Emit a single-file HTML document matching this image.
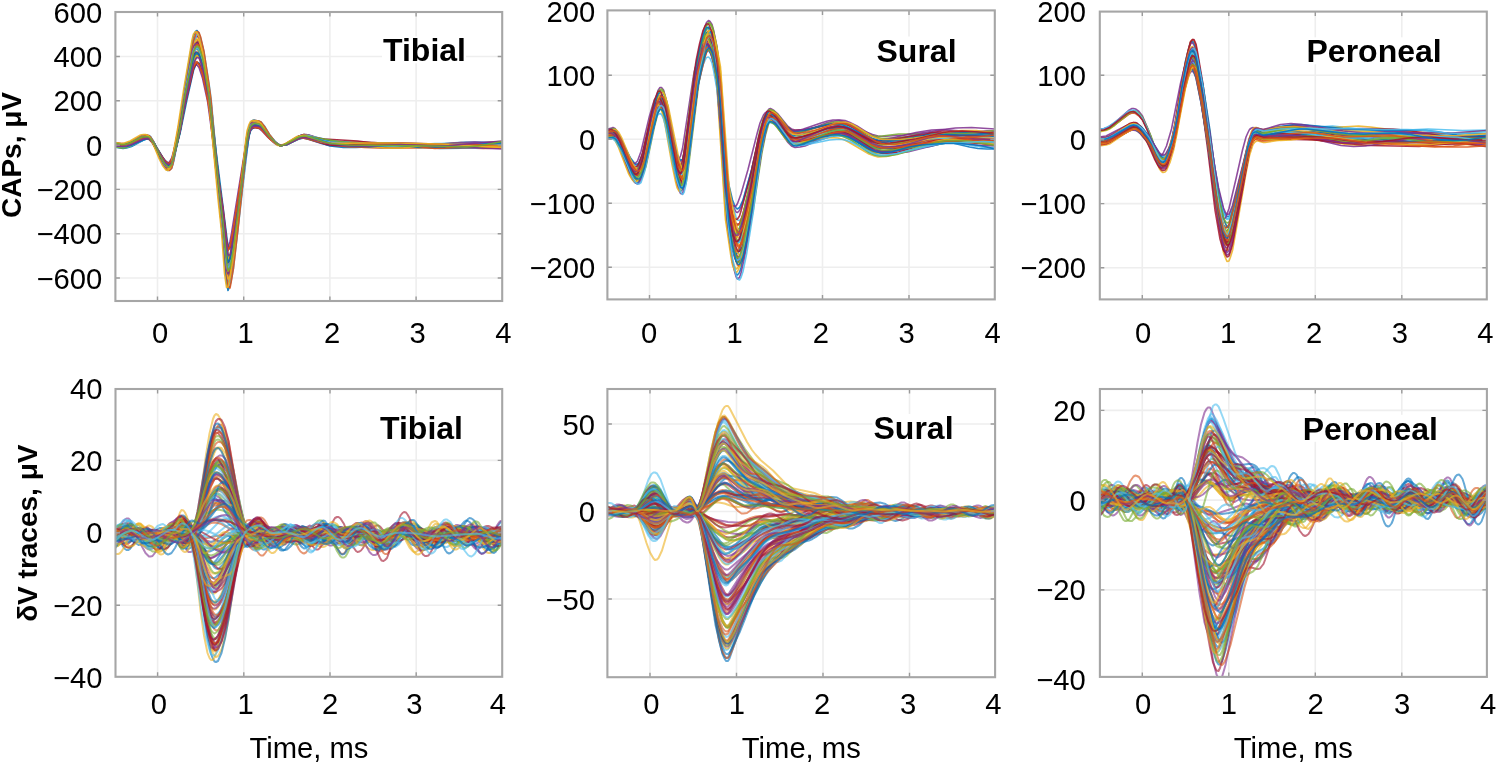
<!DOCTYPE html>
<html><head><meta charset="utf-8"><title>CAPs and dV traces</title>
<style>
html,body{margin:0;padding:0;background:#fff;}
svg{display:block;}
text{font-family:"Liberation Sans",Arial,Helvetica,sans-serif;font-size:29.2px;fill:#000;}
text.t{font-weight:bold;font-size:32px;}
text.yl{font-weight:bold;font-size:28px;}
text.xl{font-size:29.2px;}
</style></head><body>
<svg width="1496" height="762" viewBox="0 0 1496 762">
<rect width="1496" height="762" fill="#fff"/>
<path d="M157.5 12.0V301.0M243.7 12.0V301.0M329.9 12.0V301.0M416.1 12.0V301.0M115.4 56.5H502.2M115.4 100.8H502.2M115.4 145.1H502.2M115.4 189.4H502.2M115.4 233.7H502.2M115.4 278.0H502.2" stroke="#eeeeee" stroke-width="1.6" fill="none"/>
<clipPath id="c1"><rect x="115.4" y="12.0" width="386.8" height="289.0"/></clipPath>
<g clip-path="url(#c1)" fill="none" stroke-width="3.20" stroke-opacity="0.90" stroke-linejoin="round"><g transform="scale(0.5)">
<path stroke="#0072BD" d="M229 289l14 2 10 0 7-3 24-12 7-2 3 0 4 1 3 2 7 10 21 41 7 7 3 0 4-4 3-11 7-31 7-34 10-65 17-90 4-10 3-3 4 3 3 8 4 13 13 76 21 204 7 57 7 77 3 23 4-5 7-40 27-221 4-20 3-10 4-4 3-2 10 1 4 2 17 24 14 14 7 4 3 0 7-2 24-13 7-2 7-1 10 2 14 6 24 8 21 2 35 0 79-4 21 1 44 7 24 2 90-1 35-2"/>
<path stroke="#D95319" d="M229 289l14 3 6-1 11-4 24-12 7-1 3 0 4 2 7 9 17 35 7 11 3 3 4 1 3-2 4-8 3-13 10-51 14-84 14-72 3-12 4-6 3 0 4 7 7 26 10 59 3 26 31 307 4 30 3 5 4-12 3-22 31-244 4-14 3-6 4-3 3 0 10 2 7 8 11 15 10 11 7 6 7 3 10-2 24-14 11-3 10 2 28 11 17 4 69 6 27 1 69 0 76-1 66 2 38-1"/>
<path stroke="#EDB120" d="M229 286l14 2 6 0 11-3 24-12 7-2 3 1 4 1 7 9 17 35 7 12 3 4 4 3 3 0 4-6 3-12 7-32 7-35 10-67 14-75 3-14 4-9 3-3 4 5 3 9 4 14 13 80 18 175 10 92 7 78 3 17 4-8 7-43 27-225 4-18 3-8 4-5 3-1 4 1 6 1 4 2 17 24 14 14 7 4 3 0 7-2 28-15 10-2 7 1 31 11 14 3 72 0 107 8 86-2 80 3"/>
<path stroke="#7E2F8E" d="M229 288l14 2 6 0 11-3 21-8 6-2 7 0 4 2 7 7 17 27 7 9 3 3 4 1 3-2 4-7 3-10 10-40 14-66 14-57 3-10 4-4 3 0 4 5 7 21 10 46 3 21 35 265 3 5 4-10 3-16 31-193 4-11 3-5 4-2 3-1 10 2 7 6 11 12 10 9 7 5 7 2 10-2 24-11 11-2 10 2 28 9 17 4 62-1 62 3 52 0 93-4 76 3"/>
<path stroke="#77AC30" d="M229 291l14 2 6 0 11-4 27-12 7-1 4 1 3 3 7 10 14 26 7 11 3 4 4 2 3-1 4-6 3-12 7-30 7-34 10-61 14-70 3-13 4-7 3-1 4 4 7 23 7 35 6 42 18 163 10 87 7 70 3 13 4-9 7-42 27-209 4-15 3-7 4-4 3-1 7 1 3 1 4 3 17 22 14 13 7 3 10-2 28-15 10-2 7 1 17 5 24 5 59 3 52 8 20 1 45-1 90-6 83 2"/>
<path stroke="#4DBEEE" d="M229 291l14 3 6-1 11-3 27-13 7-1 4 1 3 3 7 10 14 27 7 11 3 4 4 2 3-1 4-7 3-12 7-31 7-34 10-63 14-71 3-13 4-7 3-1 4 5 7 23 7 36 6 43 18 167 10 88 7 71 3 13 4-10 7-43 27-213 4-15 3-7 4-4 3-1 7 1 3 1 4 3 17 23 14 13 7 3 10-2 28-15 10-2 7 2 41 13 14 2 21 2 48 1 83-2 127 6 25-1 31-3"/>
<path stroke="#A2142F" d="M229 285l14 2 6 0 11-3 24-13 7-1 3 0 4 2 7 9 17 37 7 13 3 5 4 2 3 0 4-6 3-12 7-34 7-37 10-70 14-80 3-15 4-10 3-2 4 4 3 10 4 14 13 84 18 185 10 96 7 84 3 19 4-8 7-45 27-238 4-19 3-9 4-5 3-1 4 0 6 1 4 3 17 25 14 15 7 4 3 0 7-2 28-17 10-3 7 1 34 10 14 2 21 2 65 1 76 6 76 1 76-2 28 1"/>
<path stroke="#0072BD" d="M229 294l17 3 7-1 10-3 28-15 7-1 3 2 7 8 17 33 7 11 4 3 3 2 4-4 3-8 3-14 11-50 10-65 17-92 4-11 3-6 4 1 3 7 7 28 10 58 4 28 17 174 7 59 7 74 3 29 4 3 3-14 4-21 10-79 17-144 4-22 3-12 4-6 3-3 4 0 6 1 4 2 7 7 10 15 10 12 7 6 7 2 11-3 24-13 10-3 10 2 38 15 24 3 42 0 72-2 52 0 59-2 100 3"/>
<path stroke="#D95319" d="M229 287l14 3 6-1 11-4 21-11 6-2 7 0 4 3 7 10 17 36 7 11 3 4 4 1 3-3 4-8 3-14 10-53 11-66 17-96 3-12 4-7 3 1 4 7 7 28 10 61 31 305 3 41 4 31 3 5 4-13 3-22 11-81 17-150 3-23 4-14 3-7 4-2 3-1 10 3 7 8 11 15 10 12 7 6 7 3 10-3 24-14 11-3 10 2 34 12 18 3 62-3 65 6 97 1 27-1 62-7 25-1"/>
<path stroke="#EDB120" d="M229 291l14 3 6-1 11-3 24-11 10-2 4 1 7 8 17 30 7 10 3 3 4 2 3-2 4-6 3-11 10-45 14-75 14-65 3-11 4-7 3 0 4 5 7 22 7 33 6 41 35 301 3 10 4-10 7-40 27-197 4-13 3-7 4-3 3 0 10 2 4 2 14 17 10 11 7 5 7 3 10-2 24-12 11-2 10 1 31 10 14 2 69-1 110 6 41 1 35-1 59-3 31-1"/>
<path stroke="#7E2F8E" d="M229 287l17 3 7-1 10-4 21-10 7-2 7 0 3 2 7 10 17 35 7 11 4 4 3 1 4-3 3-8 3-13 11-51 14-85 13-73 4-13 3-6 4 1 3 6 7 27 10 59 4 27 31 310 3 31 4 5 3-12 4-22 31-247 3-14 4-6 3-3 4-1 10 3 7 7 10 16 10 11 7 6 7 3 11-2 27-16 11-2 6 2 14 4 21 6 21 2 55 0 165 4 111-2"/>
<path stroke="#77AC30" d="M229 287l14 3 6-1 11-3 21-10 6-2 7 0 4 2 7 8 17 34 7 10 3 4 4 1 3-2 4-7 3-12 10-48 14-79 14-70 3-12 4-7 3 0 4 6 7 24 10 55 3 25 35 322 3 8 4-11 3-19 31-234 4-14 3-7 4-3 3 0 10 2 7 7 11 14 10 11 7 6 7 3 10-2 24-13 11-3 10 1 14 5 17 4 14 2 62 0 62 1 28 2 48 5 20 1 125-3"/>
<path stroke="#4DBEEE" d="M229 293l17 2 7 0 10-4 24-11 7-2 4 0 3 1 7 8 17 30 7 10 4 2 3 2 4-3 3-8 3-11 11-46 10-57 17-82 4-11 3-5 4 1 3 6 7 24 10 53 31 262 4 36 3 26 4 4 3-12 4-20 10-69 17-129 4-20 3-11 4-6 3-2 4 0 10 2 7 7 10 13 10 10 7 6 7 2 11-2 24-12 10-2 7 1 28 8 17 3 138 0 76 2 79-3 21 1 31 3"/>
<path stroke="#A2142F" d="M229 289l14 2 6 0 11-4 24-12 7-1 3 0 4 1 7 9 17 34 7 12 3 4 4 2 3-1 4-7 3-12 7-33 7-36 10-66 14-74 3-13 4-8 3-1 4 5 7 25 7 36 6 45 18 175 10 92 7 75 3 13 4-10 7-44 27-223 4-16 3-8 4-4 3-1 7 1 3 1 4 3 17 24 14 14 7 3 7-1 7-3 24-14 10-2 7 2 38 13 17 3 86 0 66 2 65-3 25-1 24 2 48 6 21 1"/>
<path stroke="#0072BD" d="M229 287l14 3 6 0 11-4 24-14 7-1 3 0 4 2 7 9 17 39 7 13 3 4 4 3 3-1 4-7 3-14 7-36 7-40 10-73 14-83 3-15 4-9 3-2 4 6 7 27 7 41 6 49 18 194 10 103 7 84 3 16 4-10 7-50 27-248 4-19 3-8 4-5 3-1 7 2 3 1 4 2 17 27 14 15 7 4 3 0 7-2 28-17 10-3 7 1 34 12 14 4 24 3 76 6 38 0 79-3 73 1 52-3"/>
<path stroke="#D95319" d="M229 289l14 2 6 0 11-3 24-10 10-1 4 1 7 7 17 28 7 10 3 3 4 1 3-1 4-6 3-9 7-27 7-29 10-54 14-60 3-11 4-6 3-1 4 4 7 21 7 30 6 37 18 142 10 75 7 60 3 10 4-8 7-37 27-181 4-13 3-6 4-3 3 0 7 1 3 0 4 3 17 19 14 11 7 3 10-2 21-10 7-2 7-1 10 2 28 8 17 3 62-1 103 5 90-3 24 2 45 4 21 0"/>
<path stroke="#EDB120" d="M229 289l17 2 7 0 10-4 24-10 7-2 4 1 3 2 7 8 17 31 7 9 4 3 3 1 4-2 3-8 3-11 11-46 10-57 17-82 4-10 3-5 4 1 3 6 7 24 10 52 31 261 4 36 3 26 4 4 3-12 4-19 10-70 17-128 4-20 3-11 4-6 3-2 4 0 10 2 7 7 10 13 10 10 7 6 7 2 11-2 27-14 11-2 44 9 56 3 75 6 45 0 111-4 62-1"/>
<path stroke="#7E2F8E" d="M229 286l17 3 7 0 10-5 21-11 7-2 7 1 3 2 7 11 17 38 7 12 4 3 3 1 4-3 3-10 3-15 11-55 10-70 17-99 4-12 3-6 4 2 3 8 7 30 10 64 21 219 7 63 7 81 3 30 4 2 3-16 11-80 20-185 4-23 3-13 4-6 3-3 10 1 4 2 7 9 10 16 10 12 7 7 4 2 3 0 11-3 27-17 11-2 6 1 28 9 14 3 31 4 48 4 55 0 62 3 38 1 28-1 55-5 28-1"/>
<path stroke="#77AC30" d="M229 293l14 3 6 0 11-4 27-14 7-2 4 2 3 2 7 10 14 28 7 11 3 4 4 2 3-1 4-6 3-12 7-32 7-36 10-65 14-73 3-14 4-8 3-1 4 5 7 24 7 36 6 45 18 172 10 91 7 75 3 14 4-10 7-44 27-221 4-16 3-7 4-4 3-1 7 1 3 1 4 2 17 24 14 14 7 3 10-2 28-15 10-2 7 2 17 5 21 6 27 3 76 2 83-1 100 5 66-1"/>
<path stroke="#4DBEEE" d="M229 286l17 3 7-1 10-4 21-11 7-2 7 0 3 2 7 11 17 38 7 12 4 4 3 1 4-2 3-8 3-14 11-55 14-91 13-80 4-13 3-7 4 0 3 6 7 29 10 63 4 28 34 368 4 8 3-13 4-22 31-267 3-16 4-7 3-4 4 0 10 2 7 8 10 17 10 12 7 7 7 3 11-2 27-17 11-2 6 1 35 12 14 3 110 7 41 0 83-7 31-2 31 0 42 2"/>
<path stroke="#A2142F" d="M229 288l14 2 10-1 7-2 24-12 7-2 7 1 3 3 7 10 21 40 7 7 3 1 4-4 3-10 7-30 7-34 10-64 17-89 4-11 3-4 4 2 3 8 4 13 13 74 21 201 7 57 7 75 3 24 4-1 3-16 4-23 27-219 4-20 3-10 4-5 3-2 10 1 4 2 3 3 14 19 10 11 7 6 7 2 11-3 24-14 10-3 7 1 17 4 24 5 80 10 27 3 52-1 107-8 83 1"/>
<path stroke="#0072BD" d="M229 291l17 2 7 0 10-3 24-10 7-2 4 0 3 2 7 6 17 28 7 9 4 3 3 1 4-2 3-7 3-10 11-41 14-68 13-58 4-10 3-5 4 0 3 5 7 22 10 47 4 21 34 272 4 5 3-10 4-17 31-198 3-11 4-5 3-2 4-1 10 2 7 6 10 13 10 9 7 5 7 2 11-2 24-11 10-2 10 2 42 14 27 3 25 0 86-4 96 3 69-2 42 0"/>
<path stroke="#D95319" d="M229 286l17 3 7-1 10-4 21-11 7-2 7 0 3 3 7 11 17 39 7 12 4 3 3 2 4-4 3-10 3-15 11-56 10-72 17-102 4-13 3-6 4 2 3 8 7 30 10 66 4 30 17 194 7 66 7 83 3 31 4 3 3-16 4-24 10-87 17-161 4-24 3-13 4-7 3-3 4 0 6 1 4 2 7 9 10 16 10 13 7 7 4 1 3 1 11-3 24-15 10-4 10 2 35 12 14 3 27 3 69 5 31 1 31-1 80-7 27-1 31 0 42 5"/>
<path stroke="#EDB120" d="M229 289l14 3 10-1 10-4 21-11 7-2 3-1 4 1 3 3 7 10 21 42 7 8 3 0 4-5 3-10 7-32 7-36 10-68 17-93 4-11 3-4 4 3 3 9 4 13 13 79 21 212 7 60 7 80 3 24 4-4 3-17 4-24 27-231 4-21 3-10 4-5 3-2 10 2 4 2 17 24 14 15 7 4 3 0 7-2 28-15 10-3 7 1 17 6 24 6 56 5 31 1 117 1 65 0 59 3 21 1"/>
<path stroke="#7E2F8E" d="M229 290l14 2 6 0 11-4 24-12 7-2 3 0 4 2 7 9 17 34 7 11 3 4 4 1 3-2 4-7 3-13 10-50 14-84 14-73 3-13 4-6 3 0 4 6 7 25 10 58 3 26 35 338 3 8 4-11 3-21 31-245 4-15 3-7 4-3 3 0 10 2 7 7 11 16 10 11 7 6 7 3 10-2 21-12 7-3 10-2 24 7 21 4 86 6 28 1 55 0 183 8"/>
<path stroke="#77AC30" d="M229 290l17 2 7-1 10-3 24-11 7-1 4 0 3 2 7 8 17 30 7 10 4 3 3 1 4-3 3-8 3-11 11-44 10-56 17-81 4-10 3-5 4 1 3 6 7 24 10 51 4 24 17 152 7 52 7 64 3 25 4 3 3-12 4-19 10-68 17-125 4-20 3-11 4-5 3-2 10 1 4 1 7 7 10 13 10 9 7 6 7 2 11-2 24-12 10-1 7 1 21 6 24 6 48 3 31 0 55-4 28-1 55 1 76 4 24-1 28-2"/>
<path stroke="#4DBEEE" d="M229 290l14 2 6 0 11-4 24-12 7-1 3 0 4 1 7 8 17 33 7 12 3 3 4 2 3-1 4-7 3-12 7-31 7-35 10-64 14-71 3-13 4-7 3-1 4 5 7 24 7 36 6 44 18 168 10 90 7 72 3 11 4-10 7-43 27-215 4-16 3-7 4-3 3-1 7 1 3 1 4 3 17 23 14 13 7 3 10-2 28-15 10-3 7 0 34 7 25 4 106 11 25 0 58-1 66 1 76-4"/>
<path stroke="#A2142F" d="M229 289l14 2 10-1 10-3 21-8 7-2 7 0 3 2 7 9 21 32 7 6 3 1 4-4 3-8 7-25 7-27 10-53 17-72 4-8 3-4 4 2 3 7 4 10 13 61 21 164 7 46 7 62 3 19 4-2 3-13 4-19 27-178 4-16 3-9 4-4 3-1 10 1 4 1 17 19 10 9 7 4 7 2 7-1 7-3 24-12 11-2 37 5 66 4 55 7 28 2 100 0 69-3 38 1"/>
<path stroke="#0072BD" d="M229 290l17 2 7 0 10-3 24-11 7-2 4 0 3 2 7 8 17 31 7 9 4 3 3 1 4-2 3-8 3-11 11-45 10-57 17-82 4-11 3-5 4 1 3 6 7 24 10 52 31 261 4 35 3 27 4 4 3-12 4-19 10-69 17-128 4-20 3-12 4-6 3-2 4 0 10 2 7 7 10 13 10 10 7 6 7 2 11-2 27-14 11-2 6 1 31 7 18 2 172 12 41 0 125-7"/>
<path stroke="#D95319" d="M229 288l14 3 10-1 10-4 21-10 7-2 7 0 3 3 7 9 17 35 7 10 4 3 3 1 4-4 3-9 3-14 11-50 10-64 17-89 4-11 3-5 4 2 3 7 7 28 10 58 21 200 7 58 7 74 3 26 4 0 3-14 11-73 20-169 4-20 3-12 4-5 3-2 10 1 4 1 3 4 14 19 10 11 7 6 7 2 11-3 24-13 10-2 10 2 42 14 20 3 21 2 31 0 42-6 17-1 17 1 41 7 21 2 21-1 65-7 21 0 28 1"/>
<path stroke="#EDB120" d="M229 286l14 2 6 0 11-3 24-10 10-1 4 1 3 3 7 9 14 26 7 11 7 6 3 0 4-5 6-22 11-45 10-58 11-50 6-28 4-9 3-2 4 3 3 8 4 12 13 67 18 152 10 79 7 69 3 18 4-6 7-37 27-196 4-16 3-8 4-4 3-1 4 0 6 2 4 1 17 21 14 12 7 4 10-2 24-11 7-3 7-1 7 1 17 5 24 4 114 12 35 0 62-7 27-1 21 0 55 5 35 2"/>
<path stroke="#7E2F8E" d="M229 290l14 2 10-1 7-2 27-13 7-1 4 1 3 2 7 9 21 39 7 7 3 0 4-4 3-9 7-30 7-32 10-63 17-85 4-10 3-4 4 3 3 7 4 12 13 73 21 193 7 55 7 73 3 23 4-3 3-15 4-22 27-211 4-19 3-10 4-5 3-2 10 1 4 2 3 4 14 18 10 11 7 5 7 2 11-3 24-13 10-2 10 2 14 5 28 9 27 2 69-1 90 1 103-7 56 2"/>
<path stroke="#77AC30" d="M229 288l14 3 10-1 10-3 21-10 7-2 7 1 3 2 7 9 21 37 7 7 3 0 4-4 3-9 7-28 7-31 10-59 17-82 4-10 3-3 4 2 3 8 4 11 13 69 21 185 7 53 7 70 3 21 4-2 3-15 4-21 27-202 4-18 3-10 4-4 3-2 10 1 4 2 17 21 10 10 7 5 7 2 11-3 27-14 11-2 65 11 69 7 28 2 169-2 62-3"/>
<path stroke="#4DBEEE" d="M229 289l14 2 10 0 7-3 24-11 7-2 3-1 4 1 3 3 7 9 21 39 7 7 3 0 4-4 3-10 7-30 7-32 10-63 17-85 4-9 3-4 4 3 3 8 4 13 13 72 21 194 7 55 7 73 3 21 4-4 7-38 27-211 4-19 3-9 4-4 3-2 10 1 4 2 17 23 14 13 7 4 3 0 7-1 28-15 10-3 7 1 21 6 24 5 100 8 31 0 79-5 93 0 42 1"/>
<path stroke="#A2142F" d="M229 288l14 2 6 0 11-4 21-9 6-2 7-1 4 2 7 8 17 32 7 10 3 4 4 1 3-1 4-6 3-11 7-29 7-33 10-60 14-67 3-12 4-7 3-1 4 5 7 22 7 34 6 40 18 159 10 83 7 68 3 11 4-9 7-40 27-202 4-14 3-7 4-4 3 0 7 1 3 1 4 2 17 21 14 13 7 3 10-2 24-12 11-3 10 2 38 13 14 2 17 0 65-4 56-1 103 3 97 3"/>
<path stroke="#0072BD" d="M229 287l14 2 6 0 11-3 24-11 7-1 3 0 4 1 7 8 17 31 7 11 3 4 4 2 3 0 4-6 3-10 7-29 7-31 10-60 14-67 3-13 4-8 3-2 4 4 7 21 13 71 18 157 10 82 7 70 3 15 4-7 7-39 27-201 4-16 3-7 4-4 3-1 4 0 6 2 4 2 17 21 14 13 7 3 10-2 28-14 10-3 10 2 45 13 21 3 21 2 41 0 79-3 76 2 104-5"/>
<path stroke="#D95319" d="M229 288l14 2 6 0 11-3 24-10 7-1 7 1 3 3 7 9 14 23 7 9 7 6 3-1 4-4 3-9 7-26 7-28 10-54 14-59 3-12 4-7 3-2 4 4 7 18 13 64 18 140 10 73 7 62 3 14 4-7 7-34 27-179 4-15 3-6 4-4 3-1 4 1 6 1 4 2 17 19 14 11 7 3 10-2 28-12 10-1 7 1 28 8 17 2 48 0 59 2 82 1 87-2 69 4"/>
<path stroke="#EDB120" d="M229 285l14 2 6-1 11-4 21-12 6-1 4 0 3 1 4 3 7 12 13 32 7 14 7 9 4 1 3-5 4-10 3-16 10-57 11-72 17-101 3-12 4-5 3 2 4 9 7 32 10 66 21 226 7 65 6 84 4 28 3-1 4-17 3-25 11-87 17-160 3-23 4-13 3-6 4-2 10 1 3 2 4 4 14 22 10 12 7 7 3 2 4 0 10-3 24-15 11-2 7 1 17 7 14 5 17 3 69-1 55 0 100 2 79 5 42-1"/>
<path stroke="#7E2F8E" d="M229 291l14 2 10-1 10-3 24-11 7-1 4 0 3 2 7 8 17 30 7 9 4 2 3 1 4-3 3-8 3-12 11-44 10-56 17-78 4-9 3-4 4 1 3 7 7 24 10 51 21 175 7 50 7 65 3 22 4 0 3-13 11-63 20-148 4-17 3-10 4-5 3-2 10 1 4 2 3 3 14 16 10 10 7 5 7 2 11-2 24-12 10-2 7 1 45 12 31 3 27 1 21 0 62-3 66 3 31-1 107-9"/>
<path stroke="#77AC30" d="M229 286l14 3 6 0 11-3 24-12 10-1 4 1 3 3 7 10 14 28 7 12 7 7 3 0 4-5 3-10 7-30 7-34 10-64 17-87 4-9 3-3 4 3 3 8 4 13 13 75 18 167 10 87 7 76 3 21 4-5 7-40 27-216 4-19 3-9 4-4 3-2 4 0 6 1 4 3 17 22 14 14 7 4 3 0 7-2 28-15 10-2 7 1 31 10 14 4 38 3 172 2 62 2 24-2 49-9"/>
</g></g>
<path d="M157.5 301.0v-4.5M157.5 12.0v4.5M243.7 301.0v-4.5M243.7 12.0v4.5M329.9 301.0v-4.5M329.9 12.0v4.5M416.1 301.0v-4.5M416.1 12.0v4.5M115.4 56.5h4.5M502.2 56.5h-4.5M115.4 100.8h4.5M502.2 100.8h-4.5M115.4 145.1h4.5M502.2 145.1h-4.5M115.4 189.4h4.5M502.2 189.4h-4.5M115.4 233.7h4.5M502.2 233.7h-4.5M115.4 278.0h4.5M502.2 278.0h-4.5" stroke="#9a9a9a" stroke-width="1.4" fill="none"/>
<rect x="115.4" y="12.0" width="386.8" height="289.0" fill="none" stroke="#a6a6a6" stroke-width="2.1"/>
<path d="M649.5 10.4V299.4M736.0 10.4V299.4M822.5 10.4V299.4M909.0 10.4V299.4M607.4 75.2H994.8M607.4 139.2H994.8M607.4 203.3H994.8M607.4 267.3H994.8" stroke="#eeeeee" stroke-width="1.6" fill="none"/>
<clipPath id="c2"><rect x="607.4" y="10.4" width="387.4" height="289.0"/></clipPath>
<g clip-path="url(#c2)" fill="none" stroke-width="3.20" stroke-opacity="0.85" stroke-linejoin="round"><g transform="scale(0.5)">
<path stroke="#0072BD" d="M1212 272l11-2 3 1 4 2 3 5 7 12 21 44 7 10 3 2 4 0 3-3 7-17 24-97 4-9 3-6 4-2 3 3 4 7 3 11 17 83 7 27 4 9 3 4 4-3 3-13 4-21 20-149 7-31 7-25 4-9 3-5 4-1 3 4 4 8 3 13 7 37 3 28 14 185 4 35 10 57 4 12 3 7 3 2 4-4 3-8 7-26 11-48 17-97 7-32 7-24 3-7 4-2 7 2 7 6 27 35 7 5 7 1 10-1 11-3 14-5 34-17 11-3 10-1 10 1 11 5 34 22 11 6 10 3 7 1 42 1 31-1 21-3 38-9 17-2 17 0 38 3 21 0"/>
<path stroke="#D95319" d="M1212 268l11-2 3 2 4 3 10 17 21 45 7 8 3 2 4 0 3-5 7-19 17-74 7-25 4-9 3-5 4-1 3 3 7 21 21 97 3 12 4 8 3 2 4-5 3-16 21-152 3-19 7-30 7-24 4-8 3-4 4 0 3 6 4 9 6 31 4 21 3 32 14 185 4 30 7 39 3 14 4 10 3 6 3 0 4-5 3-9 7-26 11-47 17-93 7-30 7-22 3-6 4-2 3 1 7 4 28 32 7 5 3 1 17-3 45-13 18-2 14-1 10 2 10 3 14 5 31 16 11 4 7 1 17 0 14-1 59-10 41-3 31 0 66 4"/>
<path stroke="#EDB120" d="M1212 271l7-1 4 0 3 3 4 4 7 14 17 46 7 15 7 9 3 2 4-2 3-7 7-25 17-86 7-28 4-8 3-5 4 2 3 7 7 28 14 82 7 35 3 13 4 8 3 0 4-11 3-22 21-183 3-20 7-35 7-28 4-8 3-3 4 2 3 8 4 14 6 41 4 28 14 221 3 49 4 30 7 45 3 17 4 11 3 5 3-2 4-8 7-29 14-79 14-98 6-41 7-31 4-11 3-5 4 0 7 4 7 8 20 28 7 6 4 2 7 1 17-1 14-4 38-13 10-2 11 0 10 3 10 6 32 23 10 6 10 5 7 1 14-1 17-3 76-18 25-4 17-1 52 1 31 2"/>
<path stroke="#7E2F8E" d="M1212 259l11-3 3-1 4 2 3 4 7 13 17 44 7 15 7 9 4 2 3-2 4-7 7-25 17-90 7-29 3-10 4-6 3 0 4 5 7 25 20 110 4 12 3 8 4 1 3-10 4-20 20-176 7-36 7-30 7-19 4-4 3 2 4 6 3 11 7 34 3 24 4 41 14 207 3 29 7 39 4 15 3 10 3 4 4-1 3-6 7-24 14-62 14-78 7-33 7-27 3-9 4-5 3-1 7 4 7 6 21 26 7 5 7 2 17-1 48-9 14-2 14 0 10 2 11 3 41 16 11 3 7 1 45-3 41-5 45-7 17-2 32-1 48 3"/>
<path stroke="#77AC30" d="M1212 274l18-1 3 1 4 4 10 19 21 50 7 10 3 2 4-1 3-5 7-20 17-80 7-27 4-9 3-5 4-1 3 5 7 24 21 110 3 13 4 8 3 3 4-7 3-17 21-170 3-22 7-34 7-27 4-9 3-4 4 1 3 7 3 12 7 37 4 25 3 38 14 209 4 34 7 45 3 17 3 11 4 6 3 0 4-7 7-26 14-76 17-112 7-35 7-25 3-6 4-2 3 1 7 5 28 36 7 5 3 2 10 0 11-2 48-15 11-2 10 0 10 3 11 6 31 23 10 6 11 5 7 1 7 0 13-2 80-18 24-4 21-3 21-1 17 0 17 2 28 5"/>
<path stroke="#4DBEEE" d="M1212 270l11-2 3 0 4 2 3 5 7 13 17 45 7 15 7 10 4 2 3-2 4-7 7-24 17-87 7-28 3-9 4-4 3 0 4 7 7 27 20 116 4 12 3 8 4 1 3-10 4-22 20-180 4-21 7-35 7-27 3-8 4-4 3 2 4 8 3 13 7 40 3 27 18 264 3 31 7 45 4 16 3 11 3 5 4-2 3-7 7-29 14-76 14-94 7-40 7-30 3-10 4-5 3 1 4 1 7 7 20 32 7 9 7 6 7 2 10-2 11-4 41-19 11-3 10-1 7 1 10 4 11 6 28 20 10 7 10 4 11 2 24-2 52-9 24-5 38-9 24-4 24 0 42 4"/>
<path stroke="#A2142F" d="M1212 271l11-2 3 1 4 2 3 4 7 12 17 42 7 15 7 9 4 1 3-1 4-6 7-23 17-81 7-26 3-8 4-4 3 0 4 6 7 26 20 109 4 11 3 8 4 1 3-10 4-20 20-169 4-20 7-32 7-26 3-8 4-3 3 2 4 7 3 12 7 38 3 25 18 249 3 29 7 42 4 16 3 10 3 5 4-2 3-7 7-27 14-72 14-89 7-38 7-29 3-9 4-5 3 0 7 4 7 8 24 34 7 7 7 2 10-1 11-4 45-22 10-4 11-1 7 1 10 3 45 26 10 4 11 2 27-1 35-2 59-10 17-2 66 0 24 1"/>
<path stroke="#0072BD" d="M1212 269l11-2 3 1 4 3 3 4 7 12 21 42 7 8 3 2 4 0 3-4 7-18 17-69 7-24 4-9 3-5 4-2 3 4 4 7 3 11 21 92 3 11 4 8 3 3 4-5 3-14 21-142 3-19 7-28 7-23 4-8 3-4 4 0 3 4 4 9 6 28 4 19 3 30 14 173 4 30 7 37 3 14 4 10 3 5 3 1 4-4 3-8 7-25 11-44 17-87 7-28 7-22 3-6 4-2 7 1 7 6 24 28 7 5 3 2 11 0 10-2 14-5 34-14 14-3 11 0 7 1 10 5 41 29 11 5 10 3 17 1 25-3 20-5 42-10 24-4 17 1 49 6 38 3"/>
<path stroke="#D95319" d="M1212 270l14-2 4 1 3 4 4 5 7 15 20 54 7 11 4 3 3 0 4-4 7-21 24-118 3-11 4-7 3-2 4 4 3 9 4 14 20 118 7 26 4 4 3-4 4-16 24-208 7-37 7-30 3-11 4-6 3 0 4 5 3 11 3 16 7 45 4 36 14 224 3 41 7 50 4 19 3 14 3 8 4 2 3-5 4-10 7-33 10-59 17-118 7-38 7-28 4-8 3-3 4 1 7 5 6 8 21 28 7 6 4 1 10 1 10-2 35-10 14-4 14-1 10 0 7 2 10 5 42 25 10 5 7 1 11 0 13-2 59-16 35-4 24-1 28 1 27 3 35 4"/>
<path stroke="#EDB120" d="M1212 270l18-2 3 2 4 4 7 12 20 47 7 11 4 3 3 1 4-2 3-6 4-9 7-27 13-63 7-24 4-8 3-4 4 1 3 6 7 25 14 70 7 31 3 11 4 6 3 1 4-11 3-19 21-160 3-17 7-30 7-24 4-7 3-2 4 2 3 7 3 12 7 36 4 23 17 234 4 25 7 38 3 14 3 9 4 4 3-2 4-7 7-26 14-66 13-82 7-34 7-26 4-9 3-4 4 0 3 1 7 6 28 37 7 6 3 1 10 0 14-4 14-5 35-15 10-3 11-2 10 1 10 4 11 5 31 20 10 5 7 1 14 1 17-2 66-15 31-3 17 0 21 2 59 8"/>
<path stroke="#7E2F8E" d="M1212 272l18-1 3 2 4 4 7 12 17 43 7 15 7 9 3 2 4-2 3-6 7-22 17-82 7-26 4-9 3-4 4 0 3 6 7 26 21 110 3 12 4 8 3 1 4-9 3-20 21-172 3-20 7-34 7-26 4-8 3-3 4 2 3 8 3 12 7 39 4 26 17 251 4 31 7 43 3 16 3 10 4 5 3-2 4-7 7-28 14-75 17-111 10-46 4-10 3-4 4-1 3 2 7 6 24 31 7 6 4 2 7 1 13-2 18-4 41-12 11-1 10 0 7 2 10 4 35 21 14 7 10 4 10 1 21 1 18-2 76-19 34-7 28-1 38 2"/>
<path stroke="#77AC30" d="M1212 260l14-3 4 1 3 4 7 12 17 44 7 15 7 10 4 1 3-1 4-6 7-23 17-89 7-30 3-10 4-6 3-1 4 4 7 24 20 109 4 13 3 9 4 2 3-8 4-19 20-174 4-20 7-33 7-27 3-8 4-5 3 1 4 6 3 10 7 33 3 23 4 38 14 208 3 31 7 41 7 26 3 5 4 0 3-5 7-23 14-63 21-113 7-27 3-10 4-6 3-1 7 3 7 7 21 26 7 6 7 3 17-1 45-13 14-2 10-1 11 1 6 2 42 18 10 3 11 2 41-5 49 0 48-3 66 0 31 2"/>
<path stroke="#4DBEEE" d="M1212 266l11-2 3 2 4 3 7 13 24 60 7 10 3 2 4-1 3-5 7-23 17-86 7-30 4-10 3-6 4-1 3 4 7 25 21 114 3 13 4 9 3 3 4-7 3-19 21-177 3-23 7-34 7-29 4-9 3-4 4 0 3 6 4 12 6 36 4 24 3 39 14 216 4 34 7 45 3 17 4 12 3 6 3 0 4-5 3-11 7-32 11-54 17-109 7-34 7-26 3-6 4-2 3 1 7 5 24 30 7 6 7 3 14 0 10-2 49-13 10-1 11-1 7 1 10 4 41 24 11 4 7 1 20-1 87-12 17-2 18 1 34 8 17 2 18 1 24 0"/>
<path stroke="#A2142F" d="M1212 275l11-2 3 2 4 3 3 4 7 14 21 48 7 10 3 3 4 0 3-4 7-18 17-76 7-27 4-10 3-6 4-1 3 3 4 9 3 13 21 107 7 22 3 5 4-4 3-15 24-185 7-34 7-28 4-9 3-6 4-1 3 5 4 10 3 15 7 42 3 33 14 202 4 38 7 46 3 18 4 13 3 8 3 2 4-5 3-9 7-30 11-56 17-111 7-36 7-27 3-8 4-3 3 1 7 4 7 7 21 26 7 5 3 2 11 1 13-1 14-3 38-13 11-1 10 0 7 1 10 5 38 25 11 5 7 1 7 1 10-2 38-11 21-4 69-9 38-3 17 0 18 2 17 5"/>
<path stroke="#0072BD" d="M1212 268l11-2 3 2 4 4 7 12 17 44 7 15 7 10 3 2 4-2 3-6 7-23 17-85 7-28 4-9 3-5 4 0 3 5 7 26 21 112 3 12 4 8 3 2 4-9 3-20 21-175 3-20 7-34 7-27 4-8 3-4 4 1 3 7 4 12 6 37 4 25 3 42 14 212 4 31 7 44 3 16 4 11 3 5 3-1 4-6 7-27 14-71 14-89 6-38 7-30 4-10 3-6 4 0 7 3 7 8 20 28 7 6 7 3 17-2 49-13 21-3 10 1 10 3 11 6 34 21 11 4 10 2 14-1 17-2 18-5 41-14 14-3 14-1 21-1 24 2 69 10"/>
<path stroke="#D95319" d="M1212 270l7-1 4 0 3 2 4 4 7 12 17 42 7 13 7 9 3 1 4-1 3-6 7-22 17-79 7-26 4-8 3-4 4 1 3 6 7 25 21 105 3 12 4 7 3 1 4-10 3-20 21-164 3-18 7-32 7-25 4-8 3-3 4 2 3 8 4 11 6 37 4 24 14 197 3 44 4 27 7 41 3 15 4 10 3 5 3-2 4-7 7-25 14-70 14-86 6-36 7-28 4-9 3-5 4 0 3 1 7 6 24 34 7 7 7 5 7 1 10-1 11-2 45-16 17-4 7 1 10 3 11 5 34 21 11 5 10 1 28-3 52-12 27-5 52-8 18-1 17-1 17 2 21 3"/>
<path stroke="#EDB120" d="M1212 268l18-2 3 1 4 4 7 13 17 44 7 16 7 10 3 2 4-2 3-5 7-23 17-87 7-29 4-9 3-6 4 0 3 5 7 25 21 114 3 13 4 9 3 2 4-8 3-20 21-178 3-21 7-35 7-28 4-9 3-4 4 2 3 6 3 12 7 38 4 25 3 41 14 216 4 33 7 44 3 17 3 11 4 6 3-1 4-6 7-26 14-73 13-90 7-39 7-30 4-11 3-5 4-1 7 4 6 7 21 29 7 6 7 4 10-1 11-3 34-14 14-5 11-2 10-1 7 1 10 3 42 22 10 3 11 2 65-3 70-7 93 2"/>
<path stroke="#7E2F8E" d="M1212 261l11-2 3 0 4 2 3 4 7 12 21 42 7 9 3 2 4 0 3-4 7-17 24-99 4-10 3-6 4-3 3 2 4 7 3 10 21 90 7 19 3 4 4-3 3-13 24-162 14-49 4-8 3-5 4-1 3 4 4 7 6 25 4 17 3 26 14 169 4 31 3 19 7 29 4 9 3 6 3 1 4-4 3-7 7-22 14-51 14-63 7-25 7-18 3-6 4-2 3 1 7 4 28 30 7 5 3 1 7 0 10-3 52-20 14-3 11-2 10 1 10 4 14 7 31 20 11 4 10 2 14 0 14-1 52-10 17-2 21 0 41 2 14-1 35-4 17 0"/>
<path stroke="#77AC30" d="M1212 262l14-3 4 1 3 4 7 13 17 44 7 15 7 10 4 2 3-1 4-6 7-24 17-88 7-30 3-10 4-7 3-1 4 5 7 24 20 112 4 13 3 9 4 2 3-8 4-19 20-177 4-21 7-33 7-27 3-9 4-5 3 1 4 6 3 11 7 35 3 23 4 39 14 212 3 32 7 43 4 15 3 11 3 6 4 0 3-6 7-24 14-66 21-118 7-29 3-11 4-6 3-1 7 3 7 7 21 27 7 6 7 2 10-1 10-2 49-16 10-2 11-1 7 1 10 3 10 5 35 20 10 3 11 2 124-7 56 1 48-3"/>
<path stroke="#4DBEEE" d="M1212 264l11-3 3 0 4 3 3 4 7 14 21 52 7 11 3 3 4 1 3-3 4-8 3-11 21-102 7-27 3-8 4-4 3 2 4 7 7 28 13 77 7 32 4 11 3 6 4-1 3-13 4-24 20-174 14-63 4-11 3-7 4-2 3 4 4 8 3 13 7 39 3 28 4 46 14 205 10 64 4 14 3 8 3 3 4-3 3-8 7-27 14-68 14-84 7-34 7-26 3-8 4-3 3 0 7 5 7 8 21 28 7 7 7 3 13 0 18-2 55-14 11-1 10 0 10 3 42 18 14 3 27 0 49-6 52 0 45-6 13-2 18 1 24 3"/>
<path stroke="#A2142F" d="M1212 273l14-1 4 1 3 3 4 4 7 13 20 46 7 9 4 3 3 0 4-3 7-17 24-99 3-10 4-6 3-2 4 3 3 8 4 12 20 101 7 22 4 4 3-3 4-14 24-176 7-32 7-26 3-9 4-6 3 0 4 4 3 10 3 13 7 40 4 30 14 191 3 37 7 43 4 16 3 12 3 8 4 1 3-4 4-9 7-28 10-52 17-103 7-33 7-24 4-8 3-2 4 0 7 4 6 7 21 26 7 5 4 1 7 1 13-3 56-16 10-1 11 0 10 3 10 5 42 29 10 4 7 2 14 0 17-3 18-5 41-15 14-3 10-1 18 0 45 6 48 4"/>
<path stroke="#0072BD" d="M1212 273l11-2 3 2 4 3 3 6 7 15 21 54 7 12 3 3 4 0 3-4 7-21 17-87 7-30 4-11 3-7 4-2 3 4 4 9 3 15 21 120 7 26 3 5 4-4 3-17 24-210 7-37 7-32 4-11 3-6 4-1 3 6 4 11 3 16 7 47 3 37 14 229 4 42 7 52 3 20 4 14 3 9 3 2 4-5 3-10 7-34 11-62 17-124 7-40 7-29 3-9 4-3 7 4 7 7 20 31 7 8 7 5 4 1 10 1 10-2 49-15 10-2 11-1 7 1 10 3 41 22 11 4 10 2 17-1 25-3 59-13 20-2 21 1 38 9 17 3 18 1 17 0"/>
<path stroke="#D95319" d="M1212 268l14-2 4 1 3 3 4 4 7 14 20 49 7 11 4 2 3 0 4-4 7-20 17-81 7-29 3-10 4-6 3-2 4 3 3 9 4 12 20 108 7 22 4 4 3-4 4-16 24-189 7-33 7-27 3-10 4-5 3 0 4 5 3 9 7 33 3 22 4 33 14 203 3 36 7 44 4 17 3 12 3 7 4 2 3-5 4-9 7-29 10-51 17-103 7-34 7-26 4-7 3-3 4 1 7 4 6 8 21 28 7 6 7 3 10 0 11-2 45-17 10-2 11-1 7 1 10 3 10 6 35 23 10 4 11 3 17-1 24-2 73-11 24-3 45-1 45 3"/>
<path stroke="#EDB120" d="M1212 265l14-3 4 1 3 3 4 5 7 13 20 49 7 10 4 2 3 0 4-4 7-20 17-82 7-28 3-10 4-7 3-2 4 3 3 8 4 13 20 104 7 23 4 3 3-4 4-16 24-185 7-32 7-26 3-10 4-5 3 0 4 4 3 9 7 31 3 22 4 32 14 198 3 34 7 43 4 15 3 12 3 7 4 1 3-4 4-9 7-27 10-48 17-97 7-31 7-24 4-7 3-2 4 0 7 5 27 32 7 5 4 1 7 0 10-2 38-11 14-3 14-2 10 1 10 2 11 4 31 19 14 7 10 3 7 1 21 0 17-1 52-11 24-3 76-6 35-1"/>
<path stroke="#7E2F8E" d="M1212 276l11-2 3 1 4 2 3 5 7 14 21 54 7 13 3 3 4 2 3-2 4-7 3-11 7-29 14-70 7-27 3-8 4-4 3 1 4 8 7 29 13 84 7 36 4 12 3 7 4 1 3-12 4-23 20-185 4-20 7-36 7-28 3-8 4-3 3 3 4 9 3 15 7 44 3 29 18 275 10 77 4 17 3 11 3 5 4-3 3-9 7-31 14-85 14-102 7-43 7-32 3-9 4-5 3 1 7 5 7 9 21 31 7 7 7 3 10-1 10-2 49-21 10-4 11-1 7 1 10 3 10 6 31 20 11 5 10 3 14 0 21-3 17-3 42-11 24-4 21 1 58 7 35 1"/>
<path stroke="#77AC30" d="M1212 269l11-3 3 0 4 3 3 4 7 14 17 46 7 15 7 10 4 2 3-2 4-6 7-25 17-90 7-28 3-10 4-5 3 1 4 6 7 28 20 118 4 13 3 8 4 1 3-10 4-22 20-185 4-21 7-36 7-28 3-8 4-4 3 2 4 8 3 13 7 41 3 27 18 269 3 31 7 46 4 17 3 11 3 5 4-1 3-8 7-29 14-77 14-94 7-40 7-31 3-10 4-5 3 0 4 1 7 7 27 41 7 6 7 2 10-2 11-2 45-19 10-3 11-1 10 2 10 4 42 26 10 5 11 3 20 0 25-3 31-4 41-8 14-1 59 1 38-2"/>
<path stroke="#4DBEEE" d="M1212 264l14-2 4 0 3 3 4 4 7 12 20 43 7 8 4 2 3 0 4-4 7-18 24-98 3-9 4-6 3-2 4 3 3 7 4 10 20 92 7 20 4 3 3-4 4-14 24-162 7-28 7-23 3-8 4-5 3 0 4 3 3 8 7 26 3 18 4 28 14 173 3 30 7 37 4 13 3 10 3 6 4 1 3-3 4-7 7-23 10-40 17-82 7-27 7-21 4-6 3-2 4 1 7 5 6 7 21 28 7 6 7 3 10-1 11-3 48-21 11-3 10-1 7 1 10 3 45 22 11 4 10 2 21 1 17-1 17-3 39-8 20-2 18 0 45 4 48-1"/>
<path stroke="#A2142F" d="M1212 263l11-3 3 0 4 3 3 3 7 12 21 46 7 10 3 3 4 1 3-3 4-7 3-11 21-91 7-24 3-7 4-4 3 1 4 7 7 24 13 68 7 28 4 10 3 5 4-1 3-12 4-21 20-154 14-55 4-9 3-6 4-2 3 3 4 7 3 12 7 32 3 25 18 220 10 55 4 12 3 7 3 2 4-2 3-7 4-11 17-70 17-86 11-37 3-8 4-3 7 0 7 5 24 25 7 5 3 1 24-1 52-12 11-2 10 0 7 1 10 5 11 6 31 21 10 5 11 3 17 0 17-2 18-5 45-14 24-4 17 0 90 6"/>
<path stroke="#0072BD" d="M1212 262l11-3 3 0 4 2 3 4 7 10 21 41 7 9 3 3 4 0 3-3 7-16 21-83 7-22 3-6 4-4 3 2 4 5 7 22 13 60 7 25 4 8 3 4 4-1 3-11 4-19 20-136 14-49 4-8 3-5 4-1 3 3 4 6 3 10 7 28 3 22 18 194 3 18 7 29 4 10 3 6 3 2 4-3 7-15 17-60 17-73 11-31 3-6 4-3 7 0 7 4 24 25 7 5 3 1 4 1 17-2 48-12 11-1 10 0 7 1 10 4 42 25 10 4 11 3 7 0 10-1 42-8 20-3 80-7 31-1 45 4"/>
<path stroke="#D95319" d="M1212 267l11-2 3 0 4 3 3 4 7 12 21 42 7 9 3 2 4 0 3-4 7-17 24-96 4-9 3-6 4-2 3 3 4 7 3 11 21 92 7 19 3 3 4-4 3-13 24-162 7-28 7-23 4-8 3-5 4 0 3 4 4 8 6 27 4 19 3 28 14 173 4 30 7 37 3 14 4 10 3 5 3 1 4-3 3-8 7-24 11-42 17-85 7-27 7-21 3-6 4-2 7 3 7 6 20 26 7 8 7 4 4 0 7 0 13-3 56-19 17-2 7 0 10 3 42 19 10 3 7 1 59-4 62-7 21-1 28 2 41 7 21 3"/>
<path stroke="#EDB120" d="M1212 274l7-1 4 1 3 3 4 4 7 14 20 52 7 12 4 4 3 1 4-2 3-7 4-11 7-29 13-68 7-26 4-7 3-4 4 2 3 8 7 29 14 80 7 34 3 12 4 7 3 0 4-13 3-22 18-150 3-28 3-19 7-35 7-26 4-8 3-3 4 3 3 9 7 33 7 53 17 264 11 74 3 16 4 11 3 4 3-2 4-9 7-29 14-81 14-98 6-41 7-32 4-10 3-4 4 0 7 4 7 8 20 28 7 6 4 2 3 1 11-2 34-8 14-2 17-1 14 1 11 3 10 5 41 24 11 4 7 2 17-1 21-5 31-9 45-16 21-4 20 0 80 10"/>
<path stroke="#7E2F8E" d="M1212 260l7-2 4 1 3 3 4 4 7 11 20 41 7 7 4 2 3-1 4-4 7-19 17-71 7-24 3-9 4-5 3-2 4 3 7 19 20 85 4 10 3 7 4 2 3-6 4-15 21-139 3-17 10-36 7-16 4-3 3 1 4 5 3 9 7 26 3 18 4 28 14 163 3 25 7 31 4 10 3 8 4 3 3-1 3-5 7-19 14-49 18-71 6-22 7-16 4-5 3-1 7 2 7 5 24 25 7 5 4 1 14-1 10-3 35-12 13-4 11-2 10 0 11 3 10 5 31 22 10 6 11 4 7 1 20-3 56-13 31-5 21-1 41 3 66 1"/>
<path stroke="#77AC30" d="M1212 264l7-2 4 1 3 2 4 5 7 12 20 48 7 10 4 2 3 1 4-4 7-18 24-108 3-10 4-7 3-3 4 2 3 7 4 12 17 86 7 29 3 9 4 5 3-3 4-14 3-22 21-160 14-57 3-9 4-6 3-1 4 4 3 9 4 13 6 36 4 29 14 192 3 37 4 22 7 34 3 12 4 7 3 2 3-4 4-9 7-26 14-63 14-76 6-31 7-23 4-6 3-3 4 1 7 5 7 7 20 26 7 6 4 2 10 1 14-2 17-5 35-13 10-3 11 0 7 2 10 5 38 25 10 5 7 1 11 0 58-7 18-4 27-8 14-3 14-1 38 0 59-6"/>
<path stroke="#4DBEEE" d="M1212 278l11-1 3 1 4 3 3 4 7 12 21 45 7 10 3 3 4 0 3-2 4-7 3-9 24-94 4-9 3-5 4-2 3 2 4 8 3 11 17 85 7 28 4 10 3 4 4-2 3-12 4-20 20-152 14-59 4-9 3-6 4-1 3 3 4 9 3 14 7 39 3 29 4 43 10 146 4 37 3 25 7 38 4 13 3 8 3 3 4-3 3-9 4-12 14-69 20-127 11-44 3-8 4-4 7 1 7 4 24 27 7 6 3 2 14 2 14-1 14-2 34-11 11-2 10 1 7 2 10 5 38 26 11 5 10 2 11 0 17-3 76-18 31-5 24 1 49 8 24 0"/>
<path stroke="#A2142F" d="M1212 263l11-2 3 2 4 3 7 11 17 36 7 13 7 7 3 1 4-2 3-5 7-21 17-73 7-24 4-7 3-5 4 0 3 5 7 21 21 91 3 10 4 6 3 1 4-9 3-18 21-145 14-54 3-9 4-7 3-2 4 2 3 6 4 10 6 30 4 20 17 207 4 22 7 33 3 11 4 8 3 3 3-1 4-6 3-10 18-66 17-81 10-34 4-8 3-3 4 0 3 1 7 5 28 34 7 5 3 1 7 0 10-2 49-18 14-3 10-1 7 1 10 3 42 21 10 4 11 1 20-1 42-8 21-3 72 0 52 2 28-1"/>
<path stroke="#0072BD" d="M1212 263l11-2 3 1 4 3 3 5 7 14 21 51 7 10 3 3 4 0 3-5 7-21 24-116 4-11 3-7 4-2 3 3 4 9 3 13 21 110 7 23 3 4 4-5 3-16 24-195 7-34 7-27 4-10 3-6 4 0 3 5 4 10 6 32 4 22 3 33 14 208 4 37 7 44 3 17 4 12 3 7 3 1 4-4 3-10 7-28 11-50 17-101 7-33 7-23 3-7 4-2 3 1 7 6 21 27 7 7 7 5 3 1 14-2 55-13 25-3 10 1 10 2 14 6 31 14 11 3 7 1 24 0 17-1 17-3 32-7 20-2 45 2 42-1 31 4"/>
<path stroke="#D95319" d="M1212 272l14-2 4 1 3 3 4 4 7 12 20 45 7 10 4 3 3 0 4-2 3-7 4-10 24-98 3-10 4-6 3-3 4 3 3 7 4 11 17 83 7 29 3 9 4 5 3-2 4-12 3-21 21-153 14-57 3-9 4-6 3-1 4 3 3 9 3 13 7 36 4 27 17 225 11 59 3 12 3 8 4 2 3-3 4-8 3-12 14-64 17-99 7-33 7-26 4-8 3-4 7 1 7 4 7 7 17 22 7 6 7 4 7 1 10 0 14-1 45-14 18-2 6 0 11 4 10 5 31 18 11 4 10 2 31-2 66-9 35-3 51-3 42 2"/>
<path stroke="#EDB120" d="M1212 262l4 0 10-3 4 0 3 1 4 4 7 13 17 41 7 14 7 8 3 2 4-3 3-6 7-24 17-84 7-27 4-9 3-4 4 0 3 6 7 24 21 104 3 11 4 7 3 1 4-11 3-20 21-165 14-61 3-11 4-7 3-3 4 1 3 7 3 11 7 33 4 22 17 238 4 24 7 38 3 13 3 10 4 4 3-1 4-6 7-24 14-60 13-76 7-32 7-25 4-9 3-5 4 0 7 4 6 7 21 27 7 6 7 3 14-1 14-3 48-19 11-2 7-1 6 1 11 3 41 25 11 4 10 2 35 0 27-3 21-3 45-9 28-3 31 0 38 5"/>
<path stroke="#7E2F8E" d="M1212 267l11-1 3 2 4 3 7 11 17 39 7 13 7 8 3 1 4-1 3-6 7-21 17-76 7-24 4-8 3-4 4 0 3 6 7 22 21 98 3 11 4 6 3 1 4-9 3-19 21-153 3-17 7-29 7-23 4-7 3-3 4 2 3 7 4 10 6 33 4 22 14 182 3 41 4 25 7 36 3 14 4 8 3 4 3-1 4-6 7-24 14-61 14-76 6-32 7-24 4-8 3-4 4 0 7 4 7 7 20 28 7 6 7 3 7 0 10-4 35-16 14-6 14-4 10-1 11 2 10 4 48 29 11 4 10 2 21 0 17-2 14-3 38-12 24-4 18 0 51 6 42 1"/>
<path stroke="#77AC30" d="M1212 275l11-1 3 0 4 3 3 4 7 12 21 47 7 11 3 3 4 1 3-3 4-6 3-9 7-27 14-60 7-23 3-7 4-3 3 2 4 7 7 26 13 72 7 30 4 11 3 5 4 0 3-12 4-20 20-159 14-61 4-10 3-7 4-2 3 3 4 8 3 13 7 39 3 27 4 43 14 193 10 64 4 14 3 9 3 4 4-3 3-8 4-12 14-69 17-107 7-36 7-26 3-8 4-4 3 1 7 4 7 8 21 27 7 6 3 1 7 0 7-1 35-13 13-4 14-2 14 0 7 2 10 4 11 5 34 24 11 5 10 2 17 0 18-3 17-5 52-17 17-4 14-2 21 0 21 1 55 9"/>
<path stroke="#4DBEEE" d="M1212 276l14-1 4 1 3 3 4 6 7 15 20 53 7 12 4 3 3 0 4-3 7-21 24-114 3-11 4-7 3-1 4 4 3 9 4 15 20 120 7 25 4 5 3-4 4-16 24-209 7-38 7-31 3-11 4-6 3-1 4 6 3 12 3 17 7 48 4 36 14 228 3 43 7 53 4 19 3 15 3 8 4 2 3-5 4-12 7-34 14-88 13-103 7-40 7-30 4-8 3-3 4 1 7 5 6 8 21 30 7 7 4 2 7 1 13-1 49-10 14-1 10 0 7 1 10 3 42 22 10 4 7 1 11 0 24-3 62-16 24-4 87-4 24 1"/>
<path stroke="#A2142F" d="M1212 262l11-3 3 2 4 3 3 6 7 14 14 37 7 15 7 11 3 2 4-2 3-5 7-23 17-89 7-30 4-10 3-7 4-1 3 4 7 24 21 112 3 14 4 8 3 3 4-7 3-19 21-177 3-22 7-34 7-27 4-9 3-4 4 0 3 6 4 11 6 35 4 24 3 37 14 213 4 33 7 43 3 16 4 11 3 6 3 0 4-6 7-25 14-66 20-119 7-28 4-10 3-6 4-1 7 4 7 8 17 25 7 9 7 6 7 2 17-3 48-16 21-4 11 1 10 3 10 5 35 21 10 3 7 1 21-1 52-8 55-13 14-2 24-1 66 4"/>
<path stroke="#0072BD" d="M1212 276l14-1 4 2 3 3 11 19 20 47 7 10 4 2 3 0 4-4 7-19 17-75 7-26 3-9 4-6 3 0 4 4 7 22 20 107 4 13 3 9 4 3 3-5 4-16 24-185 7-34 7-27 3-9 4-5 3 1 4 6 3 11 7 35 3 24 4 36 14 203 3 35 7 46 4 16 3 13 3 6 4 1 3-6 4-10 7-32 10-57 17-113 7-35 7-25 4-6 3-2 4 1 7 5 27 36 7 6 4 1 3 0 10-3 32-12 13-4 14-3 14-1 11 2 10 3 14 7 34 20 11 4 7 1 20-2 35-10 17-3 18-2 38-2 27 0 25 2 17 2 31 7"/>
<path stroke="#D95319" d="M1212 265l14-3 4 1 3 2 4 5 7 13 20 47 7 10 4 2 3 0 4-4 7-19 24-107 3-10 4-7 3-2 4 2 3 8 4 12 20 101 7 22 4 4 3-4 4-15 24-179 7-31 7-26 3-9 4-5 3 0 4 4 3 8 7 29 3 20 4 30 14 191 3 35 7 41 4 15 3 11 3 7 4 2 3-4 4-8 7-26 14-62 13-76 7-30 7-24 4-7 3-3 4 0 7 4 6 7 21 23 7 5 4 1 10 0 14-2 17-4 35-11 10-2 11 0 10 2 10 5 35 23 10 6 11 4 7 1 17 1 17-2 49-12 17-3 17 0 31 3 18 1 17-2 38-4"/>
</g></g>
<path d="M649.5 299.4v-4.5M649.5 10.4v4.5M736.0 299.4v-4.5M736.0 10.4v4.5M822.5 299.4v-4.5M822.5 10.4v4.5M909.0 299.4v-4.5M909.0 10.4v4.5M607.4 75.2h4.5M994.8 75.2h-4.5M607.4 139.2h4.5M994.8 139.2h-4.5M607.4 203.3h4.5M994.8 203.3h-4.5M607.4 267.3h4.5M994.8 267.3h-4.5" stroke="#9a9a9a" stroke-width="1.4" fill="none"/>
<rect x="607.4" y="10.4" width="387.4" height="289.0" fill="none" stroke="#a6a6a6" stroke-width="2.1"/>
<path d="M1142.3 11.6V299.4M1228.8 11.6V299.4M1315.3 11.6V299.4M1401.8 11.6V299.4M1099.8 75.3H1486.8M1099.8 139.5H1486.8M1099.8 203.6H1486.8M1099.8 267.7H1486.8" stroke="#eeeeee" stroke-width="1.6" fill="none"/>
<clipPath id="c3"><rect x="1099.8" y="11.6" width="387.0" height="287.8"/></clipPath>
<g clip-path="url(#c3)" fill="none" stroke-width="3.20" stroke-opacity="0.85" stroke-linejoin="round"><g transform="scale(0.5)">
<path stroke="#0072BD" d="M2198 262l10-2 7-2 11-6 31-24 7-3 7 0 7 5 7 9 13 28 14 36 7 14 4 4 3 1 4-2 3-4 3-6 11-33 21-109 7-27 3-10 3-6 4-1 3 5 4 11 10 54 14 90 14 102 7 38 7 30 3 10 4 6 3 1 4-6 7-25 31-143 7-20 3-5 4-2 3 0 10 3 25-3 17 0 100 4 31 3 52 7 21 2 28-1 59-10 27-2 28 0 66 5"/>
<path stroke="#D95319" d="M2198 261l10-1 7-2 11-6 31-23 7-3 7 1 7 5 7 8 13 27 14 35 7 13 4 4 3 0 4-1 6-11 11-33 17-91 7-31 7-21 3-6 4-1 3 6 4 11 10 53 14 88 10 77 7 43 11 46 3 10 4 6 3 0 4-6 3-11 14-58 21-96 7-18 3-5 4-2 3 0 10 2 25-4 17-1 55 7 73 2 59 7 20 2 25 0 41-4 21-1 59 3 59 2"/>
<path stroke="#EDB120" d="M2198 264l14-3 7-3 10-7 31-26 7-3 4 1 3 1 4 3 7 8 10 22 7 17 10 30 7 17 4 6 3 3 4 0 3-3 3-6 11-34 7-35 14-88 7-35 6-23 4-5 3 1 4 9 3 15 11 64 14 105 10 90 7 49 10 52 4 10 3 5 4-2 3-9 4-14 13-70 14-78 7-33 4-11 3-8 4-4 3-1 3 1 11 3 48-8 14-1 14 0 21 4 55 14 14 2 17 1 24-1 49-8 21-2 27 1 52 6 21 1 21-1 52-4"/>
<path stroke="#7E2F8E" d="M2198 258l10-1 7-2 11-7 31-27 7-4 3 0 4 1 7 5 7 9 13 31 14 40 7 16 4 5 3 1 4-2 3-4 3-8 7-24 7-33 14-91 7-39 7-28 3-8 4-3 3 5 4 12 10 62 14 106 14 121 7 46 7 36 3 13 4 8 3 2 4-6 7-28 31-168 7-24 3-6 4-3 3 0 10 3 4 0 34-8 28-2 24 1 28 3 41 8 21 4 49 5 31 2 111-1 83-4"/>
<path stroke="#77AC30" d="M2198 262l14-2 7-3 10-7 31-25 7-3 4 0 3 2 4 2 7 9 10 21 7 16 10 29 7 16 4 6 3 3 4 0 3-3 3-5 11-33 7-33 14-83 7-33 6-22 4-5 3 1 4 8 3 14 11 61 14 99 10 85 7 46 10 49 4 10 3 4 4-2 3-8 4-13 34-171 4-11 3-7 4-4 3-2 14 4 55-7 35 0 86 8 56 6 24 2 31-1 114-8 24 0 25 3"/>
<path stroke="#4DBEEE" d="M2198 258l10-1 11-5 21-15 13-12 7-4 7-1 4 1 7 7 7 9 10 21 14 38 7 16 3 6 4 2 3 0 4-3 6-13 7-24 7-33 14-82 7-33 7-21 3-5 4 1 3 9 4 14 10 60 14 98 10 84 7 45 11 48 3 9 4 4 3-2 4-9 3-13 14-64 14-73 7-29 3-10 4-7 3-3 4-1 10 5 7 0 17-3 35-9 14-2 13 0 38 3 59 12 24 3 63 1 59 4 31 1 48 0 49-1"/>
<path stroke="#A2142F" d="M2198 261l10-1 11-5 34-27 7-4 7-1 4 2 7 6 7 9 10 21 21 53 3 6 4 3 3-1 4-2 6-13 7-24 7-32 14-82 7-33 7-21 3-5 4 1 3 8 4 15 10 59 14 98 10 83 7 45 11 48 3 10 4 4 3-2 4-9 3-13 14-64 14-72 7-30 3-11 4-7 3-4 4-1 10 4 7 1 52-9 20-1 21 1 49 6 20 2 21-1 38-2 21 0 31 3 62 11 38 2 21-1 18-1 17-4 21-5"/>
<path stroke="#0072BD" d="M2198 278l10-1 7-2 11-5 34-22 7-2 4 1 3 1 7 6 14 19 7 12 10 25 7 12 4 3 3 0 4-3 6-14 11-39 7-38 10-69 7-40 7-28 3-9 4-3 3 3 4 12 10 60 14 103 14 120 7 46 7 36 3 13 4 9 3 2 4-5 7-26 13-70 18-94 7-24 3-6 4-2 3 0 10 4 4 0 38-7 24-2 93 6 84-1 34 3 56 10 24 4 20 0 49-3 28 0"/>
<path stroke="#D95319" d="M2198 282l17-2 11-5 34-20 7-1 4 0 3 1 7 5 14 17 7 11 10 21 7 12 4 3 3 1 4-2 3-4 3-7 11-32 7-32 14-78 7-30 6-20 4-4 3 2 4 9 3 14 7 37 18 114 10 80 7 41 10 45 4 8 3 4 4-3 3-9 4-13 13-61 14-69 7-28 4-10 3-7 4-3 3-1 14 4 38-5 48-2 73 4 66-1 34 3 94 11 97 4"/>
<path stroke="#EDB120" d="M2198 292l14-2 7-2 38-26 7-4 7-1 3 1 4 3 7 7 13 22 21 48 4 5 3 2 4-1 3-3 3-7 4-9 7-24 7-34 14-89 7-36 6-24 4-7 3 0 4 7 3 15 11 64 31 252 10 56 4 11 3 7 4-1 3-8 4-13 13-73 14-82 7-35 7-22 4-5 3-2 3 0 11 3 3 0 38-6 31-2 32 3 62 9 28 2 27-1 52-4 28-1 41 1 108 5"/>
<path stroke="#7E2F8E" d="M2198 286l14-2 7-2 41-28 7-2 4 0 3 2 7 6 14 19 7 13 10 25 7 15 4 4 3 2 4-2 3-5 3-7 11-36 7-36 14-91 7-35 6-24 4-5 3 1 4 9 3 16 11 66 14 109 10 93 7 50 10 54 4 10 3 5 4-2 3-9 4-15 34-188 4-12 3-8 4-4 3-1 14 3 41-8 18-1 13 0 21 2 56 7 65 5 52 7 24 2 35 1 66-2 59 2"/>
<path stroke="#77AC30" d="M2198 285l17-2 42-22 7-2 7 0 3 2 7 5 14 15 7 11 10 20 7 11 4 2 3 0 4-2 6-11 11-30 7-30 14-70 7-26 3-10 3-6 4-2 3 3 4 10 10 48 14 84 14 95 7 36 7 29 3 10 4 7 3 1 4-4 7-22 31-135 7-20 3-5 4-3 3 0 10 2 4 0 34-8 21-1 17 0 25 2 62 11 83 5 42 1 96-2 70 0"/>
<path stroke="#4DBEEE" d="M2198 276l14-1 7-2 41-20 7-2 7 1 11 7 13 15 21 34 4 4 3 1 4-1 3-4 7-13 10-34 18-88 10-41 3-9 4-5 3 0 4 6 3 11 11 51 31 196 10 44 4 8 3 5 4-1 3-6 4-11 13-54 14-61 7-27 4-10 3-7 4-3 3-1 3 0 11 4 34 1 21-2 52-7 31-2 28 3 62 8 83 3 76 7 25 0 38-2"/>
<path stroke="#A2142F" d="M2198 290l14-2 7-3 41-27 7-2 4 0 3 1 7 6 14 20 7 12 10 26 7 14 4 5 3 1 4-1 3-4 3-8 11-34 7-35 14-87 7-35 6-23 4-5 3 1 4 9 3 15 11 65 14 107 10 91 7 49 10 53 4 10 3 5 4-2 3-9 4-14 34-186 4-12 3-8 4-5 3-2 14 3 34-6 18 0 20 2 80 11 62 5 97 2 56-5 17-1 21 1 45 6"/>
<path stroke="#0072BD" d="M2198 276l14 0 7-2 41-19 7-2 7 1 11 6 13 14 21 34 4 3 3 1 4-1 3-3 7-13 10-32 18-85 7-28 6-19 4-5 3 0 4 5 3 11 11 49 31 188 10 42 4 8 3 4 4 0 3-7 4-10 13-52 18-72 7-21 3-6 4-3 3-1 3 1 7 3 7 1 31 0 28-2 24-1 90 7 24-1 63-4 76 3 111-1"/>
<path stroke="#D95319" d="M2198 289l10-1 7-2 42-24 7-3 7 0 3 2 7 6 14 18 7 13 10 23 7 11 4 3 3 0 4-2 6-13 11-33 7-34 14-78 7-28 3-10 3-7 4-2 3 5 4 11 10 54 14 94 14 106 7 41 7 32 3 11 4 7 3 2 4-6 7-25 31-151 7-22 3-5 4-3 3 0 10 3 4 0 55-6 17-1 21 0 94 7 62 6 93 6 38-2 70-10"/>
<path stroke="#EDB120" d="M2198 276l14-1 7-2 41-22 7-2 7 0 11 8 13 16 21 38 4 4 3 1 4 0 3-4 3-6 11-30 7-30 14-80 7-33 6-23 4-6 3-1 4 5 3 12 11 54 14 92 13 103 7 38 7 31 4 10 3 6 4 0 3-7 7-25 31-140 4-11 3-8 4-4 3-1 3 0 11 5 3 0 52-6 66-1 69-4 24 2 63 8 83 5 34-1 56-5"/>
<path stroke="#7E2F8E" d="M2198 287l17-3 42-21 7-3 7 1 3 1 7 6 14 16 7 11 10 20 7 11 4 2 3 0 4-2 6-12 11-30 7-30 14-70 7-25 3-9 3-6 4-2 3 4 4 10 10 49 14 84 14 95 7 36 7 29 3 10 4 6 3 1 4-5 7-22 31-136 7-20 3-5 4-3 3-1 10 2 4-1 17-3 17-2 25 1 38 6 58 14 25 2 24-1 62-9 35-2 79 1 70 7"/>
<path stroke="#77AC30" d="M2198 284l14-1 7-2 41-22 7-2 4 0 3 1 7 5 14 15 7 11 17 32 4 4 3 1 4-1 3-4 3-6 11-28 7-29 14-74 7-29 6-20 4-4 3 0 4 7 3 12 11 54 14 88 10 76 7 41 10 44 4 9 3 4 4-1 3-8 4-11 13-59 14-66 7-28 7-18 4-5 3-2 14 1 21-6 13-2 18 2 45 9 27 3 66 1 83 6 128 0 49 3"/>
<path stroke="#4DBEEE" d="M2198 276l14-1 7-1 41-20 7-2 7 1 11 7 13 15 21 34 4 3 3 1 4-1 3-4 3-6 11-28 7-28 14-72 7-29 6-19 4-5 3 1 4 6 3 12 11 50 14 83 10 72 7 38 10 42 4 8 3 4 4-1 3-7 4-11 34-139 4-10 3-7 4-3 3-2 14 3 34-8 35-2 35 2 62 8 38 2 41 0 84-4 69 3 52-1"/>
<path stroke="#A2142F" d="M2198 285l14-2 10-6 35-22 7-2 3 0 4 2 7 6 14 19 6 13 11 25 7 13 3 4 4 1 3-3 4-5 3-8 10-36 7-37 14-88 7-33 7-22 3-4 4 3 3 11 4 17 10 66 14 107 14 116 10 58 4 14 3 9 4 3 3-4 7-26 14-70 17-97 7-25 4-6 3-3 4-1 13 5 104 3 83 6 24 0 59-4 59-1 62-3 25 1 38 2"/>
<path stroke="#0072BD" d="M2198 283l10-1 7-2 42-22 7-3 7 1 3 2 7 5 14 17 21 39 3 4 4 2 3 0 4-3 3-6 3-7 7-21 7-28 14-76 7-31 7-22 3-6 4-2 3 5 4 11 10 53 14 89 14 102 7 37 7 30 3 10 4 6 3 1 4-6 7-24 31-142 7-19 3-5 4-2 3 0 10 4 4 1 76-5 31 0 114 10 45 2 52 0 87-6 45 1"/>
<path stroke="#D95319" d="M2198 277l10-1 7-2 11-5 34-22 7-2 4 1 3 1 7 6 17 23 14 32 7 12 4 4 3 0 4-2 6-14 11-38 7-38 14-91 7-35 6-23 4-4 3 2 4 11 3 17 11 66 14 107 13 118 11 59 3 14 4 9 3 3 4-4 7-25 13-70 14-78 7-32 4-10 3-7 4-3 3 0 10 4 4 0 34-4 32 0 27 3 59 9 24 3 21 0 42-3 20 0 18 1 58 7 56 2 27 0 32-4"/>
<path stroke="#EDB120" d="M2198 281l14-1 7-2 41-23 7-2 4 0 3 1 7 5 17 21 21 40 4 4 3 1 4-1 3-4 3-7 11-32 7-31 14-80 7-32 6-21 4-5 3 1 4 7 3 13 11 58 14 95 10 81 7 44 10 47 4 10 3 4 4-2 3-8 4-12 13-62 14-70 7-29 4-11 3-7 4-4 3-1 3 1 11 3 41-8 25-1 20 2 49 8 24 2 24 0 45-4 17 0 21 1 45 7 21 2 24-1 42-4 17-1 17 1 18 3"/>
<path stroke="#7E2F8E" d="M2198 274l7-1 7-1 41-21 7-1 4 0 3 1 7 4 18 18 20 35 4 3 3 1 4-1 3-4 7-15 10-34 18-91 7-29 7-20 3-5 3 0 4 7 3 12 11 52 14 85 10 74 7 39 10 43 4 8 3 4 4-1 3-8 4-11 13-55 14-62 7-26 4-9 3-6 4-3 3-1 10 4 7 1 49-8 24-1 24 3 49 12 20 4 21-1 52-6 24-1 31 2 52 9 25 2 27 1 56-4"/>
<path stroke="#77AC30" d="M2198 278l10-1 7-1 11-5 31-18 7-2 7 0 3 2 7 5 14 17 7 11 10 22 7 10 4 3 3-1 4-3 6-13 11-35 7-34 14-80 7-29 3-10 3-7 4-3 3 5 4 11 10 54 14 92 14 105 7 39 7 32 3 11 4 7 3 1 4-6 7-24 31-144 7-20 3-5 4-2 3 0 10 4 4 0 45-9 17-1 21 0 34 3 73 11 45 4 104 3 76-1 35 1"/>
<path stroke="#4DBEEE" d="M2198 283l17-2 11-5 34-19 7-2 4 1 3 1 7 5 14 17 7 11 10 21 7 11 4 3 3 1 4-2 6-12 11-31 7-32 10-58 7-33 7-24 3-8 4-3 3 3 4 9 10 50 14 89 14 101 7 40 7 31 3 12 4 8 3 3 4-4 7-22 13-60 14-68 7-28 4-10 3-6 4-3 3-1 14 2 17-3 17-2 28 1 24 2 56 8 17 1 41 0 45 7 18 1 17-1 31-6 18-1 17 1 38 6 17 1 17-1 32-5"/>
<path stroke="#A2142F" d="M2198 276l14-1 7-2 41-26 7-2 4 0 3 1 7 6 17 23 21 44 4 4 3 1 4-2 3-5 3-8 11-37 7-36 14-92 7-36 6-24 4-5 3 0 4 9 3 16 11 65 14 106 10 92 7 49 10 53 4 10 3 5 4-3 3-9 4-14 34-179 4-12 3-7 4-4 3 0 14 4 34-6 25-2 17 2 38 5 17 1 66-3 62 1 31 3 49 8 24 4 24 0 63 0"/>
<path stroke="#0072BD" d="M2198 276l14-1 7-2 10-4 31-18 7-2 7 0 4 2 7 5 13 16 7 11 11 21 7 10 3 2 4 0 3-3 7-14 10-34 7-35 14-79 7-29 3-11 4-7 3-2 4 4 3 11 11 53 14 91 13 105 7 39 7 31 4 11 3 7 4 1 3-5 7-24 31-142 7-20 4-5 3-2 3 0 11 4 3 0 45-10 14-2 14 0 83 8 83 4 59-1 24 1 21 2 41 7 21 2 17 0 25-2"/>
<path stroke="#D95319" d="M2198 288l14-2 7-2 45-25 7-1 3 1 4 2 7 7 13 18 21 40 4 4 3 2 4-1 3-3 7-14 10-35 18-92 7-31 6-20 4-6 3 1 4 6 3 13 11 55 31 215 10 46 4 10 3 5 4-1 3-7 4-12 34-160 4-11 3-7 4-5 3-1 3 0 11 4 3 0 59-5 38 0 87 8 72 3 70 5 41 2 38 0 42-3"/>
<path stroke="#EDB120" d="M2198 276l10-1 7-1 11-5 34-20 7-2 4 1 3 2 7 5 14 17 7 12 10 22 7 11 4 2 3 0 4-3 6-14 11-36 7-36 14-84 7-31 3-11 3-8 4-3 3 4 4 12 10 56 14 95 14 110 7 42 7 33 3 12 4 7 3 2 4-6 7-25 31-150 7-22 3-5 4-3 3 0 10 4 4 0 34-5 28-1 80 8 69 2 76 6 66 3 38-1 59-4"/>
<path stroke="#7E2F8E" d="M2198 275l14-1 7-2 41-19 7-2 7 1 11 7 13 14 21 33 4 3 3 1 4-1 3-4 7-13 10-33 18-85 7-28 6-19 4-5 3 0 4 6 3 11 11 48 14 81 10 69 7 38 10 41 4 9 3 4 4-1 3-7 4-10 34-134 7-16 4-4 3-1 14 3 34-10 21-2 21 2 83 13 66 6 27 0 63-3 62 1 73-5"/>
<path stroke="#77AC30" d="M2198 280l14-1 7-2 41-20 7-2 4 0 3 1 7 5 17 18 21 35 4 3 3 1 4-1 3-4 3-6 11-29 7-28 14-71 7-27 6-19 4-4 3 1 4 8 3 12 11 51 14 84 10 71 7 38 10 41 4 8 3 3 4-2 3-7 4-12 13-54 14-62 7-24 4-9 3-6 4-3 3-1 14 2 34-10 14-1 14-1 21 2 62 9 28 3 97 3 69 1 69 4 21 0 21-3"/>
<path stroke="#4DBEEE" d="M2198 280l10-1 7-2 11-5 31-18 7-3 7 1 3 1 7 6 14 17 7 12 10 22 7 11 4 3 3-1 4-2 6-14 11-35 7-35 14-80 7-30 3-11 3-7 4-3 3 4 4 11 10 55 14 94 14 108 7 40 7 33 3 11 4 7 3 2 4-5 7-25 31-149 7-20 3-5 4-2 3 1 10 5 7 0 21-3 42-10 13-1 14-1 18 2 41 7 17 2 21 0 42-1 20 0 66 7 69 1 63 9"/>
<path stroke="#A2142F" d="M2198 285l17-2 11-6 34-21 7-2 4 1 3 1 7 6 14 18 7 11 10 24 7 13 4 3 3 1 4-2 3-5 3-7 11-34 7-33 14-83 7-32 6-20 4-4 3 2 4 10 3 15 7 39 14 96 14 111 7 44 10 48 4 9 3 3 4-3 3-9 4-14 13-66 14-74 7-31 4-11 3-7 4-4 3-1 14 3 24-5 17 0 25 2 48 10 24 2 146 2 72 5 24-1 45-5 25-1"/>
<path stroke="#0072BD" d="M2198 284l10-1 7-2 45-22 7-1 4 1 10 7 14 16 21 36 3 4 4 1 3 0 4-3 3-6 10-26 7-27 14-69 7-28 7-20 3-5 4 0 3 5 4 11 10 50 31 194 11 42 3 9 4 5 3 0 4-6 3-11 14-54 21-90 7-18 3-4 4-2 3-1 10 3 21-3 17 0 111 9 59 7 21 1 27 0 128-7 25 2 45 5"/>
<path stroke="#D95319" d="M2198 283l10-1 7-2 45-22 7-1 4 1 10 7 14 16 21 37 3 3 4 2 3-1 4-3 3-5 10-27 7-27 14-71 7-29 7-20 3-5 4 0 3 5 4 12 10 50 31 197 11 43 3 9 4 5 3-1 4-6 3-10 14-55 14-63 7-27 7-17 3-4 4-2 3 0 10 3 4 0 59-7 27-2 18 1 38 6 20 2 77-2 24 0 76 10 41 3 32 1 38-2"/>
<path stroke="#EDB120" d="M2198 286l14-1 7-2 41-22 7-3 7 1 4 1 7 6 13 17 7 11 11 21 7 11 3 2 4 0 3-3 7-12 10-32 7-32 14-73 7-26 3-9 4-7 3-1 4 4 3 11 11 51 14 87 13 100 7 37 7 29 4 11 3 6 4 1 3-6 7-23 31-140 7-20 4-5 3-2 3 0 11 5 3 0 31 2 21-1 45-6 21-1 21 2 65 9 87 5 38 0 52-4 21-1 20 1 25 3"/>
<path stroke="#7E2F8E" d="M2198 285l10-1 7-2 11-6 34-23 7-2 4 1 3 1 7 7 14 19 7 13 10 26 7 13 4 4 3 0 4-2 6-14 11-37 7-37 10-69 7-40 7-28 3-9 4-4 3 3 4 11 10 60 14 105 14 121 7 47 7 37 3 14 4 9 3 3 4-4 7-26 13-72 18-98 7-26 3-6 4-4 3 0 10 3 4 1 34-3 38 1 21 3 49 9 27 3 52-1 80-7 48-2 42 2 59 9"/>
<path stroke="#77AC30" d="M2198 286l17-3 11-5 34-21 7-2 4 0 3 2 7 5 14 18 7 12 10 23 7 13 4 3 3 1 4-2 3-5 3-7 11-33 7-34 14-82 7-31 6-20 4-4 3 2 4 10 3 15 7 39 14 95 14 111 7 43 10 48 4 9 3 3 4-4 3-9 4-14 13-65 18-90 7-24 3-6 4-3 3 0 14 4 34-1 42-4 24 0 21 2 38 7 21 1 17-1 42-5 17-1 21 1 45 6 24 1 24-1 48-4 32-1"/>
<path stroke="#4DBEEE" d="M2198 278l14-1 7-2 41-24 7-2 7 1 4 2 7 6 13 17 21 41 4 5 3 1 4-1 3-3 3-7 11-32 7-32 14-84 7-35 6-24 4-6 3-1 4 7 3 13 11 58 31 230 10 50 4 11 3 5 4 0 3-7 4-12 13-64 21-103 4-12 3-8 4-4 3-2 3 0 11 3 34-4 25-1 76 1 52-1 52 2 48 0 28 1 52 6 24 1 24-1 35-3"/>
<path stroke="#A2142F" d="M2198 285l14-1 7-2 41-25 7-3 7 1 4 3 7 6 13 19 21 43 4 4 3 2 4-1 3-3 7-16 10-37 18-101 10-46 3-10 4-6 3 0 4 7 3 13 11 60 31 232 10 50 4 11 3 5 4-1 3-7 4-13 13-65 14-75 7-32 4-11 3-8 4-5 3-2 3 1 11 3 3 0 42 0 48-2 21 1 17 2 45 6 31 3 32-2 51-7 25-2 20 0 56 5 59 1"/>
<path stroke="#0072BD" d="M2198 280l10-1 7-2 11-5 34-20 7-2 4 1 3 1 7 6 14 17 7 12 10 23 7 11 4 3 3 1 4-3 6-13 11-36 7-35 10-64 7-36 7-26 3-8 4-4 3 4 4 10 10 56 14 96 14 111 7 42 7 34 3 13 4 8 3 2 4-5 7-24 13-65 18-88 7-22 3-6 4-2 3 0 10 5 4 1 21-3 38-7 13-2 14 0 83 9 31 1 52-2 21 1 21 2 55 10 31 2 28-1 42-7"/>
<path stroke="#D95319" d="M2198 286l17-2 11-5 34-19 7-2 4 0 3 1 7 5 14 17 7 10 10 22 7 11 4 4 3 1 4-1 3-4 3-7 11-30 7-29 14-75 7-29 6-19 4-4 3 2 4 8 3 13 11 55 14 90 10 77 7 41 10 44 4 8 3 4 4-2 3-8 4-13 13-60 14-67 7-28 4-10 3-6 4-4 3-1 3 0 11 3 21-1 48 1 69-1 24 3 45 7 21 1 94-3 96 2 32 1"/>
</g></g>
<path d="M1142.3 299.4v-4.5M1142.3 11.6v4.5M1228.8 299.4v-4.5M1228.8 11.6v4.5M1315.3 299.4v-4.5M1315.3 11.6v4.5M1401.8 299.4v-4.5M1401.8 11.6v4.5M1099.8 75.3h4.5M1486.8 75.3h-4.5M1099.8 139.5h4.5M1486.8 139.5h-4.5M1099.8 203.6h4.5M1486.8 203.6h-4.5M1099.8 267.7h4.5M1486.8 267.7h-4.5" stroke="#9a9a9a" stroke-width="1.4" fill="none"/>
<rect x="1099.8" y="11.6" width="387.0" height="287.8" fill="none" stroke="#a6a6a6" stroke-width="2.1"/>
<path d="M157.6 389.0V676.8M243.8 389.0V676.8M330.0 389.0V676.8M416.2 389.0V676.8M115.5 460.4H502.2M115.5 532.8H502.2M115.5 605.2H502.2" stroke="#eeeeee" stroke-width="1.6" fill="none"/>
<clipPath id="c4"><rect x="115.5" y="389.0" width="386.7" height="287.8"/></clipPath>
<g clip-path="url(#c4)" fill="none" stroke-width="4.00" stroke-opacity="0.60" stroke-linejoin="round"><g transform="scale(0.5)">
<path stroke="#0072BD" d="M229 1077l10-4 18-12 6-2 4 0 3 0 7 3 18 12 6 3 11 1 10-4 35-21 3-2 3 0 4 2 7 6 10 16 7 15 14 37 7 16 7 10 3 2 4 1 3 0 3-2 11-10 27-42 11-14 7-6 10-6 14-12 10-5 7 0 17 6 28 4 24 7 7 0 10-3 21-16 7-3 3 0 7 2 7 5 14 12 7 4 3 1 4-1 6-2 18-12 10-3 10 1 21 11 7 3 7 1 10-2 28-14 10-3 11 3 20 16 7 3 4 1 3 0 7-2 21-16 6-3 4-1 7 1 17 8 10 3 42 4 7-1 7-2 17-9"/>
<path stroke="#D95319" d="M229 1076l24-15 7-3 7-1 10 4 7 5 17 15 7 3 4 1 3 0 7-3 7-7 14-15 3-2 4 1 13 13 7 4 7 1 7-4 4-5 7-18 24-100 7-17 3-5 3-2 4 1 7 7 10 20 10 28 21 64 7 17 3 5 7 7 7 5 7 2 11 0 13-6 11-2 7-4 17-12 7-2 3 0 7 2 17 15 7 3 4 1 7-2 20-16 7-3 4 0 6 3 18 13 7 3 3 0 7-2 21-13 7-1 3 0 7 3 17 13 7 3 3 1 4 0 7-2 20-15 7-3 4-1 3 0 7 3 21 14 10 4 11-1 27-13 10-2 7 0 7 2 21 9 10 3 11-1 20-8 7-1 7 0 21 3"/>
<path stroke="#EDB120" d="M229 1070l17-9 7-2 7 0 10 4 25 16 6 2 7 0 11-6 17-15 14-9 7-8 3-2 3 0 4 2 7 8 10 23 7 23 14 61 7 26 7 17 3 5 4 2 3-1 3-3 4-4 7-13 10-27 21-60 10-23 4-4 17-14 7-5 7-2 3 0 7 2 14 8 24 11 10 3 7 0 4-2 6-4 18-14 7-3 3 0 4 0 6 5 14 16 7 6 7 3 3-1 7-4 18-17 6-5 4-1 3 0 7 3 18 12 10 4 10-1 21-7 14-2 20 0 25 6 10 1 10-2 17-6 7-1 11 3 20 13 7 1 4 0 7-4 20-17 7-3 4 0 3 1 7 3 17 14 7 3 4 1 6 0 11-3"/>
<path stroke="#7E2F8E" d="M229 1078l10-23 7-12 4-4 3-2 4 0 3 3 7 11 17 42 7 13 4 4 3 3 3 0 4-1 7-9 20-44 7-11 4-3 14-10 3-1 3 2 4 5 3 7 14 43 7 29 14 71 7 28 7 19 3 6 4 3 3 0 3-2 7-9 11-23 10-33 21-78 7-18 6-8 11-10 7-5 7-3 10-2 24 6 7 5 14 13 7 4 3 0 4-2 6-6 18-21 7-4 3 1 4 2 6 7 18 24 7 5 3 1 3 0 7-2 21-18 7-4 10-3 11 3 24 11 10 2 10-1 28-6 28-10 10-1 10 4 21 17 7 2 3 0 4-1 7-4 17-17 7-3 3 0 4 1 7 4 13 15 7 6 7 3 4-1 7-3 20-22 7-4 4 0 6 1 11 8"/>
<path stroke="#77AC30" d="M229 1071l10 1 7-1 7-3 21-10 7-2 3 1 4 1 7 4 20 19 7 3 4 0 6-4 18-17 3-2 7 0 17 6 7 1 7-2 4-3 6-12 18-45 7-16 6-10 4-2 3-1 4 1 3 3 7 9 7 12 21 43 7 11 6 8 4 1 17 3 21 11 17 5 4 0 6-2 7-5 21-18 7-4 7-1 3 0 7 3 24 19 7 2 4 1 3-1 7-3 21-16 7-3 3 0 3 0 7 3 21 13 10 3 7-1 24-6 28 0 28-5 10 1 24 7 10 1 11-2 20-8 11-1 10 2 17 9 11 3 10-1 21-12 7-3 10 1 14 6"/>
<path stroke="#4DBEEE" d="M229 1074l7 1 7 0 27-11 7-2 7 0 7 1 21 8 7 1 7 0 20-2 4 1 13 14 4 1 3-1 4-2 3-4 7-10 7-16 21-78 7-22 7-13 3-3 3-1 4 2 7 6 7 11 7 13 10 26 17 51 7 17 3 6 4 3 10 5 7 1 7-1 17-6 4 0 14 1 6-1 21-5 7-1 10 0 21 6 10 0 7-2 18-6 10-1 10 2 21 9 10 2 11-2 17-7 10-2 11 2 17 7 7 1 7-2 20-10 7-1 4 0 7 2 20 14 7 3 4 0 3 0 7-3 21-17 6-3 4-1 3 0 7 3 17 12 7 3 4 0 7-1 20-10 7-2 7 2 21 12 7 2"/>
<path stroke="#A2142F" d="M229 1063l17 12 11 4 10 1 14 0 10-1 7-3 17-10 11-2 3 0 7 3 14 9 3 1 17-3 11 3 7 6 3 5 7 16 17 48 7 11 4 2 3 0 3-3 4-5 7-14 14-34 6-13 4-5 3-3 7-3 7 1 10 4 4 0 3-2 7-9 14-21 7-6 3 0 4 1 3 3 18 25 6 6 4 2 3 0 7-6 17-24 7-5 4-1 7 2 17 15 7 3 7 1 14-3 6-1 7 3 18 11 6 1 4-1 7-4 14-16 7-6 3-2 3 0 4 1 7 6 20 32 4 3 3 1 4 0 3-3 7-9 17-32 4-4 3-2 4-1 3 2 4 3 20 32 4 2 3 1 4 0 3-2 7-8 10-14 7-6 4-1 3 0 4 2 17 18 7 5 3 1 4-1 6-4 18-20 7-5 3-1 4 0 6 4 18 20 7 6 6 3 4-1 7-4"/>
<path stroke="#0072BD" d="M229 1061l10-5 11-1 10 4 24 12 11 2 10 0 10-3 31-12 14-17 3-1 4 1 3 4 4 6 7 17 3 11 7 31 17 96 7 28 4 9 3 6 4 4 3 0 3-2 7-9 7-14 7-20 10-39 18-78 7-21 10-18 7-6 3-1 4 0 7 3 17 20 3 2 4 1 3-1 17-12 7-3 4 0 3 0 7 3 17 12 7 4 4 0 3 0 7-2 17-12 7-3 4-1 7 2 17 11 7 3 3 1 4-1 6-2 21-13 7-1 4 0 10 6 17 13 7 4 3 0 4 0 7-2 20-16 7-3 4-1 3 0 7 2 24 15 7 3 7 0 10-1 28-9 14-3 14 1 24 6 10 0 10-1 25-7 17-1"/>
<path stroke="#D95319" d="M229 1087l10-23 7-12 4-5 3-2 4-1 3 2 7 7 17 33 7 9 4 3 3 1 3-1 4-2 7-8 10-16 7-9 7-4 3-1 4 1 3 2 4 5 10 21 3 5 4 2 3-1 4-4 3-6 11-26 7-27 13-63 7-24 7-16 4-4 3-2 3 0 4 1 7 6 10 14 7 12 7 16 7 20 20 74 18 36 7 9 3 2 4 0 3-3 3-4 25-46 6-8 4-1 3 0 4 3 3 4 21 43 3 4 4 3 3 1 4-2 7-9 13-32 7-13 4-3 3-2 4 1 3 4 4 5 17 40 7 10 3 2 4-1 3-4 3-5 18-41 7-10 3-2 4 0 3 3 3 5 18 38 7 10 3 2 3-1 4-2 3-3 18-27 6-7 4-1 7 1 17 14 7 3 3 0 7 0 18-6 20 0 7-1 7-3 14-9 7-1 3 0 4 2 6 6 18 20 7 4 3 0 7-3 17-16 7-4 4-1 6-1 11 4"/>
<path stroke="#EDB120" d="M229 1058l7 1 14 6 7 2 10-2 17-6 7 0 7 3 17 10 11 3 6-1 14-7 4-1 3 2 10 10 4 1 3 0 4-1 10-12 7-12 7-23 17-79 7-28 7-19 3-6 4-3 3-1 4 1 3 4 4 5 3 7 7 20 7 27 17 78 7 26 3 10 4 5 3 4 7 4 7 0 7-2 7-4 14-10 31-7 10 1 21 8 7 1 3 0 7-3 21-16 7-1 3 1 7 4 14 16 7 7 7 2 6-2 7-6 14-16 7-4 4-1 3 0 7 4 21 17 6 3 4 0 10-2 17-10 11-4 10 0 21 7 10 1 11-3 17-9 7-1 3 0 7 2 21 15 7 3 3 0 7-1 21-11 10-2 45 2"/>
<path stroke="#7E2F8E" d="M229 1073l14-10 7-4 7-2 6-1 7 1 7 3 24 18 7 2 4 0 3-1 7-3 14-12 7-4 7-2 7 0 6 2 14 9 21 9 21 12 7 3 6 1 11-3 24-15 10-4 31-6 11 1 7 3 13 9 7 1 4 0 3-1 7-4 17-16 7-3 4-1 6 2 21 15 7 3 4 0 6-1 18-8 7-1 6 1 18 6 7 1 3-1 7-3 14-9 7-3 3 0 4 0 6 4 18 16 7 3 3 1 7-1 21-11 10-3 7 0 27 3 38 2 18-1 37-5 14 0 11 1 20 6 7 0 11-2 17-9"/>
<path stroke="#77AC30" d="M229 1055l7 4 17 16 7 3 3 1 4 0 7-2 21-13 10-2 10 2 21 10 14 3 7 2 6 1 4-2 7-5 17-18 7-11 28-54 6-9 4-3 7-2 3 1 4 3 7 9 6 15 18 49 7 16 3 6 3 4 4 2 7-1 21-5 27-1 7-3 17-13 7-2 4 0 3 1 7 4 14 15 7 6 7 2 3 0 3-2 7-5 14-16 7-7 7-3 3 0 4 0 7 4 20 20 7 4 4 1 3-1 7-3 17-14 7-3 4 0 3 1 7 5 17 19 7 3 4-1 6-4 21-29 7-5 4-1 3 0 7 3 21 21 6 5 7 2 7 0 11-3 34-16 10-3 11 1 7 3 13 9 11 4 10-1 21-9"/>
<path stroke="#4DBEEE" d="M229 1073l17-7 11-1 10 1 17 5 11 0 10-3 17-10 7-1 3 0 7 2 7 6 11 18 6 8 4 2 3-1 4-2 3-4 7-12 4-8 7-22 17-65 7-19 7-11 3-3 3 0 4 2 7 6 10 18 10 24 21 57 7 14 3 4 7 5 14 4 11 1 13-2 11 1 7-1 6-4 21-18 7-3 3-1 4 1 7 5 21 23 6 5 4 1 3 0 7-3 7-5 17-18 7-4 7-2 10 3 21 13 7 3 10 2 11-2 20-8 11-2 38 1 31 6 7-1 20-6 7-1 7 1 17 6 7 0 7-1 17-9 7 0 7 3 17 15 7 2 4 0 7-4 17-21 7-6"/>
<path stroke="#A2142F" d="M229 1071l17-6 17-1 14 2 24 7 11 0 10-3 17-8 7-1 4 2 3 5 7 14 7 9 3 2 4 0 3-3 7-11 7-20 7-34 14-87 7-38 7-25 3-7 3-3 4 1 3 4 4 6 7 18 10 37 21 87 10 36 3 7 4 5 14 11 10 6 7 2 3-1 11-4 7-2 7-3 17-13 7-2 3-1 7 1 17 9 11 3 10-1 17-7 7-2 10 1 18 6 10 1 7-1 21-8 10 0 10 3 21 11 10 1 11-2 27-14 11-2 10 3 24 15 10 2 11-2 24-14 10-4 11 1 24 13 10 2 10-1 25-7 17 0"/>
<path stroke="#0072BD" d="M229 1064l10-4 7 0 11 5 20 13 11 2 10-2 17-9 11-3 17 0 7 1 10 3 7 0 24-11 10-7 14-14 17-23 7-8 7-5 4-1 3 1 7 6 7 13 21 47 3 5 3 4 4 1 7-1 17-9 10-4 7 1 18 9 10 1 7-2 20-10 11-2 10 1 21 6 14 3 24 3 14-2 24-12 10-1 10 3 21 11 10 2 11-2 24-10 10-2 14 1 28 9 10 2 7-1 7-2 20-9 11-1 10 3 24 12 11 2 10-1 45-12"/>
<path stroke="#D95319" d="M229 1073l21-12 10-3 7-1 7 1 7 2 24 16 7 3 3 0 4 0 7-3 20-14 11-3 10 2 24 12 7 3 7 1 10-1 17-4 11-2 31 3 10-2 17-5 7-2 7 1 21 7 7 0 7-1 17-7 10-2 7 1 17 6 7 1 7 0 17-4 7-1 11 2 17 5 7 1 10-2 17-6 11-2 7 1 17 5 7 1 7 0 17-3 10-1 24 5 11 0 31-3 34 4 14 0 48-6 11 1 20 8 11 2 10-2 14-9"/>
<path stroke="#EDB120" d="M229 1073l7 6 14 14 7 3 3 0 7-6 21-32 7-6 3-1 3 1 4 2 21 24 6 5 4 1 7 0 3-2 11-13 3-3 3-1 4 2 3 2 7 10 7 15 21 73 7 19 7 12 3 3 4 2 3 0 3-1 7-5 7-8 4-5 10-24 17-55 7-18 10-15 7-5 4-1 3 0 7 4 14 14 7 5 3 0 4-2 14-11 6-5 4-1 7-1 38 7 7 3 17 13 7 2 3 0 4-1 7-5 17-23 7-7 7-4 6 0 7 4 7 6 21 26 7 6 7 4 3 0 4 0 7-5 6-9 14-24 7-9 7-6 3-1 4 1 7 4 7 8 17 26 7 6 3 1 4 1 7-3 17-15 7-3 7-1 17 5 7 0 7-4 17-16 7-2 3 0 7 6 7 11 14 26 7 8 3 1 4 0 3-2 4-4 6-13 11-23"/>
<path stroke="#7E2F8E" d="M229 1067l34-2 28 4 7 0 10-2 18-6 6-1 7 2 7 4 14 19 3 2 4 1 3-2 7-8 11-20 20-64 7-18 7-12 4-3 3-3 3 0 4 0 7 4 10 13 10 21 25 65 3 6 3 5 7 3 14 1 24-6 18 2 44 0 11-2 20-7 11-2 10 1 28 12 10 1 10-2 21-11 10-3 11 2 24 14 10 2 11-3 20-12 11-3 10 2 24 13 10 2 11-1 24-12 10-2 11 1 24 9 10 3 10 0 42-6"/>
<path stroke="#77AC30" d="M229 1061l7 0 21 4 24-1 10 4 17 10 7 2 4-1 7-5 17-19 14-12 3-2 3 0 4 3 3 3 14 26 7 17 17 53 7 16 7 11 4 2 3 1 3-1 4-2 10-13 11-20 17-38 10-18 4-4 24-21 7-4 3-1 4 0 6 3 11 9 10 7 7 3 7 1 7-1 20-10 11-3 10 2 21 11 10 2 7-2 17-6 7-2 7 0 21 6 7 1 7-2 17-8 7-1 3 0 7 3 17 12 7 3 4-1 7-2 17-12 7-2 7 0 20 13 7 2 7-2 17-12 7-3 4-1 3 1 7 2 17 11 7 1 7-1 17-11 7-2 4 1 7 2 17 13 7 2 3 1 4-1 6-4 11-9"/>
<path stroke="#4DBEEE" d="M229 1067l7-2 10-1 28 1 14 3 24 8 7 0 10-2 21-13 3-2 7-1 7 0 7 3 21 11 6 1 4-1 10-5 24-24 7-4 4-1 3 0 7 3 7 7 14 18 7 7 6 4 4 0 7-2 17-11 7-3 10 2 18 8 10 2 7 0 20-6 25-1 27-6 11 1 20 13 7 2 4 0 3 0 7-3 21-14 7-1 3 0 7 3 21 15 6 3 4 1 3 0 7-2 21-14 10-4 11 2 17 10 10 3 11-1 24-10 10-1 21 2 24 1 10 3 17 9 11 1 10-4 21-15"/>
<path stroke="#A2142F" d="M229 1072l10 0 21 3 10 0 7-2 21-8 10-1 11 2 17 6 14 2 10 4 3 1 7-1 7-4 11-8 7-8 6-13 18-40 7-14 6-9 7-3 4 0 3 1 4 3 7 9 6 14 18 42 7 14 6 9 7 3 11-1 27-6 18 2 10-1 31-8 10 1 24 7 11 0 24-3 24 1 7-1 17-6 7-1 4 1 6 3 25 22 6 3 4 0 3-1 7-3 24-25 7-5 7-2 4 0 7 3 6 6 18 20 7 4 3 0 7-4 21-28 3-3 3-1 4 0 3 1 4 4 17 28 7 8 3 2 4 0 3-1 4-3 20-29 7-5 4-1 3 0 7 3 14 11 7 5"/>
<path stroke="#0072BD" d="M229 1071l10-9 7-4 4-1 3 0 7 2 24 16 11 4 10-2 21-9 10-4 7 0 14 1 31 8 7 3 24 15 10 2 10-2 24-17 11-5 10-1 14 3 10 0 7-2 21-7 10-2 11 1 20 10 11 3 10-1 21-12 10-2 10 4 21 11 10 2 11-2 27-13 7-2 7 0 7 2 7 3 21 15 6 2 4 0 3 0 7-4 21-18 7-3 3-1 4 0 7 4 20 17 7 3 4 1 3 0 7-3 21-15 7-2 3 0 7 1 17 11 10 3 7-1 21-10 7-1 7 1 17 8 7 2 7-1 7-4"/>
<path stroke="#D95319" d="M229 1075l10-4 18-13 6-3 4 0 3 1 7 5 18 18 6 4 4 0 7-2 20-16 7-3 4-1 3 1 4 3 10 9 7 3 3-1 11-7 7-8 7-14 17-39 10-18 7-7 7-2 7 2 3 2 7 9 7 12 17 42 7 15 4 5 3 3 3 1 7-1 14-5 7 0 10 3 14 7 7 2 4-1 6-4 18-16 7-2 3 0 7 2 21 14 7 2 6 0 38-7 24-9 11-1 10 3 21 10 10 4 11 3 10 1 7-1 7-4 7-5 17-18 7-4 3-1 4 1 7 5 20 25 7 5 4 2 3 0 7-2 21-15 6-3 7-1 28 0 10 1 7 2 17 8 7 2 7-1 21-8 7-1"/>
<path stroke="#EDB120" d="M229 1069l10-6 11-4 10-2 7 0 10 4 24 18 7 2 7 0 11-6 24-18 10-19 3-4 4-1 3 2 4 4 7 15 7 24 7 39 20 147 7 32 4 11 3 5 3 2 4-2 3-5 4-8 7-24 7-35 20-128 7-35 4-12 3-7 3-5 7-6 7-1 7 2 7 6 14 15 3 2 4 1 3-2 17-15 7-2 4 0 3 1 7 5 17 16 7 3 4 0 7-3 20-19 7-2 4 0 3 1 7 4 17 16 7 3 4 1 3-1 7-4 14-13 7-5 7-2 3 0 3 1 7 5 14 15 7 6 7 3 3 0 4-1 7-4 20-23 7-5 4-1 3 1 7 3 7 6 17 19 7 5 4 1 3 0 7-2 7-5 20-17 7-4 7-2 7 0 10 3 7 4 21 15 10 3 7 0 7-3 17-12 11-6"/>
<path stroke="#7E2F8E" d="M229 1062l10-4 7 0 7 3 17 9 11 3 7-1 24-5 31-1 7-2 10-4 7 0 7 3 10 9 24 37 7 5 7 2 7-3 21-15 10-7 24-12 28-12 7-1 7 0 17 2 24-4 10-1 7 2 17 6 11 1 10-2 21-10 10-1 7 1 21 10 10 3 10-1 25-9 10-1 10 2 21 10 7 0 10-3 21-13 7-2 7 2 20 16 7 3 4-1 7-3 17-14 7-3 3-1 7 2 17 13 7 3 4 1 3 0 7-2 17-10 11-3 10 3 17 10 7 2 7 1 7-1"/>
<path stroke="#77AC30" d="M229 1092l3 0 4-1 3-2 18-21 6-4 4-1 3 1 7 6 21 28 7 5 3 0 4 0 7-4 20-26 7-5 4-1 3 3 7 7 7 5 3 1 4-1 3-2 7-7 7-13 7-22 14-51 7-19 7-10 3-2 3-1 7 4 11 8 7 7 6 9 11 23 20 67 4 7 7 10 3 3 4 2 3 0 7-4 17-24 4-2 3-2 7 1 7 4 17 14 7 5 7 2 7-1 3-2 7-7 21-30 7-7 3-1 4 0 3 2 7 10 21 49 7 11 3 2 4 0 3-2 3-5 7-15 14-35 7-10 4-1 3 0 3 3 4 5 17 35 7 7 3 1 4-1 3-2 21-28 7-4 3 0 4 1 7 5 17 20 7 6 7 4 3 1 7-1 4-2 6-7 21-30 7-5 3-1 4 2 3 3 7 10 11 17 6 8 4 2 3-1 4-2 7-8 10-16 7-6 3 0 4 1 3 3 14 18 7 7 3 1 4 0 7-5"/>
<path stroke="#4DBEEE" d="M229 1069l14-7 7-2 7-1 6 0 7 2 7 4 24 16 7 2 4 0 7-3 7-5 13-14 11-8 7-9 3-3 3-1 4 2 3 4 7 13 11 30 20 95 7 25 7 16 4 4 3 2 3-1 7-6 4-5 7-15 10-31 21-80 7-20 13-21 7-7 4-2 3-1 7 4 7 7 10 16 4 3 7 3 3 0 7-1 17-10 7-2 10 0 18 6 10 1 7-1 21-9 7-1 10 2 21 10 10 2 10-3 18-8 6-1 4 0 7 4 17 13 7 3 3 0 4-1 7-3 17-14 7-4 3 0 7 1 21 13 10 3 11-1 20-7 14-2 10 1 21 6 10 2 11-1 24-8 7-1 10 1 21 6"/>
<path stroke="#A2142F" d="M229 1068l14 4 10 1 21-3 10 0 31 8 11 1 13-1 7-2 4-4 10-21 3-5 4-2 3-1 4 2 3 4 4 6 3 9 7 31 17 125 7 42 7 28 4 7 3 2 3-2 4-5 7-21 7-28 24-120 7-27 3-10 4-7 17-24 7-7 3-1 4 0 3 1 4 3 17 27 7 5 7 3 3 0 7-2 7-6 10-12 7-6 3-1 4-1 3 2 7 6 18 27 3 4 3 2 4 0 3-2 7-10 21-46 3-5 4-2 3 0 4 3 7 11 17 44 7 10 3 2 4-1 3-2 4-5 17-35 7-9 3-1 4 0 3 2 17 21 7 5 4 0 6-2 18-14 7-2 3 1 7 3 17 12 4 1 7 1 6-1 18-6 10-2 86 4 11-1 17-5"/>
<path stroke="#0072BD" d="M229 1074l10-1 21-10 10-3 7 0 7 3 21 12 10 3 7 0 7-2 17-12 4 0 10 10 3 3 4 0 3-1 4-2 10-13 4-6 3-9 7-28 17-97 7-34 7-23 3-7 4-3 3 0 4 2 3 6 4 8 7 24 6 33 18 96 10 45 3 8 4 5 10 6 11 3 7-1 3-1 34-26 7-4 4 0 3 0 7 4 17 17 7 4 4 0 3 0 7-4 21-20 7-3 3-1 7 2 17 9 7 2 10-1 18-5 10 0 7 3 17 10 11 2 10-3 24-14 10-3 7 1 7 2 24 16 11 3 3-1 7-2 21-16 7-3 3-1 3 1 7 3 14 13 7 5 7 2 7-2 21-16 6-3 4 0 7 1 20 11 4 1 7-1"/>
<path stroke="#D95319" d="M229 1065l3-2 7 0 21 4 7-1 14-4 7 0 7 2 20 18 7 3 4 0 6-3 14-14 4-2 3 1 7 6 7 3 3 0 4-2 7-6 7-9 3-7 4-12 6-33 18-99 7-32 6-20 4-5 3-2 4 1 3 4 4 6 7 22 6 33 21 126 7 34 3 11 4 7 7 6 7 0 7-3 7-7 13-17 4-3 27-13 7-2 7 0 7 3 21 18 7 4 3 1 4 0 6-3 18-10 10-4 41-4 11 2 7 4 13 10 7 4 4 0 3 0 7-3 17-14 7-3 4 0 7 0 20 12 11 3 10-2 17-5 11-2 10 0 24 5 14 1 10-1 24-6 11-1 7 1 20 9 7 2 10-2 11-6"/>
<path stroke="#EDB120" d="M229 1061l10-5 11 0 10 4 28 16 7 3 6 0 11-2 20-11 14-4 4-2 10-10 3-2 4 0 3 2 4 3 7 9 7 16 7 27 13 65 7 26 7 17 4 4 3 2 3-1 4-4 3-5 7-15 11-32 17-59 10-28 4-5 10-11 7-5 7-3 3 0 7 2 14 13 3 2 4 1 7-1 17-7 7-1 7 3 20 14 7 1 7-2 21-15 7-3 3 0 7 1 17 10 11 2 10-2 17-9 7-1 4 0 10 5 21 17 7 2 3 0 3 0 7-4 21-21 7-5 3-1 4-1 7 3 7 6 13 15 7 4 4 2 3 0 7-3 17-17 7-6 4-1 3 0 7 2 17 13 7 4 4 1 6-1 21-7 7 0 17 4 7 0 7-1 21-5"/>
<path stroke="#7E2F8E" d="M229 1077l17-12 11-4 6-1 21 0 17-1 11 1 7 3 17 9 7 2 3 0 4-2 3-4 14-18 7-3 3 0 4 2 3 3 4 6 3 9 17 67 7 24 7 14 4 3 3-1 3-3 4-5 7-14 17-44 7-13 7-9 7-5 3-2 10 1 7-3 21-18 7-4 3-1 4 0 10 4 24 15 11 2 10-3 21-11 10-2 7 0 7 3 24 11 10 1 11-4 17-11 7-4 7-1 3 0 11 5 17 15 7 5 7 3 3 0 7-1 7-4 7-6 17-18 7-5 3-1 4 0 7 3 7 7 17 23 7 5 3 1 4-1 6-5 18-19 7-5 3-1 7 2 17 14 7 3 3 1 7-1 18-8 7-1 6 1 18 9 7 2 6-1 11-6"/>
<path stroke="#77AC30" d="M229 1071l14-4 14-2 38 3 27 5 10 0 18-3 13 2 11-1 10-5 7-5 7-8 14-19 10-11 7-3 7-1 10 2 14 7 14 11 17 20 7 6 17 10 11 3 10-1 27-10 11-2 31 4 10-1 17-3 11-1 24 6 10 1 7-1 21-5 10 0 11 1 24 7 13 1 11-2 24-9 10-2 11 2 20 11 11 3 10-4 21-14 7-1 3 0 7 3 17 13 7 3 3 0 7-2 21-15 7-2 3 0 7 3 18 14 6 4 7 1 4 0"/>
<path stroke="#4DBEEE" d="M229 1072l10-22 7-9 4-2 3 1 4 2 3 3 7 11 14 26 7 10 7 5 6 2 4-1 7-4 24-20 14-8 20-4 11 0 7 2 20 9 11 2 3-1 7-3 21-17 7-4 3 0 3 0 7 3 21 12 21 7 20 13 7 2 7-1 4-2 7-6 17-20 7-4 3-1 4 1 6 4 21 24 7 5 4 1 3 1 7-3 21-20 6-4 4-1 3 1 7 3 21 20 7 3 3 1 4-1 7-3 17-18 7-6 7-2 3 0 4 2 6 7 18 22 7 4 3 0 7-5 17-25 7-5 4-1 3 1 3 3 18 20 3 3 4 1 3-1 3-3 18-22 7-5 3 0 3 1 4 4 17 25 4 4 3 2 3 0 4-1 3-3 18-25 7-5 3-1 7 3 14 13 7 6 6 2 11-3"/>
<path stroke="#A2142F" d="M229 1067l10-8 4-1 7-1 7 2 13 7 11 3 24 5 10 0 7-2 7-4 21-15 10-10 3 0 4 1 7 9 10 22 7 20 17 70 7 23 7 16 4 5 3 2 3-1 4-2 3-4 7-14 7-19 24-81 7-15 4-4 3-2 21-1 24-4 7-2 14-8 6 0 4 1 7 5 20 23 7 4 4 0 3-1 7-5 21-27 7-4 3-1 7 3 21 19 7 4 3 1 7-2 17-10 7-2 4 0 10 4 17 12 11 3 6-1 7-4 24-15 7-3 7-1 7 1 7 3 24 15 7 2 4 0 3-1 7-4 17-15 7-4 3 0 4 1 7 5 14 16 6 6 7 2 4 0 7-5 17-19 7-5 3 0 7 1 17 13 7 3 4 0"/>
<path stroke="#0072BD" d="M229 1063l3-1 7 2 7 5 14 11 7 4 3 1 11-2 20-10 11-3 14-1 13 1 7 2 4 3 17 19 7 4 3 0 7-4 7-10 7-18 17-52 7-13 4-3 3-2 3 1 7 8 18 29 10 14 31 23 21 24 7 4 3 0 3-2 4-3 7-9 17-29 7-7 3-1 4 1 7 6 20 36 4 4 3 2 4-1 3-2 7-10 17-37 4-4 3-2 4 1 3 4 4 6 17 44 7 11 3 2 4-1 3-3 3-6 18-37 3-5 4-3 3-1 4 2 3 3 21 32 3 3 4 1 3 0 3-1 7-6 14-15 7-5 3-1 7 1 14 5 7 2 7 0 17-6 11 0 6 2 14 9 7 2 4-1 3-1 7-4 17-17 7-3 3 1 4 2 7 7 17 32 7 8 3 2 4-1 3-2 4-4 7-14 13-32 7-9 4-2"/>
<path stroke="#D95319" d="M229 1067l7-1 21 0 24-2 10 2 17 6 11 1 7-2 20-9 4-2 10-13 3-2 4-1 3 2 4 3 7 11 7 17 7 28 17 92 7 29 7 17 3 4 3 1 4-2 3-5 4-7 7-21 24-103 7-25 3-9 4-6 3-3 24-10 11-2 17 2 7-1 7 0 6 2 18 11 10 3 7 0 21-9 7-1 6 0 18 4 10 1 28-5 10 0 31 3 28 9 6 1 11-3 20-14 7-3 4 0 7 2 20 17 7 4 4 1 3 0 7-2 24-12 7-2 7-1 10 2 24 5 11 2 10-1 17-5 11 0 7 3 17 8 7 2"/>
<path stroke="#EDB120" d="M229 1070l38-8 14-1 7 2 7 2 17 11 7 3 7 1 3 0 7-3 10-8 11-16 6-8 4-1 3 1 7 6 7 12 7 21 21 79 7 17 3 5 4 2 3 0 3-2 7-11 7-16 17-51 11-26 7-12 3-3 4-2 31 0 20 3 24-4 11-1 10 3 17 7 11 2 10-3 17-11 7-2 4 0 3 1 7 5 17 17 7 2 4-1 6-5 21-27 7-4 4 1 3 1 7 8 17 25 7 6 3 2 4-1 7-3 24-29 7-5 3 0 4 0 7 3 24 21 7 4 3 0 10-2 18-10 7-2 6-1 18 2 7-1 20-6 7-1 11 3 20 15 7 3 4 0 6-1 11-8"/>
<path stroke="#7E2F8E" d="M229 1068l28-8 6-1 7 1 11 4 20 17 7 3 4 0 3-1 7-5 31-41 4-3 3-1 3 2 7 11 14 37 21 86 7 24 7 16 3 5 4 3 3 0 3-1 7-7 4-6 7-16 7-22 20-77 7-18 7-9 7-5 7-3 10 1 17 9 7 2 4-1 17-9 10-1 11 4 20 15 7 3 4 0 3 0 7-3 17-13 7-3 4 0 7 1 6 5 14 11 7 3 4 0 6-2 18-14 7-2 3-1 4 1 6 4 18 16 7 4 3 0 3 0 7-2 24-18 11-4 10 2 21 11 10 3 11-1 20-10 11-2 10 1 17 6 10 2 7-1 18-4 10 0 7 2 17 9 7 2 7-1 7-4"/>
<path stroke="#77AC30" d="M229 1059l10 1 7 2 21 11 7 2 7 0 7-1 20-6 11-1 10 0 17 2 4-2 10-16 3-3 4-1 3 1 4 4 7 11 7 20 7 35 17 105 7 32 3 11 4 7 3 4 3 1 4-3 7-11 3-10 7-24 7-32 17-92 7-31 4-10 3-7 7-10 7-6 3-1 4 1 7 4 20 29 4 2 3 0 7-2 24-12 11-3 10 0 10 1 42 11 13 1 14-3 24-12 11-2 10 2 21 15 7 4 7 2 3 0 10-5 24-20 7-3 4 0 3 1 7 4 17 20 7 5 4 2 3 0 7-3 7-7 14-16 7-4 3-1 4 0 6 4 18 17 7 4 3 1 3 0 7-2 18-10 10-2 7 0 17 7 7 2 7 0 7-2"/>
<path stroke="#4DBEEE" d="M229 1051l17 26 7 5 4 0 6-3 18-14 7-2 3 1 7 4 17 14 7 2 4-1 6-4 21-19 7-4 7 1 7 3 27 22 14 10 14 7 10 2 7-1 7-4 7-6 21-26 7-5 3-1 3 0 7 3 7 6 14 18 7 7 7 4 3 0 4-1 7-7 20-32 7-6 4-1 3 1 7 7 21 39 3 5 4 3 3 1 4-2 6-8 18-36 3-4 4-3 3-1 3 1 4 3 7 11 10 19 7 9 3 2 4 0 3-2 4-3 17-26 7-6 3 0 4 0 3 2 7 8 14 18 7 5 3 1 7-2 21-19 7-4 7 0 14 3 6 0 21-8 7 1 3 2 21 25 4 2 3 1 3 0 4-2 17-21 7-5 3-1 7 2 14 13 7 3 7-1 17-15 7-4 4 1 6 3 11 11"/>
<path stroke="#A2142F" d="M229 1062l14 20 7 5 3 1 4-1 6-5 18-20 7-4 3-1 4 1 6 4 21 21 7 3 3 0 4-1 7-5 20-24 7-5 4 0 3 0 7 2 7 6 17 18 7 5 7 2 4-1 6-3 25-20 6-3 4 0 3 1 7 4 17 12 4 2 7 1 7-2 17-7 10-2 28 2 24-5 10-1 11 2 20 7 14 1 11-1 41-10 10-1 7 1 7 1 7 3 28 18 6 2 4 1 7-2 3-3 7-7 17-22 7-5 4-1 3 1 7 7 21 36 3 4 4 2 3 1 4-2 6-9 18-33 7-7 3-1 3 1 7 7 18 26 6 5 4 1 7-1 17-11 10-4 31-3 11 0"/>
<path stroke="#0072BD" d="M229 1076l7-3 21-15 6-3 4 0 3 0 7 3 24 20 7 2 7 0 11-6 24-19 7-7 3-2 3-1 4 2 7 7 10 18 7 19 14 45 7 18 7 11 3 3 4 1 3 0 7-6 10-13 11-18 20-41 7-12 4-4 13-12 7-4 7-3 4 0 7 1 17 8 27 0 31 6 11-1 24-5 14-1 31 0 38 5 44 1 11-1 24-6 10-1 11 1 20 9 11 2 10-2 21-10 10-3 10 1 21 8 10 2 11 0 34-4 28 2"/>
<path stroke="#D95319" d="M229 1065l10-6 7 0 7 1 17 11 7 3 11 1 7-2 17-7 7-1 10 0 17 2 4-2 13-17 4-2 3 0 4 2 7 8 7 14 7 27 17 91 7 30 7 20 3 5 3 1 4-1 3-3 4-7 7-19 7-26 20-94 7-23 4-7 3-4 7-3 7-1 7 2 7 3 20 12 4 0 3-1 17-11 11-3 10 2 21 12 10 3 11-2 20-10 11-1 24 4 24 1 24 7 7 0 7-1 20-7 11-2 24 2 24 0 7 1 17 6 7 1 10-1 21-8 10-2 25 4 27 0 35 8 10 0 14-3"/>
<path stroke="#EDB120" d="M229 1072l10-8 7-2 4 0 7 2 17 11 7 2 3 0 7-2 21-11 10-1 10 3 14 8 14 12 3 1 4 1 3-2 4-2 7-8 10-16 21-53 7-13 7-8 3-2 3 0 7 4 11 11 10 16 21 37 10 14 3 2 4 0 10 0 11 2 31 11 3 0 7-3 21-17 7-3 3 0 10 2 18 10 7 3 13 3 14 2 10-1 7-3 28-15 7-2 7 1 10 3 31 17 7 2 7 1 7 0 7-2 17-9 7-3 10 0 17 4 7 0 7-2 14-7 7-1 3 1 7 3 21 21 7 4 3 0 4-1 7-6 20-30 7-5 4-1 3 1 7 7 17 27 7 7 4 2 3 1 3-1 4-3 7-8"/>
<path stroke="#7E2F8E" d="M229 1082l3-1 7-4 18-16 6-3 4-1 3 1 7 4 21 26 3 3 4 1 3 0 4-3 7-8 17-31 3-3 4-2 3 0 4 3 3 6 17 42 4 5 3 3 4 0 3-1 4-4 7-16 20-73 7-14 4-4 3-1 3 0 7 5 28 30 10 16 17 36 11 13 7 3 3 0 7-5 17-21 7-4 4 0 7 2 17 11 7 3 10 1 35-3 24-9 10-1 10 5 18 12 6 2 4-1 7-5 21-27 6-4 4 0 3 1 7 6 21 28 7 5 3 0 4-1 7-5 17-20 7-6 3-1 4-1 7 2 24 18 7 3 10 2 10-1 11-5 6-4 18-14 7-4 3 0 3 1 4 2 3 4 7 10 14 28 7 8 3 2 4-1 3-2 4-5 20-49 4-6 3-3 4 0"/>
<path stroke="#77AC30" d="M229 1062l7-2 7 0 7 3 20 11 11 2 10-2 17-6 7-2 7 0 10 1 14 4 4 3 10 16 3 4 4 1 3-1 4-4 7-13 7-17 3-11 7-31 14-77 7-34 7-23 3-7 3-4 4-1 3 1 7 9 11 27 10 40 21 93 6 23 4 6 7 8 7 6 7 4 7 0 3-1 38-25 7-4 3 0 7 0 7 4 14 9 7 2 3 0 11-3 17-10 10-2 10 3 18 11 7 2 3 0 10-4 18-13 7-2 3-1 3 1 7 4 18 16 6 4 4 1 3 0 7-4 21-18 7-4 3 0 7 2 21 14 10 4 11-2 17-9 10-2 7 1 17 8 7 2 10-2 18-8 10-2 10 3 18 10 7 2 6 0 11-3"/>
<path stroke="#4DBEEE" d="M229 1064l7-1 3 0 7 2 17 10 11 1 10-2 17-8 11-2 10 1 21 7 7 0 24-6 10-1 4 1 7 4 20 20 7 4 7 1 7-1 7-4 34-21 14-6 10-2 7 1 7 2 17 10 7 2 7-1 7-4 14-11 7-3 3 0 7 1 21 14 7 2 3 0 7-2 17-10 7-3 4 0 10 3 21 13 7 1 3 0 7-3 21-16 7-3 3 0 3 1 7 4 21 19 7 3 3 1 4-1 7-4 20-19 7-3 4 0 10 2 31 17 7 2 7 1 7 0 7-2 24-13 7-2 7-1 6 0 7 2 28 14 7 3 7 1 7-1 7-2 17-11"/>
<path stroke="#A2142F" d="M229 1072l7 1 7-1 20-7 11-1 7 1 17 7 10 2 11 0 27-7 4 1 10 9 3 2 4 1 7-3 10-12 7-10 7-19 21-77 7-21 6-14 4-3 3-2 4 1 3 3 7 12 10 32 21 82 7 19 3 4 4 2 17-3 7 0 14 6 14 9 3 1 4-1 6-5 18-24 7-5 3-1 7 2 17 18 7 5 4 1 6-1 21-14 7-2 3 0 7 1 18 8 10 3 10 0 21-8 10-1 11 2 20 9 7 2 7 0 10-3 32-15 6-2 7 0 7 2 7 4 21 18 7 3 3 1 4-1 6-5 18-20 7-5 3-1 3 0 7 3 21 22 7 4 3 0 4 0 7-4 14-10 6-4 11-2"/>
<path stroke="#0072BD" d="M229 1079l24-16 7-3 7-1 10 3 21 13 7 4 7 1 7 0 10-5 17-11 4-3 10-17 3-3 4-2 3 1 4 3 7 12 7 20 7 32 13 77 7 31 7 19 4 4 3 1 3-2 4-4 10-23 11-32 20-72 7-20 7-13 7-9 7-8 7-6 3-1 7 2 7 6 10 13 4 2 3 2 7-1 17-8 7-1 7 2 17 11 7 2 4 0 7-3 20-24 7-4 4 0 3 1 7 7 17 23 7 5 4 1 3-1 7-5 17-20 7-4 4 0 6 2 21 20 7 4 3 1 4 0 7-2 24-21 10-4 4-1 7 2 31 17 10 4 7 1 7-1 7-1 7-3 17-11 10-3 10 1 7 4 18 12 7 3 6 1 11-3 20-11 11-3"/>
<path stroke="#D95319" d="M229 1069l28-2 6 1 18 4 10 0 21-4 7-1 10 2 14 6 7 1 3-3 10-19 7-9 4-2 3 0 4 2 3 5 4 6 7 26 17 107 7 38 7 25 3 7 3 2 4-1 3-4 4-6 7-18 10-38 21-84 7-23 3-9 17-32 7-9 4-2 3 0 4 2 3 3 3 5 11 20 7 10 7 5 6 2 7-1 14-6 7-2 17 1 7-1 7-4 17-14 7-3 4 0 3 1 7 7 17 23 7 5 4 1 3-1 7-6 21-27 7-5 3-1 3 1 7 3 24 26 7 4 4 1 3 0 7-3 7-6 17-18 7-3 4-1 7 2 17 11 7 3 7 0 17-7 10-2 7 2 17 11 7 2 4 0 10-3 17-12 7-3 10-2 11 4 20 13 11 3"/>
<path stroke="#EDB120" d="M229 1076l7-4 17-17 7-3 3 0 4 2 7 6 14 17 7 7 6 3 4 0 3-2 7-7 14-19 7-9 7-3 3 0 4 3 13 31 4 6 3 4 4 1 3-1 4-3 7-11 7-23 20-110 7-28 4-10 3-7 3-3 4-1 3 2 4 4 3 6 7 18 10 36 18 70 10 33 3 6 4 3 21 9 7 2 6-1 18-6 7-4 17-17 7-2 3 0 7 4 7 7 10 14 7 7 7 3 4 0 3-2 7-7 14-22 7-9 6-5 4 0 7 4 24 34 7 5 3 0 4-1 7-3 13-13 7-5 11-3 10 1 24 6 28 4 17 3 10 0 14-1 17-3 31-11 7-1 7 0 7 2 21 9 7 2 7 1 10-2 24-8 14-2"/>
<path stroke="#7E2F8E" d="M229 1066l24-5 10 0 11 3 21 13 6 2 4 0 3-1 7-4 17-15 7-4 7-2 14 1 7 4 7 6 14 18 17 26 7 6 7 3 7-2 17-9 20-10 11-7 14-12 20-14 11-5 7-1 6 1 7 2 14 7 14 9 10 4 4 0 7-2 24-17 10-3 10 2 28 14 7 3 7 1 7-1 7-3 20-17 7-4 4-1 3 1 7 4 21 26 7 5 3 1 3 0 7-5 21-28 7-6 3-1 4 0 7 3 7 7 13 17 7 6 4 1 3 0 7-2 17-15 7-4 4-1 7 1 20 12 7 1 4 0 6-3 14-9 7-4 7-1 4 0 6 3 25 16 10 2 7-1"/>
<path stroke="#77AC30" d="M229 1074l10 2 11 0 7-2 17-8 7-1 3 0 11 4 17 14 7 2 3 0 4-2 6-5 14-14 4-5 10-19 3-4 4-1 3 2 4 5 7 15 7 22 7 34 17 109 7 35 7 24 3 7 3 2 4-1 3-4 4-9 7-26 7-39 13-93 7-40 7-26 4-6 3 0 3 2 14 17 7 5 4 2 7-1 13-4 11-5 3 0 7 2 14 7 7 0 7-3 10-6 7-2 3 1 7 5 11 11 6 6 7 2 7-3 14-11 7-5 7-1 14 1 6-1 21-10 7 0 4 2 6 7 18 26 7 6 3 2 3-1 7-5 24-37 7-6 4-1 3 0 7 4 7 8 17 23 7 5 4 2 3 0 7-2 17-12 7-3 7 1 17 7 7 0 7-4 17-19 7-4 4 1 3 2 4 3 20 37 4 4 3 2 4 0 3-2 3-4 11-20"/>
<path stroke="#4DBEEE" d="M229 1066l14-10 7-2 3 0 10 4 25 18 7 2 6 0 7-1 7-4 17-12 7-4 7-2 7 0 4 0 6 3 18 15 14 10 6 2 7 1 28-5 7 1 17 4 10-2 11-6 20-20 7-4 4-1 3 0 7 3 17 14 4 2 7 2 7 0 20-9 7-1 7 0 17 4 11 2 10-2 21-7 7-1 10 3 17 8 7 2 10 0 18-8 10-2 7 2 21 10 6 1 7-3 21-18 7-3 3 0 7 4 21 22 7 4 3 1 4-1 7-4 20-20 7-4 4-1 3 0 7 3 24 18 10 3 11-1 24-11 10-3 11 1 24 8"/>
<path stroke="#A2142F" d="M229 1060l7-4 7-1 10 1 10 4 25 17 10 2 7-1 7-4 17-14 7-5 7-2 3 1 4 1 3 4 10 13 7 7 4 1 7 0 7-4 7-11 6-17 14-41 7-18 7-12 3-3 4-2 3 1 4 2 3 3 7 11 7 15 21 52 7 13 3 4 3 2 4 0 3-1 14-8 7-3 10-1 11 2 14 7 10 1 31-3 34-6 28 1 21-1 10 2 21 9 7 1 7-2 20-12 7-1 7 2 21 15 7 1 6-2 21-19 7-2 7 3 7 6 14 16 7 5 3 1 3 0 7-4 21-23 7-5 3-1 4 0 7 2 24 18 10 4 11-1 27-11 21-4"/>
<path stroke="#0072BD" d="M229 1063l7-2 7 0 20 6 7 1 7-1 18-6 6 0 11 4 17 11 7 2 7-2 3-2 14-18 7-7 3-1 4-1 3 1 7 6 4 6 24 56 7 9 3 1 4 0 3-2 3-3 7-10 18-31 6-9 7-6 7-2 7 1 14 8 7 3 10 2 11-1 10-3 24-15 10-2 11 2 17 10 10 4 11-1 27-9 14-2 34 5 32 1 10 2 17 6 10 1 11-2 24-12 10-3 11 3 24 17 7 3 3 0 4 0 6-3 21-16 7-5 7-2 10-1 11 2 10 5 31 22 7 2 3 1 7-3 7-5 21-24"/>
<path stroke="#D95319" d="M229 1069l14-3 41-2 11 2 17 5 10 2 10-2 14-5 4 1 3 3 7 10 3 3 4 2 3 0 4-3 10-14 7-16 7-30 17-100 7-34 7-24 3-6 4-3 3 0 4 3 3 6 7 20 10 46 18 93 7 33 3 12 3 8 4 5 3 1 7 1 7-2 24-14 4-1 3 1 14 6 10 1 11-2 24-9 10-1 14 1 31 8 14 1 10-3 24-12 11-3 7 1 6 4 18 16 7 5 6 2 4 0 3-1 7-5 17-19 7-5 4-1 3 0 7 3 24 23 7 3 4 1 3-1 7-2 21-14 7-4 6-1 11 1 20 7 11 3 10 0 17-4 7 0 7 0 17 4 11 0"/>
<path stroke="#EDB120" d="M229 1076l21-15 7-3 3 0 3 0 7 2 18 11 10 5 10 1 14-2 24-8 4-3 10-22 3-5 4-2 3 0 4 4 7 13 3 10 7 32 17 123 11 58 3 13 4 8 3 4 3 0 4-3 3-6 4-8 7-24 7-32 20-117 7-33 4-11 3-7 7-9 7-5 7-1 7 4 7 8 13 18 4 2 3 0 7-2 17-9 7-2 7-1 45 6 28 6 10 1 10-3 21-12 10-2 11 3 24 18 7 2 3 0 10-3 25-16 6-3 7-1 11 1 24 14 10 2 11-1 17-8 10-3 7 0 21 4 7-1 20-4 11 2 20 13 7 1 4 0 7-2 17-12"/>
<path stroke="#7E2F8E" d="M229 1067l21-3 13-1 14 2 24 7 14 1 35-9 3-2 10-13 4-2 3 0 4 3 3 4 7 12 7 20 7 32 14 75 7 30 7 19 3 5 3 3 4-1 3-3 4-5 3-6 7-18 10-38 18-77 7-25 3-9 7-12 7-9 7-4 3 0 7 4 7 8 14 20 3 3 4 0 7-2 17-11 10-3 7 1 14 6 7 1 7 0 17-5 7-1 7 2 17 9 7 1 3 0 4-1 7-4 17-15 7-3 3 0 4 1 7 4 20 21 7 4 4 0 3-1 7-4 21-22 6-5 4-1 3 0 7 3 7 7 17 20 7 5 4 1 3 0 7-3 7-6 17-18 7-5 4-1 3 0 7 2 7 4 17 13 7 3 7 2 10-1 21-9 10-4 11 0 17 3"/>
<path stroke="#77AC30" d="M229 1061l21 9 10 0 17-3 7 0 7 2 17 6 7 1 11-2 17-10 3-1 4 1 10 13 3 2 4 1 3 0 4-3 10-13 7-17 7-29 21-104 7-23 3-7 3-4 4-1 3 1 4 4 3 5 4 7 7 20 10 40 17 80 7 27 3 8 4 6 7 8 7 5 7 1 7-3 17-20 14-8 6-1 7 2 7 4 14 11 7 3 3 0 4 0 7-5 17-16 7-4 3 0 4 0 7 4 20 18 7 3 4 0 3-1 7-4 14-11 7-5 7-2 3 0 4 1 6 4 21 18 7 3 3 0 4 0 7-3 24-20 7-2 3-1 11 3 20 11 11 2 10-1 21-4 31 0 24-5 7-1 10 3 17 8 11 2 10-2 14-7"/>
<path stroke="#4DBEEE" d="M229 1070l14-13 7-4 3 0 4 1 6 4 21 19 7 4 4 0 3 0 7-2 21-13 10-4 10 0 21 8 7 0 7-1 7-2 7-4 31-26 6-3 7-2 7 1 7 3 7 5 17 16 11 7 6 2 14 3 21 8 7 1 10-3 7-4 14-12 7-3 3 0 4 0 7 4 17 15 7 3 3 0 7-2 17-12 11-4 3 0 7 2 17 10 11 3 10-2 21-10 7-1 3 0 7 3 17 12 7 3 3 0 4 0 7-3 20-17 7-3 4-1 10 3 21 11 10 2 21-1 21 1 10 0 10-4 17-9 11-2 10 3 21 14 10 4 11-1 17-8"/>
<path stroke="#A2142F" d="M229 1074l21-10 10-2 10 1 28 10 7 1 10 0 14-4 21-8 13-17 4-2 3 1 4 2 3 5 7 13 7 22 21 103 7 26 7 15 3 4 3 0 4-2 3-4 4-5 7-17 10-34 21-82 7-20 6-10 7-5 7-3 7-1 7 3 7 4 10 10 7 3 7 0 21-7 10-2 10 3 18 10 7 1 3-1 7-4 17-16 7-4 4 0 6 4 21 23 7 3 7-2 21-20 7-3 3 0 7 3 17 15 7 4 3 0 7-1 18-13 6-3 4-1 7 1 21 11 10 2 10-3 17-7 11-2 45 3 24 6 7 1 10-2 17-8 7-2 10 1 11 5"/>
<path stroke="#0072BD" d="M229 1057l7-1 3 0 7 4 7 7 14 16 7 5 3 2 4-1 7-3 24-26 7-4 7 0 10 5 14 11 10 16 7 7 3 1 4-1 7-7 10-16 7-20 24-93 7-18 3-6 4-4 3-2 4 0 3 3 4 3 7 14 10 32 17 68 7 24 3 8 4 5 3 2 4 1 7-1 24-13 7-2 14 3 10-1 7-3 17-11 7-1 3 0 7 2 24 21 7 2 4-1 7-4 20-23 7-3 4 0 7 3 24 28 7 5 3 0 4 0 6-3 21-15 7-3 7-2 24 0 14 1 10 4 21 11 7 1 3 0 7-2 21-16 7-3 3 1 7 3 14 16 7 6 3 1 4 0 6-4 14-20 7-8 4-2 3 0 4 2 3 4 17 35 4 5 3 3 4 1 3-2 3-5 11-25"/>
<path stroke="#D95319" d="M229 1067l21 2 7-1 20-6 11-2 10 3 21 10 10 3 14-3 24-9 7-1 10 0 7 2 7 5 21 19 7 6 6 3 4 0 3 0 7-3 7-6 17-17 7-4 7-3 7 0 24 2 24 7 7 0 11-2 17-10 10-3 7 1 21 9 10 1 28-4 7 0 17 4 7 0 10-1 17-5 11-1 48 7 17 1 10-1 21-6 11-2 10 2 24 10 10 1 11-1 20-10 11-2 10 1 21 8 10 3 10 0 42-7"/>
<path stroke="#EDB120" d="M229 1071l14-11 7-2 3 0 7 2 21 12 7 3 10-1 17-6 7-1 7 0 14 3 3-1 4-4 7-12 6-9 4-1 3 1 4 3 7 12 3 11 4 14 7 43 13 101 7 41 7 26 4 6 3 2 3-2 4-6 3-9 7-27 7-35 17-100 11-48 3-10 4-5 6-6 7-4 7-2 7 2 7 5 14 15 3 3 4 0 7-1 20-8 7-1 11 1 17 4 7 1 7-1 17-5 7-1 10 2 17 8 11 2 10-4 17-10 7-3 4 0 10 3 21 14 10 3 10-2 24-14 11-3 10 2 24 9 18 1 27-2 28-8 10-2 10 2 28 14 10 2 7-1 7-3 21-13"/>
<path stroke="#7E2F8E" d="M229 1077l14-6 7-2 7 1 17 5 7 1 7-2 17-6 7 0 7 2 17 11 7 2 3-1 4-4 10-26 7-12 3-3 4 1 3 3 4 6 3 10 7 35 17 135 7 43 4 14 3 10 4 3 3-2 3-6 4-10 7-26 20-94 11-38 7-21 7-14 17-25 7-7 3-2 4 0 3 2 4 4 13 25 4 4 3 3 4 1 3-1 7-5 21-29 7-5 3-1 3 0 7 5 18 21 7 7 3 2 7 2 10-2 21-8 10-6 17-15 7-3 4 0 3 1 7 6 24 44 4 4 3 2 4 0 3-1 7-9 17-36 7-11 7-7 3 0 4 0 7 6 21 34 6 9 7 6 4 0 3 0 7-4 7-8 21-27 7-6 3-1 3 0 7 3 21 19 7 5 3 1 4 1 7-1 20-10 11-2 10 2 21 9"/>
<path stroke="#77AC30" d="M229 1060l7-4 3-1 7 1 11 6 20 18 7 3 4 1 3-1 7-2 21-14 10-5 10 0 11 3 13 1 11 3 10 4 7 5 7 9 21 33 7 8 6 2 7-1 4-3 7-7 24-39 7-9 7-6 10-2 10 0 7 0 7 2 17 8 7 0 11-2 17-8 7-2 10 1 17 5 7 1 11 0 17-4 10-1 35 5 10-1 21-7 7 0 10 2 21 14 6 2 4 1 3 0 7-3 24-21 7-2 4 0 7 3 7 6 13 15 7 5 4 1 3 0 7-3 21-21 7-5 3-1 3 1 7 3 18 15 6 3 4 1 3 0 7-2 18-9 6-2 11 0 20 7 11 0"/>
<path stroke="#4DBEEE" d="M229 1058l7-7 3-2 4-1 3 1 7 5 17 17 7 4 7 2 11-1 31-10 17-3 7 1 17 12 3 1 7-1 7-4 7-8 7-14 21-54 7-12 3-3 3-2 4 0 3 2 4 3 7 8 7 10 24 44 10 14 7 5 24 10 7 2 7 0 14-2 7-3 17-10 10-2 10 2 18 9 7 1 10-1 17-7 7-1 7 2 17 8 7 1 4 0 6-3 18-13 7-3 3 0 7 4 21 23 7 4 3 1 3-1 7-5 21-23 7-4 3 0 4 0 7 3 24 15 7 2 7 1 7-1 6-2 25-11 10-3 10 1 21 10 7 2 7 0 45-1 6-2 11-6"/>
<path stroke="#A2142F" d="M229 1062l10 1 18 8 10 2 7-1 17-7 7-1 7 0 21 6 6 1 7-1 7-2 4-2 10-9 3-2 4 1 3 2 11 13 7 13 20 66 7 18 7 11 4 4 3 1 3 0 7-4 4-3 7-11 10-22 21-57 7-14 17-20 7-4 3-2 4 0 7 3 13 13 7 6 11 3 10 2 24 0 10-2 11-5 14-9 6-3 4 0 3 1 7 4 17 22 7 5 4 1 3-1 7-6 21-30 7-5 3 0 4 1 7 7 13 22 7 10 7 4 4 1 6-4 21-26 7-6 3-1 4 0 7 2 21 17 10 5 3 0 7-2 21-11 7-1 3 0 11 4 17 12 7 2 3 0 7-4 21-21 7-3 3 0 4 1 6 5 18 23 7 7 6 2 4 0 7-4"/>
<path stroke="#0072BD" d="M229 1066l17 9 7 2 4 0 6-3 18-11 7-2 7 1 20 9 7 3 7 0 21 1 20-6 11-2 7 0 7 6 6 10 18 37 7 11 3 4 3 2 4 1 3-2 7-7 7-14 17-38 7-11 4-3 3-1 4 0 17 7 7 1 7-1 27-10 11-1 10 4 21 12 10 2 7 0 7-3 20-12 11-4 7-1 7 2 20 12 11 2 10-2 17-9 7-2 4 0 10 4 17 11 7 2 3 0 7-2 18-12 6-3 4 0 3 0 7 4 18 15 6 3 4 0 7-2 20-21 7-4 4 0 7 3 17 15 7 4 3 1 7-1 17-10 7-2 11 1 17 8 10 2 11-2 17-5"/>
<path stroke="#D95319" d="M229 1069l7-2 7-1 20 4 7 0 7-1 18-8 6-1 11 3 14 8 6 3 11 1 14-3 10-4 24-11 24-16 7-2 7-1 21 2 10 3 10 7 18 16 6 4 11 0 17-4 10-1 7 2 21 13 7 1 3 0 7-2 24-16 11-4 7 0 7 1 6 3 21 11 7 2 7 1 10-3 24-16 11-2 7 1 7 4 17 15 7 4 7 3 3 0 3-1 7-4 21-21 7-4 3-1 4 0 7 4 17 18 7 5 3 1 4 1 7-2 17-11 7-3 7 1 20 8 7 0 11-4 17-13 7-2 7 1 7 4 17 16 7 5 3 2 4 0 6-2 11-9"/>
<path stroke="#EDB120" d="M229 1064l10 1 21 7 7 1 7-2 21-8 10-1 10 1 21 7 10 2 7-3 7-5 7-4 3-1 7 2 7 4 7 11 24 58 7 10 4 3 3 0 7-3 10-11 35-53 7-8 13-11 7-3 4-1 3 0 7 3 17 15 7 2 4 0 7-4 17-14 7-2 3 0 7 3 21 18 7 2 3-1 7-4 17-16 7-3 4-1 6 3 21 18 7 3 3 0 7-3 18-16 7-3 3-1 3 0 7 4 14 13 7 5 7 2 7-2 7-5 13-14 7-4 4 0 3 0 7 3 21 16 7 4 3 0 4 0 7-3 20-13 11-2 6 0 18 6 10 2 28-1 31 2 24-2"/>
<path stroke="#7E2F8E" d="M229 1067l10-2 7 1 7 2 17 8 11 1 10-3 21-10 7-2 7 0 10 3 10 4 4 3 7 9 6 5 4 0 3-1 7-8 11-17 7-19 17-68 7-23 7-15 3-3 3-2 4 1 3 3 4 4 7 13 10 27 21 62 7 16 3 6 3 4 4 1 28 9 20 1 7 0 7-3 14-7 10-4 10 1 21 4 31-2 31 3 11-1 20-5 7 0 7 1 7 2 24 11 10 1 11-3 20-16 11-4 3 1 7 2 21 16 7 3 3 1 4 0 7-3 17-12 7-3 3 0 7 1 17 9 11 3 6-1 18-6 10-2 10 2 25 8 6 0 11 0"/>
<path stroke="#77AC30" d="M229 1064l10-3 7 1 31 14 7 2 11 0 10-1 10-3 7-3 17-11 7-2 4 1 3 2 21 25 7 4 3 0 4-1 3-4 4-7 6-18 14-45 7-17 4-6 3-3 3-1 4 1 7 9 24 50 7 11 7 8 7 3 3 1 14-5 10 0 7 2 21 11 7 2 3 1 7-1 28-13 20-3 21-6 7 0 7 2 3 3 7 8 10 14 7 7 4 2 3 1 4-1 7-7 20-35 7-6 4-1 3 1 7 7 14 23 7 10 7 5 3 1 3-1 7-5 24-31 7-5 4-1 7 2 7 6 20 29 7 7 4 2 3 0 4-1 3-3 7-9 17-30 7-6 3-2 4 1 7 5 20 31 7 5 4 1 7-2 17-18 7-5 3-1 7-1 17 5 11 1"/>
<path stroke="#4DBEEE" d="M229 1076l14-20 7-6 3-1 4 1 6 5 21 25 7 4 7 1 7-3 21-14 20-12 4-2 10-12 3-1 4 0 3 1 4 4 3 6 7 15 7 22 17 66 7 17 4 5 3 2 4 0 3-2 7-9 31-60 10-19 7-10 7-5 14-7 7-2 3 0 7 1 14 8 7 2 7-3 20-16 7-2 4 0 7 3 20 20 7 3 4 0 7-3 20-19 7-2 4 0 3 1 7 5 17 16 7 3 3 0 4-1 7-5 17-19 7-4 3 0 7 4 21 23 3 2 4 1 3-1 7-6 17-25 4-3 3-1 4 0 3 2 7 7 17 27 7 5 4 1 3-1 7-7 17-25 7-6 4-1 3 0 7 3 21 17 10 4 7 0 21-2 24 0 7-1 24-8"/>
<path stroke="#A2142F" d="M229 1066l7-9 7-7 7-3 3 0 4 2 6 6 18 25 7 6 3 1 4-1 6-4 18-19 7-5 3-1 7 1 14 10 3 1 7 1 21-3 7 0 3 2 7 8 21 39 7 11 3 4 7 6 7 1 7-3 7-8 10-19 14-34 7-14 6-8 7-4 4 0 7 5 20 27 7 5 4 0 3-1 4-3 17-20 7-5 3-1 7 1 17 14 7 4 4 1 7-1 17-10 7-2 3 0 11 3 17 10 7 1 3 0 7-3 17-11 7-2 4 0 7 4 6 7 14 17 7 5 4 0 3 0 7-6 7-9 14-24 6-7 4-1 3 0 7 4 21 32 7 7 3 2 4 0 7-3 20-22 7-5 7-2 7 1 17 3 21-2 7 1 10 3 17 10 7 1 11-1 24-10"/>
<path stroke="#0072BD" d="M229 1088l14-1 10-2 7-2 17-9 7-2 4 0 3 1 7 4 21 19 7 3 3-1 7-4 10-10 7-5 14-3 21 1 3-1 4-3 6-10 25-51 6-8 7-4 4 1 3 1 7 7 7 10 17 33 11 14 3 2 3 1 14-3 7 1 4 1 10 7 17 17 7 4 4 0 6-3 7-6 18-19 10-7 7-1 10 2 42 22 6 2 7 1 7-2 4-2 7-6 17-20 7-4 3 0 4 1 7 7 20 33 7 6 4 1 3-2 7-6 17-26 7-5 3-1 4 0 3 2 21 25 4 2 3 1 3-1 4-2 3-4 18-23 3-3 3 0 4 1 7 8 17 34 3 4 4 2 3-1 4-3 7-12 17-43 7-10 3-2 4 1 3 2 4 4 17 31 7 9 3 3 4 1 7 0 6-3 11-8"/>
<path stroke="#D95319" d="M229 1075l7-4 17-14 7-3 7 0 3 1 7 5 18 16 6 4 4 0 3 0 7-4 17-16 7-3 18 0 6 1 11 7 14 14 7 12 17 42 7 14 7 10 3 2 3 0 4-1 3-2 7-9 7-13 21-46 7-11 3-4 4-3 3-1 28-6 10-1 14 1 14-2 6 0 11 2 20 9 11 1 10-3 21-13 7-2 3 0 4 0 7 5 13 13 7 5 7 2 4-1 6-4 14-14 7-5 7-2 4 1 6 5 14 16 7 7 7 3 3-1 7-4 21-27 7-5 3-1 7 3 7 7 14 17 7 5 3 1 4 1 7-2 20-15 7-3 7-2 7-1 7 0 10 2 24 11 7 2 11-1 20-9 7-1 11 2 17 8"/>
<path stroke="#EDB120" d="M229 1072l24-15 7-3 7 0 10 4 18 14 6 5 7 2 4 0 7-3 17-14 7-4 7-2 10-4 3 0 4 1 3 2 7 7 11 16 7 16 17 51 7 17 7 10 3 3 3 0 4 0 7-6 10-15 7-14 21-49 7-14 17-21 7-6 3-2 7 1 4 1 6 7 14 17 7 5 7 1 3 0 7-3 24-19 11-3 10 2 31 15 11 3 6 1 7-1 7-2 7-4 21-16 7-2 3 0 4 1 7 6 13 16 7 6 7 4 4 0 3-1 7-4 21-18 6-3 7-1 7 0 7 3 24 11 14 3 10-1 28-6 38-5 10 0 11 3 20 12 7 2 4 0 7-3 6-5 11-9"/>
<path stroke="#7E2F8E" d="M229 1073l21-18 7-3 6-1 4 1 7 3 24 24 7 3 7-1 7-3 17-15 14-8 10-14 3-3 4-1 3 2 4 5 7 14 7 22 7 35 17 113 7 33 3 12 4 8 3 4 3 1 4-3 3-6 4-7 7-22 10-45 21-104 7-24 3-8 7-9 7-7 7-4 3 0 7 2 7 5 10 10 4 2 3 0 14-3 7 0 7 3 17 10 7 1 3 0 7-3 21-18 7-3 3 0 4 1 7 5 20 23 7 4 4 0 3-1 7-6 17-24 7-7 4-2 3 0 4 1 3 3 7 8 10 17 7 9 7 4 3 0 4-1 7-6 17-20 7-5 3-1 7 1 21 15 7 3 3 1 11-2 17-9 7-2 10 2 21 9 7 0 7-3 17-12 7-2 3 0 7 4 21 22 7 3 3-1 7-5 14-19"/>
<path stroke="#77AC30" d="M229 1063l7-2 7 0 17 7 10 3 7-1 18-3 10 0 31 6 10 1 7-2 10-8 7-3 7-2 7 2 4 2 7 10 20 52 7 14 4 5 3 2 3 1 4-1 3-2 7-9 24-48 11-16 7-6 17-5 7 0 7 1 7 3 13 9 7 2 11-3 17-9 10-3 10 1 18 8 10 3 10-1 18-5 7-1 10 1 17 4 10 1 11-2 17-4 10-1 11 2 20 8 7 0 11-2 20-11 11-2 10 3 17 11 11 3 10-3 21-11 10-2 10 3 18 7 6 2 11 0 24-8 10-1 11 2 17 6 7 2"/>
<path stroke="#4DBEEE" d="M229 1053l7-2 7 2 7 5 17 15 7 5 7 3 10 2 10-2 7-3 11-6 17-14 7-4 3-1 4 1 3 3 10 17 7 7 4 2 3 1 7-2 4-2 3-5 7-19 21-88 7-26 6-16 4-4 3-1 4 1 3 4 7 14 7 22 17 70 7 24 7 17 3 4 4 2 3 0 18-5 7-1 13 0 14 3 4-1 6-3 18-12 7-2 3 0 7 2 21 13 7 1 3 0 10-5 18-13 6-3 4 0 3 1 7 3 21 19 7 4 3 0 4 0 7-3 17-12 7-3 3-1 7 1 21 11 7 1 3 0 7-2 17-11 7-3 4 0 7 2 20 13 7 3 4 0 6-2 21-11 10-3 11 2 17 5 10 3 11-1 17-4 10-1 11 3 17 6 7 1"/>
<path stroke="#A2142F" d="M229 1063l7-5 7-2 7 2 17 9 10 4 24-2 25 0 20-4 4 2 13 10 7 2 7-2 7-5 7-10 7-18 21-67 7-14 3-4 3-2 4 0 3 3 7 8 11 23 24 63 7 13 3 3 3 2 7 0 14-1 24-4 62 3 28-7 7 0 10 1 24 6 14 2 14-1 24-5 10-2 11 1 24 5 10-1 24-4 31 4 7-1 18-6 6-2 11 2 17 11 7 3 3 0 4 0 7-4 17-14 7-4 3 0 4 0 7 2 17 13 10 6 11 0 6-2 11-5"/>
<path stroke="#0072BD" d="M229 1056l17 37 4 5 3 2 4 0 3-2 7-10 14-26 3-3 4-2 3 1 4 2 3 4 17 29 4 3 3 1 4 0 3-2 3-4 18-30 7-10 6-5 4-1 7 4 7 8 24 38 7 6 3 2 4 0 7-3 17-20 7-6 3-2 4 0 6 3 18 16 7 3 3-1 7-5 17-28 7-9 4-2 3 0 3 2 4 4 17 30 7 10 3 3 4 2 3 0 4-1 7-6 17-21 7-5 3-1 7 0 17 5 7 0 14-3 7 1 3 2 7 5 18 19 6 3 4-1 7-4 17-22 7-6 3-1 7 1 21 14 7 2 3 0 7-4 14-11 7-5 7-1 3 0 7 4 17 16 7 4 7 1 17-6 7-1 7 2 11 4 6 1 7-4 4-3 17-27 7-8 3-2 4 1 3 2 4 4 7 12 10 22 7 11 7 6 3 1 4-1 7-6 6-11 11-20"/>
<path stroke="#D95319" d="M229 1075l17-16 7-3 4 0 3 1 7 3 24 16 7 3 10 0 24-6 11-2 3-2 4-4 10-17 3-3 4-1 3 2 4 3 7 12 7 23 7 38 13 92 7 39 7 25 4 7 3 3 3-1 4-4 3-7 7-23 7-32 21-121 7-34 3-11 4-7 3-4 3-3 4-1 3 0 7 5 7 8 17 23 4 3 3 1 4-1 3-2 14-13 7-3 3-1 4 0 7 2 24 13 10 2 11-2 20-13 7-3 4-1 6 2 4 2 21 21 6 4 4-1 7-5 17-30 7-8 3-1 4 1 3 3 4 6 17 42 7 12 3 2 4 0 3-3 4-6 17-41 7-11 3-2 4 0 3 2 7 9 14 22 7 6 3 0 4 0 13-9 7-2 7 0 17 6 7-1 7-4 17-16 7-4 4 0 3 1 7 5 17 17 11 7 7 2 7 1 6-1 11-3"/>
<path stroke="#EDB120" d="M229 1061l10-6 7 0 4 1 10 9 14 17 7 7 7 3 3 1 4-1 6-5 25-30 6-4 7 0 4 1 3 3 4 6 10 29 3 7 4 4 3 1 4-1 3-5 7-14 7-27 7-43 14-104 7-43 7-29 3-7 3-3 4 2 3 5 4 9 7 24 10 50 21 111 7 30 3 12 3 7 4 4 3 2 7 3 4 0 7-1 7-4 13-12 4-1 34 4 11 3 13 5 11 1 3-1 7-4 21-20 7-3 3 1 7 5 21 30 7 6 3 1 3 0 7-6 25-41 6-6 4 0 3 1 7 7 21 32 7 6 3 2 4 0 7-4 24-25 7-4 7-2 6 1 7 2 28 16 7 4 7 2 7 0 6-2 28-14 7-2 7 0 10 1 17 4 14 5 17 9 7 1 4 0"/>
<path stroke="#7E2F8E" d="M229 1067l7-2 7 0 7 3 13 8 7 2 4 0 7-2 17-11 7-2 3 0 7 3 17 12 7 4 18 3 3-1 7-3 10-13 14-21 14-26 7-11 7-7 3-2 7-2 7 2 10 6 11 6 6 7 11 13 17 30 7 7 7 3 7 2 27 1 14 6 7 2 7 0 3-2 7-4 17-14 7-3 4 0 3 1 7 4 21 20 7 3 3 0 4-2 7-6 17-23 7-4 3 0 7 4 17 20 7 6 4 1 7 0 20-11 7-1 7 1 17 7 11 0 10-4 17-11 7-2 4 0 3 1 7 3 24 24 7 4 3 1 4-1 7-4 7-9 17-27 7-6 3 0 4 1 6 7 18 31 7 8 3 2 4-1 6-6 14-21 7-8 4-1 3 0 3 2 11 10"/>
<path stroke="#77AC30" d="M229 1078l7 2 7-2 7-6 13-15 7-5 4-1 3 0 7 4 21 24 7 3 3 1 4-1 7-6 13-16 7-7 7-4 4-1 3 1 3 1 7 7 35 45 10 7 7 2 7-2 10-7 11-10 20-23 11-7 3-1 7 1 7 4 17 14 7 2 4 0 3-1 7-4 17-22 7-5 3-1 4 0 7 4 17 19 7 4 3 1 7-1 18-14 6-3 4-1 7 1 20 13 7 2 4 0 7-1 20-12 11-3 10 1 35 12 13 2 11-1 10-2 35-10 10-1 10 4 21 15 7 2 7-2 20-12 11-3 20 2 25-1 20 6 7 1 10-2 11-7"/>
<path stroke="#4DBEEE" d="M229 1066l10-12 7-3 4 0 3 1 7 4 21 22 7 4 7 0 3-1 7-4 17-14 10-6 7-1 7 1 11-2 6 1 4 1 7 6 10 14 7 15 21 57 7 13 3 3 4 2 3 0 3-2 4-3 7-10 10-19 21-45 7-12 7-8 10-6 7-2 7 0 3 1 7 4 10 8 7 2 7-1 21-16 7-2 3 0 7 3 17 16 7 4 4 1 7-1 7-5 13-12 7-4 4 0 3 0 7 2 14 8 7 3 10 0 17-6 11-2 7 2 20 10 7 2 10-3 25-14 10-3 10 3 24 12 11 2 10-1 21-7 10-1 21 1 27-1 11 3 17 6 10 1 11-4 17-9 7-2"/>
<path stroke="#A2142F" d="M229 1071l14-6 10-1 10 0 25 5 10 1 10-1 24-6 7 0 11 2 10-4 7-1 7 3 10 8 7 11 24 70 7 13 4 3 3 2 3-1 4-3 7-8 27-53 14-21 4-4 10-6 14-11 10-5 7-1 14 2 14-2 6 1 11 5 20 19 7 2 4-1 7-4 20-25 7-4 4 0 7 3 7 6 13 16 7 5 4 1 3 0 7-2 21-17 7-3 3-1 4 1 6 3 18 13 7 4 3 0 3 1 7-3 21-16 7-3 3 0 7 3 18 16 6 4 4 1 3-1 7-3 17-15 7-4 4 0 7 0 24 12 10 2 10-1 25-5 13-1 21 0 21 2"/>
<path stroke="#0072BD" d="M229 1076l10-3 24-12 11-2 10 4 24 18 7 2 7-1 10-6 14-15 14-26 3-4 4 0 3 2 4 5 7 16 7 24 20 122 7 32 4 12 3 7 4 4 3 1 3-3 4-5 3-8 7-20 28-107 7-23 3-8 4-6 17-16 7-6 7-3 3 0 7 2 14 9 34 10 14 2 14-2 24-10 10-2 11 2 24 13 10 2 10-4 21-13 7-2 4 0 6 3 21 17 7 4 3 0 4 0 7-2 7-6 17-17 7-4 3-1 4 1 7 3 17 18 7 5 3 1 4 0 7-2 20-20 7-4 4-1 3 1 7 3 17 15 7 4 3 0 4 1 7-2 24-15 10-3 11 3 24 13"/>
<path stroke="#D95319" d="M229 1069l14-1 20-3 7 0 11 2 17 6 7 0 10-2 17-9 7-1 11 3 17 10 7 2 3 0 7-3 7-4 17-15 7-5 7-3 7-1 7 1 7 2 20 11 11 4 10 1 17-3 11 0 7 3 17 12 10 4 4 0 7-2 20-14 7-4 10-2 11 2 27 10 14 2 17-2 35-11 14-1 10 3 28 14 10 2 10-2 28-15 10-3 7 1 7 2 21 11 10 3 10-1 25-11 10-2 10 1 42 10 17 3 14-2 24-9"/>
<path stroke="#EDB120" d="M229 1106l3 2 4 0 3-1 4-4 7-11 17-36 7-8 3-1 4 1 3 3 4 4 17 36 7 10 3 3 4 0 3-1 4-3 17-28 3-3 4-2 3 1 14 9 3 1 4 0 7-2 7-7 3-5 14-33 7-15 7-8 3-3 4 0 3 0 14 5 20 0 7 4 4 4 7 11 13 30 14 25 7 8 7 4 7-1 14-10 7-2 7-2 17 1 7-2 7-5 17-17 7-2 3 0 7 4 17 22 7 6 4 0 7-2 17-17 7-3 7 1 17 12 7 2 7-2 17-14 7-3 7 1 17 10 7 3 3 0 7-1 17-9 7-2 7-1 11 2 10 2 10 4 24 16 7 3 4 0 3-1 7-3 17-15 7-4 4-1 6 0 18 7 7 2 7 0 20-3 28 5"/>
<path stroke="#7E2F8E" d="M229 1069l21-7 10-1 10 3 25 15 6 2 4 0 10-4 21-17 10-6 11-9 3-1 3 1 4 2 7 9 10 22 7 22 14 50 7 19 7 11 3 3 4 1 3-1 7-6 7-8 7-10 13-27 18-47 7-15 10-17 7-7 3-1 4-1 7 4 20 25 4 2 3 1 7-1 17-7 7-2 24-1 31-4 7 0 11 2 31 11 7 2 6-1 11-3 21-14 6-2 4 0 7 3 24 20 7 3 3 0 4-1 7-4 20-17 7-3 4 0 10 2 24 15 10 3 7-1 7-1 24-13 11-2 7-1 6 2 25 9 13 3 14-2 28-8"/>
<path stroke="#77AC30" d="M229 1077l7 3 7 0 7-3 20-12 7-2 11-1 13 1 28 6 21 0 3 2 10 10 4 2 3-1 4-1 7-7 7-10 7-15 6-23 18-67 7-20 6-13 4-3 3-1 4 0 7 3 3 4 7 13 3 8 11 35 20 85 7 17 7 9 4 3 3 0 4-1 3-2 7-9 14-25 7-6 7-2 3 0 7 3 21 13 6 2 7 0 62-7 11 1 17 4 7 0 7-2 17-11 7-2 3 0 4 1 7 4 17 15 7 3 7 1 7-2 13-5 32-16 6-2 4 0 3 1 7 4 21 22 7 4 3 1 7-2 21-16 10-4 10 0 18 7 10 2 28-3 24 1"/>
<path stroke="#4DBEEE" d="M229 1054l7-4 3-1 4 1 7 5 20 22 7 4 4 0 3 0 7-2 17-12 7-3 7-2 10 1 7 3 7 4 4 5 10 19 3 4 4 0 3-2 7-12 11-30 7-31 17-103 7-33 7-21 3-6 3-3 4 0 3 3 4 4 3 6 7 17 7 23 7 30 24 125 3 12 7 15 7 8 4 2 3-1 4-2 3-4 17-32 4-4 3-2 4-1 7 3 20 15 7 1 7-1 14-7 7-2 7 0 20 6 7 0 7-1 21-7 10-1 38 3 10 4 18 10 7 2 3 0 7-2 21-14 6-2 4 0 7 1 21 11 6 1 4-1 7-4 17-13 7-2 3-1 4 1 7 3 20 16 7 4 4 0 3 0 7-3 17-11 11-4 3 0 7 2 17 10 7 3 4 0 6-2 11-7"/>
<path stroke="#A2142F" d="M229 1071l14-5 7 0 7 2 17 7 10 1 7-2 17-8 11-3 10 2 21 10 7 1 10-3 21-11 7-1 10 4 21 12 10 5 10 3 11 0 6-1 7-4 21-17 10-7 7 0 4 1 7 5 13 13 7 3 4 0 7-3 17-19 7-3 3-1 7 4 17 20 7 6 4 2 3 0 7-3 17-17 7-4 4-1 3-1 7 3 24 18 7 2 3 0 4-1 7-3 21-16 6-3 4 0 3 1 7 4 17 19 7 5 4 1 3 0 7-5 21-27 7-6 3 0 4 0 7 5 13 17 7 8 7 3 4 0 6-2 21-13 10-4 11-1 24 1 28 7 6 0 11-3 14-10 6-3 7-1 4 1"/>
<path stroke="#0072BD" d="M229 1080l10-16 7-8 7-4 4 0 3 1 7 6 21 28 7 5 3 1 3-1 7-5 18-24 6-7 7-4 7 1 4-1 10-10 3-1 4 2 3 4 11 22 7 24 7 40 20 143 7 32 4 10 3 5 3 1 4-2 3-7 4-9 7-29 7-39 17-114 7-38 3-14 4-9 3-4 7-4 7-3 10 2 11 6 13 16 4 2 10 3 10 2 7-1 7-3 21-19 7-4 3-1 4 0 7 3 20 19 7 4 7 2 10-2 25-10 20-6 18-5 10-1 7 1 7 4 20 20 7 5 7 3 4 0 6-3 7-6 21-27 7-5 3 0 4 1 7 5 20 31 7 6 4 1 3 0 7-5 21-26 7-6 7-4 10-2 10 3 7 5 7 7 17 23 7 7 4 1 3 0 4-1 3-4 7-10 7-14"/>
<path stroke="#D95319" d="M229 1067l24-10 10-1 7 2 7 4 18 14 6 4 7 2 4 0 3-1 7-5 21-20 3-2 4-1 3 1 14 16 7 6 7 1 7-2 3-4 7-15 24-83 7-15 3-4 4-2 3 1 4 2 7 9 10 24 24 65 7 13 3 4 4 2 7 0 17-2 14 0 21 4 6-2 18-8 7-1 6 0 18 6 7 1 7-1 20-11 7-2 4 0 6 2 18 12 7 2 3 0 7-1 17-8 7-2 4 0 6 2 18 10 10 3 3-1 7-3 21-15 7-3 3-1 4 0 7 3 7 5 13 13 7 4 4 2 3 0 7-2 21-18 7-3 3-1 7 1 21 13 10 4 10-2 18-7 7-1 10 3 14 8 7 3 6 0 4-1 7-4"/>
<path stroke="#EDB120" d="M229 1094l7-2 3-3 7-7 21-29 7-4 3-1 4 1 7 7 24 46 7 6 3 1 4-1 6-8 11-21 3-10 11-36 3-8 3-5 4 1 3 4 4 9 7 28 7 42 13 117 7 50 7 35 4 10 3 4 4 0 3-5 3-8 7-22 35-150 10-38 21-44 7-10 3-3 4-1 3 2 4 4 3 5 10 22 7 10 7 6 7 2 7-2 17-13 7-3 7-1 17 2 7-1 7-2 14-8 7-2 3 1 7 4 24 26 7 2 3 0 4-2 7-6 17-23 7-6 3 0 4 0 7 6 17 25 7 6 3 0 4-1 3-2 17-24 7-6 4-1 3 2 4 3 17 26 3 3 4 2 3 0 4-2 3-5 17-32 4-5 3-3 4 0 3 1 4 4 20 39 4 5 3 2 4 0 3-1 4-3 17-27 7-7 3-2 4-1 7 3 17 19 7 5 3 2 4 0 6-1 11-8"/>
<path stroke="#7E2F8E" d="M229 1066l10-6 11-1 10 4 17 10 7 4 7 1 7 0 14-4 24-12 10-2 4-2 10-15 3-2 4 0 3 4 4 6 7 16 7 24 7 38 13 89 11 52 7 19 3 5 3 1 4-2 3-4 4-6 3-9 7-24 10-51 18-100 7-29 3-8 7-13 7-9 3-2 4 0 3 1 4 2 7 8 13 22 4 3 3 1 24-5 24 0 11-3 17-8 7-1 10 3 18 11 6 4 7 1 4 0 10-4 21-13 7-2 7 0 13 3 31 13 7 2 7 1 11-3 6-4 18-11 10-4 4 0 6 2 21 15 10 5 11-1 17-8 10-3 24 0 18-3 7 0 7 2 20 11 7 2 10-1 11-5"/>
<path stroke="#77AC30" d="M229 1060l7-8 3-2 4-1 3 0 7 4 17 18 7 6 7 4 7 1 7 0 10-3 38-17 4 1 13 11 4 1 3 0 4-2 10-11 7-12 7-20 17-63 11-29 6-10 4-2 3-1 4 1 3 2 4 4 3 5 7 15 10 32 18 66 6 19 4 5 7 8 7 4 3 2 7 0 4-2 6-5 7-7 7-5 14-7 7-2 10 1 17 7 7 1 7 0 21-6 7 0 7 2 17 8 7 2 3-1 7-2 21-16 7-3 3-1 4 0 7 4 24 23 7 4 3 1 4 0 6-3 7-5 18-15 6-5 7-2 11 1 7 4 20 13 7 3 7 1 10-2 25-12 10-2 10 2 21 10 10 2 11-2 17-6 10-3 28 2"/>
<path stroke="#4DBEEE" d="M229 1070l10-4 11-1 7 1 20 8 11 1 27-5 21-3 7-1 3-2 14-19 3-2 4 0 3 2 7 10 7 17 7 29 14 75 7 32 7 22 3 6 4 2 3 0 3-3 4-5 7-15 10-32 21-78 7-21 3-7 7-8 10-8 7-3 4 0 7 0 20 9 18-3 10 0 7 3 14 7 10 3 3 0 7-3 21-13 7-3 3 0 4 1 7 3 20 18 7 3 4 0 3 0 7-4 21-19 7-4 3-1 4 0 6 2 25 19 6 2 4 0 3 0 7-4 21-16 10-4 11 2 24 13 10 3 10-2 25-7 10-1 24 2 35 8 10 0 10-3 21-9 7-1"/>
<path stroke="#A2142F" d="M229 1058l10 3 18 9 10 3 10-1 18-9 6-3 7 0 7 1 31 13 4 3 10 16 3 2 4 0 3-3 7-12 11-27 7-30 17-100 7-33 7-21 3-6 3-3 4 0 3 3 4 5 3 7 7 19 10 41 21 103 7 27 3 9 4 5 3 3 7 4 4 1 7-2 7-5 10-10 3-3 4-1 3 1 17 6 7 1 11-2 17-6 7-1 7 0 17 5 7 1 7-2 17-8 7-1 3 0 7 3 17 9 7 1 7-2 18-12 6-2 4 0 7 3 20 21 7 3 4 0 7-3 7-7 13-17 7-5 4-2 3 0 7 3 21 20 7 4 7 2 10-2 31-13 17-4 7 0 7 2 24 11 10 3 11-1 20-8 11-3"/>
<path stroke="#0072BD" d="M229 1069l10 3 7 0 7-2 17-8 11-1 10 3 17 10 11 1 7-1 20-9 4-2 10-11 3-3 4 0 3 1 4 2 7 7 7 13 7 23 20 85 7 18 4 5 3 2 3 0 4-3 7-11 7-18 20-69 7-20 7-14 4-3 3-1 35-8 17 2 7 0 10 3 24 13 10 1 11-2 27-14 11-3 10 3 21 13 7 3 3 0 4 0 6-3 21-17 7-2 4 0 3 1 7 5 17 16 7 3 3 0 7-3 21-23 7-3 3-1 4 1 7 4 14 14 6 6 4 2 7 1 7-2 20-9 11-2 34 2 28 6 10 1 10-2 25-9 10-1 7 1"/>
<path stroke="#D95319" d="M229 1066l41-1 14 1 11 2 20 5 7 1 10 0 14-5 4 0 10 12 3 3 4 0 3-1 4-3 7-10 7-13 7-22 20-108 11-44 3-9 3-6 4-3 3-1 4 2 3 4 4 7 3 8 7 25 7 31 17 91 7 31 3 10 4 6 3 4 7 4 7 1 7-2 7-4 10-9 4-1 14-1 20-5 7-1 7 0 21 5 7 0 7 0 20-5 7-1 10 1 21 4 7 0 10-1 21-5 10-1 11 3 24 13 10 1 11-4 20-18 7-4 4 0 3 0 7 3 24 24 7 4 3 1 4-1 7-4 20-20 7-4 4-1 3 0 7 2 24 16 7 3 7 2 7 0 7-2 27-15 11-2"/>
<path stroke="#EDB120" d="M229 1073l10-13 7-7 7-2 4 0 6 5 18 20 7 6 7 4 6 0 11-6 20-17 14-7 4-3 10-14 3-1 4 1 3 3 4 5 7 15 7 23 20 113 7 30 7 19 4 4 3 1 3-2 4-4 3-7 7-18 11-37 20-86 7-22 4-6 3-4 7-6 7-3 7-1 7 2 7 4 10 10 3 2 4 0 7-2 17-11 10-3 11 2 20 12 7 2 4 1 3-1 7-3 21-15 7-2 3 0 3 2 7 6 18 21 6 4 4 0 3-1 7-6 21-33 7-5 3-1 4 2 7 8 20 38 7 6 4 1 3-1 7-8 21-38 7-6 3-1 4 1 6 7 21 36 7 7 3 1 4 0 7-4 24-33 7-4 3-1 4 0 7 3 20 17 11 4 7 0 20-5 7-1 7 1 14 4"/>
<path stroke="#7E2F8E" d="M229 1071l10-2 18-7 10-1 10 3 21 12 7 2 7 0 7-4 27-19 11-15 3-2 3 0 4 3 3 5 7 16 7 22 7 36 17 107 7 31 4 10 3 8 4 3 3 0 3-3 4-5 3-7 7-20 11-42 20-98 7-25 7-14 10-19 7-8 4-3 3 0 4 1 3 3 7 9 10 19 4 3 7 5 7 2 10-3 17-8 10-2 28 3 28 0 20 6 11 1 10-4 21-12 10-3 10 4 21 15 7 3 3 1 4 0 7-2 20-13 11-2 7 1 14 5 6 1 7 0 21-5 7 0 7 3 17 8 7 1 3 0 11-5 17-12 7-2 3 0 11 3 20 14 11 4 10 0 7-2 7-3"/>
<path stroke="#77AC30" d="M229 1079l21-18 7-3 3 0 7 3 21 18 7 3 6 0 7-4 14-11 7-3 3 0 7 2 7 6 14 22 3 3 4 0 3-3 7-11 11-26 20-83 7-22 7-15 4-4 3-1 3 0 4 1 7 6 7 8 7 10 6 15 7 19 18 62 6 21 4 7 7 9 7 6 3 1 4 0 7-3 17-18 24-17 10-4 7 0 7 3 7 6 14 16 7 5 7 2 3-1 3-2 7-6 18-23 6-5 4-1 3 1 7 5 21 30 7 5 3 0 4-1 7-8 17-29 7-7 3 0 4 0 7 7 13 23 7 9 4 3 3 1 4-1 3-2 17-22 7-6 4-2 7 2 17 14 7 4 3 0 7-2 17-11 7 0 7 4 17 15 7 3 7-2 21-16 7-2 7 0 20 12 7 2 7-1 14-6"/>
<path stroke="#4DBEEE" d="M229 1065l10-8 7-1 4 1 7 5 17 16 7 3 3 1 4-1 7-5 20-24 7-3 4-1 6 4 18 22 3 2 7 0 21-7 3 0 4 1 3 4 7 16 24 90 7 16 3 4 4 0 3-1 4-4 7-15 24-83 7-19 3-7 4-5 3-2 24-7 7-1 7 1 14 7 20 8 7 2 7 1 11-2 20-8 11-3 10-2 10 1 7 1 7 3 21 14 7 3 3 0 4 0 6-5 21-24 7-4 4-1 3 1 7 5 21 30 6 6 4 0 3 0 7-6 21-32 7-7 3-1 4 1 7 6 17 29 7 8 3 2 4 0 3-1 4-3 20-29 7-4 4-1 6 4 21 23 7 3 3 0 7-3 21-21 7-3 3 0 4 1 7 6 14 17 6 7 7 3 4-1"/>
<path stroke="#A2142F" d="M229 1063l17 2 21-4 7 0 3 1 4 2 7 7 17 23 7 5 3 0 4-1 7-6 17-31 3-5 4-2 3 2 10 13 4 3 3 2 4 0 3-2 7-5 4-5 3-9 7-30 21-128 7-33 3-12 3-8 4-4 3 0 4 2 3 6 4 9 7 27 6 37 18 109 7 38 3 14 3 8 4 4 3 1 4 0 7-4 20-20 7-4 4 0 3 2 14 11 7 4 7 2 10-1 7-3 7-5 28-24 6-3 4 0 3 0 7 4 7 6 17 19 7 4 4 1 3 0 7-3 21-16 7-3 3 0 10 3 14 8 11 4 37 7 7-1 7-3 21-17 7-3 3-1 4 1 7 4 17 17 7 5 3 1 4 0 7-2 17-15 7-5 3-1 4 0 6 1 18 10 10 3 7 0 34-4 11-2"/>
<path stroke="#0072BD" d="M229 1076l7-3 21-14 6-3 4 0 3 1 7 3 24 22 7 2 4 0 3-1 7-5 17-20 4-3 3-1 4 2 10 18 7 10 3 2 4 0 3-2 4-3 7-12 7-27 20-132 7-36 4-13 3-9 3-4 4-1 3 3 4 6 3 8 7 24 7 30 21 105 10 42 3 8 4 5 7 6 7 3 7 1 7-2 17-16 17-9 10-3 4 0 7 3 24 16 7 2 3-1 7-3 17-16 7-4 4-1 3 0 7 3 21 14 10 4 10-2 25-13 6-2 7 0 11 4 20 16 7 2 4 0 7-3 20-19 7-4 4 0 3 1 7 4 17 17 7 4 4 1 3-1 7-3 17-13 10-3 7 0 21 6 24 1 28 8 10-1 21-10"/>
<path stroke="#D95319" d="M229 1066l14 6 7 1 7-1 17-8 10-1 7 3 17 10 7 2 4 0 7-3 17-10 7-2 3 0 14 7 7 0 3 0 7-3 7-5 7-10 17-28 7-8 7-5 7-1 7 1 7 3 10 8 10 11 18 22 6 7 7 2 49 12 7 0 6-2 21-12 10-3 11 1 17 5 10 2 11-2 17-5 7-1 7 0 7 2 20 12 7 1 4 0 7-2 17-11 7-3 3 0 7 2 21 14 7 2 3-1 7-4 17-16 7-2 4 0 7 4 20 25 7 5 4 0 3 0 7-4 24-27 7-4 3 0 4 0 7 3 20 15 7 4 7 2 11-1 31-5 17-5"/>
<path stroke="#EDB120" d="M229 1057l7 8 7 5 7 2 13 1 21 9 7 1 4-1 6-3 14-13 7-4 4 0 6 2 18 14 7 1 6-2 18-15 7-2 3 1 7 6 17 24 7 5 4 0 3 0 7-6 17-20 7-4 3-1 7 1 21 13 7 2 3-1 7-2 18-12 10-3 10 1 24 12 14 3 10 0 14-2 11-4 17-8 10-3 11 1 20 13 11 3 3 0 7-2 17-10 7-2 4 1 6 2 14 8 7 2 4 0 6-3 18-19 7-4 3 0 3 1 7 8 18 34 7 8 3 2 3-1 4-3 3-5 21-46 3-5 4-2 3-1 4 2 3 4 17 31 7 10 4 2 3 1 4 0 3-2 7-7 17-21 7-5 4-1 7 0 6 3 21 15 7 4 7 1 7-1"/>
<path stroke="#7E2F8E" d="M229 1070l10-6 7-2 11-1 20 0 14 3 21 10 7 2 10 0 17-7 4 0 13 10 7 1 4-2 10-9 7-11 7-19 17-58 7-19 7-11 3-3 4-1 3 1 4 3 3 4 7 12 7 17 21 59 7 14 3 5 3 2 18 3 17 10 7 2 7 0 7-1 7-5 13-13 7-3 4-1 7 3 17 13 7 2 7-1 17-11 7-2 3-1 7 2 21 13 7 2 3-1 7-3 21-15 7-1 3 0 4 1 6 5 21 20 7 3 3 1 4-1 7-4 24-26 7-3 3 0 4 0 7 4 24 20 7 4 7 1 10 0 10-3 11-4 20-11 11-3 10 1 7 3 14 8 10 4 10-2 21-10 7-1 7 1"/>
<path stroke="#77AC30" d="M229 1066l28 1 31 6 27-3 7 0 17 4 14 0 4-1 6-4 18-22 14-11 6-4 21-9 21-11 7-2 7 2 6 7 21 32 7 7 21 9 24 19 7 3 3 0 4 0 7-5 20-26 7-4 4-1 3 0 7 3 17 13 7 4 10 3 11-1 24-12 10-1 11 2 27 12 11 2 6 0 7-1 7-3 28-17 10-2 10 2 28 15 7 2 7 0 7-1 7-2 27-17 11-2 10 4 21 16 10 5 3 0 7-2 18-10 10-3 10 2 17 8 11 1"/>
<path stroke="#4DBEEE" d="M229 1090l14-34 7-12 3-2 4-1 3 1 3 3 7 10 18 31 7 7 3 1 3 1 4-1 7-5 17-18 14-9 14-20 3-2 3 2 4 4 3 6 7 18 4 12 7 35 17 118 7 39 7 26 3 8 4 3 3 0 3-4 4-6 3-9 7-27 7-36 17-107 7-35 4-13 3-8 4-4 10-7 7-1 10 1 21 12 3 0 14-3 7 1 21 9 10 3 7-2 3-1 7-6 18-18 6-4 4-1 3 1 7 5 21 31 7 7 3 1 4 0 7-5 17-26 7-9 7-4 3 0 4 1 6 5 18 19 7 6 6 4 7 2 7-1 7-3 21-16 7-4 3-1 4 1 7 4 17 20 7 5 3 1 4-1 3-3 7-8 14-20 3-3 4-2 3 1 3 2 4 4 17 30 7 8 3 1 4 0 7-6 21-31 6-5 4-2 3 0 7 3 28 22"/>
<path stroke="#A2142F" d="M229 1070l14-8 7-2 7-1 10 3 24 13 7 1 10 0 24-8 14-2 4-2 3-3 10-18 4-2 3-1 4 3 3 4 7 14 7 26 7 43 14 100 7 39 7 25 3 6 3 1 4-3 3-6 4-9 7-26 24-123 10-45 4-10 3-6 17-22 7-6 4-1 3 0 4 1 6 6 11 15 3 3 4 2 7 1 6-1 18-7 7-1 10 3 17 9 7 1 4 0 6-4 18-14 7-2 3 0 7 4 21 23 6 2 4 0 7-4 17-20 7-6 3-1 4 0 7 4 20 20 7 3 4 1 3 0 7-4 24-20 7-2 4-1 10 3 24 16 10 2 11-2 24-12 10-2 7 0 10 2 28 10 14 4 14-2 24-10"/>
<path stroke="#0072BD" d="M229 1099l7-12 14-30 7-8 3-2 3 1 7 6 21 33 7 5 3 1 7-2 21-17 7-4 27-3 7 0 7 2 7 4 7 8 17 31 7 10 7 6 4 0 3 0 7-5 17-20 7-7 7-5 17-9 21-8 7-2 7 0 17 6 7 0 7-4 17-16 7-2 3 0 7 4 21 28 7 5 3 0 4-1 7-7 17-28 7-8 3-1 4 0 6 4 18 24 7 7 3 2 3 1 7-2 25-22 6-3 4 0 3 1 7 4 7 7 17 21 7 5 4 1 3-1 7-6 7-11 14-28 7-10 3-2 4 0 3 1 3 4 21 37 7 7 3 2 7-1 14-9 7-4 17-2 7-3 7-5 14-12 7-2 3 1 7 5 21 30 7 6 3 1 4-1 3-2 7-7 7-10"/>
<path stroke="#D95319" d="M229 1076l24-16 7-3 7-1 10 3 24 14 11 4 7 0 7-2 20-9 4 0 10 12 3 2 4 1 3-2 4-3 7-10 7-13 3-9 7-26 17-81 7-27 7-18 3-5 4-3 3 0 4 1 3 4 4 6 3 7 7 22 7 30 17 85 7 27 3 8 4 4 7 4 7 0 7-2 20-7 11 1 7-1 6-3 14-9 11-4 10 3 21 10 10 2 10 0 14-2 41-9 11-1 14 3 27 11 11 1 13-3 28-12 10-3 7 1 7 2 24 13 11 2 10-2 24-14 10-2 11 1 24 14 10 3 11-1 20-10 11-3 6-2 11 1"/>
<path stroke="#EDB120" d="M229 1066l14-6 7-1 7 1 10 4 24 12 7 3 7 0 7-1 7-3 17-12 7-4 7-2 7-1 3 1 7 3 31 25 7 3 10 1 21-3 21 0 10-1 14-6 31-19 10-3 10 2 28 11 7 2 10 1 21-2 31-8 10-1 14 1 24 9 11 1 10-3 24-9 10-1 11 2 20 11 11 3 3 0 7-3 21-17 7-3 3 0 4 1 7 4 20 22 7 4 4 0 3-1 7-5 17-16 7-3 3-1 7 1 24 13 11 2 7 0 62-12"/>
<path stroke="#7E2F8E" d="M229 1073l21-11 7-3 6 0 11 3 24 17 7 2 3 0 7-3 21-17 7-3 3 1 4 2 13 19 4 3 3 1 4-1 3-3 7-10 7-15 21-72 7-18 7-12 3-3 3-1 7 1 7 5 11 12 6 14 7 17 18 56 6 17 7 9 7 6 4 1 3 0 7-2 21-20 7-3 7-1 10 1 24 13 7 2 10-1 21-12 10-3 11 1 20 11 11 2 10-3 21-9 10-1 10 3 21 10 10 2 11-1 24-11 7-2 7-1 14 2 24 9 10 1 10-2 24-10 14-1 14 3 31 9 14 1 7 0 7-2 24-12"/>
<path stroke="#77AC30" d="M229 1075l7-2 17-9 10-3 11 3 17 10 10 4 11-2 20-10 11-3 7 1 13 11 4 2 3 0 7-2 11-8 7-10 20-51 11-20 6-7 7-1 4 1 7 4 10 13 7 13 21 45 6 12 4 4 7 6 10 5 7 0 4-1 6-3 14-10 11-5 6-1 11 2 24 12 10 1 7-3 21-14 10-2 11 2 24 13 10 2 10-2 21-7 10-1 14 2 24 7 7 2 7-1 10-2 21-9 11-2 10 2 24 10 10 2 11-2 27-12 11-1 10 2 24 12 7 2 7 0 10-2 28-12"/>
<path stroke="#4DBEEE" d="M229 1070l10-7 4-1 7 0 7 2 20 11 11 1 7-2 20-9 7-2 7 0 14 3 20 8 11 1 7-1 7-3 7-5 20-19 7-5 7-2 3 0 7 3 7 4 21 17 7 4 7 1 10 0 14-5 7-2 10 1 24 7 11 2 34-5 35 3 31-6 10 2 17 6 7 1 10-3 18-11 7-3 3 0 3 1 7 3 21 20 7 4 3 1 4-1 7-4 24-25 7-4 3-1 4 1 7 2 24 21 7 3 3 1 7-2 21-12 10-3 7 1 24 6 28 0 27 5 10-1 11-4"/>
<path stroke="#A2142F" d="M229 1063l17 25 7 6 4 1 3-1 7-6 17-28 4-3 3-2 4 0 3 2 3 4 14 24 7 10 4 3 3 0 3-1 4-2 7-10 7-14 10-27 3-5 4-1 3 2 4 5 3 8 11 35 17 90 7 30 7 20 3 6 4 3 3 1 3-1 7-9 11-22 10-33 17-62 7-19 7-12 14-14 7-6 7-3 3 0 4 1 3 3 14 17 3 3 7 4 4 0 6-2 18-15 7-3 3 0 7 4 17 19 7 4 4-1 6-4 18-23 7-4 3-1 7 4 14 16 7 6 3 1 3 0 7-5 18-27 3-3 4-2 3 0 3 3 7 11 14 38 7 15 3 5 4 1 3-2 4-4 3-8 21-69 3-8 4-5 3-2 4 1 3 4 4 7 20 61 7 12 4 3 3 0 4-1 3-4 21-38 7-9 6-5 4 0 7 2 20 15 7 4 7 2 45 6 10-1 11-5"/>
<path stroke="#0072BD" d="M229 1073l17-10 11-3 10 2 21 8 13 3 11-1 24-8 10-1 7 2 14 8 7 3 10 1 4-1 7-5 24-26 7-4 10-2 10 1 7 4 10 8 18 16 7 4 6 2 7-2 14-5 7-2 10 2 18 5 7 0 20-8 7-1 7 1 17 6 7 1 7-2 21-11 7-1 3 0 7 3 17 13 7 3 4 0 3 0 7-3 14-11 7-5 7-1 3 0 7 4 14 14 7 5 6 2 4-1 7-4 14-13 6-5 7-2 7 2 21 16 7 3 3 0 7-2 17-14 7-4 4-1 3 1 7 2 17 15 7 3 4 1 3 0 7-3 17-15 7-4 4 0 3 0 7 3 17 14 7 3 4 1 6-1 11-7"/>
<path stroke="#D95319" d="M229 1065l14-4 10 0 14 3 24 9 7 1 7 0 27-7 18-2 3-3 10-11 4-2 3 0 4 1 7 7 3 5 7 18 7 29 14 69 7 28 7 18 3 4 3 2 4-1 3-3 4-6 7-16 7-22 20-81 7-22 7-13 10-9 7-4 7 0 7 2 17 11 4 2 3 0 14-3 7 0 7 1 17 6 7 1 10-2 21-11 7-2 10 1 7 3 14 9 10 4 11-2 17-8 10-2 11 3 17 11 7 3 3 0 4-1 6-3 21-19 7-4 3-1 4 0 7 3 24 19 10 4 11-1 20-9 14-4 17-3 11-1 10 2 7 2 28 13 10 1 10-2 28-15"/>
<path stroke="#EDB120" d="M229 1087l7 1 7-3 7-7 17-24 7-6 3-1 4 0 7 6 7 12 10 21 7 11 3 3 4 2 3-1 4-2 6-10 14-31 7-13 4-4 3-3 3 0 4 1 7 8 24 49 7 8 3 2 4 0 3-2 7-7 17-26 7-6 4-1 3 0 4 1 20 20 7 3 4-1 6-5 14-21 7-8 4-2 3-1 4 1 6 7 18 25 7 5 3 0 7-4 21-23 6-4 4 0 7 3 14 9 10 4 7 1 17-1 24 5 11-2 20-12 7 0 4 1 7 4 17 17 7 4 3 0 4 0 6-3 21-17 10-5 7 0 7 0 38 8 24 7 11 1 7-2 6-3 21-14 7-2 3-1 4 1 7 3 24 21 7 4 3 0 4 0 7-3 17-17 7-4"/>
<path stroke="#7E2F8E" d="M229 1066l7-3 7-2 10 0 10 3 21 10 11 3 10-2 21-10 6-1 7 0 7 2 4 2 10 14 3 2 4 1 3-1 4-3 7-10 10-21 7-22 17-67 7-23 7-17 3-5 4-3 3-2 4 0 3 2 4 4 3 5 7 18 7 24 21 88 6 20 7 9 4 3 7 3 3 0 7 0 7-4 14-9 24-7 7-1 7 0 17 4 10 1 11-3 17-9 7-1 7 1 7 3 17 15 7 5 7 1 3 0 3-2 7-5 21-24 7-5 3 0 4 1 7 6 17 25 7 7 3 2 4 0 3-1 4-3 20-30 7-5 4 0 3 0 4 3 17 21 7 6 3 1 4 0 7-3 17-16 7-4 3 0 7 2 17 13 7 4 4 0 3 0 7-3 17-14 7-3 4-1 3 0 7 4 17 15 7 4 7 1 7-2"/>
<path stroke="#77AC30" d="M229 1072l10 3 7 0 21-7 10-2 7 1 17 6 11 0 7-2 17-9 10-3 4-2 7-9 3-3 3 0 4 2 7 10 10 26 7 29 17 98 7 30 7 20 4 5 3 2 3-2 4-3 3-6 4-8 7-21 7-27 20-97 7-24 4-8 10-15 7-8 7-4 7-1 3 2 7 6 10 12 7 4 14 5 14 2 10 0 10-1 28-12 10-2 11 1 24 7 17 3 10 2 7 0 11-4 17-9 7-2 3 1 7 4 17 20 7 5 4 1 3-1 7-6 17-27 7-8 4-1 3 0 7 4 21 28 7 6 3 1 4 0 6-4 21-17 10-4 11 2 24 11 14 2 10-1 35-8 17-1"/>
<path stroke="#4DBEEE" d="M229 1058l7-2 7 3 7 5 17 16 7 3 3 1 7-3 21-16 7-3 3 0 7 2 21 14 10 3 10-2 18-11 10-5 7-2 7-1 7 1 7 2 20 11 7 2 4-1 3-1 7-5 17-17 7-4 4-1 6 3 4 2 7 9 14 24 7 9 6 5 4 1 3-1 7-6 17-29 7-9 7-5 4-1 3 1 7 6 14 20 7 8 3 2 4 1 3 0 7-5 14-18 7-8 3-2 4 0 3 1 7 6 17 23 7 3 3 0 7-5 21-27 4-3 3-1 3 0 7 5 21 33 7 7 3 1 4 0 7-4 7-9 13-22 7-7 4-1 3 0 4 1 20 19 7 2 7-2 17-12 7-1 4 2 7 5 13 17 7 6 4 0 3 0 4-2 6-7 14-18 7-5 4-1 3 0 7 2 17 13 7 3 10 2 11 1"/>
<path stroke="#A2142F" d="M229 1069l17-6 14-3 10 2 21 9 10 2 11-1 20-6 11-1 3 1 4 2 10 13 3 3 4 1 3 0 4-2 3-3 7-9 7-16 7-25 14-61 7-27 7-18 3-5 3-2 4 1 3 4 7 12 7 20 24 81 11 24 3 5 3 2 14-1 7 2 21 15 10 6 4 1 3-1 4-2 20-22 7-4 4 0 6 2 18 13 7 3 3 0 7-3 17-12 7-3 4-1 6 2 21 12 7 3 3 0 7-2 21-11 10-2 11 2 20 11 11 2 10-4 21-13 7-3 3 0 4 1 7 3 20 18 7 4 4 0 6-1 21-14 10-3 7 1 21 8 7 1 10-1 18-5 10-1 7 2 20 9 11 1"/>
<path stroke="#0072BD" d="M229 1067l10-3 7 0 17 3 25-2 10 2 17 9 7 3 4 0 6-1 14-7 4 0 10 8 3 2 4 0 7-4 10-13 7-16 7-26 21-95 7-21 3-6 3-3 4-1 3 2 4 5 7 15 10 35 17 72 7 25 7 17 3 4 4 2 41-2 14 1 17-7 7-2 4 1 7 2 17 10 7 1 3-1 7-4 17-16 7-3 4 0 7 2 20 16 7 3 4 0 6-1 18-9 10-3 10 1 21 9 10 2 11-2 17-7 10-2 7 2 21 10 7 1 10-2 14-6 7-2 10 0 21 3 7 0 17-5 7 0 10 2 21 9 10 1 11-3 17-8 7-2"/>
<path stroke="#D95319" d="M229 1063l7-6 3-2 7-1 4 1 7 3 17 13 7 4 7 2 7 0 10-3 24-14 7-2 10 1 4-2 10-12 3-1 4 1 3 3 4 6 7 15 7 23 7 39 13 89 7 36 7 23 4 6 3 2 3-2 4-4 3-7 7-20 11-44 20-101 7-26 7-14 10-13 7-8 7-4 4 0 7 2 13 15 7 4 21 7 10 2 11-1 27-11 11-1 6 1 7 2 24 10 7 2 7 0 11-4 20-13 11-3 3 1 7 2 24 17 7 3 3 0 4 0 7-3 20-15 11-3 10 2 21 11 7 3 7 2 7 0 6-2 31-13 14-2 7 0 7 2 28 14 7 2 6 1 11-3 20-10 11-3"/>
<path stroke="#EDB120" d="M229 1066l14-4 10-1 10 3 21 10 11 1 10-4 21-15 6-2 4 1 7 4 3 3 4 5 10 20 3 5 4 2 3-1 4-3 3-5 11-23 7-23 13-54 7-21 7-13 4-4 3-2 3-1 7 3 7 5 7 7 7 10 10 24 18 57 6 19 7 11 7 7 4 2 3 0 7-2 7-7 14-17 7-4 7-2 10 2 21 14 6 3 4 0 3 0 7-2 18-12 6-3 4-1 7 2 17 9 10 4 7-1 17-6 7-2 7 0 21 2 24-2 10 2 18 8 10 2 10-3 25-13 10-2 10 2 28 14 10 2 10-3 7-4 18-13 6-4 4 0 7 2 7 6 20 24 7 4 4 0 3-1 7-6 21-27"/>
<path stroke="#7E2F8E" d="M229 1066l14 10 10 3 10-2 21-12 7-2 7-2 14 0 14 2 10 3 14 6 7 2 10-1 17-5 7-1 4 1 6 4 21 20 10 8 11 4 7 1 7-1 3-2 7-6 7-9 14-25 6-11 7-7 4-1 3 0 4 2 3 4 21 37 3 4 4 2 3 1 4-1 7-7 17-23 7-4 3-1 7 2 21 15 7 2 3 0 7-2 21-12 10-4 3 0 7 2 21 13 7 2 3 0 7-3 18-13 6-3 4 0 3 1 7 4 17 14 7 3 4-1 7-4 17-17 7-3 3 0 4 1 7 6 17 22 7 4 3 0 4-1 7-5 13-19 7-8 7-4 4 0 6 3 18 16 7 5 3 1 3 0 7-2 18-12 7-3 3-1 3 1 7 3 14 11 7 4 7 2 7-2"/>
<path stroke="#77AC30" d="M229 1074l24-22 7-3 3 0 4 1 7 6 24 34 7 4 3 0 4-1 7-8 13-23 7-10 4-3 7-2 3 0 7 4 17 21 18 15 13 7 7 2 7 1 7-1 7-3 27-15 11-5 20-4 18-7 7-1 10 2 17 11 11 3 3 0 7-2 21-15 6-2 4 0 7 1 21 12 6 1 7 0 18-5 6 0 21 4 10 0 7-1 18-8 10-1 10 4 18 10 10 2 10-2 21-12 10-3 11 2 17 9 10 3 11-2 20-12 11-3 6 1 18 8 10 2 7 0 24-4 31 3 21-2"/>
<path stroke="#4DBEEE" d="M229 1084l21-36 7-7 3 0 3 1 7 6 18 31 7 8 3 2 3 1 4-1 3-3 18-24 6-7 4-1 7 0 3 1 14 15 7 4 3 0 7-4 7-5 21-23 10-9 24-19 7-3 4-1 3 2 4 2 6 9 18 38 7 12 3 5 3 2 4 1 7-2 14-6 7-2 6 0 14 1 7 0 7-3 17-8 7-2 10 2 25 12 7 2 10 0 52-7 10-3 17-8 7-1 7 2 3 2 7 7 14 17 7 5 3 0 4-1 7-7 17-34 7-9 3-2 4 0 3 2 4 4 20 36 7 6 4 1 3-1 7-6 17-21 7-4 4-1 7 2 17 14 10 5 4 0 6-1 18-6 7-1 7 1 17 6 7 2 10-1 14-5"/>
<path stroke="#A2142F" d="M229 1067l10-8 7-1 4 0 7 3 20 15 7 3 7-1 31-13 7-1 17-1 4-2 10-17 3-3 4 0 3 2 4 4 7 15 7 25 7 40 13 94 7 37 7 24 4 6 3 2 3-2 4-4 3-7 11-32 10-45 17-86 7-28 7-17 10-18 7-9 4-2 3-2 4 0 7 5 17 25 7 5 10 2 10-1 24-9 7-2 7-1 7 0 21 6 7 0 7 0 17-4 7 0 7 1 20 9 7 1 7-2 17-9 7-3 4 0 7 1 17 8 10 3 7-1 21-10 7-1 10 2 21 13 7 2 3 0 4 0 6-3 21-16 7-3 3 0 4 0 7 3 17 13 7 4 3 1 4 0 7-2 17-10 10-3 7 0 21 9 7 2"/>
<path stroke="#0072BD" d="M229 1068l24-4 10 0 11 2 21 7 10 1 10-4 17-10 7-1 4 0 3 1 4 3 10 15 7 6 3 1 4-1 3-1 7-7 7-14 28-96 7-15 3-4 3-2 4 0 3 2 4 3 7 11 7 17 20 62 7 18 7 13 3 2 4 2 21 2 10-1 21-7 17-8 7-2 10 3 14 8 7 2 10 0 17-7 11-1 7 2 17 9 7 1 3 0 11-5 17-13 7-3 3 0 4 1 7 4 20 18 7 3 4 1 3-1 7-4 21-17 6-4 4 0 3 0 7 3 21 14 7 3 7 2 10-1 28-10 17-4 14 1 38 4 10 3 17 6 7 1 10-2 11-7"/>
<path stroke="#D95319" d="M229 1071l21-9 7-2 6 0 11 3 21 9 10 2 10 0 21-4 10-1 17 7 7-1 7-4 11-10 7-10 13-24 11-13 7-6 3-1 7-1 10 2 11 7 10 14 21 33 6 6 7 1 14-1 11 1 27 10 4 0 6-3 21-15 7-3 3 0 11 2 17 8 10 2 28-4 31 1 10 0 18-4 10 0 10 3 21 9 10 1 7-1 7-3 24-13 7-2 7 0 10 2 7 4 21 15 10 2 4 0 7-2 17-12 10-4 4-1 7 2 17 9 7 2 10-2 17-7 7-2 11 1 17 6"/>
<path stroke="#EDB120" d="M229 1056l3 2 4 4 17 26 4 3 3 2 3-1 4-1 7-7 10-13 7-5 4 0 6 3 18 19 3 1 4 1 3-1 7-6 10-17 11-20 3-4 3-1 4 1 3 5 4 7 7 19 17 63 7 21 7 12 3 2 4 1 7-3 13-12 21-9 7-8 7-14 14-37 6-16 7-13 4-5 3-2 4 1 3 2 4 5 17 37 3 5 4 3 3 0 4-2 3-4 17-28 7-7 4-1 3 1 4 2 17 16 7 4 10 3 17-1 7-1 7-4 7-6 17-19 7-3 4 0 6 5 21 26 7 4 4 0 6-3 18-14 7-4 27-9 10-1 7 4 4 3 7 10 14 24 6 7 4 1 3-1 4-3 3-4 17-36 7-10 4-2 3 0 4 2 3 3 17 27 7 7 4 1 7-2 17-12 7-2 7 1 17 8 7 0 3-1 7-5 14-13 7-5"/>
<path stroke="#7E2F8E" d="M229 1079l7 4 3 1 7-2 7-6 14-15 7-4 3-1 4 1 7 4 17 17 7 3 3 0 7-1 17-9 11-2 10-6 7-3 10-2 7 1 4 3 3 5 7 18 17 62 7 20 4 7 3 3 3 1 4-2 7-12 7-19 13-44 7-17 4-7 7-7 3-2 4 0 6 3 7-1 7-5 11-9 7-4 3 0 7 2 21 19 6 4 4 0 7-2 17-11 7-3 10 1 21 8 14 0 27-2 7-1 7-3 17-9 7-2 4 1 3 1 7 4 17 19 7 5 4 1 3 0 7-3 7-8 14-18 7-6 3-2 3 0 7 3 21 23 7 5 3 1 4 0 7-3 17-11 10-4 11 1 20 5 14 1 14-2 24-10 7-1 7 2 7 4 20 21 7 3 4-1"/>
<path stroke="#77AC30" d="M229 1069l10-8 7-4 7-1 4 0 10 5 17 15 7 4 7 3 7-1 3-1 7-5 17-18 7-6 7-3 11-9 3-1 3 2 4 4 7 13 10 29 7 29 17 87 7 26 7 16 4 4 3 0 3-1 4-4 3-6 7-18 11-39 17-76 7-24 3-8 4-5 10-9 10-6 7-1 7 1 7 4 10 8 7 2 21 1 31-2 28 1 27-2 45-1 10 2 21 8 7 1 10-1 21-13 7-2 10 1 21 10 10 1 7-1 21-10 7-1 10 3 21 12 7 1 3 0 7-3 21-17 6-2 4 0 3 1 7 4 21 20 7 4 3 0 4-1 7-4 17-15 7-4"/>
<path stroke="#4DBEEE" d="M229 1069l10 1 18 5 10 2 10 0 21-5 7 1 7 2 17 8 7 2 14-1 7 0 6-2 21-14 7-7 10-18 21-44 7-9 3-2 4-1 3 1 4 3 7 8 7 14 20 48 7 11 4 4 3 2 3 0 14-8 7-1 4 0 7 3 20 16 4 1 3 0 7-5 17-27 7-6 4-1 3 2 3 3 7 12 14 27 4 5 3 2 4 1 3-2 3-4 21-39 7-8 3-1 4 1 7 7 20 33 7 5 4 1 3-1 7-4 21-25 7-5 3-1 4 0 7 2 20 22 7 4 4 0 3-1 7-6 17-24 4-3 3 0 4 0 6 8 18 34 7 10 3 2 3 0 4-2 3-3 21-40 3-4 4-3 3 0 4 1 7 9 17 36 7 9 3 2 4 1 3-2 4-4 20-37 7-8 4-2 3 0 4 2 6 6 11 13"/>
<path stroke="#A2142F" d="M229 1059l3-1 7 1 21 9 10 3 35 4 7 0 10-5 24-20 11-16 3-3 3 1 4 3 7 15 10 36 7 36 14 88 7 35 7 24 3 6 4 4 3 0 3-3 4-5 7-15 7-21 10-41 17-81 7-27 7-17 10-21 7-9 4-3 3-1 4 1 3 3 7 11 10 21 4 5 3 2 7 2 4-1 6-3 18-15 7-4 3 0 3 0 7 2 18 11 10 3 10 0 21-6 10-2 31 2 28-3 10 3 18 9 6 3 4 0 3-1 7-3 24-23 7-2 4 0 3 1 7 6 21 23 7 3 3 1 4-1 6-3 21-19 7-5 7-2 7 1 7 3 24 19 7 3 3 1 4 0 7-3 20-18 7-4 4-1 6 0 11 5"/>
<path stroke="#0072BD" d="M229 1084l14-26 3-4 4-2 3-1 4 1 3 3 17 23 7 7 4 1 7 0 13-5 7-1 7 2 14 7 7-1 10-7 7-7 10-15 7-6 4-1 3 1 11 6 3 1 3-1 4-3 3-5 4-6 24-70 3-6 4-4 3-1 4 2 3 5 7 18 17 68 7 23 4 7 3 5 3 2 4-2 3-4 18-24 7-5 3 0 3 1 4 3 3 4 18 29 3 4 3 1 4 0 3-2 7-9 17-30 7-6 4-2 3 1 7 4 17 20 7 6 7 4 7 1 7-2 7-4 27-25 7-3 7 0 4 1 7 7 20 29 7 6 4 1 3 1 7-4 21-23 7-5 6-2 7 1 21 7 21 6 24 14 7 2 7-3 7-6 20-29 7-4 4 0 3 1 7 7 14 21 7 8 3 3 7 2 7-1 7-3 14-10 17-14"/>
<path stroke="#D95319" d="M229 1068l7 1 7 0 7-1 17-8 7-1 3 1 4 1 7 6 17 21 7 3 3 0 4-1 7-7 17-25 3-3 4-1 3 4 10 17 7 9 4 2 3 0 4-2 3-2 4-5 7-20 20-96 7-26 7-15 3-4 4-1 3 1 4 3 3 4 7 14 10 32 25 93 3 9 3 6 4 3 3 1 7-2 18-11 10-4 3 0 4 2 10 9 7 4 7 1 3 0 7-4 21-17 10-3 7 1 21 8 7 2 41 3 10 0 21-6 11-1 10 3 21 12 6 2 4-1 3-1 7-5 21-23 7-5 3 0 4 0 7 5 7 9 13 22 7 7 4 2 3 0 7-4 7-9 14-20 7-7 3-1 3 0 7 3 21 22 7 5 7 2 3 0 7-3 21-13 10-5 7-1 7 1 14 5"/>
<path stroke="#EDB120" d="M229 1072l17-11 11-1 6 1 18 9 10 2 7 0 21-6 10 1 17 6 11 8 3 2 3 0 4-2 7-7 14-22 20-45 11-20 10-13 3-2 7-2 7 1 4 2 7 8 10 22 17 50 7 16 3 5 4 3 7 2 10-1 24-9 18 0 24-7 10 1 21 8 10 2 7-1 21-9 10-2 7 1 17 6 10 2 11-1 17-6 10 0 11 3 17 9 7 1 3 0 4-1 7-4 20-17 7-2 4 1 7 4 17 19 7 5 3 1 4 0 7-4 17-19 7-5 3-1 4 0 6 3 18 15 7 3 3 1 7 0 17-7 7-2 10 0 18 6 7 1 6-1 11-4"/>
<path stroke="#7E2F8E" d="M229 1069l14-6 10-2 10 2 21 8 11 2 10 0 24-6 10-1 11 1 10 6 3 1 7-1 11-8 10-12 17-29 11-15 7-6 3-2 7-1 7 1 3 2 7 7 7 9 21 34 7 8 3 3 3 2 14-1 7 1 35 13 3 0 7-3 24-19 7-3 3-1 4 0 7 3 24 17 10 3 11-1 24-14 7-2 7-2 10 0 14 5 27 18 7 3 4 0 3-1 7-3 21-20 7-4 3-1 3-1 7 2 21 15 7 2 3 1 7-2 18-7 6-1 7 1 18 6 6 0 7-1 18-8 10-1 10 3 21 11 10 2 11-3 24-10"/>
<path stroke="#77AC30" d="M229 1084l17-18 7-4 4 0 3-1 7 2 21 9 24 3 20 6 7 0 7-1 4-2 17-14 3-1 7-1 7 3 7 7 21 37 7 10 7 6 6 2 7-3 7-8 24-41 7-8 4-2 3-2 4 1 17 9 7 1 3 0 7-3 21-14 7-2 3-1 4 1 6 3 21 15 7 4 7 3 7 1 7-1 7-3 20-14 11-4 3 0 7 2 17 11 7 3 7 0 17-6 7-1 7 2 17 9 7 1 4-1 7-3 17-14 7-2 3 0 7 3 17 13 7 3 4 0 3-1 7-3 21-17 7-3 6 0 7 3 7 4 24 24 7 3 4 0 3-1 7-7 21-32 3-4 4-2 3 0 4 2 6 9 18 38 3 5 4 3 3 1 3-1 4-4 7-14"/>
<path stroke="#4DBEEE" d="M229 1083l7-6 14-15 7-4 3-1 3 0 7 3 18 16 7 5 3 1 3 0 7-3 18-14 10-5 7 0 31 6 7 2 7 4 20 21 7 4 4 0 3 0 7-4 17-18 7-6 7-4 10-3 11 0 10 3 10 6 18 13 7 3 3 1 7-2 3-2 7-6 14-16 7-6 7-3 3 0 4 1 7 4 24 23 7 4 7 0 6-2 21-13 7-2 7 0 17 5 7 1 7-1 17-7 11-1 6 2 21 9 10 1 11-4 20-16 7-4 4 0 7 2 3 3 7 8 17 27 7 5 4 1 3-2 7-8 21-41 7-8 3-1 3 0 7 5 21 34 7 7 7 3 3 0 7-3 21-13 17-9 10-2 11 1"/>
<path stroke="#A2142F" d="M229 1074l7-3 17-11 7-2 3 0 4 0 7 3 17 13 7 2 3 1 7-1 21-12 10-2 11 2 13 7 7 1 7-3 7-4 24-20 7-3 11-2 34 4 10 4 24 14 21 5 21 6 10 2 11-1 20-10 7-1 10 1 18 8 10 1 7-2 17-9 11-1 6 1 18 8 7 1 10-1 17-6 11 0 6 2 18 11 7 3 3 0 3 0 7-3 21-18 7-4 3-1 4 0 7 3 20 19 7 3 4 1 3-1 7-3 17-14 7-4 4 0 7 2 17 11 10 4 7-1 21-9 7-1 10 1 17 7 7 1 10-1 11-4"/>
<path stroke="#0072BD" d="M229 1084l10-4 24-5 7-4 18-12 7-2 6 3 7 8 21 36 3 3 4 2 3-1 4-2 7-10 20-41 7-10 4-3 3-1 14 6 7 0 3-1 4-2 7-7 17-23 7-5 3-1 4 0 7 4 6 7 21 26 7 6 10 4 7 5 7 8 17 23 4 3 7 2 7-1 3-2 7-7 14-18 7-6 3-1 7 1 7 4 14 12 7 3 3 0 7-3 21-20 7-2 6 3 21 23 4 2 3 0 3-1 4-2 21-27 3-3 4-1 3 0 7 6 17 29 7 9 3 3 4 2 3 0 4-2 7-7 17-28 7-9 7-6 3-1 4 1 7 4 6 10 18 29 7 7 3 1 3 0 7-5 18-22 6-6 4-1 3 0 7 4 17 19 7 4 4 0 7-2 20-16 11-5 7-1 7 2 6 3 11 6"/>
<path stroke="#D95319" d="M229 1066l7-4 7-1 7 1 17 8 7 1 7-1 17-4 7-1 7 1 17 8 7 2 7 0 17-3 7-3 14-9 14-7 10-10 24-25 7-4 7-2 7 2 7 5 6 8 25 37 6 5 7 2 49-3 24-3 10 2 17 8 7 1 4 0 7-3 17-13 7-3 3-1 4 0 7 3 20 16 7 2 4 0 6-3 21-18 7-3 4 0 3 1 7 5 21 22 6 3 4 1 3-1 7-4 17-16 7-6 7-3 4-1 10 3 28 18 7 2 6 2 7-1 7-2 24-13 11-3 7 0 6 1 28 12 10 2 11-2 20-11 11-3"/>
<path stroke="#EDB120" d="M229 1072l17-12 7-1 4 0 6 3 21 15 7 2 4 0 6-2 18-11 7-3 6 0 14 4 4 0 17-9 7 0 3 1 7 6 7 13 17 55 7 19 7 12 4 2 3 1 3-2 7-9 7-14 17-39 7-13 7-10 7-6 14-3 17-7 7-2 7 1 14 4 31 0 27 3 11-3 17-9 7-1 3 0 4 1 7 4 17 14 7 3 3 0 4-1 7-5 13-16 7-7 7-3 4 1 3 1 7 6 21 26 7 4 3 1 3-1 7-4 24-27 7-4 4-1 3 0 7 3 7 7 14 15 7 6 3 2 4 0 7-2 6-5 14-15 7-5 4 0 3 0 7 4 17 17 7 3 3 1 7-3 18-16 7-4 3-1 3 1 7 4 14 16 7 5 7 2 7-2"/>
<path stroke="#7E2F8E" d="M229 1076l14-13 7-3 3 0 7 2 17 12 7 2 11 1 17-6 7 0 7 1 20 11 7 2 7 0 7-3 17-17 17-12 35-19 7-3 7-1 7 1 3 2 7 6 7 10 17 30 7 8 3 1 4 1 3-1 7-5 17-22 7-6 4-1 7 1 17 12 10 5 21 0 21 4 7-1 3-1 7-5 14-12 7-3 3 0 3 1 7 7 18 25 6 5 4 0 3-1 7-8 14-24 7-10 3-3 4-1 3 1 4 2 7 10 13 26 7 7 4 1 3 0 4-3 7-8 13-20 7-6 4-1 7 2 13 10 7 4 7 1 17-3 7 0 7 3 17 10 7 1 4-1 7-5 20-23 7-4 4 0 3 1 7 7 17 28 7 8 4 1 3 0 4-2 3-3 14-24"/>
<path stroke="#77AC30" d="M229 1072l14-2 24-11 7-2 3 0 4 1 7 5 20 22 7 3 4 0 3 0 7-5 17-19 4-1 13 8 7-1 4-2 10-10 7-14 7-22 14-53 7-21 7-12 3-4 3-1 4 1 7 5 7 9 7 12 10 26 21 67 6 15 4 4 7 6 10 5 11-1 13-5 18 1 6-1 11-3 20-11 11-3 7 1 7 2 24 15 7 1 3 0 10-4 25-17 6-2 7-1 7 1 11 5 10 7 17 14 7 4 7 2 3 0 4-1 7-5 24-26 7-4 3-1 4 1 7 3 20 19 11 4 7 0 24-9 13-2 11 0 27 4 11 1 10-1 17-4 11-1 7 2 17 6"/>
<path stroke="#4DBEEE" d="M229 1075l7-2 17-9 10-3 11 3 21 13 6 2 4 0 10-4 14-9 7-4 14-3 10-10 3-2 4 0 3 1 4 3 7 10 7 17 7 29 17 95 7 30 3 10 4 8 3 4 3 0 4-3 3-5 4-7 7-22 24-104 10-37 4-7 3-5 10-8 11-5 7 0 3 1 7 4 10 8 4 2 7 0 17-2 7 0 7 2 17 7 7 1 3 0 7-3 21-15 7-2 3 0 7 4 17 17 7 4 4 1 7-2 6-5 14-13 7-3 4-1 3 0 7 2 21 13 10 2 10-2 21-5 14-1 27 2 38 6 83-6 10 2 21 6 7 2 7 0 7-2"/>
</g></g>
<path d="M157.6 676.8v-4.5M157.6 389.0v4.5M243.8 676.8v-4.5M243.8 389.0v4.5M330.0 676.8v-4.5M330.0 389.0v4.5M416.2 676.8v-4.5M416.2 389.0v4.5M115.5 460.4h4.5M502.2 460.4h-4.5M115.5 532.8h4.5M502.2 532.8h-4.5M115.5 605.2h4.5M502.2 605.2h-4.5" stroke="#9a9a9a" stroke-width="1.4" fill="none"/>
<rect x="115.5" y="389.0" width="386.7" height="287.8" fill="none" stroke="#a6a6a6" stroke-width="2.1"/>
<path d="M650.0 389.0V677.2M736.5 389.0V677.2M823.0 389.0V677.2M909.5 389.0V677.2M607.4 424.0H995.1M607.4 511.5H995.1M607.4 599.0H995.1" stroke="#eeeeee" stroke-width="1.6" fill="none"/>
<clipPath id="c5"><rect x="607.4" y="389.0" width="387.7" height="288.2"/></clipPath>
<g clip-path="url(#c5)" fill="none" stroke-width="4.00" stroke-opacity="0.60" stroke-linejoin="round"><g transform="scale(0.5)">
<path stroke="#0072BD" d="M1214 1025l38-6 20-1 25-9 13-3 11 1 21 11 6 2 7-1 11-7 7-2 7 0 3 2 3 4 7 12 4 7 3 11 7 30 21 105 10 41 7 20 4 6 3 4 4 1 3-3 11-17 45-89 10-17 10-13 14-12 28-15 14-7 20-6 11-5 7-5 17-14 7-5 10-2 7 1 14 5 10 0 7-2 25-9 27-3 21-7 7-2 10 1 21 8 10 0 11-4 17-10 11-3 6 2 21 10 7 2 11-2 17-10 10-3 11 2 17 9 10 4 11-1 10-5"/>
<path stroke="#D95319" d="M1214 1019l10-1 7 1 21 9 6 2 7-1 21-7 11-1 27 6 7 0 17-5 7 0 7 1 18 7 3 0 7-1 3 0 4 4 3 7 25 71 10 25 10 18 7 7 4 0 3-1 7-5 17-16 11-14 21-31 6-8 7-6 7-3 18-1 10-3 7-4 17-14 7-3 7-2 17 0 7-1 7-3 14-8 7-2 3 0 7 1 18 8 7 2 3-1 3-1 7-4 18-16 7-3 3-1 3 1 7 3 18 12 7 2 3 0 10-4 21-13 11-3 10 2 21 6 14 2 13-1 32-5 45-1 13 1 25 6 10 0"/>
<path stroke="#EDB120" d="M1214 1022l34 4 10-1 11-2 3 3 7 15 14 45 7 19 7 12 3 3 4-1 3-3 7-15 18-60 3-9 3-5 4-1 3-3 14-16 7-5 4-1 3 2 7 10 3 3 4-3 7-22 21-98 10-44 7-21 3-8 4-6 3-2 4 0 3 4 35 68 10 16 7 9 10 11 25 21 24 25 10 7 7 4 42 9 31 14 10 4 11 1 20-2 11 1 7 1 20 10 7 2 11 0 20-6 11-1 10 2 28 8 21 3 17 0 24-4 11-1 31 4 31-1 31 2"/>
<path stroke="#7E2F8E" d="M1214 1016l10 2 21 10 10 2 10-2 25-11 10-1 10 4 18 9 10 2 7 0 7-3 17-10 7-4 7-1 3 1 7 4 7 9 21 45 7 14 7 10 10 11 7 4 4 1 7-2 10-5 14-9 10-11 21-24 10-8 4-1 7-1 21 5 10 0 10-4 21-12 10-3 7 0 25 3 10-1 17-5 11-2 27-1 28-2 28 1 7-1 20-6 7-2 11 1 17 6 7 1 7-1 21-6 6-1 7 1 18 5 10 2 10-1 18-5 10-1 10 1 25 3 17-1"/>
<path stroke="#77AC30" d="M1214 1026l10 1 7-1 27-6 14-1 28-11 10-1 11 2 21 13 6 2 7 0 21-6 7 0 7 1 3-1 4-4 7-19 17-63 7-22 7-16 3-6 4-3 3-2 4 1 3 3 14 20 10 11 7 5 18 8 7 5 10 10 17 20 11 10 10 7 10 4 25 3 31 10 34 3 25 10 10 3 10-1 18-3 10-1 38 6 62 2 32 4 10 1 10-1 21-6 10 0 11 2 21 8 10 2 7 0 7-2 24-9"/>
<path stroke="#4DBEEE" d="M1214 1018l6 0 7 2 25 11 6 1 11-2 3-4 4-7 21-60 6-11 4-3 3 0 4 2 7 12 17 48 7 14 3 3 4-1 3-3 14-20 7-6 4-1 3 3 3 6 7 17 11 14 24 39 14 16 7 5 7 2 7-1 10-5 10-8 21-19 11-7 10-1 21 1 7-2 10-7 17-18 7-4 4-1 3 0 7 4 21 20 7 3 3 0 4-1 7-5 20-25 7-4 4 0 3 0 7 5 17 15 7 3 4 0 7-2 20-13 11-3 7 1 20 8 11 1 31-6 10 0 18 3 10 0 7-2 17-7 11-1 10 4 17 11 7 2 4 0 7-2 17-10 7-3 10 1 14 5 7 1"/>
<path stroke="#A2142F" d="M1214 1028l6 1 7-1 21-9 7-2 7-1 10 3 11-1 7-2 20-11 7-2 11 2 17 11 10 4 18 8 7 2 6-1 7-5 4-4 3-7 18-47 10-23 7-10 3-3 7-3 4 1 3 2 14 13 7 4 7 4 21 7 7 3 10 9 17 17 11 8 10 2 17-1 7 0 7 3 17 13 7 3 4 1 7-2 17-9 7-3 3 0 4 0 7 3 17 14 11 4 10-1 21-8 10 0 35 4 27 9 11 1 10-4 17-11 7-3 4 0 3 0 7 3 21 16 10 3 11-2 17-7 7-2 7-1 17 2 7 0 24-7 7-1 7 2 7 3"/>
<path stroke="#0072BD" d="M1214 1025l13-5 11-2 10 1 17 6 7 1 7-4 18-15 6-4 4 0 3 0 7 3 18 18 7 5 3 1 3 0 14-3 21-1 7-3 3-3 4-5 7-21 21-96 10-39 7-17 3-4 4-1 3 2 4 4 31 56 10 14 11 11 24 19 24 23 10 8 11 6 24 7 24 10 7 2 7 0 24-5 11 1 10 6 21 15 10 4 11-2 24-12 10-1 11 3 20 13 11 3 10-1 17-5 7-1 31 3 25-2 10 1 17 8 11 2 10-3 17-8 11-1 7 1 17 8"/>
<path stroke="#D95319" d="M1214 1017l10 0 21 8 7 2 6 0 11-3 7 0 10 5 21 15 7 2 3 1 4-1 7-4 17-16 10-4 14-8 11-3 3 1 3 3 11 14 3 9 7 26 21 94 10 39 7 18 4 6 3 3 4 1 3-3 11-16 41-76 14-21 10-9 7-4 21-7 7-4 17-13 11-6 6-2 18-2 7-2 7-3 17-11 10-4 7 0 18 2 10 0 7-2 17-9 7-2 10 0 21 6 11 0 6-3 18-10 10-4 11 0 27 11 14 3 14-2 28-11 10-2 10 0 25 8 13 2 18-1 17-3"/>
<path stroke="#EDB120" d="M1214 1020l13 0 25 5 20-1 11 3 20 9 7 1 7 0 7-2 21-10 7-1 3-3 18-20 3-2 4-1 3 3 10 20 4 1 28-15 6-2 7 0 11 2 17 6 10 1 11-1 21-4 13 0 11 3 21 9 10 2 10-1 18-5 10-1 10 1 18 6 10 1 31-4 31 3 28 0 24 0 11-1 20-4 7 0 11 1 17 6 10 2 11-1 27-6 11 0 21 4 10 2 10-1 18-5 10-1 10 2 21 6 7 0 7-1"/>
<path stroke="#7E2F8E" d="M1214 1027l27-5 28 1 7 2 27 15 11 2 7-2 7-3 17-11 7-1 3-2 14-16 7-4 4-1 3 2 10 16 4 0 3-3 7-8 24-33 11-9 7-2 7 2 24 16 10 5 11 2 17 2 10 2 7 3 18 10 10 4 10 0 18-4 7 0 10 1 21 8 10 3 31-2 31 2 35-1 31 3 31-1 35 7 10-1 21-9 10-2 11 3 17 10 10 2 11-3 17-9 10-2 11 3 14 8 7 2 3 1 7-1"/>
<path stroke="#77AC30" d="M1214 1023l17-3 10 0 28 4 3 2 4 4 21 31 6 6 7 2 4-1 7-6 21-36 3-4 3-2 11 1 24 6 7 0 3-3 4-6 7-25 17-87 10-43 7-19 4-6 3-4 4 0 3 2 4 5 17 30 17 27 21 28 14 17 7 6 10 7 24 10 11 5 27 21 11 5 10 1 21-5 10 0 11 4 21 13 6 3 7 1 28-4 7 0 17 4 11 2 24-3 10 0 35 6 38 4 14-1 24-5 10-1 11 2 27 8 11 1 10-1 14-4"/>
<path stroke="#4DBEEE" d="M1214 1022l31 4 24 0 3-3 4-4 17-32 7-11 7-6 3 0 4 0 7 8 7 13 10 23 7 12 3 3 4 0 7 1 10-2 21-8 7-4 7-8 17-26 10-14 11-10 7-2 7 1 7 3 27 20 14 7 28 6 31 14 10 1 18-2 10 0 7 2 17 8 7 1 11 0 17-4 7 0 7 1 20 7 7 1 11-1 17-5 10 0 32 6 31-3 31 5 34-4 39 5 10 0 24-6 10 0 11 1 21 5 10 1"/>
<path stroke="#A2142F" d="M1214 1026l10-5 7-1 7-1 20 3 25-2 10 2 21 9 10 1 7-3 21-13 14-16 7-5 3 0 4 1 3 5 10 25 4 2 3-1 7-3 28-25 7-3 7-1 10 3 21 11 7 3 10 1 21-4 10-1 7 3 18 11 7 2 3 0 7-2 21-14 7-2 3 0 7 3 17 14 7 3 4 0 7-1 17-8 10-3 7 1 21 9 7 1 7 0 24-7 10 0 25 5 10 0 10-1 21-6 7-1 10 2 21 10 7 2 10-1 21-10 11-3 7 2 20 9 7 2 11-2 17-6 7-1 10 1 14 5"/>
<path stroke="#0072BD" d="M1214 1015l20 12 11 3 7 0 10-2 10-3 21-9 10-2 7 0 7 3 25 12 10 1 7-6 14-17 7-4 3 0 10 15 4 0 3-3 11-11 31-40 7-6 7-2 7 1 7 4 20 23 7 5 4 2 7 0 17-6 7 0 3 1 7 5 18 18 6 5 4 0 7 0 17-9 10-3 11 3 17 10 11 3 6 1 28-2 31 6 11 0 20-4 11 0 31 2 35 0 31 4 10-1 17-5 11-2 10 1 21 5 24 0 7 0 24 6 11-1 10-4"/>
<path stroke="#D95319" d="M1214 1021l10-3 10 0 7 2 17 8 11 1 3-1 7-7 14-21 7-8 7-5 3-1 4 1 7 6 17 26 7 9 3 2 18 3 10 0 7-3 10-10 7-4 28-24 10-5 11-2 93 25 14 2 31 0 35 8 10 0 21-5 7 0 10 1 18 4 10 1 31-2 31 3 24-2 11-1 31 4 38 2 45-5 38 4 45-1"/>
<path stroke="#EDB120" d="M1214 1016l6 0 7 2 25 13 6 1 4-1 7-2 3-4 21-31 7-5 3-1 4 1 7 4 17 23 7 7 4 2 3 1 3-1 18-12 7-2 7 1 3 2 10 9 4 0 3-3 7-12 18-38 10-19 7-7 3-2 4 0 7 5 17 19 10 7 7 3 25 2 10 5 17 11 7 4 7 1 21 3 24 10 10 3 7 0 25-4 10 0 14 3 24 7 10 1 11-1 20-6 7-1 11 3 17 7 7 2 10-2 18-8 10-1 10 2 21 8 11 2 10-2 28-7 10-1 10 1 28 8 14 2 14-2 24-8"/>
<path stroke="#7E2F8E" d="M1214 1025l13 7 11 2 7 0 20-8 7-1 7 3 18 13 6 3 4 1 3-1 7-4 18-14 7-3 3 0 7 5 14 14 7 3 3 0 4-2 3-3 10-15 4-2 3 0 7 8 7 12 24 59 7 11 4 4 3 2 4-1 3-1 28-29 31-23 10-7 7-3 7-1 21 1 7-1 7-3 17-11 10-4 7 0 14 1 7 0 7-1 17-8 11-2 10 3 14 7 7 3 10 0 11-4 20-14 7-3 7-1 11 2 27 11 14 3 14-2 24-6 11-2 10 1 24 2 28-4 7 0 31 5 7-1 21-5 10-1"/>
<path stroke="#77AC30" d="M1214 1015l6 1 28 10 10 1 11-2 7-4 21-22 6-4 4-1 3 0 7 4 21 22 7 5 3 0 4 0 3-2 14-13 7-4 4 0 3 2 10 13 4 0 7-7 24-37 7-7 7-2 7 2 17 16 7 4 7 0 17-6 7 0 4 1 7 5 17 20 7 4 3 1 7-1 17-12 7-2 4 0 7 2 17 12 10 3 7 0 18-5 7-1 6 1 18 4 10 1 35-2 17 1 14 2 24 5 10 1 14-2 25-10 10-1 10 4 21 18 7 3 3 0 4-1 7-4 17-19 7-3 4 0 6 3 18 17 7 4 7-1 6-6 11-9 7-4 3-1 7 3 14 13"/>
<path stroke="#4DBEEE" d="M1214 1023l10 3 10 0 35-2 3 2 4 3 17 28 7 10 7 5 3 1 4-1 7-6 7-11 14-27 3-4 3-3 7-1 14-4 7-1 7 1 10 6 4-2 7-8 27-50 11-12 7-2 3 1 7 4 28 22 17 9 49 16 34 4 31 8 35 1 41 6 14-1 24-4 11 0 10 2 24 7 14 2 21-1 28-6 10-1 11 1 24 8 10 1 11-2 17-6 10-2 11 1 24 11 7 1 7 0 10-4"/>
<path stroke="#A2142F" d="M1214 1025l10 0 21-5 7 0 6 1 11 4 3 0 4-1 7-8 20-29 7-5 4 0 3 1 7 6 14 22 7 9 3 2 11 1 21 5 10 1 3 1 4 6 3 9 25 99 10 36 10 26 7 10 4 2 3-2 4-3 10-14 10-18 25-48 7-10 10-12 14-11 27-18 14-6 21-5 10-4 7-4 18-14 10-6 3 0 7 0 21 9 7 1 4-1 6-3 21-17 7-3 4-1 6 1 18 8 10 2 11-2 24-10 10-2 11 1 31 3 17 1 45-5 35-5 10 1 24 8 7 0 7-1"/>
<path stroke="#0072BD" d="M1214 1022l10-2 10 0 35 6 3 2 4 4 14 21 7 8 6 6 7 1 4-2 7-6 21-32 3-3 3-2 4 1 3-2 14-19 7-6 4-1 3 3 10 22 4-1 7-9 21-40 6-11 7-8 4-2 3-2 4 0 7 4 24 18 17 9 28 9 31 14 10 2 25 2 20 8 7 2 11-1 17-6 7-2 10 3 21 13 10 2 7-1 18-8 10-1 7 1 21 9 7 1 7-1 17-8 10-2 11 1 20 8 11 2 10-1 21-4 10 0 35 1 41 3 14 0 21-3"/>
<path stroke="#D95319" d="M1214 1024l20 4 11 0 10-1 21-8 10-1 11 4 20 11 7 2 7 0 7-2 14-7 3-3 14-21 7-6 4-1 3 3 3 6 7 17 7 13 25 77 10 27 7 12 3 4 4 3 3 1 4-1 3-3 21-28 10-12 18-15 34-24 11-5 24-9 21-12 10-5 10-1 21 4 10 1 11-3 21-10 10-2 10-1 28 1 10-2 18-5 10-1 35 5 34-6 45-1 28 5 7 0 7-1 21-7 6-1 11 2 21 10 10 1"/>
<path stroke="#EDB120" d="M1214 1024l17 2 38-4 3 0 7 4 21 17 7 3 7 1 3 0 7-4 21-19 10-4 14-9 7-2 4 0 3 2 7 8 10 16 28 76 10 24 7 11 4 4 3 3 4 0 7-4 7-7 41-51 10-10 11-8 7-4 10-3 28-4 14-4 52-20 10-3 14-1 24 5 10 1 11-3 20-9 11-3 10 0 28 5 10 1 11-1 20-5 7-1 11 1 21 7 10 2 10-2 25-10 6-2 11-1 17 3 24 9 11 3 7-1 10-4"/>
<path stroke="#7E2F8E" d="M1214 1020l10-3 10 1 24 10 14 1 31 13 7 1 7 1 11-3 17-12 7-2 3-2 14-14 7-4 4-1 3 2 3 4 7 12 7 9 21 43 14 24 10 13 7 6 4 1 3 0 7-2 14-9 10-10 25-28 6-6 7-4 11-2 17-1 7-1 31-12 31-4 28-8 10-1 21 4 10 0 7-2 21-10 10-2 7 1 21 6 11 1 10 0 31-6 17-1 18 0 34 4 14 0 42-7 13 2 25 7 7 0 10-1"/>
<path stroke="#77AC30" d="M1214 1018l6-1 11 0 38 7 3 0 11-6 20-19 7-3 4-1 3 1 7 4 18 19 6 5 11 1 17-4 7-1 7 2 3 4 4 8 7 31 17 109 10 57 7 27 4 10 7 13 3 3 4-2 3-4 31-59 11-23 20-53 11-18 3-4 7-5 7-1 14 1 7-2 3-2 11-11 20-31 7-7 4-3 3-1 7 0 18 6 10 1 10-5 21-15 7-4 7-2 14-2 62-2 10-2 25-9 10-3 10 1 21 8 11 2 6 0 21-4 21-3 24-4 7 0 7 2 17 10 7 2 4 0 7-1 10-7"/>
<path stroke="#4DBEEE" d="M1214 1021l10-3 7 0 7 2 17 7 7 1 7 0 7-6 21-28 6-5 4 0 3 0 7 5 21 26 7 6 3 1 4-1 3-3 11-12 7-7 3-2 4 0 3 2 3 5 14 30 28 107 10 32 7 15 4 4 3 3 4 1 3-3 11-14 41-65 17-20 14-10 35-13 27-18 14-6 45-8 35-5 24-6 14-2 35 0 31-4 10 0 28 2 10 1 11-2 17-5 10-2 11 2 17 5 10 1 7-1 17-6 11-2 10 1 21 6"/>
<path stroke="#A2142F" d="M1214 1020l34 6 10 0 11-1 3-3 4-4 17-29 7-8 7-5 3 0 4 1 3 3 7 9 14 24 7 9 3 2 7 1 21 9 7 0 10-7 4 2 7 13 24 65 10 24 11 16 3 3 4 1 3-1 4-2 7-6 10-11 28-36 10-10 14-10 28-14 17-6 14-2 20 2 11-2 7-4 20-15 7-3 4-1 7 0 7 3 14 7 10 1 7-1 17-11 10-3 7 0 18 5 7 0 10-1 17-6 11-2 7 1 20 5 11 1 52-6 31 0 41 4 11-1 17-3"/>
<path stroke="#0072BD" d="M1214 1012l24 19 7 3 3 0 7-2 14-9 3-4 18-33 7-10 3-3 3-2 4 0 3 1 7 8 18 30 7 10 3 2 3 1 4-2 14-12 7-2 7 2 3 3 7 12 3 4 4-2 3-6 7-20 18-66 6-22 7-17 4-5 3-3 4-1 3 3 4 4 27 53 11 14 3 3 7 2 7 0 14-5 7 0 3 0 4 2 7 6 17 22 7 7 3 3 7 3 7 0 21-5 10 0 38 9 28 10 7 1 10 0 21-5 7-1 10 2 18 7 7 2 10-2 17-9 11-3 10 2 21 12 10 3 7-1 21-6 7-1 7 1 17 5 10 1 35-3 28 2 17 0"/>
<path stroke="#D95319" d="M1214 1019l6 1 18 8 7 1 10-1 14-5 7 1 7 4 17 15 7 3 3 1 4-1 7-3 21-18 3-2 7 1 3-1 14-11 7-4 4-1 3 2 10 13 4-2 3-6 21-53 10-22 11-15 3-3 4-2 3 0 4 2 14 9 10 10 24 26 11 9 6 3 7 2 28 2 10 3 11 6 21 16 10 4 10 0 18-6 10-2 10 3 18 9 10 3 7 0 21-5 10-1 10 3 18 7 10 2 11-3 17-8 10-1 11 2 17 9 7 2 10 0 21-6 10-2 11 2 17 6 10 2 11-1 21-7 10-2 10 2 21 10 7 2"/>
<path stroke="#EDB120" d="M1214 1016l10 0 24 9 7 2 10-1 18-4 10-1 31 2 28 0 3-1 18-13 7-2 3 1 7 9 3 3 4-5 7-24 17-85 10-43 7-20 4-7 3-4 4-1 3 3 4 5 27 53 7 11 7 9 11 10 17 11 7 6 24 27 7 6 7 5 7 3 41 10 28 5 10 4 18 9 10 3 7 0 21-4 7 0 10 2 17 8 7 1 11 0 17-3 10 0 28 6 7 1 10-1 21-5 10-1 11 3 21 8 7 1 10-1 21-10 10-2 10 4 21 12 7 1 7 0"/>
<path stroke="#7E2F8E" d="M1214 1025l13-6 7-1 7 0 17 6 14 1 7 2 7 4 24 20 7 3 4 0 3-1 7-5 17-22 7-5 11-1 14 3 3 0 7-1 3 2 4 6 3 11 25 111 10 39 10 27 4 6 3 4 4 0 3-2 4-4 7-11 10-18 24-49 7-12 10-12 11-9 38-29 10-5 28-9 24-14 11-5 13-3 25 1 10-1 10-2 25-9 13-3 32 1 34-6 11 0 20 4 7-1 7-1 21-7 7-2 10 1 21 10 10 2 11-3 20-12 11-1 7 2 17 9 7 3"/>
<path stroke="#77AC30" d="M1214 1022l17 2 14 1 10-1 17-5 7 0 11 4 24 16 7 2 3 0 4 0 7-3 17-13 17-18 7-4 4-1 3 2 10 12 4-1 3-5 7-15 21-62 7-18 7-13 3-4 4-2 3 0 7 6 38 46 11 11 10 9 7 4 7 2 21 3 10 3 7 4 21 17 10 5 10 0 21-6 11-1 10 4 21 14 10 2 10-2 21-11 11-1 10 4 21 15 10 4 10-2 21-10 11-3 10 1 21 11 10 4 11-1 20-8 11-2 27 3 28 1 28 4 7 0 10-2"/>
<path stroke="#4DBEEE" d="M1214 1017l31 5 10 1 62 1 52-2 21 2 3-1 4-5 7-23 17-80 10-42 7-19 4-6 3-3 4 0 3 3 4 6 24 48 10 14 11 8 20 11 11 9 24 27 10 8 11 4 48 14 11 2 31 3 38 11 17 3 17 0 28-3 10 0 11 1 24 7 10 0 28-3 38 6 11-1 27-6 11 1 20 5 11 2 10-1 14-3"/>
<path stroke="#A2142F" d="M1214 1026l17-5 14 0 27 3 31 10 11 2 7-1 7-2 17-9 10-3 11-6 7-2 7-1 3 2 7 5 3 1 4-2 7-16 21-72 10-31 7-14 3-4 4-2 3 1 7 7 28 45 7 9 7 7 10 6 24 8 7 5 24 18 7 4 11 3 38 9 27-1 7 1 11 3 17 9 10 3 11-1 17-4 10 0 11 1 17 6 11 2 10 0 21-4 10-1 10 1 28 6 42 1 14 0 24-5 7-1 10 1 21 9 7 2 7 0 10-3"/>
<path stroke="#0072BD" d="M1214 1017l27 10 11 0 17-2 3 1 7 8 18 26 6 6 4 1 3 0 4-1 3-2 7-9 14-21 7-7 3-1 7 2 7 0 24-7 11 1 3 2 7 7 24 39 11 14 7 7 7 3 7-1 10-6 10-9 21-20 11-7 10-2 17-1 7 0 11-4 17-9 10-3 11 2 17 7 10 2 7-1 7-3 24-14 11-2 10 1 21 7 10 1 11-1 41-7 24-2 18 1 31 5 10 1 11-2 20-6 11-2 7 1 24 6 7 0 20-4 7-1 7 1 18 5 10 1"/>
<path stroke="#D95319" d="M1214 1023l31 3 17-1 10-2 18-11 7-3 10-2 10 2 28 14 31 3 7 0 7-2 7-3 3-4 25-41 6-9 11-10 7-2 7 2 31 23 14 7 10 3 21 2 10 2 11 5 17 9 10 4 11 0 17-3 10 0 25 3 27 2 24 6 11 1 10-1 24-5 14 0 11 2 24 8 7 1 10-1 21-7 7-1 10 1 18 5 10 2 7 0 21-5 10-1 52 5 14 0 17-2"/>
<path stroke="#EDB120" d="M1214 1017l6-1 7 2 28 10 17 1 28 11 10 2 7 0 7-3 21-12 10-2 18-10 7-2 3 0 14 12 7 8 24 45 10 16 11 11 3 2 4 0 3-1 7-4 24-22 11-8 14-8 17-7 17-6 14-3 55-7 38-12 11-1 21 4 10 1 7-1 21-6 6-1 7 1 18 4 10 0 7-1 17-7 11-1 10 1 21 7 10 1 28-4 28-2 20-4 11-1 10 1 21 7 10 3 11-1 10-4"/>
<path stroke="#7E2F8E" d="M1214 1019l17 7 10 2 11-2 17-7 3 1 4 3 7 10 17 34 7 8 3 2 4 1 3-2 4-4 7-13 14-32 3-7 3-4 11-2 7 1 10 6 14 10 3 4 4 8 3 11 25 117 10 42 10 30 4 7 3 3 4 1 3-3 7-11 45-85 17-28 14-15 24-19 21-18 11-7 10-3 21 4 10-1 10-6 25-19 7-3 7-2 10 0 24 3 10 0 11-3 28-9 13-2 38 4 32-1 27 1 11-3 20-10 7-1 11 2 20 14 7 2 4 1 3-1 7-2 21-14"/>
<path stroke="#77AC30" d="M1214 1025l13-1 25-5 17-1 3 2 7 5 21 22 7 4 7 2 3-1 7-4 21-22 10-6 14-13 7-4 4 0 3 2 10 16 7 8 21 35 7 10 10 10 7 3 4 0 7-2 14-13 6-4 11-3 17 2 11-2 10-6 17-14 7-4 7-2 28 0 27-4 32 1 10-2 28-8 10-2 14 1 21 4 10 1 10-1 25-5 10-1 21 1 38 4 10-1 21-6 10-1 7 0 18 4 10 1 28-4 10 1 21 2 17-2"/>
<path stroke="#4DBEEE" d="M1214 1024l10-3 7 0 7 2 17 8 7 0 3-1 4-1 3-3 21-30 7-6 3 0 4 0 7 4 21 25 7 5 3 1 3 0 14-6 14-3 10 0 4 1 3 4 4 8 7 33 21 138 10 56 7 26 3 9 4 6 3 3 4-1 3-4 28-57 10-26 21-60 7-15 3-5 4-4 7-4 17 0 7-3 7-8 21-31 7-7 6-2 18 2 7-2 7-4 17-14 10-5 7 0 14 2 7-1 7-2 17-10 7-2 7 0 21 4 7 0 27-9 28-1 7-2 17-6 7-2 11 2 7 3 17 11 10 2 4 0 7-3 24-19 7-3 3 0 4 0 7 3 20 17 7 3 4 0 7-1 10-8"/>
<path stroke="#A2142F" d="M1214 1031l10 0 7-2 27-15 11-3 3 2 7 8 18 30 6 10 7 5 4 0 3-2 7-7 18-31 3-5 3-2 4-1 17-9 7 0 4 1 3 2 14 22 3 9 7 25 21 87 10 37 7 18 4 6 3 3 4 1 3-3 7-11 31-63 7-12 7-9 10-9 21-10 7-4 11-10 20-23 11-7 10-1 17 2 11 0 31-11 52-13 20-2 49 0 10-2 18-6 10-2 10 2 18 5 10 2 10-1 21-7 11-2 31 2 24-2 10-1 11 2 17 4"/>
<path stroke="#0072BD" d="M1214 1019l10-2 7 1 31 8 28 1 24 2 10 0 28-6 3-2 18-20 7-3 3 1 7 13 7 19 3 15 31 204 11 46 3 10 4 7 3 3 4-1 3-6 21-56 17-39 35-68 14-22 7-7 7-5 20-8 11-6 34-27 28-19 10-4 7 0 7 1 21 8 7 0 3-1 11-6 20-19 7-4 4-1 3 0 7 2 21 11 10 3 11-3 24-14 7-3 7-1 7 0 7 2 20 10 11 3 10-2 21-14 10-4 4-1 7 2 20 13 11 4 10-2 14-8"/>
<path stroke="#D95319" d="M1214 1030l13-13 7-5 7-2 7 1 21 10 3 3 25 31 6 5 7 3 7-3 7-7 18-28 6-8 7-1 7 1 21 9 7 0 3-2 4-3 7-17 17-61 10-32 7-15 4-5 3-3 4-2 3 1 4 3 14 14 13 17 21 29 7 8 7 6 10 5 21 2 11 3 10 5 24 17 10 5 7 2 14 2 24-3 11 1 10 4 18 12 6 3 4 0 3-1 7-3 18-15 6-3 4 0 3 2 7 5 18 19 7 5 3 1 3-1 7-3 21-15 11-3 10 2 24 11 11 3 10 0 28-6 17-1 17 2 24 8 11 1 10-1 14-8"/>
<path stroke="#EDB120" d="M1214 1027l34-4 21-4 3 1 4 2 7 6 20 25 7 4 4 0 3-1 7-5 21-30 3-2 4-2 3 0 7 2 18 11 3 1 7 2 3 2 4 8 7 31 21 124 10 52 7 26 3 10 4 7 3 4 4 0 3-4 31-67 31-62 18-33 10-15 7-8 10-7 25-6 10-5 10-9 21-20 11-7 6-2 7-1 21 4 11 0 10-3 24-14 10-3 32 1 31-5 21 2 10 0 10-3 18-6 10-2 14 1 24 8 10 2 11-2 21-10 10-2 10 1 18 7 10 1"/>
<path stroke="#7E2F8E" d="M1214 1023l20 5 11 1 10-2 14-5 3 1 4 1 7 7 20 28 7 5 4 0 3 0 7-5 18-25 3-4 3-3 7-2 14-8 7-3 7 0 3 2 4 3 7 9 7 19 24 99 10 36 7 17 4 5 3 4 4 0 3-2 7-10 42-71 10-15 10-11 7-5 7-4 31-11 42-24 14-6 14-2 24 1 14-2 10-3 21-11 10-2 10 1 18 5 10-1 7-2 17-8 7-1 11 2 17 9 7 1 3 0 7-3 18-13 7-2 3-1 7 1 21 13 7 3 3 1 7-2 21-12 10-3 10 2 18 10 7 2 7 0 10-5"/>
<path stroke="#77AC30" d="M1214 1020l13-7 11 0 10 4 17 11 7 2 4-1 7-3 17-14 7-4 3 0 4 0 7 2 17 11 7 3 3 1 7-2 18-13 7-1 3 2 7 8 10 18 25 74 13 34 7 12 4 4 3 3 4 0 7-4 10-11 38-50 14-14 7-4 7-3 27-8 28-15 10-4 32-5 24-6 48-10 11 0 20 6 11 0 7-2 20-12 11-2 7 1 21 7 13 1 38-1 32-7 10-2 14 1 24 5 14 2 14-1 17-3"/>
<path stroke="#4DBEEE" d="M1214 1015l6-1 7 1 11 4 20 12 4 1 14 1 34 10 7 1 11-2 20-13 7-1 21-7 14-2 3-2 4-5 7-20 17-70 10-35 7-16 4-5 3-3 4 0 3 3 4 4 17 25 17 20 25 25 17 15 17 12 14 9 10 4 25 7 24 13 7 3 10 1 21-5 7 0 10 3 17 9 11 2 24 0 28 3 7 0 17-3 10-1 7 2 21 8 7 1 10-1 18-6 10-2 10 1 21 9 11 2 6-1 25-6 10 0 17 6 7 1 11-1 10-4"/>
<path stroke="#A2142F" d="M1214 1027l10 0 17-5 11-1 6 0 14 4 11 1 10-4 17-8 7-2 4 0 7 3 24 16 3-1 4-2 14-17 7-6 3 0 10 12 4-4 3-8 21-70 10-28 7-12 4-4 3-3 4-1 3 2 4 3 27 30 32 27 24 27 7 6 3 2 7 2 7 0 14-2 7 1 7 3 17 12 7 3 7 1 21-6 6 0 11 5 17 13 7 3 4 0 6-1 18-8 7-2 10 1 17 8 7 2 11-1 17-5 7 0 7 2 17 11 7 2 3 1 7-2 21-13 11-3 3 0 7 2 21 13 10 4 10 0 25-11 10-2 10 0 25 7 10 1"/>
<path stroke="#0072BD" d="M1214 1022l10-4 7 0 7 1 20 7 14 1 11 7 17 15 7 4 3 1 4 0 7-3 7-7 14-18 3-4 3-2 7 1 18 10 7 3 3-1 7-3 3 0 4 6 7 29 24 158 10 58 7 27 4 9 3 5 4 0 3-5 24-70 11-27 14-30 13-24 18-27 14-17 20-20 11-8 7-5 7-3 20-5 7-3 7-4 17-13 11-6 10-2 18 1 6 0 11-5 21-11 10-3 31 1 31-4 11-1 38 1 10-2 24-6 7-1 11 1 20 4 11 0 17-5 10-1 25 5 10 1"/>
<path stroke="#D95319" d="M1214 1020l13 1 25 6 6 0 14-2 7 1 31 10 11 1 7-2 17-7 7-1 3-3 18-25 3-2 4-2 3 2 7 15 7 20 3 13 7 40 21 137 10 55 7 26 4 8 3 5 4 0 3-4 7-16 35-96 7-16 10-19 7-10 10-12 35-35 17-15 14-9 48-23 11-3 24-5 31-13 11-1 20 2 7 0 11-3 17-7 7-2 10-1 24 4 11 0 17-4 11-2 10 1 17 2 11 1 10-2 21-5 10-1 35 5 17-1"/>
<path stroke="#EDB120" d="M1214 1023l10-3 10-1 35 6 7 3 24 20 7 3 3 1 4-1 7-4 17-18 7-6 3-1 4 0 3-1 18-15 7-3 3 2 10 17 7 7 4 6 7 14 20 51 7 15 7 10 4 3 3 1 4 0 3-3 21-28 10-10 7-3 18-4 6-3 7-5 21-19 7-4 7-2 31 0 28-3 14-4 20-10 11-2 10 2 17 8 7 1 11-4 17-11 10-3 7 0 25 7 13 0 25-2 10-3 17-7 7-1 11 3 17 13 7 4 3 1 4 0 7-3 17-13 10-5 7 1 21 7 7 1 7 0 17-4 7 0 7 1"/>
<path stroke="#7E2F8E" d="M1214 1024l31-6 10 0 14 4 3 0 7-5 18-22 6-7 7-4 4 0 3 1 7 5 18 24 6 6 25 10 10 0 7-2 3-3 4-6 3-9 21-77 10-30 7-13 4-4 3-2 4 0 3 2 4 3 38 47 14 13 27 15 25 15 27 12 28 14 10 1 21-5 10-1 11 2 27 13 11 2 17 2 17-1 32-6 10 0 10 3 21 10 10 3 11-2 28-11 10-1 10 2 25 12 10 2 10-3 21-14 7-2 3 0 4 1 7 4 17 15 7 4"/>
<path stroke="#77AC30" d="M1214 1038l3 0 7-3 21-20 7-4 3-1 7 1 17 12 11 3 3 0 7-2 17-10 7-2 4 0 7 2 13 7 11 4 10-1 17-3 7 1 4 1 7 8 21 37 6 11 7 7 4 3 7 2 7-1 17-11 24-8 31-17 32-6 20-9 11-2 34-1 69-9 45 1 14 0 38-6 11 1 17 5 10 0 32-6 24 0 27-1 11 2 17 7 7 1 10-3 18-11 7-3 10-1"/>
<path stroke="#4DBEEE" d="M1214 1023l34-2 10 1 32 6 31-2 31 2 7-4 14-11 7-4 3 0 7 5 3 1 4-4 7-20 17-68 10-36 7-17 4-5 3-4 4-1 3 2 4 4 20 29 14 18 31 35 14 14 14 8 24 7 11 4 24 15 10 4 11 1 20-2 7 1 11 3 21 9 10 2 34-3 35 6 31 0 38 3 35 0 31 4 10-2 18-5 10-1 10 2 18 9 7 3 7 0 10-3"/>
<path stroke="#A2142F" d="M1214 1021l27 3 28-2 7-2 21-13 6-3 7-1 11 3 21 13 6 2 7-1 14-3 11-1 3 2 21 15 24 23 14 12 10 6 7 1 11-1 10-4 10-6 21-15 14-7 14-1 21 1 13-1 14-2 42-10 10-2 14 1 21 6 7 0 10-1 24-12 11-2 6 1 21 8 11 2 10-1 24-8 11-1 10 1 21 5 10 1 11-1 17-4 10-1 11 1 24 5 10 0 28-5 10 0 21 2"/>
<path stroke="#0072BD" d="M1214 1019l6-1 11 1 27 7 11 1 7 4 21 16 6 3 7 1 4-1 7-3 17-16 7-5 3-1 4 1 14 4 7 1 7 0 3-2 10-8 11-7 27-25 11-5 7-1 7 2 20 8 11 3 34 5 11 3 17 9 7 2 7 1 31-3 10 1 18 5 10 1 24-4 11 0 10 2 17 5 11 2 34-4 38-1 11 1 24 5 7 1 10-2 18-5 10-2 10 2 18 6 10 1 11-2 17-6 10-2 11 2 27 8 11 1 10-3"/>
<path stroke="#D95319" d="M1214 1023l10-2 7-1 7 1 20 5 11 0 3-2 4-4 21-31 6-6 4-1 3 1 7 6 21 35 7 6 3 1 4-2 14-13 7-5 7-1 3 1 3 3 7 11 4 9 3 14 25 134 10 45 7 21 3 8 4 5 3 2 4-1 3-4 28-58 17-32 14-21 17-22 21-19 24-21 7-4 7-3 21-4 10-4 7-5 17-17 7-4 4-1 7 0 21 10 6 0 4-1 7-4 17-15 7-4 3-1 7 1 18 8 10 2 10-3 18-10 10-3 11 2 17 8 10 2 7-2 21-11 7-1 3 0 7 2 18 9 6 1 4 0 7-3 17-13 7-3 3 0 4 0 7 3 14 10 7 3 3 2 7 0"/>
<path stroke="#EDB120" d="M1214 1022l24 2 41-3 31 5 14 0 28-5 3-2 14-14 7-4 4 0 3 2 10 18 4-2 3-6 21-53 7-15 7-10 3-3 4-2 3 0 4 1 3 2 14 15 10 7 7 3 21 7 11 5 10 7 28 20 10 6 7 2 10-1 18-4 10 0 10 4 18 11 10 3 7-1 17-7 11-1 7 2 17 11 10 3 7-1 17-9 11-3 7 2 17 8 10 2 7-1 21-8 10 0 7 2 18 10 10 3 7-1 21-10 7-1 10 1 17 7 11 2 7-1 20-7 11-2 10 2 14 5"/>
<path stroke="#7E2F8E" d="M1214 1024l20-6 7-1 7 1 24 8 18 11 7 3 6 2 7 0 11-3 21-12 13-2 21-14 4-1 3 0 7 7 7 11 3 9 7 24 18 70 10 34 7 15 3 5 4 4 3 1 4-1 3-4 24-37 14-18 49-48 7-5 7-3 6-2 18-2 10-4 24-17 11-5 10-1 21 3 10 0 11-3 27-8 14-3 14-1 62-2 11-2 27-7 11 1 20 10 11 3 7-2 21-12 6-2 7 0 21 9 7 2 7-1 21-6 7 0 10 2"/>
<path stroke="#77AC30" d="M1214 1013l20 10 18 6 10 1 24-6 7-1 7 0 10 4 18 12 7 3 7 1 6-2 7-3 18-19 7-6 6-2 7 0 4-1 3-3 7-10 21-39 7-12 7-7 3-2 4-1 7 3 20 20 11 8 10 4 21 4 10 4 32 20 10 2 17-2 7 1 7 2 17 8 7 2 11 0 13-5 7-1 7 0 21 9 7 1 7-1 14-4 7-1 3 0 7 3 21 15 7 2 3-1 7-3 17-14 7-3 4 0 3 0 7 3 17 14 7 4 11 2 10-1 24-7 14-1 35 3 34-1 25 2 10 0"/>
<path stroke="#4DBEEE" d="M1214 1025l10-1 24-4 10 1 11 2 3-1 7-7 21-30 7-6 3-1 4 0 3 1 7 7 18 29 3 4 3 3 4 0 3-2 18-19 3-2 4 0 3 2 10 21 4-1 7-11 17-36 7-13 7-9 3-3 7-3 4 0 3 1 28 20 24 13 17 8 28 9 38 8 31 10 11 1 20-5 11-1 10 2 18 6 10 1 28-1 34 2 28-2 17 0 24 2 38 5 14-1 28-4 14-1 10 2 21 5 10 2 11-1 17-7"/>
<path stroke="#A2142F" d="M1214 1020l10 1 21 4 7 1 6-1 11-3 7-8 17-32 7-7 3-2 4 0 3 1 7 6 21 36 7 7 3 0 4-1 17-22 4-2 3-1 4 0 3 3 10 22 4 0 3-4 7-15 18-45 6-15 7-11 4-3 3-2 4 0 7 4 27 28 18 13 14 6 27 8 28 15 14 4 65 5 11 1 24 7 10 1 11 0 21-2 13-1 63 6 14 0 38-1 41 3 14-1 24-4 11 0 10 1 24 6 14 1"/>
<path stroke="#0072BD" d="M1214 1022l13 0 25 7 6 0 14-4 7 1 11 3 20 13 7 1 4 0 7-2 17-12 3-2 7-1 21 2 7-1 7-5 10-9 21-33 14-18 10-8 4-2 7-1 14 2 10 4 10 10 18 23 10 9 3 2 7 0 7-3 14-7 7-2 4 1 3 1 7 4 17 16 7 4 4 1 6-1 21-9 7-1 11 3 20 12 7 2 7 1 11-1 34-8 14-1 10 1 21 7 10 1 11 0 28-3 41 2 35-5 7 1 20 6 7 1 7-1 21-5 7 0 7 1 17 5 7 1"/>
<path stroke="#D95319" d="M1214 1024l10 1 7-1 17-5 10 1 11 5 17 18 7 3 4 0 6-3 18-15 7-4 3 0 7 0 7 4 7 5 3 0 7-8 11-18 7-9 3 0 3 4 7 13 4 1 21-4 20-12 7-3 4 1 7 3 20 21 7 5 4 0 7-1 7-5 17-15 3-1 7-1 7 1 18 6 20 2 7 2 7 4 17 15 7 3 4 0 7-4 17-20 7-5 3-2 7 1 7 5 14 11 7 2 4 1 6-2 14-6 11-2 27 6 28-2 28 3 27-2 28 2 28-1 27 5 7 0 18-4 7-1 6 1 18 7 7 1 7-2 10-9"/>
<path stroke="#EDB120" d="M1214 1020l10-1 7 1 21 13 6 2 7 0 21-7 11-1 6 1 21 9 7 1 7-1 14-5 17-13 7-4 7-1 3 2 7 5 7 11 18 44 10 21 10 13 7 5 7 2 7-1 21-8 7-4 10-9 21-22 10-7 7-3 18-2 7-2 20-10 7-3 7-1 21 1 7-1 24-11 7-3 10 0 21 4 7 1 10-1 25-6 34 1 7-1 21-7 7-1 7 1 20 4 11 1 28-3 27 1 45 0 31-6 11 1 17 7"/>
<path stroke="#7E2F8E" d="M1214 1022l20 0 24 2 11 0 3 1 7 5 21 21 7 4 7 2 3-1 7-4 7-7 11-12 6-6 14-4 11-2 20 1 21 12 14 5 28 5 17 1 10 0 7-2 25-9 13-3 14-1 24-1 38 4 11-2 21-8 10-2 10 1 21 7 11 1 6-1 18-6 10-3 10 1 18 6 10 1 11-1 17-5 10-2 11 1 24 4 10 0 28-3 38 4 10-1 21-6 7-1 10 2 21 8 7 2 7-1"/>
<path stroke="#77AC30" d="M1214 1020l10-1 7 1 21 8 10 2 10-2 21-8 10-1 7 0 25 7 17 1 3-1 4-3 14-15 7-3 3 1 7 11 7 14 3 9 7 29 21 105 10 44 7 21 4 7 3 5 4 1 3-3 4-5 7-13 34-75 11-18 10-12 59-49 10-5 21-2 7-2 10-6 17-14 7-3 11-1 21 4 6 1 11-4 21-11 6-2 7-1 25 4 10 0 10-2 18-4 10-2 38 4 11-1 34-6 14 0 24 3 11 0 48-5"/>
<path stroke="#4DBEEE" d="M1214 1019l34 7 10-1 14-3 7 1 11 3 20 10 11 1 7-2 17-9 7-3 3-2 14-16 7-4 4 0 3 2 10 18 4-1 7-14 21-59 6-16 7-13 4-4 3-2 4 0 3 1 4 3 27 32 7 6 11 7 55 28 28 8 24 10 7 1 10 1 21-4 10 0 11 2 27 10 18 3 10-1 21-3 10-1 11 1 27 6 11 0 27-3 14-1 42 7 10 0 21-5 10-1 11 1 27 6 11 0 17-4"/>
<path stroke="#A2142F" d="M1214 1021l10-1 7 0 27 6 11 1 10 0 24-6 11 0 28 4 31 3 10 0 17-9 7-7 21-29 7-9 7-5 7-2 7 3 20 15 14 8 14 3 24 0 11 2 10 3 21 10 14 3 31 0 34 3 35-1 42 7 10 0 31-4 38 4 28-3 10 0 31 5 11 1 14-1 31-7 14-1 13 2 25 9 10 2"/>
<path stroke="#0072BD" d="M1214 1023l10 0 24-3 10 1 11 4 3 0 4-1 3-2 7-7 17-21 7-6 4-1 3 0 7 5 21 32 3 3 4 2 3-1 4-3 14-17 7-7 3 0 3 3 7 8 4-1 10-16 31-59 7-10 4-3 3-2 7 1 7 5 7 7 17 21 11 10 7 4 20 9 21 13 7 3 7 2 21-4 10 2 7 3 17 13 11 4 7 0 20-9 7-1 4 1 7 3 20 16 7 2 7-2 7-4 14-10 7-3 3-1 4 1 7 2 21 16 10 3 10-2 21-10 7-2 7-1 7 0 7 2 24 11 10 2 7-1 21-9 10-3 11 2 21 9 10 2 10-1 28-7"/>
<path stroke="#D95319" d="M1214 1014l6 3 14 11 7 3 4 0 3 0 7-3 17-11 7-1 7 3 17 14 7 3 4 1 7-3 17-16 7-4 10 0 18-6 7 0 3 2 14 25 3 9 11 49 24 140 7 28 3 10 4 7 3 3 4-1 3-5 24-58 25-43 20-42 11-17 7-8 7-4 7-1 13 2 7-1 4-2 10-10 21-30 7-7 3-2 4-1 7-1 17 7 10 2 7-2 21-11 10-4 21-3 24-5 28 0 24-6 11 0 17 3 7-1 7-2 17-8 7-1 3 0 7 3 18 12 7 2 3 1 7-2 21-17 7-3 3 0 4 0 6 3 18 12 7 2 7 0 10-3"/>
<path stroke="#EDB120" d="M1214 1017l17-4 14 2 24 9 7 4 17 15 7 3 7 1 3-1 7-4 21-21 7-4 10-1 18-9 7-1 3 2 3 5 11 21 3 10 7 29 21 104 10 42 7 22 4 7 3 5 4 2 3-2 4-4 10-19 10-23 21-53 11-20 6-10 11-9 24-12 31-23 17-9 35-13 52-14 10-1 21 1 10-2 11-4 17-9 7-2 10 0 21 7 11 1 10-5 17-11 7-3 4 0 7 2 7 3 13 9 11 5 7 0 7-3 24-17 7-2 3 0 4 0 7 3 20 17 7 4 4 0 7 0 10-6"/>
<path stroke="#7E2F8E" d="M1214 1020l10-2 7 0 24 7 10 0 7-2 21-16 7-2 3 0 11 4 17 13 11 5 6-1 14-4 7-1 17 3 4 1 3 3 4 9 3 14 25 147 10 51 7 24 3 9 4 7 3 4 4 0 3-4 4-6 20-41 35-80 7-13 10-14 11-11 24-23 14-11 10-6 21-6 10-5 31-21 7-4 7-1 28 0 28-6 24-3 31-10 10 1 18 5 7 1 10-2 17-7 7-2 7 0 21 5 7 1 7-1 17-5 10-2 31 4 32-2 10 0"/>
<path stroke="#77AC30" d="M1214 1024l34 1 28-2 10 0 42 4 24-2 3-2 18-21 7-3 3 2 10 17 4-1 7-12 17-42 10-21 7-10 4-3 3-2 4 0 7 4 17 15 14 11 31 20 14 8 17 7 35 7 34 12 14 1 21-3 10 0 11 2 17 5 10 2 7 0 21-3 7-1 10 2 21 8 7 1 10-2 21-7 11-1 10 1 24 9 11 3 10-1 28-8 10-2 17 2 45 10 11-1 10-3"/>
<path stroke="#4DBEEE" d="M1214 1020l10-4 7 0 24 9 10 0 7-3 21-21 7-4 3 0 4 0 7 4 21 19 7 4 3 2 7-1 3-3 14-15 7-4 4 0 3 3 7 12 3 5 4-4 3-8 21-81 7-23 7-17 3-6 4-4 3-2 4 0 3 3 14 14 17 14 7 6 7 9 21 33 10 10 7 3 18 2 7 1 6 4 18 14 10 5 7 0 21-5 10 1 11 5 24 15 10 4 7 1 14-1 21-7 10-2 10 2 18 10 10 4 7 0 21-9 7 0 7 1 20 11 7 1 4 0 7-2 20-12 11-2 10 3 21 12 10 3 7 1 7-2 21-10 10-2 11 2 17 8"/>
<path stroke="#A2142F" d="M1214 1025l20-5 11-1 24 3 3 3 4 4 21 31 6 7 7 3 4 0 7-4 7-9 14-21 3-5 3-2 32-1 10-6 3 0 4 5 7 21 21 85 10 36 10 25 4 5 3 2 4 1 3-3 4-4 7-10 34-61 7-9 10-11 14-9 52-29 14-6 35-12 10-3 7 0 21 2 10 0 10-4 21-12 11-2 10 1 17 6 11 1 10-3 17-8 11-3 10 1 21 6 10 1 11-1 20-5 11-2 31 2 31-1 28 2 17 0"/>
<path stroke="#0072BD" d="M1214 1019l10 1 28 7 6 0 18-4 10 0 11 1 24 6 10 0 21-5 3-3 18-25 3-2 4-1 3 2 3 6 7 18 11 16 17 37 10 19 11 12 7 4 3 0 7-3 24-20 42-25 14-5 27-3 11-4 17-9 10-3 11 0 17 3 11 0 31-6 31-2 31-6 35 2 34-5 7 0 21 5 7 0 10-1 17-5 7-1 7 1 25 3 31-5 10 2 21 8 7 1 7-1 10-5"/>
<path stroke="#D95319" d="M1214 1020l13-1 25 5 17 1 3 1 7 6 14 17 7 7 7 4 3 1 4 0 7-4 24-28 3-2 4 0 3-2 18-18 7-4 3 1 3 4 7 12 11 5 17 12 17 9 11 4 7 1 7 0 10-3 28-12 10-3 10-1 25 1 31-4 10 1 17 3 11 0 10-3 18-8 10-2 10 2 21 8 10 1 7 0 21-7 10-2 11 0 21 2 31 0 31 2 10-1 28-5 10 0 25 7 10 1 10-2 18-6 10-1 10 1 21 8 7 0 7-1"/>
<path stroke="#EDB120" d="M1214 1024l17-4 10-1 11 1 17 5 7 7 14 21 7 9 6 5 4 1 7-2 7-6 17-26 7-7 3-1 4 0 7-1 21-9 3 0 3 1 11 8 7 13 24 71 10 25 7 12 4 4 3 2 4 0 3-2 7-7 42-49 13-14 7-4 7-3 18-3 10-4 24-16 11-4 6-1 18 2 7-1 10-3 17-8 11-2 7 0 17 3 10 0 31-7 11-1 24 1 35-7 10 1 21 6 10 1 11-2 20-5 11-1 31 3 31-2 31 4 14-1"/>
<path stroke="#7E2F8E" d="M1214 1021l58 3 11-5 20-15 7-2 4 0 3 1 7 4 18 15 6 4 4 0 3-3 4-4 14-18 3-3 4-1 3 1 10 17 4-3 7-20 21-90 10-39 7-17 3-5 4-3 3 1 7 9 28 50 10 17 11 13 10 11 21 18 14 10 55 24 10 3 21 0 10 1 11 6 17 12 11 4 3 0 7-2 21-13 7-2 3 0 3 1 7 5 18 19 7 4 3 1 4-1 6-3 18-17 7-4 3 0 4 0 7 4 17 17 7 4 3 1 7-1 7-4 14-11 7-3 3-1 4 1 7 2 17 12 10 4 11-1 20-9 11-3 10 0 21 7"/>
<path stroke="#77AC30" d="M1214 1019l6-1 7 0 28 8 7 0 10-1 11 1 31 9 10 1 7-2 21-7 3-3 18-19 7-3 3 2 3 4 7 14 4 9 3 13 31 185 11 42 7 16 3 4 4 0 3-5 52-117 14-25 10-15 7-8 11-8 27-16 35-25 17-10 17-6 32-4 27-11 7-2 11-1 17 2 7 0 7-1 20-9 11-3 10 0 24 3 28-1 24 1 11-2 24-6 10-2 11 1 24 6 10 2 14-1 14-4"/>
<path stroke="#4DBEEE" d="M1214 1023l10 3 7 0 7-1 17-7 7-1 7 1 3 3 4 5 21 42 6 8 4 1 3 0 4-2 3-4 7-13 18-38 3-5 3-3 7 1 7 3 18 10 10 5 3 3 4 5 3 8 25 88 10 31 10 21 4 4 3 2 4 0 3-2 31-36 11-14 24-38 10-12 11-7 20-4 7-2 7-4 21-16 7-4 7-2 21 1 7-1 6-2 21-10 14-4 14 0 34 2 14-1 11-3 17-7 10-3 7 0 28 3 24-4 7 0 11 2 17 5 7 1 10-2 21-10 10-2 11 3 20 9 11 2 10-3 14-6"/>
<path stroke="#A2142F" d="M1214 1027l6-2 21-7 11-1 6 1 25 6 10 0 17-4 11-1 7 1 24 6 3-2 4-5 14-20 3-4 4-1 3 2 7 15 7 19 3 13 7 37 18 107 10 54 7 26 3 9 4 7 3 4 4 0 3-4 4-7 34-86 14-27 10-14 28-26 24-30 7-6 7-4 7-2 17-3 7-2 11-6 20-15 11-6 10-1 28 3 10-1 14-5 24-15 11-4 7 0 7 1 24 12 10 2 11-3 20-13 11-2 7 0 20 7 11 1 10-1 24-7 11-1 10 1 21 4 10 0 7-1 14-7"/>
<path stroke="#0072BD" d="M1214 1020l13 0 28 5 10 1 11-2 17-6 10-2 11 2 17 6 7 2 7 0 17-2 14-1 14 1 3 3 4 8 7 34 21 136 10 55 7 26 3 10 4 8 3 4 4 0 3-3 4-7 17-35 10-25 25-65 10-22 7-11 7-8 7-6 20-13 32-23 41-27 10-5 7-1 28-3 10-2 35-13 17-4 35 0 35-4 38 0 38-5 27 1 28-2 31 4 14-1"/>
<path stroke="#D95319" d="M1214 1015l10 1 21 10 7 3 6 0 11-1 7 0 7 3 17 8 10 3 11-3 24-14 48-3 7-4 7-8 24-41 7-9 7-5 4-1 3 2 4 3 20 25 7 7 4 1 3 1 7 0 18-5 6 0 11 5 17 12 7 4 10 1 21-5 11-1 10 4 21 10 10 3 14 0 35-5 17-1 14 2 20 7 11 1 10-2 17-7 11-1 10 2 18 7 10 3 10-1 21-7 10-1 11 2 17 5 7 2 10-2 18-5 7-1 10 1 17 8 7 2 11 0 10-4"/>
<path stroke="#EDB120" d="M1214 1018l17 9 10 2 11-1 20-10 7-1 11 4 20 14 7 1 4 0 7-2 17-12 10-3 11 1 27 7 4 5 7 18 24 95 10 35 7 18 4 6 3 4 4 1 3-2 4-3 10-15 35-64 10-15 7-8 10-7 21-10 28-16 7-2 20-4 7-2 7-4 18-13 6-4 11-2 21 5 10 1 10-3 21-10 10-3 11 0 62 3 14-2 21-7 10-1 11 1 24 6 10 1 14-2 28-7 10 0 10 1 25 8 10 1"/>
<path stroke="#7E2F8E" d="M1214 1022l17-2 27 4 11 0 7-3 21-16 6-3 4 0 3 0 7 3 21 17 7 3 3 0 18-6 7-2 10 1 7 2 3 3 4 4 3 7 21 59 10 24 11 15 7 6 3 1 4 0 3-2 35-30 31-28 10-8 11-6 10-5 14-4 45-7 28-11 10-3 10-1 25 1 31-4 31 1 10-2 21-6 10-1 35 4 14 1 52-4 41 0 35 2 10-1 14-3"/>
<path stroke="#77AC30" d="M1214 1026l20-6 11-1 10 2 14 5 14 6 7 2 10 0 28-3 24-4 3-3 18-23 3-2 4-1 3 2 7 14 10 29 28 139 10 42 7 20 4 7 3 4 4 1 3-2 4-5 10-18 35-76 10-19 7-9 7-8 7-5 24-15 31-22 21-10 24-9 35-8 27-12 11-3 10-1 24 3 11 0 10-2 24-7 14-3 14 0 28 4 34-5 31 4 11-2 17-5 7-1 10 2 21 9 7 0 7-2"/>
<path stroke="#4DBEEE" d="M1214 1020l20 5 11 1 10-1 14-4 7-7 14-22 7-9 6-5 4-1 7 2 3 3 7 9 14 22 7 7 3 1 4 0 14-12 7-4 7-1 3 2 3 5 7 15 4 9 3 12 25 136 6 35 11 38 7 15 3 3 4-1 3-4 59-115 10-19 7-10 7-9 11-9 41-26 10-5 56-24 10-2 18-1 10-2 28-13 10-2 10 0 21 4 10 0 49-10 10-2 11 2 20 8 11 1 10-2 24-15 11-3 10 2 21 12 10 3 11-1 17-7"/>
<path stroke="#A2142F" d="M1214 1019l34 8 10-1 11-2 7-7 14-22 7-9 6-4 4 0 3 0 7 6 21 30 7 6 3 0 14-6 7-2 11 1 6 4 7 7 4 5 3 7 28 92 14 39 7 13 3 4 4 2 3-1 4-3 7-9 27-46 11-15 10-11 14-12 14-10 14-7 38-13 45-19 17-3 28 1 10 0 10-3 24-10 11-2 10 1 18 4 10 1 10-2 18-6 7-1 6 1 21 5 7 1 7-1 21-7 7-1 10 1 17 4 11 0 69-5"/>
<path stroke="#0072BD" d="M1214 1027l17-14 7-2 3 0 4 0 7 4 17 16 3 1 7 1 4-1 7-4 17-17 7-4 3-1 4 0 7 3 17 15 7 4 7 2 7-1 17-4 10 0 7-5 18-15 10-8 10-4 7-1 11 2 31 17 10 4 7 0 7-2 17-10 7-2 7-1 4 1 10 6 21 18 7 4 7 2 10-2 7-4 21-14 10-3 10 2 7 4 21 16 7 2 4 1 10-3 21-13 10-3 7 1 21 11 7 2 10-1 17-8 7-1 11 3 17 8 7 1 7-2 21-11 6-1 7 1 18 9 10 4 10-1 18-6 10-2 7 0 24 4 21 0"/>
<path stroke="#D95319" d="M1214 1023l27 1 31-3 11 1 27 7 18 0 24-3 3-2 18-13 7-2 3 0 10 10 4-1 7-4 21-22 6-6 7-4 7-2 7 1 18 8 10 3 35 6 24 10 10 3 11 1 20 0 24 6 11 2 7-1 17-6 10 0 7 2 21 10 7 1 10-2 18-8 10-2 10 1 18 7 10 3 11-1 17-4 10-1 11 0 27 5 28-2 28 1 27-2 11 1 17 5 10 1 11-2 17-7 7-2"/>
<path stroke="#EDB120" d="M1214 1019l13 1 28 8 7 1 7-1 3-2 4-4 17-31 7-10 7-6 3 0 4 1 7 7 21 37 3 4 3 3 4-1 3-1 18-16 7-3 3 1 10 12 4-3 7-19 21-82 6-24 7-17 4-6 3-3 4-1 3 1 4 4 20 32 14 19 11 12 10 10 17 13 42 25 14 8 14 5 13 3 21 1 11 2 27 10 11 2 7 1 20-2 11 1 34 7 11 0 20-2 14-1 14 2 24 6 14 2 11-2 20-5 11-1 10 2 17 5 7 2 11-1 24-5 10 1 21 4"/>
<path stroke="#7E2F8E" d="M1214 1019l20 6 11 1 10 0 17-2 7 2 21 9 7 1 7 0 7-1 21-7 10 0 3-2 4-4 14-19 7-5 3 2 3 5 14 34 7 29 18 85 10 42 7 20 3 6 4 5 3 2 4-1 3-4 28-49 17-27 21-26 28-31 10-8 7-4 7-2 17-2 10-4 7-4 18-13 10-6 10-2 21 2 7 0 11-3 20-9 11-2 10 0 21 4 14-1 17-5 24-11 11-3 6 1 7 3 21 16 7 4 4 0 3 0 7-3 21-17 10-4 10 1 18 7 7 2 10 0 17-4 7 0 21 3"/>
<path stroke="#77AC30" d="M1214 1026l20 0 35-5 3-2 4-4 21-34 6-6 4-2 3 1 4 1 7 8 21 37 3 4 3 1 4-1 3-3 11-16 7-8 3-2 4-1 3 3 10 24 28 33 10 10 11 7 7 4 7 1 14-4 45-21 24-8 27-5 45-2 42-9 14 0 21 4 10 2 10-1 24-7 11-2 28 4 10-1 28-3 38 3 62-4 45 2 28-3 10 0"/>
<path stroke="#4DBEEE" d="M1214 1028l10 3 7 0 7-2 17-9 7-1 7-1 7 3 21 13 6 3 11 0 31-6 17 3 11-1 7-4 10-10 3-2 4 3 7 16 21 78 10 34 7 15 3 4 4 3 3 1 4-2 3-4 14-21 10-12 25-23 24-27 10-8 11-5 20-4 28-12 24-6 21-7 10-1 21 5 7 0 4-1 6-4 18-18 7-4 3-1 7 2 7 7 14 16 7 4 3 1 4 0 7-5 20-24 7-4 4-1 3 1 7 3 21 17 10 4 11-1 34-14 14-3 14 2 21 6 10 2 17-1 28-4"/>
<path stroke="#A2142F" d="M1214 1022l55 2 7 1 21 8 13 2 11-2 24-10 7 0 17 3 11 0 13-3 4 3 3 4 21 37 10 16 11 11 7 4 3 1 7-1 31-15 11-6 24-18 14-7 38-10 10-1 11 0 20 4 7 0 11-4 20-13 11-3 10 1 21 6 10 1 11-1 48-8 14-1 10 1 21 4 10 1 11-1 21-5 10-1 10 1 32 4 13 0 31-6 11 1 21 3 10 0"/>
<path stroke="#0072BD" d="M1214 1021l20 5 35-2 7 2 21 8 6 1 7 0 32-10 10 0 3-2 4-4 14-19 3-3 4-1 3 2 3 7 7 18 7 8 18 29 10 15 7 7 10 10 7 5 7 2 14-2 10-6 7-5 25-25 6-5 7-3 11-2 27-3 70-13 27-2 31 2 11-1 10-2 21-8 10-1 11 1 20 7 11 0 7-1 21-9 6-1 11 1 17 5 11 1 34-5 21 1 28-1 31 4 7 0 10-2"/>
<path stroke="#D95319" d="M1214 1021l58 3 14-2 24-5 11-1 7 1 24 6 41 1 11-4 21-14 10-6 7-3 7 0 14 4 27 13 11 3 10 0 24-7 7-1 7 0 11 2 27 9 17 3 14 0 25-6 10-1 10 1 25 4 10 1 38-1 28-2 10 0 35 6 10-1 24-4 11 0 24 5 34-3 42 4 14 0 24-3"/>
<path stroke="#EDB120" d="M1214 1022l10-2 10-1 28 5 10 0 25-3 10-1 28 4 10 1 7-1 3-2 14-9 7-3 4 0 3 1 3 3 4 5 7 13 3 11 7 32 18 91 10 46 7 23 3 8 4 5 3 3 4 0 3-4 21-41 14-25 34-56 11-15 7-8 7-6 10-6 28-8 13-6 32-20 10-5 14-4 31 0 10-3 18-7 10-2 10 0 18 2 10-1 24-8 11-2 10 1 17 3 11 0 31-6 10 1 18 2 10 0 24-4 11-1 10 1 21 6 7 0 10-1"/>
<path stroke="#7E2F8E" d="M1214 1021l10-3 7-1 7 2 20 7 11 1 3-2 4-3 17-22 7-8 7-3 3-1 4 1 7 4 17 20 7 6 3 1 4 0 17-10 7-2 4 1 3 2 3 5 7 12 18 18 10 9 10 4 21 6 28 4 7-1 7-4 21-18 10-7 3-1 7 1 21 8 7 1 3-1 11-5 17-13 10-3 11 1 24 10 10 0 7-1 7-2 25-13 10-2 10 4 18 11 6 2 4 0 7-3 21-14 7-2 6 1 21 12 7 2 4 0 7-2 17-10 7-2 3-1 11 4 17 10 10 3 11-4 20-12 11-3 7 1 7 2 20 11 11 4 10 0 7-2 7-4"/>
<path stroke="#77AC30" d="M1214 1022l10-2 7 0 27 3 21 0 14 2 21 6 10 0 11-3 17-8 17-15 7-2 4 1 3 3 7 11 3 4 4-2 7-20 21-92 6-26 7-19 4-6 3-4 4-1 3 3 4 4 17 31 14 20 10 11 38 37 11 8 7 4 31 12 27 14 11 2 21 0 10 1 10 4 18 9 10 3 10-1 18-5 10-1 10 2 21 9 11 2 6-1 21-4 11-1 10 1 24 6 11 1 34-3 31 2 31-2 11 1 21 5 10 0"/>
<path stroke="#4DBEEE" d="M1214 1025l10 4 7 0 7-2 17-10 7-1 7 0 3 3 4 5 14 25 7 10 6 6 4 2 3-1 7-4 7-7 14-20 7-7 3-2 18 0 14-2 10-4 3 1 4 4 7 15 21 65 10 27 10 18 4 3 3 2 4 0 3-2 35-42 34-36 11-8 10-4 7 0 14 1 10-1 7-4 21-14 10-4 21-3 21-5 7-1 10 2 21 6 7 1 10-3 24-12 14-2 35 2 10 3 18 6 6 1 4 0 7-3 21-17 7-3 3 0 3 1 7 3 14 13 7 6 7 2 4-1 6-3 18-14 7-4 3-1 4 0 6 1 25 13 7 1 10-1"/>
<path stroke="#A2142F" d="M1214 1022l27 1 28-2 28 2 24-1 10 2 17 4 7 1 7-2 18-8 3-1 10-1 4-1 21-20 10-8 10-4 7-1 25 7 20 0 11 2 10 5 17 11 11 4 7 0 20-7 7 0 11 3 17 11 10 3 7-1 18-8 10-1 7 2 17 11 7 2 4 0 7-2 17-8 10-2 7 1 21 10 7 1 7-1 17-8 10-2 11 1 21 9 10 1 10-1 18-6 10-1 10 1 18 4 10 2 10-1 25-4 24 4 10 0 21-4"/>
<path stroke="#0072BD" d="M1214 1025l27-4 28 3 7 5 21 24 6 5 7 2 4-1 7-5 17-22 7-7 3-2 28-3 14 1 3 0 4-3 7-15 21-64 6-18 7-13 4-4 3-2 4-1 3 2 4 3 17 21 14 13 55 41 11 5 7 3 31 5 34 13 11 1 20-2 11 0 10 2 31 8 24 3 18 0 24-5 10 0 11 3 17 6 10 2 11-1 17-5 7-1 10 1 18 4 10 1 31-3 28 4 10 0 28-4"/>
<path stroke="#D95319" d="M1214 1022l10-2 7 0 31 5 28 0 41 2 21-2 21-11 7-1 3 1 3 2 7 9 4 5 3 9 28 106 10 31 7 15 4 5 3 2 4 1 3-2 4-4 10-14 38-61 14-15 52-36 10-3 21 0 7-2 7-3 21-17 6-4 4-1 7 0 7 2 14 7 7 2 3 0 10-4 21-16 10-3 11 2 17 7 11 2 10-2 21-8 10-1 45 2 45-1 35-4 10 1 21 5 7 0 7 0 10-3"/>
<path stroke="#EDB120" d="M1214 1021l10 6 10 2 11-2 20-5 4-1 3 1 7 4 21 19 7 3 7 1 3-1 7-4 21-18 10-3 14-8 7-2 4 0 3 2 10 10 11 8 24 21 24 24 4 2 7 2 7-1 6-3 7-6 21-23 7-5 4-1 3 0 7 1 14 9 7 2 7 0 3-1 7-6 17-20 7-5 4-1 3-1 7 3 21 15 7 3 3 0 11-2 17-8 10-4 14-3 14-2 14 1 24 5 10 0 11-1 24-6 14-1 17 1 31 6 11 1 10-2 17-8 11-2 10 3 17 11 7 2 4 0 7-2 20-13 7-2 7 1 21 10"/>
<path stroke="#7E2F8E" d="M1214 1023l13-11 7-3 4 0 3 1 7 3 17 14 14 9 7 2 11-1 17-5 10-1 14 0 14 2 3-2 4-4 17-28 4-3 3 0 3 3 14 25 7 20 18 59 10 28 3 6 7 9 4 3 3 1 4-1 7-6 24-27 28-34 6-6 7-5 11-4 24-1 14-2 14-6 27-14 14-5 14-1 31 2 21-2 14-3 24-10 10-3 11 2 17 9 10 2 7-1 21-12 7-2 3 0 7 2 18 12 7 2 3 1 7-2 17-9 11-3 7-1 17 3 7 1 27-7 11 2 21 8 10 2"/>
<path stroke="#77AC30" d="M1214 1023l20-1 38 2 28-9 10-2 11 3 17 7 10 3 32 1 10-3 3-3 4-4 3-7 25-78 6-19 7-13 4-4 3-2 4 0 3 2 4 3 17 23 10 12 11 9 10 8 28 16 31 20 14 6 27 7 14 2 25 0 6 0 11 4 21 11 7 2 10-1 21-9 10-1 10 4 18 10 10 2 7 0 21-7 10-2 11 1 24 6 17 2 17 0 25-3 10-1 28 5 10 0 31-4 14 0"/>
<path stroke="#4DBEEE" d="M1214 1007l3-1 3 0 4 1 7 5 17 19 7 3 7 0 7-4 3-4 21-38 7-7 3-1 4 0 3 2 7 6 18 26 7 8 3 2 3 0 14-6 11-2 7 2 10 6 3 1 4-3 7-17 21-75 6-21 7-15 4-4 3-3 4 0 3 3 24 38 7 9 7 6 11 7 24 5 10 5 11 8 24 25 7 4 7 3 10 0 28-5 10 0 11 5 20 15 7 3 4 1 3-1 7-2 17-11 7-1 4 1 7 3 20 18 7 3 4 1 3 0 7-3 21-14 10-3 11 1 17 8 10 3 7 1 25-1 27 5 7-1 24-4 7 1 18 4 6 0 7-2 14-6 7-2 7 0 7 4"/>
<path stroke="#A2142F" d="M1214 1026l10 1 7 0 24-6 14-1 3-1 7-6 14-15 7-7 7-3 3-1 4 1 7 5 17 23 7 7 3 2 42-1 3 1 4 4 3 7 25 77 10 27 10 17 7 6 4 1 7-4 10-9 14-14 10-14 21-33 10-11 4-3 7-3 7-1 14 0 10-3 21-13 10-5 7-1 17 1 7-1 7-3 17-9 11-3 10 2 17 5 11 0 10-4 21-9 10-3 11 0 24 4 10 1 11 0 24-5 14-1 27 1 32-3 27 1 28-1 28 2 10 0"/>
<path stroke="#0072BD" d="M1214 1023l55 0 3-2 7-8 14-24 7-10 7-5 3-1 4 1 7 6 17 33 7 10 3 2 21 1 11 0 6-2 11-6 3-5 7-16 24-63 7-12 4-4 3-3 4 0 3 1 4 3 24 28 14 12 55 29 11 4 10 3 52 10 31 3 35 10 10 0 24-6 10 0 7 2 21 8 7 2 10-2 21-8 11-1 10 2 21 10 10 2 11-1 20-7 11-2 10 1 21 4 10 2 59 0"/>
<path stroke="#D95319" d="M1214 1018l10 2 24 9 7 1 7 0 7-2 3-3 21-19 7-4 3 0 4 0 7 4 17 15 7 4 7 1 10-4 7-1 7 1 14 6 7 1 3-1 4-3 3-6 7-20 21-88 7-24 7-15 3-3 4-1 3 3 4 6 17 41 7 13 3 6 7 7 7 3 18 1 6 2 11 7 17 17 11 8 6 3 21 8 21 11 7 2 10 1 7-3 17-8 7-1 4 0 10 5 21 19 7 4 3 1 4-1 7-2 20-14 7-2 4 0 3 1 7 4 18 14 6 3 4 0 7-1 21-11 10-3 10 2 25 12 10 2 10-2 18-7 10-3 10 1 18 6 10 2 10-3 18-7 7-1 7 2 10 6"/>
<path stroke="#EDB120" d="M1214 1021l31 0 27 1 7-2 21-11 10-2 11 2 21 12 6 2 4 1 7-4 14-12 7-2 3 1 7 9 3 3 4-3 7-19 17-61 7-22 7-15 3-6 4-4 3-2 4 1 3 2 18 22 10 11 35 26 24 22 10 8 14 7 31 5 28 11 10 2 21-1 7 0 10 4 18 9 10 3 7-1 21-7 10-2 10 2 21 8 14 1 59-1 38 5 10-1 18-4 10-1 10 2 21 5 10 1 11-1 24-5"/>
<path stroke="#7E2F8E" d="M1214 1020l13 0 35 6 10 0 11-5 20-15 7-3 4 0 3 0 7 3 21 18 7 3 10 2 7 1 11-2 10-3 3 1 4 5 7 21 21 91 10 37 7 18 3 7 4 5 3 3 4 0 7-6 20-27 11-17 24-47 7-11 7-9 7-5 7-3 20-3 11-3 31-19 17-8 18-5 17-4 41-5 42-9 17-2 42-1 31-4 10 0 11 1 20 5 11 0 10-2 21-9 10-2 11 2 17 8 10 3 11-1 17-6"/>
<path stroke="#77AC30" d="M1214 1021l6-2 7 1 21 7 10 0 11-5 21-21 7-3 3 1 7 3 17 15 11 6 7 1 3-1 14-6 7-1 10 2 17 8 7 5 21 24 17 15 14 9 11 1 13-1 11-3 10-7 21-18 7-4 7-3 7-1 24 0 10-3 18-8 10-2 10 3 18 8 7 1 3-1 10-6 18-14 7-3 3-1 7 2 21 14 10 3 11-2 24-11 10-2 49 0 24 3 10 0 24-5 7 0 11 2 17 8 10 3 11-1 17-8 7-2 7 0 21 4 7-1 10-2"/>
<path stroke="#4DBEEE" d="M1214 1023l34 0 21 1 7 3 21 14 10 2 7 0 7-2 17-11 7-3 7 0 17 7 7 1 7-2 10-8 4 1 3 4 7 13 21 49 10 20 7 10 4 4 3 2 4 0 7-3 7-6 41-43 14-11 7-3 7-1 17-1 10-1 7-3 18-8 10-4 35-2 27-9 11-2 45 0 45-3 34-6 11 0 24 6 10 1 11-1 20-6 11-1 10 1 21 3 10 1 42-2 24-4"/>
<path stroke="#A2142F" d="M1214 1026l38-6 17 0 7 4 17 17 7 6 7 3 7 1 3-2 7-4 21-18 10-3 18-10 7-1 3 1 10 10 18 8 24 10 17 8 7 1 7 1 10-2 25-11 14-4 24-2 31-5 10 0 24 6 11 0 10-3 18-6 10-2 7 0 24 4 31-3 31 4 11-1 17-6 10-1 7 1 21 8 7 1 10-2 21-10 11-2 10 1 24 9 11 2 13-1 21-6 10-2 11 1 31 6"/>
<path stroke="#0072BD" d="M1214 1020l27 5 11 0 17-4 7-6 21-29 6-5 7-2 4 1 7 6 17 27 7 8 3 2 18-2 14 1 10 2 3 3 4 8 7 28 21 122 10 52 10 37 4 7 3 5 4 1 3-3 4-6 7-14 38-94 7-13 10-15 10-11 49-41 10-7 24-11 25-14 10-4 7-1 21 0 10-1 10-4 21-12 10-3 11 0 17 4 11 1 10-2 24-9 11-2 10 1 21 6 10 2 10-1 25-9 10-2 38 4 38 0 14-1"/>
<path stroke="#D95319" d="M1214 1022l10-2 10-1 35 6 7 4 24 20 10 4 7-1 7-4 18-19 6-5 4-1 7 1 21 6 3 0 7-3 3 0 4 4 7 15 21 61 10 26 10 18 7 7 4 0 3-1 11-10 13-16 32-38 10-10 7-5 10-6 42-14 38-9 21-9 10-4 10-1 21 5 10 0 11-2 21-9 10-3 10 0 25 5 13 0 11-1 27-8 11-1 14 2 24 9 10 1 11-3 24-12 10-2 7 0 7 3 21 13 7 2 7 0 3 0 7-4 7-5"/>
<path stroke="#EDB120" d="M1214 1020l17-1 41 7 28 19 7 3 7 1 10-4 18-13 6-4 7-1 14 1 11-1 13-8 4 1 3 3 21 25 10 11 11 7 10 2 7-2 28-13 28-8 55-10 41-2 32-6 10 0 21 3 10 1 10-2 25-7 10-1 10 1 18 4 10 1 35-5 31 4 34-4 35 3 35-4 34 2 21 0"/>
<path stroke="#7E2F8E" d="M1214 1027l6-1 25-4 27 2 11-3 20-12 11-2 10 3 21 14 10 4 11 7 7 3 7-1 3-2 10-10 4 2 3 6 7 21 21 79 10 34 7 16 4 5 3 3 4 0 3-2 7-9 38-60 11-14 6-7 7-6 7-5 25-10 24-16 10-5 10-2 18 1 10-2 7-2 21-11 14-4 27 0 25-3 27-2 31-4 35 2 10-1 18-6 7-1 10 1 21 7 10 1 11-2 20-10 7-1 11 2 17 9 10 2 11-1 10-5"/>
<path stroke="#77AC30" d="M1214 1023l31 2 24-2 3 0 7 5 21 22 7 4 7 1 3-2 7-5 14-16 7-6 3-2 4 0 3-2 14-18 7-5 4-1 3 2 10 23 21 12 35 26 7 3 3 1 7-2 7-2 24-18 11-5 10-1 17 3 11 1 7-2 20-8 7-1 7 0 21 5 7 0 10-3 18-9 6-2 11 1 17 9 11 2 10-1 21-11 10-2 7 1 21 8 7 1 10-1 24-8 11-1 10 1 24 7 11 1 13-1 28-6 11-1 34 3 52 3"/>
<path stroke="#4DBEEE" d="M1214 1019l17 7 7 2 10 0 10-4 11-4 3-4 18-25 7-8 6-4 4-1 3 1 7 6 21 32 7 7 3 1 4-2 17-18 7-4 4 0 3 2 10 16 4-2 7-20 21-93 10-39 7-17 3-5 4-2 3 2 7 9 24 43 11 17 10 13 11 10 31 25 17 12 14 6 48 19 14 2 17-1 11 1 10 3 17 9 11 2 7 0 17-2 10 0 32 6 17 2 45-3 10 2 18 6 10 2 10-1 18-7 10-2 10 1 25 7 13 1 18 0 17-3"/>
<path stroke="#A2142F" d="M1214 1022l13 8 11 2 10-3 17-10 4-2 3 0 4 2 7 6 14 17 6 7 7 4 4 0 3-1 7-4 18-19 6-4 7 0 21 3 7-1 10-5 4 0 10 6 24 21 7 4 11 2 7-1 14-3 20 1 11-1 10-6 17-14 7-3 4-1 3 0 7 2 17 11 11 3 7 0 7-2 24-14 10-3 11 2 20 9 7 1 4 0 10-5 17-14 7-3 4-1 3 1 7 3 21 15 7 2 3 0 11-2 20-11 14-2 35-1 10 1 11 3 17 8 10 3 7-1 7-1 24-12 11-3 14 2 24 7 10 3 11 0 10-2"/>
<path stroke="#0072BD" d="M1214 1016l6 2 21 11 7 1 4-1 6-3 11-8 14-15 7-6 3-2 7 0 3 1 7 3 25 22 7 4 3 1 7-2 3-4 14-19 7-7 4-1 3 2 10 18 4 1 7-2 34-17 11-3 7 0 17 3 28 13 10 3 14 0 28-4 13 2 11 4 24 16 10 3 4-1 7-2 24-18 7-3 3 0 4 1 7 3 17 13 10 4 7 0 18-6 7-1 20 2 11 0 24-10 7-2 10 3 21 14 10 4 4 0 7-2 21-12 6-2 11 1 17 7 11 1 6-2 18-10 7-1 3 0 7 3 17 15 7 5 7 1 4-1 10-8"/>
<path stroke="#D95319" d="M1214 1022l38 1 17 0 3 1 7 5 21 21 7 4 3 1 4-1 7-3 7-7 14-17 6-5 7-1 14-5 7 0 7 2 7 4 3 1 4-5 7-22 21-101 6-29 7-21 4-6 3-4 4-1 3 3 4 6 24 49 7 11 10 12 63 52 17 12 17 9 14 3 21 1 10 2 10 3 21 11 11 3 10 0 24-4 11 0 10 2 17 7 11 3 10 0 17-3 11 0 34 6 38-3 28 2 35 0 38 6 7-1 10-2"/>
<path stroke="#EDB120" d="M1214 1019l20 6 14 3 10-1 11-2 3 0 4 2 7 7 20 28 7 5 4 2 3-1 4-2 3-3 7-11 11-21 6-9 4-2 10-9 7-4 7-1 4 1 3 3 3 5 7 13 4 9 3 12 7 34 21 116 10 48 7 23 4 8 3 5 4 1 3-3 4-5 7-14 34-88 11-20 6-10 11-11 24-18 21-20 10-8 56-32 6-3 7-1 7 1 21 4 10-1 11-5 24-20 7-2 3-1 11 3 17 10 7 1 3 0 11-3 21-14 7-2 10 1 17 8 11 3 10-1 24-9 18-2 24 0 10 1 10 3 18 7 7 2 7 0 10-4"/>
<path stroke="#7E2F8E" d="M1214 1020l13 1 28 6 17 0 7 3 21 12 10 2 4 0 7-2 17-13 7-4 7 0 3-2 14-14 7-5 4 0 3 1 10 16 4-3 7-16 17-57 10-28 7-13 4-4 3-2 4 0 3 2 4 4 24 33 10 10 11 6 17 6 10 5 11 7 21 17 6 4 11 5 66 6 13 3 25 8 13 1 28 0 31 4 28-2 31 4 31-2 31 6 11-1 21-7 10-1 10 2 21 8 10 2 11-2 24-7"/>
<path stroke="#77AC30" d="M1214 1015l20 15 7 3 7 0 10-3 11-8 3-4 18-36 7-11 3-4 3-2 4 0 3 1 7 8 7 14 14 33 7 10 3 2 4-2 21-12 7-2 6-1 4 1 3 3 4 7 3 13 21 108 10 45 7 22 7 15 4 5 3 3 4 0 7-7 17-25 10-18 28-55 7-11 10-13 11-9 10-6 10-3 18-3 10-4 10-9 21-24 7-5 4-1 3-1 7 1 17 9 7 3 4 0 3-1 7-4 21-19 7-4 3-1 4 0 7 1 20 10 11 1 10-4 21-13 10-3 7 2 17 6 11 2 7-1 21-4 6 0 25 2 34-5 11 1 24 5 10 1 11 0 10-3"/>
<path stroke="#4DBEEE" d="M1214 1017l24 8 7 1 10 1 14-3 3 1 7 3 21 16 7 3 7 1 3-1 7-4 21-17 7-1 3-2 18-15 7-2 3 1 7 10 10 19 25 77 10 27 10 18 7 7 4 0 7-5 10-10 42-49 10-11 10-8 11-7 10-5 10-3 28-7 38-18 14-2 21 2 10 0 11-3 20-8 11-2 10 0 21 2 10 0 49-4 31-5 10 1 21 7 10 2 7-1 24-8 11-1 69 2"/>
<path stroke="#A2142F" d="M1214 1013l10 5 21 15 7 1 3 0 7-4 7-7 17-23 7-4 4 0 6 3 18 18 10 6 11 1 17-6 7-1 10 1 14 5 3-1 4-6 3-10 18-73 10-35 7-16 7-8 3-2 4 0 3 3 11 11 20 21 11 14 17 25 7 8 7 6 10 6 28 7 28 12 13 7 21 15 7 3 11 0 20-9 11-1 10 4 21 15 7 2 3 1 7-2 21-10 10-1 11 5 17 12 7 4 3 0 4 0 7-3 20-16 7-3 4-1 7 2 21 16 10 4 7-1 24-11 10-1 11 1 21 5 10 2 14 0 24-1"/>
<path stroke="#0072BD" d="M1214 1021l20 3 14 1 24-3 25-6 13-1 11 1 24 7 38 1 7-1 7-2 3-3 7-7 21-29 7-8 7-5 7-3 3 0 7 3 31 21 14 6 7 2 28 1 27 7 25 4 24 7 10 2 11-1 20-5 7-1 11 1 24 9 10 2 7 0 24-5 32 2 27-2 11 1 20 5 11 1 10-2 21-6 10-2 11 2 20 6 11 2 34-4 35-2"/>
<path stroke="#D95319" d="M1214 1028l20-8 7 0 7 1 24 8 21 17 10 7 7 2 7-1 7-3 21-18 3-1 14 0 11-2 10-4 7-5 7-7 3-5 14-29 11-18 6-7 4-2 7-2 7 1 10 5 7 3 17 1 7 2 11 7 17 15 10 6 7 1 18-1 10 3 7 4 17 16 7 4 4 1 3 0 7-2 17-13 7-4 7-1 4 1 6 5 21 21 7 4 4 1 3-1 7-3 21-15 7-2 3-1 10 3 25 16 10 2 10-2 21-14 7-4 7-1 4 0 10 5 21 17 7 4 3 0 4 0 6-2 21-13 11-3 10 1 21 7 10 1 35-3 17 0"/>
<path stroke="#EDB120" d="M1214 1024l17 1 27-3 11-1 7 2 24 9 10 1 7-1 25-7 10-2 3-2 18-24 3-2 4-1 3 3 10 23 4 0 3-4 7-12 18-38 10-20 7-9 3-2 4-1 3 1 4 3 27 29 11 8 10 3 21 1 10 3 7 4 21 16 7 4 7 2 7 0 20-2 28 3 21 1 10 1 21 8 10 2 11-1 24-6 10 0 7 1 25 8 10 2 14-1 31-5 14-1 10 2 21 8 10 2 11-2 20-11 11-2 10 2 17 10 11 3 7 1 7-2 17-7"/>
<path stroke="#7E2F8E" d="M1214 1024l20-3 38 3 11 3 24 9 10 1 11-2 20-11 14-4 11 0 17 4 3 0 4-1 3-3 7-11 24-48 7-10 7-4 4 0 3 2 24 26 11 7 7 1 21-1 10 1 10 6 21 16 7 3 7 1 28-1 31 5 27-2 11 2 17 6 10 2 11 0 17-5 10-1 7 1 18 5 10 1 10 0 21-5 14 0 28 7 10 1 11 0 20-5 11-1 10 1 28 6 10-1 28-6 10 1 14 3"/>
<path stroke="#77AC30" d="M1214 1018l17 8 10 1 11-2 17-7 10-1 11 2 17 7 10 2 11-2 20-6 11-1 10 2 21 8 7 1 7-2 7-5 24-23 7-4 7-1 7 2 20 10 11 3 31 1 31 4 49 3 34 0 31 3 28-1 31 4 31-5 35 4 31-4 10 1 21 7 7 0 10-2 18-7 10-2 11 3 17 9 10 3 7-1 17-5 11-2 7 0 17 3"/>
<path stroke="#4DBEEE" d="M1214 1029l6 1 7-1 28-10 7-1 7 1 3 3 4 6 21 44 6 8 4 2 3 0 4-2 3-4 7-13 18-38 3-5 3-2 14 3 21 7 7 3 3 3 4 5 7 22 24 107 10 38 7 18 4 6 3 4 4 1 3-2 4-4 10-16 10-19 28-55 7-11 10-11 28-20 21-18 10-7 7-3 24-8 28-14 10-2 7 1 18 5 10-1 10-5 18-14 7-3 3 0 7 1 21 10 7 1 10-2 17-10 11-3 7 0 20 5 11 1 10-1 24-6 14-1 38 1 38 3 11-1 17-6"/>
<path stroke="#A2142F" d="M1214 1028l20-7 11-2 10 2 24 7 11 1 10-2 17-5 11-3 10 0 14 3 3 0 18-7 7-1 3 2 7 8 7 12 3 8 25 96 10 34 10 23 4 5 3 2 4 1 7-6 24-27 14-21 24-44 10-13 7-7 7-4 7-3 28-7 31-10 10-4 28-15 10-2 21 4 10-1 7-2 18-10 10-4 10 2 21 10 11 1 10-4 21-14 7-3 7-1 10 1 41 10 18 2 14-2 24-12 7-1 10 1 7 3 14 8 10 3 4 0 7-2 10-6"/>
<path stroke="#0072BD" d="M1214 1023l13-3 11 0 10 1 21 6 3-1 4-1 7-7 17-20 7-5 3-1 4 0 7 4 7 8 14 19 6 6 11 1 7-1 10-3 14-7 3 0 4 3 7 17 21 76 10 30 7 14 3 4 4 3 3 1 4-1 3-4 17-22 28-26 24-29 7-6 7-5 11-5 24-6 38-10 28-13 10-4 10 0 21 3 10 1 11-2 24-8 14-2 31 0 31-2 31 1 35-3 38 3 10-2 21-4 7-1 10 1 25 6 10 0"/>
<path stroke="#D95319" d="M1214 1022l13-6 11-1 10 2 21 10 3 0 4-1 7-6 20-25 7-4 4-1 3 1 7 5 21 28 3 2 4 1 3-2 4-3 10-14 7-8 4-2 3 1 3 4 4 8 7 17 3 13 7 37 18 108 10 50 7 21 3 7 4 4 3 1 4-2 3-6 11-23 10-19 21-27 10-17 31-65 7-10 4-4 7-4 6-2 18-1 10-3 10-5 35-24 17-8 14-3 24 0 11-1 10-4 17-10 11-3 10-1 21 7 10 1 11-3 17-8 10-2 11 2 17 8 11 2 10-3 17-8 11-2 10 0 21 4 38 3 10-1 14-3"/>
<path stroke="#EDB120" d="M1214 1021l13-1 28 5 14-1 7 1 7 2 20 11 7 2 4 0 7-2 21-15 3-2 7 0 3-1 14-10 7-3 4 0 3 2 7 9 3 3 4-3 3-7 21-67 7-19 7-14 3-5 4-3 3-2 4 0 3 3 24 31 11 11 7 5 10 5 24 11 35 21 28 12 13 5 14 1 21-4 7 0 10 2 25 9 10 3 31-1 31 2 31 0 38 5 14 0 35-4 14 0 10 2 21 6 7 1 10-1 17-6 11-2 7 1 24 7"/>
<path stroke="#7E2F8E" d="M1214 1026l10-3 17-6 11-1 10 3 21 15 7 2 3 1 4-1 6-3 18-12 10-3 11 2 24 13 7 1 7-1 6-5 14-15 21-36 10-15 7-7 7-3 4 0 3 1 18 14 10 7 10 3 18 1 7 2 10 5 17 13 7 3 11 2 17-1 7 0 7 2 20 7 11 2 59 0 13 2 25 8 10 1 10-2 21-7 11-2 10 3 17 8 11 2 7-1 17-6 7-1 7 1 17 8 7 2 3 0 7-3 18-11 7-3 3 0 3 0 7 3 21 15 7 2 3 0 11-3 21-11 10-2"/>
<path stroke="#77AC30" d="M1214 1021l27 1 28-1 3-1 4-3 17-23 7-8 7-3 3-1 4 1 7 6 17 25 7 8 3 1 11 0 21 3 3 0 7-3 7-6 7-18 21-78 10-32 7-14 3-4 4-1 3 1 4 4 27 43 14 16 11 8 24 14 31 25 14 7 34 6 38 11 56 8 55 4 31 1 31 3 39-3 38 6 10-1 21-4 10-1 10 2 25 6 7 1 10-2"/>
<path stroke="#4DBEEE" d="M1214 1018l27 7 11 1 17-2 7-2 24-17 10-2 4 0 7 3 21 16 6 3 7 0 21-11 7 0 7 4 10 11 25 47 10 17 10 11 7 3 7-2 45-32 17-11 11-4 28-7 20-9 11-3 10-1 24 3 11 0 45-12 17-3 10 1 21 5 10 2 11-2 24-7 10-1 38 2 39-1 27 1 35-3 34 6 11-1 24-8"/>
<path stroke="#A2142F" d="M1214 1020l10-2 10 0 11 2 20 6 7 1 7-3 21-14 7-3 3 0 4 1 7 3 21 16 6 1 7-1 18-13 7-1 3 0 7 7 10 12 28 57 10 19 11 13 3 2 4 1 7-2 7-6 34-35 11-7 10-6 24-11 14-5 10-1 21 0 10-2 11-4 17-10 11-3 10 0 17 5 11 1 10-2 24-8 11-2 55 3 10-1 21-4 10 0 28 3 11 0 24-3 27 3 7-1 21-5 7-1 10 2 21 7 7 1 7-1"/>
<path stroke="#0072BD" d="M1214 1025l10 4 7 1 7-1 20-7 14-1 11-4 20-14 11-4 3 0 7 3 7 5 14 13 7 3 7-1 14-7 7-3 3 0 10 8 4-1 21-21 10-8 14-7 10-2 11 2 7 2 10 6 17 12 11 4 7 0 20-7 11-1 10 3 24 13 11 2 10 1 21-1 31 3 24-3 7 0 10 2 18 8 10 2 10-1 25-13 10-2 10 3 18 9 10 3 11-1 17-7 7-1 7 0 20 5 7 1 7-2 18-5 7-1 10 2 21 11 10 1 10-4 18-12 7-4 7-1 3 0"/>
<path stroke="#D95319" d="M1214 1026l13-1 28-6 14-1 3 1 7 5 21 19 7 4 7 0 7-3 21-18 6-3 11 0 21 6 6-1 11-4 7-6 17-19 7-6 7-5 7-1 7 0 17 8 10 3 28 4 28 6 21 3 55 7 10 1 25-3 10 0 35 8 10-1 17-4 11-2 6 1 21 5 11 1 41-5 49 5 38-3 31 1 27-1 42 4"/>
<path stroke="#EDB120" d="M1214 1022l38 2 41-5 38 3 21-1 3-3 14-18 7-5 4 0 3 3 10 24 4 0 7-9 21-44 6-11 7-8 7-3 4 0 3 2 21 20 10 7 11 4 24 2 10 3 11 6 21 15 10 3 7 1 17-3 7 0 10 2 18 6 7 1 7-1 17-3 10-1 7 2 17 6 11 2 31-3 28 2 31-1 27 3 32-1 27 2 11 0 27-4 11 1 31 4 31-2"/>
</g></g>
<path d="M650.0 677.2v-4.5M650.0 389.0v4.5M736.5 677.2v-4.5M736.5 389.0v4.5M823.0 677.2v-4.5M823.0 389.0v4.5M909.5 677.2v-4.5M909.5 389.0v4.5M607.4 424.0h4.5M995.1 424.0h-4.5M607.4 511.5h4.5M995.1 511.5h-4.5M607.4 599.0h4.5M995.1 599.0h-4.5" stroke="#9a9a9a" stroke-width="1.4" fill="none"/>
<rect x="607.4" y="389.0" width="387.7" height="288.2" fill="none" stroke="#a6a6a6" stroke-width="2.1"/>
<path d="M1142.3 389.0V676.9M1228.8 389.0V676.9M1315.3 389.0V676.9M1401.8 389.0V676.9M1099.9 410.4H1486.9M1099.9 500.1H1486.9M1099.9 589.9H1486.9" stroke="#eeeeee" stroke-width="1.6" fill="none"/>
<clipPath id="c6"><rect x="1099.9" y="389.0" width="387.0" height="287.9"/></clipPath>
<g clip-path="url(#c6)" fill="none" stroke-width="4.00" stroke-opacity="0.60" stroke-linejoin="round"><g transform="scale(0.5)">
<path stroke="#0072BD" d="M2198 1004l7-2 21-10 10-1 11 4 17 13 7 2 3 0 4-1 7-5 17-19 7-3 3 0 7 4 21 26 7 4 3-2 11-15 3-2 4-1 3 2 7 7 3 11 4 16 21 139 7 39 7 29 3 9 3 6 4 1 3-4 7-15 45-116 11-22 7-11 7-8 6-6 25-14 10-7 31-28 11-8 6-2 7 0 7 4 14 10 7 3 4 0 3-1 7-4 17-20 7-5 4 0 6 3 18 16 7 4 3-1 4-1 7-8 17-26 7-5 3-1 4 1 7 5 17 24 7 6 3 2 4 0 7-3 20-23 7-4 4 0 3 1 7 4 14 13 7 6 7 2 3-1 7-4 21-25 7-5 3 0 4 1 7 7 21 35 6 7 4 1 3-1 7-7 18-35"/>
<path stroke="#D95319" d="M2198 1004l14-8 10-3 7 1 18 6 10 2 7 0 17-5 7-1 7 1 17 4 11 1 24-3 10-8 4 0 3 2 4 4 3 7 7 20 28 109 14 49 10 28 3 5 4 2 3-1 4-4 10-20 7-18 24-79 11-23 7-8 7-3 6 1 14 3 7-1 4-2 3-2 7-8 21-33 7-7 3-2 4-1 7 2 20 18 7 3 4 0 3-1 7-5 17-21 7-5 4-1 7 1 17 14 7 3 3 1 4-1 7-6 14-17 6-7 4-2 3 0 4 1 7 5 21 29 6 5 4 0 3-1 7-6 21-29 7-6 3-1 4-1 7 3 7 6 17 18 7 5 3 1 4-1 7-3 21-25 6-5 4-1 3 0 7 5 21 27 7 5 3 1 4 0 7-4 21-19"/>
<path stroke="#EDB120" d="M2198 996l28 12 10 2 11-4 17-13 7-4 7-2 3 0 11 5 20 16 7 3 7 0 7-2 14-9 10-18 4-2 3 0 4 3 3 7 4 11 3 11 3 18 21 132 11 57 7 27 3 10 3 7 4 5 3 0 4-4 7-16 52-135 7-15 7-12 6-9 7-5 7-4 14-4 10-6 7-5 18-18 10-8 7-3 7-1 24 1 7 0 7-2 10-5 21-14 10-4 11 1 21 9 10 2 10-2 25-11 10-1 10 2 21 6 11 2 27-1 24 2 11-3 21-13 6-3 7 1 4 2 7 6 14 16 7 4 3 0 3-1 7-5 18-22 7-5"/>
<path stroke="#7E2F8E" d="M2198 990l10-7 7-1 4 1 7 4 21 16 6 4 7 1 7 0 7-2 31-14 7-2 7 0 11 4 24 15 7 2 3 0 7-2 7-4 28-33 7-5 7-2 3 0 7 3 7 6 21 25 7 4 3 1 3-1 7-4 14-16 7-7 7-1 4 1 6 5 21 26 7 6 4 1 3 0 7-2 7-6 21-23 7-5 6-1 4 1 7 6 21 29 7 6 3 1 3 0 7-5 21-31 7-6 3-2 4 0 7 4 21 22 7 4 3 1 7-1 24-10 11-2 13 1 28 6 10-1 7-2 18-8 7-2 3 0 7 2 21 14 7 2 3 0 7-2 17-12 7-2 4 0 7 3 17 12 7 3 3 1 7-2 11-6"/>
<path stroke="#77AC30" d="M2198 990l10-21 4-4 3-1 4 0 3 4 7 12 14 37 7 15 3 6 4 3 3 1 4 0 7-7 7-13 17-36 7-11 7-6 3 0 4 0 7 5 7 10 17 30 3 2 4 0 21-4 3-2 3 1 4 4 7 20 21 89 7 24 6 16 4 4 3 1 4-2 3-5 11-22 7-11 3-4 7-5 14-5 7-6 3-5 7-12 21-48 7-10 7-5 7-1 17 8 10 1 25-8 20-3 7-2 7-4 17-12 7-2 4 0 7 3 17 15 7 3 3-1 4-2 7-7 14-22 7-9 6-5 4 0 3 1 7 4 18 17 13 10 11 5 10 1 7-3 7-7 21-33 7-7 3-2 4 1 7 7 20 38 7 8 4 2 3-1 7-4 21-26 7-5 3-2 7 1 7 4 21 18 10 8 7 2 4 0"/>
<path stroke="#4DBEEE" d="M2198 1010l21-6 24-3 21-5 7-1 10 1 24 12 11 1 10-4 14-9 7-3 7-7 3-3 4 0 3 3 4 5 3 8 7 23 17 80 11 40 10 26 7 10 3 4 4 2 3-1 4-2 21-18 10-14 10-23 21-58 7-14 4-4 3-3 7-2 17 5 7-1 4-3 6-7 18-24 7-6 3-2 4-1 7 2 20 12 7 3 7 1 7-1 7-3 24-16 11-5 3 0 7 1 21 11 7 1 3-1 7-4 17-15 7-3 7 3 7 6 14 16 7 4 3 1 7-2 21-20 7-5 3-1 7 1 18 6 7 1 20-2 11 1 7 3 17 10 10 3 11-3 20-13 7-3 7-1 11 1"/>
<path stroke="#A2142F" d="M2198 992l7-4 3-1 7 1 25 14 10 2 10 0 28-7 14-2 10 1 24 7 11 0 10 2 7-2 7-6 7-8 3-7 21-64 11-28 7-12 3-3 3 0 7 5 7 9 21 38 10 14 4 3 7 3 17 2 11 3 10 9 17 20 7 5 7 3 3 0 7-2 18-7 10-1 7 2 17 9 11 4 10 0 21-5 10 0 7 3 21 13 7 1 3 0 7-3 21-17 7-2 7 3 21 17 6 2 7-1 18-11 7-2 7 1 17 7 10 2 21-4 7 0 21 5 10 1 7-2 17-6 7-1 7 2 17 7 7 2 7-1 11-7"/>
<path stroke="#0072BD" d="M2198 1012l7-3 21-17 7-3 3 0 7 2 17 13 7 3 4 1 7-1 17-9 7-1 7 1 17 5 7 0 7-2 7-4 10-18 4-2 3 1 4 4 3 8 7 24 7 39 17 114 11 53 10 34 7 12 3 3 4-1 3-5 14-32 11-26 20-60 7-17 7-14 11-15 31-39 7-8 6-5 7-2 7 1 14 3 11-2 6-4 21-18 7-5 11-5 27-9 7 0 7 0 21 10 7 2 3-1 4-1 7-6 17-17 7-3 3 0 7 3 17 17 7 3 4 0 7-2 14-12 7-4 3 0 7 1 17 10 7 2 4 0 7-3 17-12 10-3 11 1 31 14 17 4 7 1 7-2 21-8"/>
<path stroke="#D95319" d="M2198 996l28 7 7-1 17-5 7-1 7 2 17 8 7 1 7-3 17-12 7-3 4 0 7 4 17 17 3 1 7 0 14-5 7-1 3 1 7 4 7 9 21 43 7 12 7 7 3 2 4 1 3-1 4-2 14-14 7-6 24-15 27-24 11-5 7-1 17 3 10 0 11-2 21-9 10-3 14-1 24 4 10 0 11-2 20-7 7-1 7 0 21 5 10 1 32-6 10 0 21 4 10 0 28-5 10 0 7 1 17 5 7 1 11-4 20-15 7-2 4 1 7 5 14 19 7 8 3 2 3 1 4-1 7-7 14-23 7-9"/>
<path stroke="#EDB120" d="M2198 994l10-6 7 0 7 2 21 15 7 2 7 1 10-2 21-9 10-2 14-1 21 4 14 1 10-6 4 0 3 1 7 6 7 9 3 8 21 71 11 28 10 18 7 7 3 1 4-2 3-2 25-23 10-15 24-42 7-10 7-6 10-5 18-1 7-1 6-3 18-11 7-2 10 0 17 6 7 0 4-1 7-5 17-21 7-5 3-2 4 0 7 2 24 22 7 3 3 0 4 0 7-3 24-22 7-4 3-1 4 0 7 3 20 14 7 3 4 0 7-1 17-8 7-1 10 0 18 3 10 0 10-3 21-7 7-2 7 0 7 2 7 4 21 17 7 3 3 0 3 0 7-4 18-15 7-5"/>
<path stroke="#7E2F8E" d="M2198 1001l10 5 7 2 4-1 7-2 21-14 6-1 7 1 21 11 7 1 7 0 17-8 11-2 10 3 14 7 10-3 4 0 7 3 3 4 4 6 6 16 25 80 10 30 7 16 3 5 4 4 3 1 4-2 3-4 7-11 7-15 17-44 11-20 3-4 7-4 4-1 17 2 7-3 10-10 21-28 7-6 7-4 3 0 7 1 24 9 11 2 7-1 7-3 31-18 14-6 7 0 6 1 25 10 10 2 10-2 32-11 10-2 10-1 7 1 7 2 24 13 7 2 7 0 7-1 7-4 31-19 7-2 4 1 7 2 3 3 7 7 14 18 7 6 3 1 4 0 7-5 6-10 11-18 7-9 3-2 4 0 3 1 4 2"/>
<path stroke="#77AC30" d="M2198 993l10 1 21 6 11 2 10 0 38-4 35 3 10-1 14-4 10-8 4-1 3 2 4 2 3 6 7 15 21 66 14 36 7 13 6 10 7 6 4 0 3-1 4-4 7-10 27-48 11-14 10-7 17-6 7-4 7-6 21-23 7-5 3-1 7 0 21 5 10 0 25-7 24-3 24-7 7-1 7 1 17 5 7 1 7-2 21-15 7-2 7 2 7 5 13 13 7 4 4 0 7-2 21-15 3-2 7-1 7 1 21 6 41 6 10-1 18-6 7-2 10 1 14 5 7 1 10-1 11-5"/>
<path stroke="#4DBEEE" d="M2198 1018l21-36 7-5 3-1 4 1 7 7 17 28 7 8 3 2 4 0 3-1 4-3 7-8 10-17 7-9 7-5 3-1 7 2 7 6 28 33 3 2 4 1 3-1 4-3 3-6 7-17 17-60 7-20 4-6 3-5 4-2 3 1 4 3 3 5 17 44 7 11 4 2 3 1 4-1 7-7 10-13 3-2 4-2 3 0 4 2 7 9 14 27 6 10 4 4 3 1 4 0 7-4 14-16 6-7 7-2 4 0 3 2 7 6 24 34 7 5 4 1 3 0 7-3 7-7 17-22 7-5 4-2 3 0 7 3 7 7 17 22 7 5 7 1 4-1 7-4 20-25 7-6 4-1 3 0 7 3 7 7 17 20 7 4 7 2 11-4 20-13 11-4 14-1 38 0 10 2 7 2 10 6 18 13 7 3 3 0 3 0 7-5 25-27"/>
<path stroke="#A2142F" d="M2198 1017l7-9 10-18 7-10 7-5 4 0 3 1 7 7 14 20 7 9 3 2 4 2 3-1 4-2 7-8 17-30 3-4 4-2 3 0 4 1 7 9 17 35 7 10 3 1 4-1 17-12 7-3 3 1 4 4 7 11 17 35 7 12 10 12 7 4 4 0 14-3 7-2 7-5 3-4 10-16 18-35 7-10 3-3 4-1 3 0 3 1 18 16 7 4 3 0 4-2 6-7 18-29 7-8 3-2 4 0 7 2 6 7 18 22 7 6 3 1 7 0 7-3 7-5 21-18 7-4 3-1 3 0 7 2 7 5 18 17 7 3 3 0 3-1 7-6 21-30 7-5 4-1 3 1 7 7 21 30 7 5 7 2 6-3 18-8 17-3 7-2 7-5 21-21 7-3 3 1 3 2 7 9 18 33 7 11 3 3 4 2 3 0 3-2 7-8 25-50"/>
<path stroke="#0072BD" d="M2198 996l17 5 21 7 11 2 6-2 7-3 21-16 7-2 4 0 3 0 7 4 17 16 7 6 7 3 3 0 11-2 10-19 4-4 3-1 4 2 3 6 7 23 7 32 28 160 7 35 6 28 4 10 3 6 4 2 3-3 7-22 24-108 7-22 4-9 3-6 4-4 3-2 4-1 14 2 3-1 7-4 3-4 7-12 18-39 6-14 7-9 7-6 4-1 7 1 20 7 11 1 10-6 18-15 10-7 7-1 21 5 6-1 7-3 18-12 7-3 3 0 7 3 21 18 7 2 3 0 7-5 21-25 7-3 3 0 7 3 17 18 7 4 4 1 7-1 17-10 7-3 7-1 21 1 20-5 7 1 4 2 7 5 14 14 6 3 4 0 3-1 7-7 18-22"/>
<path stroke="#D95319" d="M2198 1008l14 0 24 6 11-1 10-5 24-23 7-3 4 0 6 2 7 5 18 20 7 7 6 3 4 0 7-2 10-19 4-4 3-2 4 3 3 8 7 28 21 122 10 52 7 24 4 9 3 5 3 2 4-1 3-5 11-19 14-23 7-14 10-31 17-71 7-24 7-15 4-3 3 0 3 2 7 10 14 27 4 4 3 2 4 0 3-2 7-9 17-39 7-13 7-8 7-3 42-2 6 1 18 6 10 1 10-5 14-10 7-4 7-2 4 0 10 4 21 13 7 1 3 0 4-1 7-4 17-18 7-5 3-1 4 1 7 5 17 25 7 7 3 1 4-1 7-6 20-33 7-6 4-1 3 1 7 4 21 22 10 8 18 9 10 2 7-1 7-3 7-7 14-17"/>
<path stroke="#EDB120" d="M2198 1002l7 2 7 0 21-7 7-1 7 1 17 3 7 0 7-2 14-6 6-1 4 0 7 3 17 13 7 4 3 1 4-1 7-4 14-18 3-2 4 0 3 3 7 12 7 19 14 44 10 26 4 6 7 8 6 4 7 0 7-2 11-8 17-10 7-5 10-12 25-33 6-7 7-4 7-3 7-1 24 0 14-2 11-4 20-11 11-3 10-1 24 7 11 0 48-11 21-8 10-2 11 3 17 13 7 4 3 0 4 0 7-2 17-12 7-2 7 0 17 9 11 3 7-2 20-9 7-2 11 2 31 10 20 3 14-1 18-7"/>
<path stroke="#7E2F8E" d="M2198 1005l14-25 7-8 3-2 4 0 3 2 4 3 7 10 10 19 7 11 7 6 3 0 4 0 3-2 18-20 6-6 4-2 7-2 14 2 10-1 14-2 7-9 3-1 4 2 3 5 4 8 10 40 3 21 18 132 10 59 4 13 7 19 3 4 3 1 4-3 14-27 17-26 7-15 10-30 25-91 7-18 3-6 3-5 4-2 3-1 4 0 14 7 7 2 6-1 7-5 21-24 11-9 27-11 24-15 11-3 7 0 7 3 7 6 13 16 7 5 4 0 3-2 7-9 21-54 3-6 4-4 3 0 4 3 3 5 4 9 17 53 3 7 4 4 3 0 4-3 3-5 18-44 3-6 4-3 3-1 3 2 7 10 14 24 4 3 3 2 4 0 3-3 17-19 7-4 4 0 7 5 13 14 7 5 4 2 7 1 21-5 13-6 11-7 14-14"/>
<path stroke="#77AC30" d="M2198 999l7 5 3 1 7 1 7-3 14-6 11-3 34 0 14 3 21 8 7 2 10-2 14-8 17 2 7-1 7-6 3-5 7-18 18-51 7-16 3-5 4-3 3-1 3 2 4 3 21 22 24 16 7 6 7 8 21 29 10 9 7 3 3 0 7-3 7-4 21-18 7-2 3 0 4 1 7 5 7 10 17 29 7 8 3 1 4 0 3-2 4-3 7-10 13-24 7-8 4-2 3 0 4 1 3 3 7 9 10 17 7 9 7 5 4 1 3-1 7-4 21-23 7-4 3 0 4 0 7 3 20 17 11 5 10-1 21-8 10-2 11 3 17 9 7 2 7-1 3-1 7-5 14-13 7-4 3 0 7 4 21 25 4 2 3 1 3 0 7-6 18-24 3-3 4-2"/>
<path stroke="#4DBEEE" d="M2198 995l7-2 10 0 32 11 13 2 14-1 24-7 11 0 7 2 17 7 10 2 4 0 10-15 4-3 3-1 4 2 3 6 4 10 6 25 25 131 10 47 10 34 7 13 4 3 3 0 4-4 3-7 14-36 28-79 7-16 7-12 10-14 24-21 28-33 10-8 4-1 7-1 7 1 13 5 7 1 4-1 3-1 7-5 21-22 7-5 3 0 4 0 7 2 13 10 7 4 7 1 4-1 7-4 20-18 7-3 4-1 3 0 7 2 21 14 10 3 11-2 24-13 7-3 7-1 10 1 28 11 10 1 11-1 24-9 10-2 11 2 24 9 10 1 11-3"/>
<path stroke="#A2142F" d="M2198 988l7-7 3-2 4 0 3 0 4 2 7 8 17 29 7 6 3 0 4-1 7-8 14-28 7-11 3-4 4-2 3 1 3 2 7 10 18 36 7 8 3 1 3 0 7-7 4-5 10-21 7-10 4-3 3-1 4 1 3 3 3 4 21 41 11 17 7 7 6 6 7 3 4 0 7-2 7-4 27-25 7-4 7-4 31-11 11-2 10 2 17 9 7 1 4-1 7-5 17-20 7-5 3 0 7 2 21 20 7 3 7-2 7-6 14-14 7-4 6 1 18 13 7 2 3 1 7-3 17-15 7-3 4 1 7 3 17 14 7 3 3 0 7-3 18-14 7-2 3 0 7 3 21 16 7 2 3 0 10-4 25-19 7-2 3-1 3 1 7 4 7 7 18 21 7 4 3 1 3-1 7-5 18-21 7-5"/>
<path stroke="#0072BD" d="M2198 998l14-6 7-1 7 1 10 3 24 14 11 2 10-3 17-10 7-2 11 0 17 5 7 1 7 0 14-5 7 0 10 5 3 2 21 29 7 8 7 5 7 4 14 5 21 2 7-1 3-2 7-5 21-27 7-7 3-2 4-1 6 2 18 12 7 3 3 0 4-1 6-6 18-19 7-5 3-1 4 0 7 2 17 10 10 1 7-1 14-5 10-2 7 1 24 4 18 0 14-5 20-10 11-3 10 2 24 12 11 1 10-2 21-9 7-1 10 2 21 12 7 3 3 0 4-1 7-3 20-20 7-3 4 0 3 2 7 6 18 24 6 6 4 1 3-1 7-5 18-25"/>
<path stroke="#D95319" d="M2198 998l14 0 21-5 7 0 10 3 17 7 11 2 10-2 21-7 10-2 11 0 17 4 10 1 7 2 14 7 17 11 25 12 17 11 7 2 10 1 11-2 6-4 7-5 21-21 11-7 6-2 7 1 21 9 10 2 11-4 21-16 7-1 3 0 7 3 17 16 7 5 4 1 3 0 7-4 21-23 7-4 3-1 7 2 17 17 7 5 4 0 3 0 7-5 14-16 7-6 7-2 7 2 17 18 7 6 3 1 7-1 21-16 7-2 7 3 21 17 7 2 7-4 20-23 7-4 4 0 7 4 17 21 7 6 3 1 4 0 7-2 17-14 7-3 3-1 7 2 11 6"/>
<path stroke="#EDB120" d="M2198 995l14 0 38 9 10 1 11-2 21-9 10-1 7 2 17 10 7 2 3 1 11-4 10-20 4-3 3-1 4 3 3 5 7 17 3 15 7 44 18 126 10 62 7 30 3 11 4 8 3 3 4-1 7-16 31-107 10-30 7-15 11-17 38-51 10-11 7-4 28-10 7-4 17-13 10-5 11-1 20 4 7-1 7-4 17-15 7-4 4-1 7 1 21 10 6 1 7-1 18-7 10-2 7 0 21 6 10 0 7-2 21-9 7-1 7 0 7 1 24 7 7 0 20-2 7 0 21 7 7 1 10-2 21-13 11-4"/>
<path stroke="#7E2F8E" d="M2198 994l7 1 17 7 7 1 11-1 17-7 10-1 11 1 20 7 11 1 10-3 21-7 7-1 7-5 3 0 4 0 3 3 4 4 3 7 7 19 17 58 11 26 7 12 7 8 6 6 7 2 4-1 17-11 11-11 10-16 17-34 11-14 3-3 7-2 7 0 14 4 7-1 3-2 7-6 17-21 7-6 4-2 3 0 7 1 17 12 7 3 4 0 3 0 7-4 17-17 11-7 3 0 7 0 7 4 17 12 7 3 7 0 11-4 24-17 7-3 3 0 7 2 21 14 10 4 11-1 17-8 10-2 11 2 17 7 7 1 10-3 21-16 7-4 3 0 4 0 7 4 7 7 17 24 7 5 3 1 4 0 7-6 21-32"/>
<path stroke="#77AC30" d="M2198 1003l24-3 42-1 14 2 20 8 11 1 10-2 21-14 7-3 3 1 14 6 4 1 3-1 7-5 7-9 7-13 17-37 7-11 4-3 3-2 3 0 4 2 17 24 11 10 7 3 17-2 7 1 3 2 7 5 17 20 7 5 4 2 7 0 20-11 7-1 7 2 18 13 10 5 3 0 7-2 14-6 7-2 11 1 13 6 7 1 7 0 17-5 7 0 7 1 18 11 7 2 3 0 7-3 17-15 7-4 4 0 3 0 7 5 21 22 7 3 3 0 4 0 7-4 17-14 10-5 11 1 17 6 7 2 10-1 17-5 7 0 11 4 17 13 7 3 3 0 4 0 7-3 21-15"/>
<path stroke="#4DBEEE" d="M2198 1002l14 10 7 1 7-4 21-21 3-2 3 0 7 2 21 22 7 3 7-2 17-14 7-3 7 1 14 5 7 1 10 5 4 0 7-4 10-12 3-9 21-92 7-27 7-19 4-4 3-1 3 1 7 6 7 12 7 17 18 51 6 15 4 5 3 3 4 2 3 1 4-1 17-8 7 1 3 2 11 12 21 30 10 9 7 3 7-1 7-3 7-6 13-15 7-4 4-1 3 0 7 5 21 32 7 6 3 0 4-1 3-3 18-24 6-7 4-1 3 1 7 5 21 28 7 4 3 1 4-1 7-5 21-25 7-6 6-3 4 0 3 1 7 6 18 26 7 8 6 4 4 0 7-3 17-17 7-5 7-2 17-4 18-8 6-2 7 3 4 3 7 10 14 23 7 7 3 0 3-1 7-7 18-30 7-7"/>
<path stroke="#A2142F" d="M2198 1008l7-2 17-9 7-1 4 0 7 3 17 10 7 2 3 0 7-3 18-11 6-3 4 0 3 1 7 4 18 14 6 3 4-1 7-3 10-18 4-5 3-2 4 0 3 4 4 7 3 9 3 14 21 117 11 46 7 19 3 6 3 4 4-1 3-4 52-110 11-17 7-10 10-10 10-7 35-17 21-10 14-4 24-3 10-3 11-6 17-11 10-3 11 1 17 9 7 2 7-1 20-10 11-2 7 2 21 11 6 2 4-1 7-2 17-9 7-2 10-2 21 0 14 2 21 12 7 2 3 1 7-2 21-16 7-3 3 0 7 3 17 12 7 3 11-1 14-4"/>
<path stroke="#0072BD" d="M2198 985l7-5 3 0 7 1 4 2 7 7 17 24 7 5 3 1 4-1 7-7 14-24 7-10 3-3 4 0 3 2 7 11 17 43 4 4 3 2 4-1 3-5 3-7 11-31 7-24 3-9 4-4 3 0 4 5 3 9 7 24 17 92 4 15 7 22 3 6 7 8 14 8 7 2 14-1 7-4 3-5 4-6 6-17 18-50 7-14 3-4 4-2 3-1 7 2 14 6 7 0 3-1 11-10 20-25 11-7 7-1 7 1 6 3 21 14 7 3 7 0 10-3 21-16 11-4 3 0 7 2 17 9 7 1 4-1 3-1 7-5 14-14 7-6 7-3 3 0 4 1 7 3 20 17 11 5 3 0 7-1 21-11 7-1 3 0 7 3 17 10 7 1 7-4 21-20 3-2 4 0 7 3 17 20 7 6 4 1 6-1 14-8 7-2 4-1 7 2"/>
<path stroke="#D95319" d="M2198 996l10 0 25 5 10-2 17-4 7 0 7 1 18 6 6 1 7-1 18-4 7-1 6 1 11 5 10-2 7 3 4 3 3 5 7 15 24 70 11 26 10 19 3 3 4 2 3-2 4-3 10-12 11-15 24-41 14-16 7-6 7-4 31-11 24-14 10-4 11-1 24 0 14-2 17-6 24-13 11-2 10 3 17 11 7 3 4 0 3 0 7-3 17-11 7-3 11 1 20 8 11 3 27 2 7-1 7-2 21-11 10-3 4 0 7 2 17 10 7 4 10 1 11-2 21-6 10-4 17-9 11-1"/>
<path stroke="#EDB120" d="M2198 1005l10-2 21-6 11-1 13 3 25 10 10 0 10-3 21-13 7-3 7-1 7 1 7 3 21 13 7 2 3 0 3-1 7-5 21-24 7-6 4-1 3 0 7 4 21 20 7 4 3 1 7-2 17-9 7-1 7 2 17 11 11 3 7-1 17-4 24-1 21-6 7-1 10 2 18 8 7 2 6-1 21-12 7-1 4 0 6 4 18 17 7 3 3 0 7-3 7-8 17-23 7-5 4 0 3 1 7 5 24 29 7 5 7 1 4 0 7-4 24-19 10-3 11 2 17 8 7 2 7 0 17-3 7-1 7 2 17 7 7 2 3-1 7-2 18-12 7-3"/>
<path stroke="#7E2F8E" d="M2198 1004l24-24 7-3 7 1 4 2 7 8 17 29 7 9 7 5 3 0 4-1 7-7 6-11 14-26 7-9 4-3 3-2 4 0 3 2 7 7 7 12 10 13 7 10 35 70 7 15 7 20 17 56 7 15 3 2 4-1 7-9 7-16 20-57 7-15 7-10 11-10 38-27 10-10 17-20 7-5 4-2 3 0 7 2 17 14 7 4 4 1 3-1 7-4 17-18 7-5 11-4 14 0 34 4 11-1 20-6 7-1 21 1 21-3 10 3 17 12 7 2 7-3 18-18 7-3 3 0 3 1 18 16 3 1 4 1 7-3 13-14 4-3 3 0 4 1 3 3 7 11 14 27 3 4 4 1 3-1 4-3 3-6 18-42"/>
<path stroke="#77AC30" d="M2198 979l4 1 3 4 21 32 3 3 4 1 3-1 7-8 14-27 7-10 3-3 4 0 3 1 7 8 17 34 7 8 4 1 3 0 7-5 17-25 7-8 4-2 7-9 3-2 4 2 3 4 4 7 10 35 24 135 11 45 7 20 3 8 7 9 3 2 4-2 3-4 18-39 34-58 42-89 10-16 7-6 3-1 4 0 3 2 7 6 14 17 7 4 4 0 3-2 7-9 14-27 7-11 3-4 4-2 3-1 7 2 14 11 10 5 21 0 21 3 7-1 3-2 21-17 7-3 3-1 7 2 24 16 11 2 10-2 24-16 7-2 4-1 3 0 7 3 21 19 7 3 3-1 7-4 17-23 7-4 4 0 3 2 4 3 14 22 7 9 3 2 3-1 4-2 7-11 14-33 7-11"/>
<path stroke="#4DBEEE" d="M2198 1005l31-9 18-1 10 1 24 4 31 0 28 5 17 1 11-5 10-8 21-22 7-5 7-1 7 2 3 2 10 10 7 4 7 2 4 0 7-2 17-11 7-1 3 1 4 2 7 6 17 22 7 4 3 1 4-1 7-4 17-16 7-3 3-1 4 0 7 3 17 12 7 3 7 2 7 1 41-4 28-4 10 1 25 3 24-3 7 0 21 4 6 0 7-1 18-6 7-1 10 4 17 11 7 2 4-1 7-2 17-12 10-3 11 2 20 11 7 3 14 2 11-2 27-8 11-1"/>
<path stroke="#A2142F" d="M2198 1001l10-6 11-4 10 2 18 9 10 3 10-1 18-6 7-1 6 1 18 4 7 1 10-3 14-6 3 0 11 4 3 0 4-2 3-5 7-12 10-23 21-51 7-11 4-2 3 0 7 6 7 10 17 30 7 9 4 2 6 4 18 0 7 2 3 2 7 6 21 26 7 5 3 1 4 1 7-3 20-19 7-4 4 0 3 1 7 3 24 28 7 4 4 1 3 1 7-2 24-16 7-3 7-1 7 2 21 9 7 2 10-1 17-4 7 0 7 1 21 8 7 1 10-1 25-9 10-1 10 3 21 11 7 2 7-2 3-2 7-5 14-14 7-5 3-1 4 1 7 4 21 27 7 5 3 1 3 0 7-5 18-21 7-7"/>
<path stroke="#0072BD" d="M2198 995l7-1 7 1 24 8 14 2 10-2 28-9 10-1 11 3 21 11 10 2 7-1 10-16 4-3 3-1 4 3 3 6 4 10 6 26 25 135 10 47 10 33 4 7 3 4 4 1 3-4 4-6 14-31 10-27 28-80 10-24 7-12 7-8 7-5 7-3 17-3 7-3 7-5 17-18 11-8 10-3 21 2 14-1 10-3 24-11 14-3 10 0 21 3 28-2 7 1 14 4 10 0 10-5 18-14 7-3 3 1 7 3 21 19 7 2 3 1 4-1 6-3 18-13 7-5 10-3 7 1 7 2 7 4 17 13 10 5 4 0 7-2 21-15"/>
<path stroke="#D95319" d="M2198 1001l7-6 7-4 3-1 7 0 42 12 24 10 7 0 3 0 7-4 21-18 7-5 7-1 14 3 3 2 4 3 3 5 4 7 17 54 7 17 7 13 7 9 7 6 10 7 7 1 21-4 7-3 3-3 10-14 25-45 7-9 7-5 6-3 7-1 21 5 10 0 11-5 17-12 7-3 4-1 6 2 18 11 7 2 3 0 4-2 7-6 13-18 7-7 7-3 4 0 7 4 20 29 7 6 4 0 3 0 7-6 24-39 7-6 4 0 3 0 7 6 21 27 7 6 3 1 4 1 7-1 7-4 24-16 7-3 10-2 7 1 21 4 20 1 7 2 11 5 14 11 7 3 3 1 3-1 7-6 25-38"/>
<path stroke="#EDB120" d="M2198 990l17 20 7 5 4 1 3-1 7-3 17-14 11-5 10 1 21 6 24 3 28 11 3-4 7-10 4-3 3-2 4 2 3 5 7 18 7 28 24 137 11 51 6 24 4 9 3 7 4 3 3 1 4-4 3-7 49-136 7-18 7-14 6-10 7-5 7-2 11-1 7-3 3-3 10-15 18-33 7-9 3-3 4-1 3 0 3 1 21 17 7 3 4 0 7-4 24-27 7-5 7-2 10 2 28 14 10 2 7-1 7-3 21-17 10-5 3-1 7 2 7 5 18 15 7 3 3 1 3-1 7-3 25-21 7-4 3 0 3 0 7 3 21 18 7 3 3 1 7-1 18-8 7-1 7-1 13 2 7 0 7-1 11-5"/>
<path stroke="#7E2F8E" d="M2198 1000l7-7 7-4 3-1 7 0 7 2 42 16 7 2 7 1 10-4 21-15 7-2 3 1 7 4 7 7 7 9 10 18 4 3 3-1 4-3 3-8 7-28 17-105 7-36 7-24 4-7 3-3 4 0 3 5 21 55 7 15 7 10 3 4 7 6 17 5 11 8 7 8 20 32 7 7 7 4 7 1 55-2 7 1 11 7 21 21 6 3 4 0 7-4 17-20 7-5 3-1 4 1 7 4 14 15 7 7 3 2 7 2 7-1 21-7 48-5 14 2 24 11 7 1 7 0 7-1 7-3 24-15 7-2 3 0 4 0 7 4 21 19 7 3 3 1 3-1 7-4 18-16 7-3"/>
<path stroke="#77AC30" d="M2198 1024l4-1 3-3 7-11 14-29 7-9 3-1 4 1 7 8 17 35 7 9 3 2 4 1 3-2 4-3 17-24 7-7 3-3 4-1 7 0 24 13 10-9 4-1 3 2 4 4 7 12 3 3 3 6 4 12 7 40 14 98 10 57 7 25 3 8 4 4 3 0 4-4 24-52 28-66 14-28 10-17 24-34 11-12 6-5 11-2 17 0 7-3 7-4 17-15 11-6 7-1 27 2 28-2 10-2 11-5 20-17 7-2 7 1 4 2 7 7 17 23 7 4 3 1 4-1 7-6 17-27 7-8 3-2 4-1 3 1 4 2 7 7 14 17 7 4 3 1 3-1 7-5 14-16 7-6 7-3 3 1 7 5 18 23 7 6 3 1 4-1 6-5 14-19 7-8 7-3 4 1"/>
<path stroke="#4DBEEE" d="M2198 988l7-1 7 1 7 3 24 12 7 2 7 1 7-1 7-2 21-11 10-2 10 4 18 12 6 3 11 1 10 5 4 0 3-2 7-7 7-12 7-25 17-84 7-28 7-20 4-6 3-3 3 1 7 11 35 77 10 18 7 8 7 5 7 0 7-2 14-9 7-1 3 1 4 3 7 8 20 35 7 7 7 4 7 1 24 0 11-1 10-6 17-14 7-3 4 0 7 4 7 8 17 23 7 5 3 1 7-1 21-17 7-2 7 0 17 10 11 3 6-1 14-4 7-2 24 2 7-2 18-8 7-2 7 2 17 9 7 2 7-1 17-5 7 0 7 3 14 9 7 2 3 0 7-4 17-16 7-2 4 1"/>
<path stroke="#A2142F" d="M2198 1004l10 1 7 0 7-2 21-10 10-1 25 6 20-2 7 1 7 2 21 14 7 1 3 0 11-5 10-9 7-10 21-35 7-7 7-3 3 0 7 3 24 20 14 8 7 2 7 1 17-4 11 1 10 5 17 13 7 4 4 1 3 0 7-2 21-12 10-2 7 1 7 3 24 16 7 3 7 1 4-1 7-3 20-19 7-3 4-1 3 1 7 4 17 21 7 6 4 1 3 1 7-4 21-24 7-5 3 0 7 2 7 6 14 14 7 5 3 1 4 0 7-2 17-10 10-4 7 1 18 3 7 0 27-4 11 0 10 1 7 2 28 14 10 3 10-4 18-13"/>
<path stroke="#0072BD" d="M2198 1005l17-7 11-4 21-4 10-1 7 2 7 4 21 17 6 5 7 3 7 0 7-2 11-6 17-17 10-14 4-2 3-1 4 0 3 3 4 4 6 13 21 61 7 16 7 10 4 3 3 2 3 1 7-3 4-4 14-18 7-7 7-4 17-6 7-4 7-7 17-20 7-4 3-1 7 4 14 16 7 6 3 1 4-1 7-7 17-32 7-7 4-1 3 1 3 2 18 24 3 3 4 2 3-1 7-5 14-21 7-8 3-2 4-1 3 1 7 7 17 25 4 3 3 1 4 0 3-2 7-9 17-36 4-5 3-3 4 0 3 3 4 5 7 17 14 45 3 8 3 5 4 2 3-1 4-5 3-7 18-58 7-16 3-4 3 0 4 3 3 6 21 58 4 5 3 3 4 1 3-3 7-14 17-48 4-6 3-4 4-2 3 1 3 5 4 6 17 50 7 17 4 5 3 3 4 0 3-2 7-12 17-49 7-13 4-4"/>
<path stroke="#D95319" d="M2198 996l17-4 11 1 10 4 21 14 7 3 3 0 4-1 7-3 17-14 7-4 3 0 7 0 18 8 10 1 7-1 10-11 4-1 3 1 4 2 3 5 7 15 3 11 21 92 11 36 10 25 7 10 3 2 4-1 3-3 7-6 11-16 10-26 17-53 7-16 7-10 4-2 7-1 17 6 7 0 3-1 11-8 24-27 7-6 7-4 7-1 6 1 21 11 7 2 4 0 3-1 7-4 21-22 7-3 3 0 7 3 17 16 7 3 4 0 3-2 7-6 17-22 7-5 4 0 3 1 7 4 17 17 7 4 4 0 7-1 21-7 24-2 21-4 10 1 17 4 7-1 21-9 7 0 3 2 7 5 17 21 7 4 4 0 7-5 14-21"/>
<path stroke="#EDB120" d="M2198 1017l31-22 7-4 7-2 7 0 7 3 24 15 11 3 10-2 17-9 7-2 10-1 11 3 10-9 4-1 3 2 4 5 3 9 7 25 28 143 14 64 10 36 3 8 4 6 3 1 4-3 3-6 7-18 11-33 20-76 11-29 7-15 7-10 6-7 7-5 21-12 10-7 25-24 10-8 10-4 18 0 7-2 7-4 17-13 10-4 7 0 17 3 7-1 7-4 14-9 7-3 4-1 6 2 21 12 7 1 7-1 14-7 7-3 7 0 17 4 7 0 7-2 17-10 7 0 4 1 7 5 17 19 7 4 3-1 7-4 17-21 7-5 4 0 3 1 7 8 17 26 4 4 3 1 4 0 3-3 4-4 14-26"/>
<path stroke="#7E2F8E" d="M2198 1002l10 4 7 1 4-1 7-3 17-12 7-1 3 0 7 3 18 13 7 4 3 0 4 0 6-2 18-11 7-2 3 0 10 3 21 9 7 0 7-3 7-5 3-4 21-31 11-12 7-5 6-2 7 3 7 5 25 24 6 4 4 1 7 0 21-8 7 0 6 3 21 15 11 4 10 0 24-8 11-1 10 3 21 11 7 1 3 0 7-3 21-14 7-1 3 0 7 5 17 20 7 4 4 0 7-4 20-28 7-4 4-1 3 2 4 3 20 28 7 5 4 1 7-3 17-18 7-5 3-1 4 0 7 3 17 15 7 3 4 1 3-1 7-3 21-19 7-4 3 0 3 1 7 4 18 23 7 7 7 3 3 0 7-5 17-20 7-6 4-1"/>
<path stroke="#77AC30" d="M2198 972l4-2 3 0 7 5 7 10 17 29 7 7 7 3 3 0 7-2 7-5 25-21 10-6 7-1 7 0 7 2 20 14 7 3 7 2 4-1 3-2 7-8 21-31 7-6 7-2 7 1 20 10 21 6 24 14 11 0 17-4 7 0 7 3 14 8 7 1 3 0 7-4 17-14 7-1 7 2 17 15 7 4 7-1 14-8 7-2 7 0 17 8 7 1 7-1 17-9 7 0 7 3 18 17 6 3 4 0 7-4 17-18 7-4 4 0 3 1 7 5 21 23 7 5 3 1 4 0 6-2 39-23 10-4 7-1 7 1 7 3 20 18 7 3 4 1 3 0 7-3 17-13 7-4 4 0 3-1 7 3 11 6"/>
<path stroke="#4DBEEE" d="M2198 1007l7 1 7-2 21-9 10-2 10 1 25 10 7 1 7-1 31-7 10 0 14 0 10-11 4-1 3 2 4 5 3 7 7 23 7 40 17 117 11 55 7 26 3 9 3 7 4 2 3-1 4-5 21-47 10-30 21-68 7-18 7-14 3-5 7-6 7-3 14-4 7-4 10-13 21-33 7-6 3-2 4-1 7 1 24 17 7 2 3-1 4-2 7-5 20-31 7-7 4-2 3-1 7 2 7 7 14 16 7 4 3 0 7-4 21-24 7-3 3 0 7 4 17 17 7 4 4 0 7-3 17-14 10-5 4-1 7 2 24 12 10 1 11-3 24-13 7-1 3 0 7 4 21 20 7 3 3 1 4-1 7-4 14-15 7-6"/>
<path stroke="#A2142F" d="M2198 1009l4-1 6-5 18-17 7-3 3 0 7 3 21 23 7 4 3 1 7-2 17-15 7-5 4 0 7 1 17 13 7 3 14-2 3-1 11-10 10-14 21-43 14-24 7-9 3-2 3-2 4 1 7 3 10 8 7 8 21 30 7 8 7 5 10 3 21 3 7 2 17 8 10 4 11 0 17-3 11 1 6 2 21 13 7 2 7 1 7-2 21-9 10-3 10 2 21 9 7 2 11-1 17-6 10-1 28 5 35 0 34 5 14 1 14-3 21-10 6-1 7 2 4 2 7 6 14 15 7 4 3 1 3-1 7-5 18-24 7-6"/>
<path stroke="#0072BD" d="M2198 985l7-3 3 0 7 3 7 5 18 17 7 4 6 2 7 0 11-3 27-20 11-4 7 0 7 2 24 17 10-8 4-1 3 2 4 5 3 7 7 20 3 14 25 121 17 73 7 22 7 18 3 5 4 2 3-2 4-6 10-25 10-33 21-75 11-26 3-5 7-8 17-10 11-10 7-9 24-41 10-13 7-5 7-2 3 0 7 2 7 4 18 15 7 4 3 1 3-1 7-4 7-9 18-24 6-4 4-1 7 2 17 12 7 1 7-3 17-13 7-2 7 3 21 20 3 1 4 1 3-2 7-6 18-22 6-5 4 0 7 2 17 13 7 4 4 0 6 0 18-7 10-1 10 3 18 11 7 3 3 0 7-3 17-15 7-5 7-1 4 1 7 5"/>
<path stroke="#D95319" d="M2198 1006l10 6 11-1 10-5 21-16 7-2 3 0 7 4 18 14 7 2 3-1 7-4 17-17 4-2 3 0 7 3 14 18 3 0 7-2 4-1 3 1 4 2 3 4 7 13 7 24 10 52 25 137 6 28 4 10 3 6 4 3 3-3 7-16 11-32 27-97 7-20 7-17 7-11 7-5 7 0 14 7 3 1 4 0 3-2 4-2 3-5 7-13 21-50 7-10 3-3 4-2 3 1 3 1 7 7 18 24 7 6 7 2 6-3 7-7 25-40 6-8 4-2 3-1 4 0 7 5 21 33 6 6 4 1 3 0 4-3 7-8 10-15 7-7 4-1 3 1 3 2 18 21 7 5 3 0 4 0 7-6 17-23 7-5 3 0 4 0 7 4 13 13 7 4 11 4 10-1 17-5 35-13 7-2 7-1 7 1 14 5"/>
<path stroke="#EDB120" d="M2198 986l7-1 3 1 7 6 14 15 7 5 4 2 3 0 7-3 21-16 7-4 7-2 7 0 10 3 7 5 21 16 10 4 7-1 10-17 4-4 3-1 4 1 3 7 7 21 7 28 28 144 10 49 7 24 3 9 4 5 3 0 4-6 3-9 7-26 21-91 7-22 7-16 3-5 7-6 17-8 7-5 28-27 24-20 11-7 10-2 21 3 7-2 7-6 17-21 7-4 3-1 7 2 17 14 4 1 3 0 4-1 7-7 17-26 4-3 3-1 3 1 7 6 18 27 3 4 4 2 3 0 4-2 3-3 14-18 7-7 3-2 4 1 3 1 17 16 7 3 4-1 3-2 18-20 7-5 3-1 7 1 17 13 7 3 7 0 14-1 7 2 17 11 7 4 3 0 7-1 18-11 7-3"/>
<path stroke="#7E2F8E" d="M2198 994l10-1 14-2 11 1 7 4 17 15 7 3 3 0 7-3 21-23 7-4 3 0 7 3 18 16 6 3 4 1 7-2 10-8 4-1 3 1 4 3 3 6 17 40 7 11 4 2 3 1 4-1 17-15 3-2 4 1 3 2 7 8 18 35 3 5 4 3 3 0 3-2 4-5 3-7 18-56 7-20 7-11 3-2 3 0 4 2 7 8 10 16 7 9 7 5 3 0 4 0 7-3 7-7 17-20 7-6 3-1 4 0 7 2 17 13 7 4 4 1 3-1 7-4 14-15 7-6 7-2 6 3 21 21 7 3 4 0 7-3 17-16 7-4 3 0 7 1 21 11 7 0 7-2 21-12 10-2 10 4 25 13 6 2 7 0 7-1 7-2 21-10 10-2 11 4 17 11 10 4 11-3 14-8"/>
<path stroke="#77AC30" d="M2198 1001l10 1 11 0 41-8 14 0 14 3 21 11 10 2 11-3 17-12 3-1 14 2 7-2 7-8 7-14 21-60 7-17 7-11 3-3 3 1 7 6 25 41 7 10 6 7 11 6 24 6 31 20 14 5 35 0 10 3 21 7 7 2 10-1 21-6 10-1 11 4 20 12 11 3 3 0 7-3 24-19 7-2 4 0 3 1 7 4 21 18 7 3 7 1 10-3 24-14 11-2 10 1 24 9 7 2 11 0 17-4 7 0 7 1 17 7 7 1 10-3 18-11"/>
<path stroke="#4DBEEE" d="M2198 985l10-3 7 2 7 5 18 17 7 4 3 0 7-2 21-19 7-2 3 1 7 6 21 29 3 3 4 1 3 0 4-3 6-9 11-21 3-4 4-3 14-6 10-14 7-12 7-16 7-23 21-85 6-19 4-3 3 0 4 4 3 7 7 18 18 52 6 18 11 20 14 21 10 11 4 2 3 0 3-1 4-3 14-18 7-7 3-1 4 1 3 3 7 14 17 50 4 7 3 4 4 2 3 0 4-4 3-5 14-27 7-8 3-1 4 1 3 2 17 26 7 6 4 1 7-1 14-9 6-3 7 2 18 13 3 2 4 1 3-1 7-5 17-21 7-4 4 1 7 5 17 27 7 8 3 2 4 0 3-2 4-3 20-30 7-6 4-1 3 0 7 4 18 17 6 5 4 1 10 0 31-13 11-2 10-1 7 1 7 2 24 13 7 2 4 0"/>
<path stroke="#A2142F" d="M2198 999l17 2 7 0 7-2 18-8 6 0 4 0 7 4 21 16 7 2 3-1 3-1 7-4 14-13 7-5 7-3 3 0 4 1 7 3 14 15 7 4 3 1 4-2 3-3 3-6 7-18 18-53 7-15 3-3 4-2 3 2 3 4 25 44 7 8 3 2 7 1 17-6 7 0 4 1 7 4 17 14 7 4 7 2 20-2 7 1 7 2 14 8 7 3 10-1 18-8 7-2 7 1 20 6 7-1 14-5 7-1 3 1 7 3 14 15 7 6 4 2 3 0 7-4 17-24 7-7 4-1 3 0 7 4 17 19 7 4 4 1 7-2 20-12 11-2 7 0 24 6 14 2 10 0 21-5 10 0 7 2 18 7 6 2 7-1 18-8 7-2"/>
<path stroke="#0072BD" d="M2198 1011l7 1 7-2 7-4 14-11 10-5 4 0 6 2 21 12 11 3 10-2 31-8 31-6 7 4 7 7 7 10 17 36 7 10 4 3 3 2 7 3 10 1 14-2 21 7 7-1 7-5 7-8 17-25 7-8 10-9 7-4 7-1 7 1 7 4 21 19 7 2 3-1 4-3 7-8 13-27 7-11 4-3 3-2 4-1 3 2 4 2 20 30 7 5 4 0 7-3 17-18 7-4 3-1 7 1 18 8 7 1 6-3 18-12 7-2 3 0 7 3 21 17 7 3 3 1 4-1 7-2 17-10 7-2 10 0 21 8 10 2 7 0 28-5 31 4 10-3 21-11 7-2 4 0"/>
<path stroke="#D95319" d="M2198 983l4 0 6 3 7 7 14 19 7 6 4 1 3 0 7-4 21-28 7-5 3-1 4 0 3 2 7 6 14 17 7 5 3 1 4-1 7-4 17-15 7-9 3-2 4 1 3 3 4 7 10 31 17 82 7 28 7 22 7 19 10 23 7 11 4 2 7-2 7-6 7-9 3-6 7-18 24-75 7-15 7-11 10-11 11-5 10-2 21 4 7-1 3-2 7-8 21-34 7-7 3 0 4 0 3 2 18 18 7 4 3 1 3-1 7-5 18-16 3-2 7-3 7 1 14 3 7 0 24-4 7-1 7 1 21 6 6 0 11-2 17-9 11-2 10 2 17 12 7 3 4 1 3 0 7-3 21-17 10-4 7 0 7 3 31 22 7 3 7 0 3 0 7-4 7-7 11-14"/>
<path stroke="#EDB120" d="M2198 995l14 3 24 0 7 2 17 7 7 0 4 0 7-4 20-16 7-2 4 0 7 4 17 16 7 5 3 1 4 0 10-10 4-3 3-1 4 0 10 5 3 4 4 9 21 91 7 25 7 17 3 6 3 3 4 0 3-2 11-13 21-20 10-13 10-16 21-36 7-10 7-7 3-3 7-3 21-1 7-1 7-4 17-12 7-3 4 0 6 1 21 11 7 1 4-1 3-2 7-6 14-17 7-7 7-3 3 0 4 0 6 5 14 16 7 6 7 3 4-1 3-1 7-6 17-22 7-5 4 0 3 0 7 4 21 21 7 4 3 1 4-1 7-3 20-16 7-4 7-2 11 2 17 6 10 2 11-1 17-4 7 0 10 4 18 12 6 3 4-1 3-1 7-4 18-17"/>
<path stroke="#7E2F8E" d="M2198 989l7 2 21 12 10 2 28-3 34-2 32 4 6-1 11-5 10 2 4-1 7-3 3-2 7-10 3-9 28-109 7-18 4-5 3-1 3 2 4 3 7 10 7 13 24 54 7 11 10 11 7 4 18 7 34 17 42 11 31 11 10 2 7-1 7-2 21-11 7-1 3 0 4 1 6 5 18 16 7 4 3 0 7-2 7-5 14-14 7-4 3-1 7 1 17 11 11 5 48 5 7-1 7-3 24-13 7-2 7 0 7 1 7 4 28 23 7 4 3 0 4-1 6-3 21-24 7-5 4-1"/>
<path stroke="#77AC30" d="M2198 1013l7 4 3 0 4-2 7-5 21-27 7-5 3 0 3 1 7 6 18 23 7 7 3 2 7 1 7-4 24-27 7-5 3-1 4 1 7 3 21 26 3 2 4 1 3-1 3-3 7-10 21-46 4-5 3-3 4-1 3 2 7 8 21 39 7 6 3 1 4-1 6-5 18-21 7-4 3-1 4 1 7 5 20 24 7 4 4 1 10-1 14-6 10-3 21-2 14 2 24 10 7 1 3-1 7-4 11-9 7-4 7-1 6 4 18 19 3 3 4 1 3-1 4-2 7-9 10-15 7-6 3-1 4 1 3 3 18 25 3 3 3 2 4 0 3-1 4-3 14-15 7-4 3 0 4 2 17 18 3 2 4 0 3-1 7-5 14-17 7-5 3 0 7 4 14 14 7 5 7 0 17-10 7-2 7 2 17 16 7 3 7-1 4-2 7-7"/>
<path stroke="#4DBEEE" d="M2198 1002l14-11 10-5 4 0 7 2 7 4 17 12 10 4 7 0 7-2 21-10 7-3 7-1 10 1 21 9 14 2 3 1 11 8 27 18 28 26 7 5 3 1 7-1 11-6 7-6 20-24 11-8 3-1 7-1 7 2 17 6 7 0 4 0 10-7 17-16 7-4 4-1 3-1 7 2 24 16 7 2 4 0 10-3 21-13 7-3 7-1 10 1 17 4 11 1 7 0 20-5 7 1 7 1 18 8 10 1 10-5 18-12 7-2 3 0 7 3 21 19 7 4 3 0 4-1 6-4 21-23 7-5 4-1 3 1 7 4 7 7 17 24 7 5 4 1 3-1 7-5 21-27 7-5"/>
<path stroke="#A2142F" d="M2198 998l7 6 3 2 7 1 7-4 18-15 7-2 6 3 18 15 7 2 3 0 7-4 17-16 7-1 4 1 7 7 20 30 7 6 4 1 3-1 4-3 7-13 24-80 7-15 3-4 4-2 3 1 4 2 3 3 7 10 17 35 4 4 7 5 3 0 7-2 17-17 7-5 7 0 4 1 3 3 7 10 21 40 7 8 3 1 4-1 7-7 13-26 7-11 4-3 3-1 4 1 3 3 7 12 17 38 7 8 4 1 3-1 7-6 14-23 7-9 7-5 3 0 4 0 7 5 20 21 7 3 4 1 3-1 7-4 14-13 7-6 7-1 3 1 7 6 18 23 6 5 4 1 3-2 7-7 21-38 4-4 3-2 3-1 4 1 7 8 21 36 7 6 3 1 3 0 7-3 18-16 10-7 10-5 11-3 7 0 7 1 7 4 13 9 7 3 7 1 11-2"/>
<path stroke="#0072BD" d="M2198 1008l7-3 17-10 7-2 7 0 7 2 24 10 14 2 35-5 31-1 10-15 4-1 3 1 4 5 3 8 7 25 3 17 28 172 14 75 7 26 3 9 4 6 3 0 4-6 7-22 27-117 7-23 7-17 4-7 7-9 17-14 10-10 11-15 24-39 10-13 11-9 10-5 7 0 7 2 21 11 7 1 6-1 11-7 21-23 6-6 7-4 7-2 7 1 7 3 21 15 7 4 7 2 7-1 10-6 21-19 7-4 3 0 4 0 7 2 20 15 11 4 7-1 7-2 24-12 10-4 7-2 7 1 7 3 3 3 21 23 7 5 4 0 3-1 7-6 17-27 7-8 4-2"/>
<path stroke="#D95319" d="M2198 1000l14-6 10-2 11 2 20 10 7 1 7-2 18-10 7-2 3-1 7 2 17 9 7 1 7-1 17-5 7 0 7 4 17 18 7 6 7 2 18-4 7 0 6 3 14 12 7 5 11 4 7-1 6-3 25-18 14-8 13-6 11-2 14-1 27 1 24-5 11 0 10 3 18 10 6 1 4-2 7-6 14-23 7-9 3-3 3 0 4 1 7 8 14 30 7 11 3 3 4 1 3-1 7-10 17-37 4-5 3-3 4-1 3 1 7 8 17 31 7 7 4 0 3-1 4-2 17-22 7-5 3 0 7 2 18 17 6 4 4 1 7-3 21-19 6-3 4 1 7 4 17 20 7 7 7 2 3 0 4-2 7-7 14-19 7-8"/>
<path stroke="#EDB120" d="M2198 1011l17-23 7-5 4-2 3 1 7 3 7 8 14 18 7 6 3 1 4 0 7-3 24-24 7-4 3 0 4 0 7 3 31 21 7 2 3 0 7-3 7-7 17-28 7-9 7-4 4-1 7 4 20 23 7 5 4 1 7 1 17-5 7-1 7 1 24 10 10 0 18-5 10-1 7 1 17 7 7 0 11-3 17-12 7-3 3-1 4 1 7 3 20 18 7 4 4 1 3 0 7-2 24-13 14-3 14 1 10 1 11 3 17 8 10 2 11-2 17-7 11-2 13 1 32 5 10 1 10-1 18-6 6-1 4 0 7 4 17 15 7 4 4 1 3-1 7-3 17-17 7-5 4-1"/>
<path stroke="#7E2F8E" d="M2198 1001l17-7 21-11 7-1 4 0 3 1 7 5 21 24 7 6 7 4 6 0 4-1 7-5 21-26 6-7 7-3 4 0 7-6 3 0 4 3 7 15 10 38 24 146 14 72 10 39 4 8 3 3 4-2 3-6 7-19 7-25 17-71 11-33 3-7 7-9 7-3 11 0 3-1 7-6 3-5 7-15 21-55 7-11 3-3 7-3 7 1 11 4 7 0 6-1 14-6 7-2 7 1 17 6 11 0 10-5 21-17 10-4 11 0 24 8 10 1 11-3 17-12 7-2 3 0 7 2 21 21 7 4 3-1 7-4 18-21 7-5 3-1 7 2 14 11 7 4 7 0 17-6 7-1 7 2 10 6 7 1 4-1 6-5 14-21 7-7 4-2 3 1 4 4"/>
<path stroke="#77AC30" d="M2198 1000l17-3 7 0 21 4 28-1 10 4 17 12 7 1 4-1 7-5 20-27 4-2 3-1 7 1 4 2 7 9 7 14 10 25 7 12 7 7 7 2 10 0 7 4 7 8 14 23 3 5 4 3 3 1 4 0 3-1 7-7 21-35 10-12 7-5 21-6 21-11 10-4 21-2 27-7 11 2 17 5 11 0 10-6 17-14 7-3 4 0 3 1 7 5 21 24 3 2 4 1 3-1 4-2 6-8 18-30 7-7 3-1 4 1 7 6 20 35 7 7 4 1 3 1 7-4 21-23 10-8 11-4 27-3 11 2 7 5 6 7 14 19 7 8 7 3 4 0 3-2 7-8 17-31 7-10 4-3 3-1 4 0"/>
<path stroke="#4DBEEE" d="M2198 1031l4-2 6-10 14-36 7-15 4-4 3-1 4 1 3 3 4 6 17 43 7 11 3 2 4 0 3-3 7-9 14-24 3-4 4-2 3 0 4 2 3 4 17 24 4 3 3 1 4-1 3-7 11-28 3-5 4-2 3 4 7 21 7 39 21 162 7 44 3 18 7 24 3 7 4 5 3 2 4-1 3-4 4-7 10-28 14-31 7-17 10-36 14-57 7-23 4-8 3-6 3-4 4-2 3 0 14 5 4 0 3-1 4-2 6-8 18-29 3-5 7-6 7-3 10-2 7-3 21-17 7-3 4 0 6 3 18 19 7 6 7 1 3-1 3-2 7-6 21-25 7-5 7-2 3 1 7 4 21 20 7 4 4 0 3-1 7-6 21-36 7-7 3-1 4 1 3 3 3 5 21 44 4 5 3 3 4 0 3-1 7-9 21-47 3-5 4-3 3 0 4 1 6 9 21 44 7 8 4 1 3 0 7-7 17-30 7-9 4-3 3-1 4 0"/>
<path stroke="#A2142F" d="M2198 1016l4-1 6-5 21-21 7-4 4-1 3 0 7 2 7 6 17 15 11 5 3 1 7-2 24-15 11-4 6 0 11 3 10 9 4 1 7 1 3-2 7-8 3-8 18-61 7-19 3-6 4-4 3-2 4 1 3 4 14 20 10 12 7 6 21 12 24 19 7 4 7 1 21 1 10 2 24 10 11 3 31-2 10 2 18 7 6 1 11-2 17-8 7 0 7 1 21 14 7 2 7-1 6-4 14-10 7-3 4 0 7 1 17 10 7 2 10 0 18-6 6-1 11 3 21 10 7 1 6-1 7-4 21-16 7-2 3-1 4 1 7 5 21 24 7 5 3 1 3-1 7-5 18-23 7-7"/>
<path stroke="#0072BD" d="M2198 1002l14-10 7-1 3 0 7 5 18 16 6 4 4 0 3-1 7-5 18-18 7-4 3 0 3 1 7 5 18 17 7 4 3 0 7-2 7-5 10-15 4-3 3 0 4 3 3 6 7 19 21 87 10 33 4 7 7 11 6 7 7 2 4 0 3-3 11-10 14-10 6-7 11-18 24-57 7-11 3-4 4-2 7-2 17 6 7 0 3-1 11-7 17-17 11-6 6 0 21 4 7 0 7-3 21-14 10-2 7 1 21 9 10 0 11-5 17-12 10-3 11 2 20 12 11 3 7 0 24-10 10-1 11 0 27 5 14 1 11-1 20-4 7-1 7 2 18 7 10 1 7-2 14-9 7-3"/>
<path stroke="#D95319" d="M2198 998l10-6 11-2 7 2 21 11 10 3 10-2 18-7 10-3 10 1 18 5 10 1 14-4 10-12 4-1 3 1 4 4 3 7 7 25 24 120 11 41 7 20 3 8 3 5 4 3 3-2 4-5 3-7 7-19 21-64 7-16 3-6 4-5 7-4 3 0 14 1 7-2 3-4 7-10 21-45 7-10 7-4 7 0 21 13 7 1 3 0 7-2 24-11 28-6 24-13 10-3 7 2 18 6 7 1 6-2 18-7 7 0 7 3 17 12 7 2 3 0 4-1 7-5 17-17 7-4 3 0 7 2 21 17 7 3 3 1 7-2 18-11 7-2 3-1 3 1 7 2 21 15 7 3 4 0 10-3 17-10 11-4"/>
<path stroke="#EDB120" d="M2198 1013l7 2 7-1 28-15 13-4 14-1 11 0 7 1 24 11 7 2 10-1 21-7 7 0 14 3 7 0 3-2 3-2 7-8 14-21 7-6 4-2 3 0 7 5 21 25 7 6 3 1 7-1 7-4 14-11 7-2 3 0 4 1 7 4 20 18 7 3 4 0 3 0 7-3 24-19 7-3 4 0 7 1 7 5 17 17 7 5 7 2 3 0 4-2 7-6 17-19 7-4 3 0 7 4 21 25 7 3 3 0 7-4 17-23 7-5 4 0 3 2 4 3 17 25 7 7 3 0 4 0 7-6 17-23 7-4 4-1 6 3 18 14 10 4 11 0 24-6 34-4 14 3 21 8 7 2 10-1 11-3"/>
<path stroke="#7E2F8E" d="M2198 1000l10 15 7 5 4 1 3 0 7-4 24-30 7-5 4-1 3-1 7 2 7 4 24 18 7 3 11 3 10 0 14-1 10-18 4-4 3-1 4 2 3 5 7 16 3 14 7 39 28 195 10 64 7 28 4 8 3 2 4-5 7-24 27-137 7-27 7-19 4-6 7-10 17-13 7-7 10-15 24-41 11-13 14-13 10-6 10-1 11 4 17 12 7 1 3-1 4-2 7-8 21-35 6-6 4 0 3 0 7 6 18 22 7 5 3 1 7-1 17-10 7-3 24-5 25-8 7 0 6 1 21 9 11 2 10 1 7-1 7-2 7-4 20-16 7-1 4 1 7 5 21 33 3 4 3 2 4 0 3-2 7-8 18-36"/>
<path stroke="#77AC30" d="M2198 1003l17-3 25 0 24-2 7 1 21 8 6 1 7-1 18-7 7-1 3 0 7 2 7 5 10 12 4 1 3 0 4-3 3-4 7-15 7-29 14-68 7-26 7-16 3-3 4-1 3 3 3 7 14 33 7 14 7 11 7 7 7 3 17 2 11 4 10 8 24 27 11 6 10 2 21-5 7 0 10 5 17 16 7 4 4 1 7 0 7-4 17-18 7-6 7-2 3 0 4 2 7 6 24 37 7 5 3 1 4-1 7-7 20-35 7-7 4-1 3 1 7 5 21 29 7 6 3 1 7-2 21-15 7-3 3 0 7 2 18 9 6 0 4 0 7-4 17-15 7-4 3-1 4 1 7 5 21 28 7 5 3 1 3 0 7-6 18-25 7-7"/>
<path stroke="#4DBEEE" d="M2198 999l7-1 3 0 7 2 14 7 7 1 4 0 7-3 17-12 10-2 7 1 17 5 28 2 21 8 3 0 18-4 10-1 3 0 4 3 7 8 24 42 7 7 3 3 7 2 7-2 25-16 31-16 14-5 13-4 38-6 11-5 21-14 6-2 4 0 7 3 17 14 7 3 4-1 6-4 18-21 7-4 3 0 4 1 3 3 14 20 7 8 3 2 4 1 3-1 4-3 17-25 7-7 3-1 4 0 3 2 7 7 11 12 6 5 4 1 3 0 7-3 14-11 7-4 4-2 6 0 7 1 21 9 14 2 14 0 21-6 10-1 10 5 18 12 7 3 3-1 7-4 21-23 7-4"/>
<path stroke="#A2142F" d="M2198 1000l14 9 7 2 7 1 7-1 7-2 27-13 7-2 11-1 24 1 14 3 10 4 14 9 3-1 11-3 7 1 3 4 7 10 10 21 11 27 24 76 7 15 3 4 4 1 3-2 4-4 7-10 45-86 10-17 7-8 7-4 7 1 17 10 7 2 3 0 4-2 7-6 21-26 7-5 3-1 3-1 7 1 14 6 11 2 10 1 14 0 14-3 24-14 10-2 7 2 21 9 7 1 10-2 21-8 10-1 35 1 7 2 17 6 7 1 11-3 17-12 10-4 4 0 7 2 24 14 10 2 11 0 10-2 7-3 7-4 14-12"/>
<path stroke="#0072BD" d="M2198 989l10-2 7 2 7 5 18 17 7 4 3 1 3 1 7-3 7-5 18-17 7-3 3-1 3 0 7 3 21 14 7 4 7 2 7 1 10 7 4 0 3-1 4-3 10-12 3-8 7-29 14-72 7-30 7-20 4-5 3-2 3 3 4 5 21 51 7 15 7 10 3 4 7 4 7 1 14-2 7 0 7 3 3 2 10 14 18 33 7 11 6 7 4 1 3-1 7-5 18-29 7-8 3-2 3 1 4 2 3 3 25 45 3 4 4 3 3 0 3-1 7-6 18-23 7-4 3 0 7 3 17 16 7 4 4 0 7-1 17-11 7-1 3 1 7 3 17 16 7 3 4 0 3 0 7-4 18-15 10-6 3-1 7 2 25 14 6 2 7 0 11-2 7-4 17-12 7-3 3-1 7 3 4 3 7 9 13 24 7 8 4 2 3-1 4-3 3-4 11-22"/>
<path stroke="#D95319" d="M2198 1009l7-2 3-2 21-25 7-4 4 0 7 3 13 14 7 5 7 1 14-3 7 0 7 3 17 15 7 3 4 0 6-5 14-15 7-5 7-1 14 6 3 0 4-1 3-3 7-11 18-38 3-5 4-2 3 1 3 3 4 6 17 47 7 14 4 3 3 0 4-3 3-6 14-36 7-15 3-5 4-1 3 1 4 4 7 15 17 49 7 12 3 2 4 1 3-2 7-7 14-24 7-10 7-6 7-3 3 0 7 3 24 19 11 4 10 1 17-4 7-1 7 1 17 7 7 0 4 0 7-4 20-22 7-3 4-1 3 2 7 6 21 32 7 5 3 1 4-1 7-8 21-35 6-6 4-1 3 1 7 7 21 33 7 6 3 1 4-1 7-5 7-10 17-29 7-7 3-1 4 1 7 6 21 39 6 8 4 1 3-1 7-6 18-27"/>
<path stroke="#EDB120" d="M2198 989l4 0 6 2 14 8 7 3 4 1 7-1 17-8 10-2 11 3 17 9 10 2 11-3 17-12 7-3 3 0 7 2 7 5 18 21 10 9 7 2 17-4 7 0 7 3 17 10 11 3 10-1 35-15 24-14 10-4 7 0 21 3 21-4 7 0 7 2 17 9 7 2 3 0 4-1 7-5 20-17 11-4 10 1 7 4 21 14 10 2 4 0 7-3 17-12 7-3 3-1 4 0 7 2 17 9 10 2 21-7 7-1 7 1 17 5 11-1 7-2 17-9 10-2 11 3 24 11 7 2 7 1 10-2 24-11 11-2"/>
<path stroke="#7E2F8E" d="M2198 991l7-3 7 0 7 3 17 9 11 3 10-1 21-5 17-2 14 2 24 6 10 1 7-2 14-7 7-1 4 0 3 1 7 5 17 19 7 6 7 3 7 1 14-3 28-9 17-7 10-3 4 1 7 3 17 12 7 3 3-1 4-1 7-7 20-30 7-5 4-1 3 1 7 4 17 21 7 6 4 2 7 1 10-3 21-15 10-7 7-2 7 0 10 2 21 12 11 2 7-1 17-7 10-2 24 5 25-4 7 1 24 7 7 1 10-2 24-9 11-1 10-1 14 4 7 3 21 15 7 2 3 0 3-1 7-5 18-20 7-5"/>
<path stroke="#77AC30" d="M2198 1016l7-3 17-16 7-4 4 0 7 1 17 11 7 4 7 1 21-2 20 6 7-1 4-2 7-7 13-20 7-9 4-3 3-1 4 3 3 6 4 10 17 81 7 25 3 9 4 6 3 4 4 3 10 4 4 2 6 9 11 19 7 10 7 7 3 0 4-1 3-4 4-7 6-19 18-54 7-15 7-10 31-27 7-4 3-1 7 2 14 11 7 3 3 1 4-1 3-3 7-7 17-26 7-5 4-1 3 0 7 3 21 19 7 3 3 0 7-3 7-8 21-31 7-6 3 0 4 1 7 8 17 34 7 8 3 2 4-1 3-3 4-5 17-37 7-10 3-1 4 1 3 3 7 12 14 31 4 6 3 3 3 1 4-1 7-9 17-35 4-5 3-2 4-1 3 2 3 3 14 20 7 6 4 0 3-1 4-3 17-22 3-2 4-1 3 1 7 7 17 29 7 6 4 1 7-2 14-11"/>
<path stroke="#4DBEEE" d="M2198 986l4 0 6 4 21 23 7 4 4 1 3-1 7-4 14-15 7-7 7-2 3 0 4 2 7 5 17 21 7 4 3 0 4-1 7-6 13-16 7-7 7-3 4 0 3 2 7 6 24 34 7 6 7 2 4 0 7-2 6-6 18-18 7-3 3 0 4 1 7 5 17 18 7 3 3 0 4-2 7-7 20-34 7-7 7-2 4 0 7 4 24 26 7 4 3 1 4 0 7-3 6-7 14-17 7-5 4-1 3 0 7 4 14 16 7 7 3 2 7 1 7-2 17-9 21-4 7-5 14-10 7-3 3 0 4 2 7 7 17 24 7 5 3 1 4 0 7-5 21-20 6-4 4 0 3 0 7 3 18 12 7 4 6 1 4-1 3-1 7-6 18-22 6-5 4 0 3 2 7 9 14 28 7 11 4 3 3 2 3-2 4-3 3-5 18-38 7-10"/>
<path stroke="#A2142F" d="M2198 1002l10-14 4-2 7-2 7 2 14 8 7 3 6 1 21-5 7 1 7 1 17 8 11 2 10-1 21-7 10-15 4-2 3 2 4 4 3 9 7 26 3 19 28 194 11 61 6 30 4 10 3 6 4 1 3-6 7-24 28-129 7-25 3-9 4-6 3-5 4-2 3-1 4 0 10 3 3 0 4-1 3-4 4-5 3-8 7-21 14-53 7-23 7-14 3-3 4 0 3 2 4 5 20 48 7 9 4 2 3-1 4-3 3-5 7-15 14-35 7-13 3-4 4-3 3-1 4 1 3 3 7 8 14 21 7 6 3 1 4 0 7-4 7-8 20-32 7-7 7-2 7 2 7 6 21 31 7 7 3 2 4 0 3-1 4-3 7-9 17-29 7-7 3-1 4-1 7 3 24 15 10 5 11 2 13 1 18-4 10 0 7 3 14 9 7 2 7-1 7-5"/>
<path stroke="#0072BD" d="M2198 1017l7-2 3-2 7-9 14-20 7-6 4-1 3 1 4 3 17 22 7 6 3 1 7 0 14-7 7-1 7 2 14 8 7 0 6-5 11-13 7-5 7-1 17 4 3-1 7-9 7-17 25-90 3-9 3-4 4-1 3 3 7 14 21 64 7 14 3 3 4 2 3-1 7-6 14-17 4-2 3-1 4 1 3 4 7 12 21 55 3 6 4 3 3 1 3-3 7-11 18-47 3-5 4-4 3 0 4 3 6 14 18 55 7 13 3 2 4 0 3-3 4-6 20-51 4-5 3-3 4-1 3 1 7 9 17 33 4 5 3 2 4 0 3-1 4-4 17-34 3-5 4-3 3-1 4 1 3 4 4 6 17 41 3 5 4 3 3 1 4-3 3-5 21-52 4-6 3-3 3-1 4 2 3 5 21 48 4 5 3 3 4 0 3-1 7-10 17-35 7-8 4-1 3 1 7 6 17 30 7 8 4 2 3 1 4-1 3-3 21-26 3-2 4-1 3 1 4 3"/>
<path stroke="#D95319" d="M2198 997l10-5 7-1 7 2 14 6 7 2 7 0 21-2 7 1 17 5 7 0 10-3 18-8 10-1 14 6 21 15 6 3 7 2 18 0 7 2 7 4 17 18 7 3 7 1 3-1 7-3 21-19 10-5 24-4 21-6 7-1 7 0 17 3 11 0 7-3 17-8 7-2 10 0 18 7 10 1 7-1 21-6 6 0 21 5 7 1 7-2 17-6 7-1 7 0 18 4 6 0 28-6 11 2 20 8 11 1 14-3 34-15 10-1 7 2 4 2 7 7 17 21 7 5 3 1 4 0 7-5 7-8 14-21"/>
<path stroke="#EDB120" d="M2198 1010l10-9 21-26 7-4 4 1 3 2 7 9 17 39 7 13 4 4 3 1 4 0 3-3 7-13 14-36 7-15 3-5 4-3 3-1 4 2 6 9 11 21 3 4 11 8 7 10 10 30 10 34 28 106 7 23 7 18 3 7 4 5 3 1 4-3 7-10 10-19 10-22 11-29 21-66 10-23 3-5 7-5 14-4 7-4 7-6 10-13 7-5 4-2 3 0 4 2 7 6 13 18 7 4 4 0 3-2 7-9 21-44 7-7 3-1 4 0 7 7 20 35 7 7 4 1 3 0 4-2 7-6 20-25 11-9 10-4 31-7 7 0 7 4 24 27 7 3 4 0 7-5 17-21 7-6 7-3 17-2 7-4 14-9 7-2 3 2 7 6 21 37 7 8 3 1 4-1 3-3 4-4 14-27"/>
<path stroke="#7E2F8E" d="M2198 996l10-5 7-1 4 1 7 3 17 11 10 2 11-3 17-9 11-2 10 3 17 9 11 1 6-2 14-8 11-3 27 2 11-2 7-4 20-18 7-4 4 0 7 1 7 4 17 15 10 8 7 3 11 2 10 1 10-1 7-2 18-8 10-2 10 2 21 9 28 0 21 8 7 1 3-1 7-4 17-17 7-3 4 0 6 3 18 17 7 3 3-1 4-2 20-22 4-2 3-1 4 1 7 7 14 23 6 10 4 2 3 1 4-1 7-7 21-36 3-4 3-2 4 0 3 1 4 3 7 10 14 23 7 7 3 2 3 0 7-3 21-18 4-2 6-2 7 1 18 5 24 2 21 8 7 1"/>
<path stroke="#77AC30" d="M2198 981l4-1 3-1 3 1 7 7 14 17 7 5 4 0 3-1 17-15 7-3 4 1 7 3 17 18 7 2 3 0 7-4 18-16 6-4 4 0 7 2 7-5 3 0 4 1 3 4 4 7 3 10 10 44 32 179 10 53 7 26 3 9 4 4 3-2 4-8 3-11 24-106 7-24 4-8 7-11 7-6 10-5 7-7 3-5 7-15 21-59 7-13 3-3 4-2 3-1 7 3 14 9 7 0 4-1 6-5 14-13 7-3 7-1 14 1 7-1 3-3 7-6 18-22 6-5 4-1 3 0 7 4 18 17 7 6 6 3 4 0 10-2 28-17 10-4 7 1 21 7 7 0 7-1 17-6 7 0 7 1 21 13 7 2 3 0 7-2 17-12 7-2 4 0 7 2 17 11 7 1 7-3 21-17"/>
<path stroke="#4DBEEE" d="M2198 1003l10-11 7-3 4 0 3 2 7 6 18 22 6 5 4 0 3-2 7-7 14-24 7-10 4-3 3-1 3 1 4 3 3 5 21 42 4 3 3 2 3-1 4-3 3-6 18-37 7-11 3-3 4-1 6 2 11 0 7-4 3-4 7-14 17-46 4-6 3-4 4-2 3 0 4 2 3 4 7 14 11 27 6 15 4 6 7 6 7 1 14-4 7 0 6 4 14 9 7 2 7-1 10-3 7 0 4 1 7 6 17 20 7 4 3 1 7-2 14-6 7-2 17 0 7-1 18-8 7-1 3 1 7 6 17 27 7 8 4 2 3-1 4-2 3-4 21-41 7-8 3-2 4 0 3 2 7 8 14 20 7 5 3 0 7-3 14-16 7-6 3-1 4-1 3 2 7 7 18 28 6 6 4 0 3-1 7-9 18-37 6-9 4-2 3 0 4 3 3 5 7 15 11 27 7 15 3 5 3 2 4 0 3-3 7-11 18-42"/>
<path stroke="#A2142F" d="M2198 996l7-3 7-1 7 2 17 8 7 1 7-1 17-6 7-2 11 1 17 6 10 1 11-1 24-5 14 4 7-1 7-4 3-4 3-6 18-38 7-13 7-8 3-3 4 0 6 2 11 8 10 9 24 25 11 7 10 2 7-1 14-3 10 0 11 5 20 17 7 4 4 1 3 0 7-2 21-13 7-3 3 0 4 0 7 3 21 16 6 3 4 1 3 0 7-3 18-11 6-2 4 0 7 2 17 10 11 3 6-1 18-8 7-1 7 0 24 6 28-1 24 3 10-1 21-5 10 0 14 1 24 5 11 3 17 9 10 2 4-1 7-3 14-13"/>
<path stroke="#0072BD" d="M2198 998l7-1 14 2 7 0 7-1 14-6 6-1 4 1 7 4 17 16 7 3 4-1 3-1 7-6 17-24 7-5 4-1 3 1 3 1 7 7 14 22 4 4 3 1 4-1 3-5 7-19 17-61 7-19 7-13 4-3 3-2 4 1 3 4 14 24 10 13 7 5 21 3 7 4 7 7 21 29 6 6 4 1 3 0 7-2 18-10 6-2 4 0 7 3 17 13 11 4 10 0 17-6 11-1 10 1 24 8 49 4 10-2 21-12 7-2 3 0 4 1 7 4 20 19 7 4 4 0 3 0 7-2 21-10 10-2 18 1 6-1 25-10 7-1 6 1 7 5 25 28 7 5 3 0 3-1 7-5 18-24 7-7"/>
<path stroke="#D95319" d="M2198 992l4 1 6 6 14 17 4 3 3 1 4-1 3-3 7-12 17-41 7-10 4-2 3 1 4 2 3 5 24 49 7 9 7 5 4 1 7 1 10-4 7-6 14-22 3-3 4-1 3 0 7 7 7 17 7 25 17 70 7 23 7 16 3 5 4 3 3 2 4 0 3-2 4-3 14-26 10-16 10-13 21-21 14-10 7-4 14-4 10-6 7-7 21-26 7-4 3-1 7 0 17 7 7 0 7-1 14-6 7-1 7-1 14 2 7 0 7-2 17-8 7-2 7 0 17 4 10 0 7-2 28-12 10-2 7 0 7 1 7 4 7 6 17 19 7 5 4 1 3-1 4-2 3-4 7-11 14-28 7-8 3-2 4 2 3 3 4 6 17 42 7 12 3 2 4-1 3-3 4-6 17-40 3-5 4-4 3-1 4 0 3 3 18 29"/>
<path stroke="#EDB120" d="M2198 990l4 0 6 2 18 14 7 4 3 0 7 0 17-8 11-3 21-1 17-2 7 0 7 1 17 9 7 2 3 0 14-7 7 0 7 2 7 5 7 7 17 23 11 10 17 10 7 2 3 1 11-2 7-4 3-2 7-8 17-24 7-6 4-2 7 2 20 17 7 2 4-1 3-2 7-7 17-22 7-6 4-1 3 0 7 2 7 4 17 15 11 4 3 0 7-2 7-4 17-14 11-4 3 0 7 1 17 9 7 1 11-2 17-8 7-2 7 1 17 6 7 1 10-1 18-7 7-1 10 5 17 13 7 3 4 0 3 0 7-4 7-6 17-21 7-5 7-2 7 2 7 5 21 29 7 8 7 4 3 0 3-1 7-4 25-28"/>
<path stroke="#7E2F8E" d="M2198 992l10 21 7 11 7 6 4 1 3-1 4-3 7-9 20-38 7-8 4-2 3 0 4 2 7 7 24 42 7 7 3 1 4 0 3-1 7-6 14-17 10-21 4-3 3 0 4 3 3 8 7 26 21 107 10 45 7 22 7 16 7 10 3 3 4 0 7-6 10-13 11-19 6-17 21-61 11-21 7-8 13-9 7-6 21-25 7-5 7 0 7 3 10 7 7 2 4-1 3-2 7-7 17-24 7-5 4 0 3 0 7 5 10 9 7 3 4-1 7-3 17-21 7-4 3-1 7 4 18 19 6 4 4 0 7-4 21-25 7-3 6 1 14 9 7 2 7 0 17-5 7 2 7 6 18 23 3 2 4 1 3-1 3-4 4-6 21-52 3-6 4-3 3 0 3 2 7 14 21 66 4 8 3 4 4 2 3-1 3-4 4-6 17-48 7-15 4-4"/>
<path stroke="#77AC30" d="M2198 998l7-3 7-1 28 6 24-2 7 2 17 6 7 1 10-2 14-7 7-2 10 1 11 6 3-2 7-7 4-1 3 1 4 5 3 10 10 41 14 66 28 150 7 29 3 10 4 5 3 0 4-7 7-23 24-121 7-26 3-9 4-6 3-3 4-2 3 1 11 4 3 0 3-1 4-3 7-11 21-50 3-5 3-4 4-2 7-1 14 6 7 0 7-4 17-20 7-4 3-1 7 1 17 10 7 0 7-4 21-24 7-5 7 0 7 4 14 10 7 2 3 0 7-3 14-8 7-3 7-1 17 0 17-6 7-1 7 2 4 3 6 8 14 21 7 6 4 1 3-1 4-3 3-6 21-50 3-6 4-4 3-1 4 1 3 4 4 6 17 44 7 12 3 3 4 1 3-1 4-4 17-32 7-10 3-2 4-1 3 1 4 1 7 6"/>
<path stroke="#4DBEEE" d="M2198 991l7-10 3-4 4-1 3 0 7 3 14 12 7 5 10 4 21 5 11-1 17-9 7-1 7 0 10 3 7 1 7-1 7-4 14 0 3 0 4-2 3-4 7-12 7-16 10-34 18-71 3-10 4-7 3-3 3 3 4 8 3 11 18 76 7 23 3 7 4 4 3 1 3-3 18-26 3-2 4 0 3 1 4 4 13 20 7 6 4 1 3-1 14-12 4-1 3 0 3 3 7 11 18 49 7 13 3 3 4-1 3-3 3-6 18-42 3-6 4-4 3-2 4 2 3 3 17 30 4 4 3 2 4 1 3-1 4-2 13-14 7-3 7 1 14 9 7 3 7-2 17-12 7-1 4 1 7 5 17 21 7 4 3 0 7-2 18-12 10-5 28-2 24-3 10-3 14-6 7-1 7 2 3 2 7 7 14 18 7 5 3 1 4-2 7-6 14-22 7-9"/>
<path stroke="#A2142F" d="M2198 1015l7-6 17-21 7-4 4 0 7 2 20 16 11 5 10 0 31-4 7-3 17-10 7-3 4 0 3 3 7 7 7 6 7 2 7-3 3-6 4-11 21-91 7-17 3-4 4 1 3 4 17 37 7 10 4 3 7 3 17-3 7 2 7 7 21 35 6 8 4 2 3 1 4 0 7-4 14-12 6-2 4 0 3 2 7 6 18 25 7 7 3 2 3 1 7-2 7-6 18-17 7-3 3-1 10 2 42 20 7 2 7 1 7-1 3-2 21-18 7-3 3-1 4 1 7 5 17 20 7 4 3 1 4-1 7-5 17-18 7-3 3 0 4 1 7 5 14 16 7 6 6 3 4 0 3 0 7-5 18-18 6-6 7-2 4 1 3 1 7 6 21 28 7 5 3 1 4-1 7-4 14-18"/>
<path stroke="#0072BD" d="M2198 1005l10 9 7 2 4-1 3-1 7-6 18-22 6-6 4-1 3 1 7 5 18 22 7 5 3 2 7 0 17-8 7-1 24 9 7 0 4-2 7-7 17-32 7-10 3-3 4-1 3 0 7 2 11 8 6 2 7-2 14-9 4 0 3 0 4 2 7 8 17 34 7 8 3 1 4-1 7-8 17-30 3-4 4-2 3 0 4 1 3 3 17 23 7 6 4 1 7-2 17-12 7-1 7 2 17 12 7 1 4 0 7-4 17-16 7-4 3 0 7 3 17 17 7 4 4 1 7 0 17-12 7-2 3 0 7 3 21 20 7 2 3-1 7-6 25-37 7-6 6-2 7 3 7 5 11 12 24 33 7 5 3 0 4-1 7-9 7-15 10-28 7-14 3-3 4-1 3 3 4 6 3 9 17 63 4 10 3 6 4 3 3-1 4-5 7-19 7-25"/>
<path stroke="#D95319" d="M2198 1007l17-9 11-2 24 3 28-1 31 1 31 5 7 0 7 2 7-2 7-5 10-14 35-77 10-17 3-4 4-2 3 1 4 2 7 7 24 37 10 11 7 4 18 7 7 3 20 15 11 6 13 6 14 3 14 1 21-6 10 0 11 3 17 9 7 3 7 1 10 1 17-1 11-2 28-10 10-1 10 4 21 17 7 3 3 0 4-1 7-3 21-22 7-4 3 0 3 0 7 5 18 20 7 6 7 4 3 0 3-1 7-5 21-21 7-3 3-1 4 1 7 4 21 25 7 6 3 1 3 0 7-3 7-8 11-14 7-7"/>
<path stroke="#EDB120" d="M2198 995l14 22 7 5 3 0 7-3 7-7 14-16 7-6 3-1 4 0 7 3 17 16 7 4 3 1 4 1 7-2 21-12 6-1 11 3 10-10 4-1 3 2 4 4 3 7 7 19 3 16 25 169 10 60 7 27 3 8 4 3 3-3 4-7 24-75 14-37 38-92 10-21 7-8 7-4 7 1 17 9 7-1 4-2 7-8 20-37 7-8 4-2 3 0 4 1 7 6 14 17 6 4 4 0 3-2 7-8 18-29 3-4 3-2 4 0 3 2 4 3 17 28 4 4 3 2 4 1 3-1 7-8 21-40 7-6 3-1 4 1 6 6 21 32 7 7 4 2 3 0 4-1 6-5 21-28 7-6 4-2 3 0 7 3 21 23 7 4 3 0 7-2 17-14 7-4 4 0 3 0 7 4 17 15 7 3 7 0 11-5"/>
<path stroke="#7E2F8E" d="M2198 1002l17 8 7 1 4 0 3-1 7-5 17-15 7-4 4 0 3 1 7 4 18 18 6 6 7 3 4 0 3-1 7-5 14-16 7-6 7-3 3 2 11 11 7 5 3 1 4-1 3-4 7-19 24-96 7-17 4-3 3-1 7 5 7 9 34 66 11 15 10 11 7 4 4 1 7 0 6-4 18-13 7-2 3 1 7 4 7 9 14 20 7 6 3 2 4 1 7-1 17-11 7-2 7 0 20 3 21-1 11 4 20 17 7 2 4 0 7-5 20-28 7-5 4 0 3 1 7 6 21 30 7 6 7 1 3-2 7-5 17-22 7-8 7-4 4 0 3 1 7 7 21 33 7 6 3 1 4-1 7-6 17-30 7-8 3-1 4 1 3 2 7 10 14 22 3 3 4 2 3 1 4-2 3-3 18-21"/>
<path stroke="#77AC30" d="M2198 1014l7 12 3 5 4 2 3 1 4-1 7-9 17-36 7-9 3-2 4 0 3 2 7 8 14 19 7 6 4 0 6-2 14-8 7-3 7 0 14 3 7 0 14-14 3-1 4 0 3 3 4 5 6 17 21 80 11 32 3 7 7 10 3 2 4 1 3-2 4-4 21-35 13-19 11-12 38-36 10-7 7-2 7 2 17 7 7 0 4-2 3-3 7-8 17-25 7-6 4-1 3 1 4 1 7 7 17 21 7 5 3 0 4 0 7-5 20-22 7-4 4-1 7 0 14 4 7 0 6-1 18-8 7 0 3 2 7 5 17 18 7 5 4 1 3-1 7-3 17-17 7-4 7 0 21 9 7 0 7-2 17-11 7-1 4 0 6 4 25 27 7 3 3 0 4-1 6-6 21-30 7-5 4-1"/>
<path stroke="#4DBEEE" d="M2198 1022l7-8 17-27 7-7 4-2 3 0 7 4 7 8 14 20 7 7 3 1 4 0 7-3 20-23 7-5 4-1 3 0 7 1 21 10 10-9 4 0 3 2 4 4 3 7 7 18 3 15 25 141 14 68 6 25 4 9 3 5 4 1 3-4 4-8 7-19 27-98 11-26 3-5 7-7 17-8 7-6 7-10 18-32 6-11 7-8 7-5 14-4 21-4 7 1 17 3 7 0 7-3 21-15 7-3 7 0 17 5 7-1 3-2 7-8 17-26 4-3 3-1 4 1 3 3 4 5 14 28 7 12 3 3 3 0 4-1 3-4 14-27 7-11 4-3 3 0 4 1 3 4 17 29 4 4 3 1 4 0 3-3 4-5 17-37 7-9 3-1 4 0 7 8 13 27 7 11 4 4 7 4 7-1 17-6 17-4 7-4 11-9"/>
<path stroke="#A2142F" d="M2198 992l7 2 21 11 7 2 7-1 17-8 7-2 7 0 17 4 7 1 7-1 17-4 11-1 6 2 7 2 18 11 7 2 3 0 7-3 3-3 7-11 18-36 7-9 3-2 4-1 3 2 3 4 18 27 7 10 7 5 3 1 7-1 21-11 7-2 7 0 34 5 11 5 17 10 10 2 11-3 20-15 7-2 4 0 3 0 7 3 21 16 7 4 3 0 7 0 17-9 11-2 7 2 17 9 7 0 3-1 7-4 18-15 7-4 3 0 4 1 6 5 21 22 7 5 4 1 3 0 7-2 7-5 17-14 7-4 7-1 10 2 18 10 10 3 7-1 21-8 7-1 10 2 17 7 7 2 7 0 11-3"/>
<path stroke="#0072BD" d="M2198 1004l10-7 7-3 7-2 7 0 14 3 62 16 11 1 7-2 10-5 14-13 3-2 11-3 17 0 10-5 7-6 7-8 21-33 3-4 4-2 3 0 7 1 7 5 7 9 17 27 11 10 3 2 7 1 7-1 21-9 7 0 3 1 11 6 20 20 7 4 4 0 3 0 7-4 17-15 7-3 4-1 3 1 7 3 21 22 7 4 3 1 4 0 7-3 20-18 7-3 4-1 10 1 18 8 10 2 28-3 24 4 7 0 7-2 17-7 10 0 11 4 17 11 7 2 3 0 7-2 21-13 10-4 7 0 7 2 25 15 10 4 7 0 7-2 14-9"/>
<path stroke="#D95319" d="M2198 997l17 4 7 0 7-2 18-7 6 0 4 1 7 4 17 15 7 2 4 1 3-1 7-4 14-12 7-4 3-2 7-1 7 2 7 3 10 11 4 2 3 1 4 0 3-2 7-11 7-24 14-59 7-25 7-19 3-6 4-2 3 0 3 3 7 9 11 18 21 39 10 14 7 5 7 2 7-2 10-4 7-2 7 2 3 2 4 4 7 10 17 34 7 9 3 2 4 0 3-1 4-3 7-11 14-25 3-4 3-3 4 0 3 1 7 8 18 31 7 9 3 2 3 0 4-1 3-3 21-26 7-5 3-1 4 1 7 5 21 25 7 4 3 1 7-2 21-15 10-4 10 1 25 7 14 3 10 2 10 0 49-6 7-3 17-10 7-2 7 2 3 2 7 7 14 19 7 6 3 1 4 0 7-3 14-16"/>
<path stroke="#EDB120" d="M2198 998l10-3 11-1 34 9 21 2 14-1 28-7 14-1 13 3 21 11 7 0 7-4 3-3 25-35 7-6 3-1 4 0 6 5 18 21 7 6 3 2 4 1 7 0 6-5 14-10 7-3 4 1 3 0 7 5 17 15 7 4 4 1 3-1 7-2 21-13 10-3 11 3 27 18 7 2 4 0 3-1 7-4 21-21 7-4 3 0 4 0 7 6 20 30 7 6 4 1 3-1 7-7 17-28 7-8 4-1 3 0 7 6 21 29 7 5 3 0 7-2 21-20 7-3 7-1 7 1 17 7 7 2 10-1 21-7 7 0 10 6 21 18 7 2 4-1 3-1 7-6 17-21 7-4 4 0"/>
<path stroke="#7E2F8E" d="M2198 1003l21-4 10-1 31 1 28-1 14 2 28 6 17 1 10-12 4-1 3 0 4 3 3 5 7 16 3 13 25 126 10 45 10 34 4 7 3 4 4-1 7-7 7-10 7-16 10-33 17-66 7-20 7-13 4-5 7-4 17 2 7-2 3-2 7-7 21-28 7-7 3-2 4-1 7 0 20 8 11 0 10-5 28-24 7-4 7-2 10 2 24 13 7 1 4 0 10-6 17-15 7-3 4 0 7 2 17 11 7 3 3 1 7-1 18-9 10-3 7 2 21 10 7 1 3-1 7-3 17-14 7-4 4-1 3 0 7 3 7 7 17 20 7 5 4 0 3 0 7-4 21-24 7-5"/>
<path stroke="#77AC30" d="M2198 1007l10-6 7-2 7 1 18 7 7-1 6-3 14-10 7-2 4 0 3 2 7 8 17 30 4 4 3 2 4 0 3-2 7-11 21-55 3-5 4-3 3 0 4 2 7 13 17 47 3 6 4 3 3 0 4-3 7-15 17-58 3-8 4-5 3-2 4 1 3 4 4 7 17 53 7 13 3 3 4 0 3-2 4-4 17-30 4-4 3-2 4 1 3 1 3 3 18 21 7 4 3 0 7-2 21-16 7-2 3-1 4 1 7 4 20 19 7 3 4 0 3-1 7-6 17-25 7-9 7-4 4 0 3 1 7 5 21 24 7 6 7 4 7 2 6-1 11-4 24-21 7-3 3-1 4 0 7 3 17 16 7 5 4 1 3 0 7-3 17-13 7-2 4-1 3 1 7 3 21 16 7 2 3 0 4-1 6-5 14-15 7-7 7-2 4 0 7 5 13 16 7 6 4 1 3 0 4-2 7-6"/>
<path stroke="#4DBEEE" d="M2198 1000l35-2 10 1 21 6 7 1 10-2 17-8 11-1 10 4 17 13 7 3 4 0 7-3 17-12 7-2 3 0 7 4 7 7 25 31 6 6 7 3 7-1 7-4 21-19 10-7 11-2 21 5 10 0 7-3 21-14 10-3 7-1 17 2 24 1 11 2 17 8 7 1 3-1 7-3 25-21 6-2 4 0 3 1 7 4 18 16 7 3 3 0 7-1 21-12 10-3 7 0 21 3 24-2 10 0 11 3 17 8 7 1 3-1 7-2 21-16 7-4 3 0 4 1 7 5 21 25 7 5 3 0 3-1 7-6 18-23 7-5"/>
<path stroke="#A2142F" d="M2198 1006l21-8 17-3 14 1 24 9 11 2 7 0 20-5 7-1 28 1 14 5 7 0 10-3 3-2 4-6 3-9 18-59 7-19 3-6 4-3 3-1 3 3 7 10 21 42 7 9 4 3 3 2 7 0 17-7 7 0 11 5 17 14 10 6 21 8 10 3 11-1 7-3 17-10 7-2 3 0 11 4 24 19 10 3 11-3 24-13 7-2 7-1 7 1 10 3 31 13 11 3 6 0 7-1 28-10 14-2 10 2 25 11 6 1 7-2 4-2 7-7 14-17 6-5 4 0 3 1 7 8 21 40 4 4 3 3 3 0 4-2 7-10 14-30 7-12"/>
<path stroke="#0072BD" d="M2198 1002l17-10 7-2 7-1 38 6 38 10 14 0 11-4 17-13 7-11 3-4 4-1 3 1 4 4 3 7 7 17 3 13 18 96 10 44 7 16 4 4 3 3 3 1 4 0 3-2 14-17 4-3 14-6 6-6 11-19 21-53 7-12 3-4 3-3 7-2 14 0 7-2 7-4 17-17 7-4 7-1 17 4 7 0 7-4 18-15 7-3 3 0 7 2 17 13 7 1 4 0 3-2 7-6 14-15 7-7 7-4 7-1 6 2 7 3 32 22 6 2 4 0 3-1 7-4 18-22 7-7 3-2 3-1 4 1 7 7 21 35 3 4 4 1 3 0 3-3 4-4 21-39 3-3 4-2 3 0 3 3 4 4 21 40 3 4 4 3 3 0 4-1 6-9 14-25 7-9 4-3 3-1 4 0"/>
<path stroke="#D95319" d="M2198 1007l14-12 7-4 3-1 4 0 7 3 17 12 10 3 4 0 7-2 21-14 10-2 7 1 24 10 14 1 10-15 4-1 3 2 4 4 7 15 3 4 3 10 7 34 21 131 14 77 10 45 7 19 4 3 3-3 4-7 10-30 28-115 7-24 7-19 7-13 6-8 21-14 11-11 6-10 21-36 7-9 4-3 7-3 6 1 21 16 7 2 4-1 3-1 7-6 21-32 7-7 3-1 4 0 6 3 18 20 7 5 3 1 4-1 7-4 17-21 7-4 3-1 7 2 17 13 7 2 7-1 18-9 10-2 7 1 21 11 10 1 10-4 25-21 7-4 3-1 7 2 3 2 7 7 18 24 7 5 3 1 3-1 7-5 18-22 7-6"/>
<path stroke="#EDB120" d="M2198 990l7-1 7 2 21 13 10 2 10 0 56-11 10 2 24 9 11 1 7-2 7-5 13-12 11-12 7-6 7-3 7-1 10 2 17 8 7 2 24-1 11 1 28 12 10 3 10 0 21-5 10-1 7 3 21 14 7 3 3 0 7-2 25-18 7-2 3 0 7 3 17 14 7 5 7 2 7 1 7-1 10-5 7-5 21-19 7-3 3 0 4 0 7 5 7 8 17 25 7 5 3 1 4 0 7-6 20-29 7-7 4-1 3 0 7 5 21 29 7 6 3 1 4-1 7-5 17-25 7-7 3-2 4 0 7 5 21 30 6 5 4 1 3-1 4-2 21-24"/>
<path stroke="#7E2F8E" d="M2198 994l7-3 7-2 10 0 11 5 20 14 7 2 7 1 11-2 20-10 7-3 7-1 7 0 11 3 17 8 14-1 14 5 3 0 3 2 4 4 7 14 17 45 11 23 6 12 4 3 3 2 4-1 3-2 11-9 24-33 10-11 7-5 21-11 24-22 7-3 7-2 17 3 11-2 7-4 13-10 7-3 4-1 7 2 17 13 7 4 3 0 4-1 7-4 17-19 7-4 3-1 7 3 18 16 7 2 3 0 7-3 14-11 7-4 3 0 7 2 17 10 7 2 4-1 7-3 17-13 7-2 3 1 7 3 21 16 7 3 4 1 3-1 7-2 21-16 7-3 3 0 3 1 7 4 18 16 7 4 3 0 4-1 6-5 14-15 7-6 4-1 3 0 4 1"/>
<path stroke="#77AC30" d="M2198 974l7-12 3-2 4 0 3 3 7 15 18 50 7 12 3 2 3 0 4-2 3-4 21-40 7-10 7-7 3-2 7-2 7 0 4 1 7 5 10 12 21 30 3 3 4 2 3-1 4-4 7-11 3-7 3-11 18-82 7-25 7-15 3-3 4 0 6 6 18 21 10 17 21 39 7 8 3 2 4 0 3 0 7-4 14-12 7-2 3 0 4 1 7 5 27 29 7 5 7 3 7 2 7 0 7-2 17-7 7-1 4 1 7 4 17 14 7 1 3 0 7-5 17-23 4-2 3-2 4 0 3 3 7 9 14 31 7 12 3 4 4 2 3 0 4-3 3-4 21-46 7-10 3-2 4 1 3 2 4 5 24 49 7 7 3 2 4-1 7-5 21-32 7-7 3-3 3-1 7 1 25 18 6 3 18 4 21 13 6 1 7-3 4-3 7-10 14-24"/>
<path stroke="#4DBEEE" d="M2198 1002l10-1 21-6 11-1 10 3 21 10 7 1 10-3 21-11 10-2 11 2 17 6 10-4 4 1 3 2 7 10 7 17 17 68 11 34 7 17 7 11 6 8 4 1 3 0 18-9 7-5 3-5 10-21 21-56 7-12 4-4 7-4 6 1 14 4 7-1 4-2 7-6 20-26 7-5 4-1 7 0 20 10 11 1 10-4 24-15 11-5 7-1 7 1 6 2 18 8 10 1 11-3 20-16 7-2 4 0 3 0 7 4 14 11 7 5 7 2 3-1 7-3 14-12 7-5 7-2 7 2 21 18 6 2 4 0 7-5 17-18 7-4 3 0 7 5 21 30 4 4 3 1 4 0 3-1 7-7 17-26 7-5 4-1"/>
<path stroke="#A2142F" d="M2198 1003l17 0 25-7 7 0 10 1 17 7 7 0 7 0 17-5 11-1 20 8 7 1 4-1 14-15 3-1 4 0 3 1 7 9 7 20 21 88 10 37 7 17 3 6 4 5 3 2 4-1 3-3 56-93 10-15 10-12 11-8 10-5 11-2 17-1 10-3 7-4 17-15 7-4 4-1 7 1 21 10 6 1 4-1 7-4 21-22 6-3 4 0 7 3 21 20 7 3 3 0 7-3 24-15 14-3 14 0 10 1 11 3 17 8 10 2 11-2 24-14 7-2 7-1 7 1 10 4 31 15 11 1 10-3 21-13 7-1"/>
<path stroke="#0072BD" d="M2198 998l10-9 7-2 4 0 3 0 7 4 21 15 7 3 7 1 7-1 7-2 27-12 11-2 7 0 24 6 21 3 38 13 27 12 11 1 14-2 27-7 31-12 7-2 11 0 20 7 11 0 7-3 17-10 7-2 3 0 7 2 21 13 7 2 4-1 3-1 7-4 17-15 7-4 4 0 3-1 7 2 17 12 11 4 10-1 17-6 11-3 38-3 7 1 7 2 24 12 10 2 7-1 7-3 35-20 10-3 7 2 7 5 21 28 7 6 3 1 3-1 7-6 18-28 7-8"/>
<path stroke="#D95319" d="M2198 995l21 9 10 2 7-2 21-10 7-2 10 2 18 8 10 3 10-1 24-8 21 0 7 3 14 13 17 23 11 11 14 9 13 6 7 1 14-3 14-4 38-24 31-15 14-3 24 0 11-2 31-10 10-2 11-1 6 0 11 3 21 7 10 1 7-1 7-4 24-15 10-2 11 3 24 17 7 2 7 1 10-2 24-11 11-4 10-2 11-1 10 2 28 8 24 4 21 7 7 1 6-1 4-2 21-16 7-3"/>
<path stroke="#EDB120" d="M2198 988l7 4 14 13 7 4 3 0 4 0 7-5 17-17 7-3 3 0 4 2 7 6 17 24 7 5 3 1 4-1 7-6 20-30 7-5 7 0 7 5 18 24 10 10 3 2 7 0 18-7 7 0 6 4 21 21 7 3 4 0 7-5 6-10 11-20 7-10 7-6 3-1 4 1 7 6 13 19 7 8 7 4 7 1 7-3 7-6 28-32 7-5 6 0 4 2 7 7 14 22 7 9 3 3 4 1 3-1 3-3 7-10 18-37 7-9 3-1 3 0 4 3 3 4 18 32 7 9 3 2 4 0 3-2 7-6 14-15 3-3 7-2 7 1 10 4 7 1 7 0 14-4 7 1 10 5 18 13 7 3 3 0 7-3 24-17 7-2 11 0 17 6 28 15 6 2 4-1 3-1 7-5 18-22"/>
<path stroke="#7E2F8E" d="M2198 998l17-1 28 3 38-2 31 5 14 0 21-3 10-9 4-1 3 0 4 2 3 5 4 8 6 18 21 72 11 31 10 22 7 7 3 1 4-1 3-4 28-45 14-20 45-48 7-6 7-4 7-1 20 2 7 0 11-6 17-12 7-3 7 0 21 10 6 0 7-3 21-21 7-4 3 0 7 4 18 19 7 4 3 0 4-2 6-6 18-22 7-4 3 1 7 4 21 24 7 4 3 0 7-2 21-20 7-4 3-1 4-1 7 2 17 12 7 4 3 0 4 0 7-3 14-11 6-4 7-1 4 1 7 6 17 21 7 4 3 1 4-1 7-5 21-25"/>
<path stroke="#77AC30" d="M2198 998l14 4 7 0 7-1 17-10 7-1 7 2 21 20 7 3 3 0 7-4 17-19 7-3 4 0 7 2 24 19 3 2 7-1 7-4 7-9 7-18 14-45 7-19 7-12 3-2 4 0 3 2 7 9 7 12 17 37 7 10 4 3 3 1 3 0 4-1 17-17 7-4 4 0 3 2 7 6 21 30 7 5 3 1 4 0 6-3 18-15 7-3 3 1 4 1 7 5 17 17 7 3 7 0 7-4 20-21 7-3 4 0 3 2 7 6 21 30 7 5 3 0 4-1 7-8 17-28 7-6 3-1 4 1 3 2 7 8 14 20 7 6 3 1 4 1 7-3 21-17 10-4 10 0 21 6 10 1 11-1 17-7 7 0 3 0 7 4 18 17 7 5 3 1 4-1 6-4 14-16 7-7 7-2 4 0"/>
<path stroke="#4DBEEE" d="M2198 996l14-10 7-2 7 1 10 8 17 19 7 4 4 1 3 0 7-3 21-18 7-3 3 0 7 1 21 9 14 2 10 4 7 0 4-2 3-3 7-12 21-53 10-21 7-9 4-2 3 0 3 1 4 3 10 11 7 4 21 6 7 5 10 13 18 30 7 8 3 2 3 1 7-1 21-13 7-2 7 0 24 6 11 3 10 7 17 14 7 3 4 1 7-3 6-6 14-16 7-4 4-1 3 0 7 3 21 20 7 3 3 0 7-2 14-6 7-2 10 2 18 9 6 0 4 0 7-5 17-14 7-2 4 0 3 2 7 5 17 19 7 4 4 1 3-1 7-3 24-22 7-4 7 0 3 0 7 4 7 6 18 20 7 5 3 1 3 0 7-3 18-20 7-6"/>
<path stroke="#A2142F" d="M2198 1007l7 0 7-1 24-10 11-3 10 1 21 7 10 2 21-1 24 1 14-3 10 0 7-2 4-3 3-4 7-12 21-42 10-18 7-8 4-2 3-1 3 2 7 5 28 33 7 6 7 4 45 21 10 2 21-1 10 1 11 3 24 13 10 3 11-1 7-3 20-13 7-2 4 0 3 1 7 4 17 17 7 5 7 3 4 0 3-2 7-5 17-20 7-5 4 0 3 0 7 3 21 19 7 3 3 1 7-2 18-8 7-1 10 1 21 7 10 1 10-3 21-9 7-1 7 0 10 3 7 5 18 16 7 3 3 1 3-1 7-4 18-19 7-6"/>
<path stroke="#0072BD" d="M2198 1002l7 11 7 8 3 3 4 1 3 0 4-2 7-7 14-20 6-9 7-5 4-1 3 1 4 2 7 6 24 35 7 5 3 1 4 0 7-5 7-10 24-44 3-4 4-1 3 2 4 4 3 7 7 21 17 81 7 27 7 17 4 5 3 2 4 1 3-2 3-3 18-32 7-8 7-5 17-8 14-9 14-11 27-26 11-7 7-3 6-2 18-3 21-4 6-1 11 2 17 8 7 1 4 0 3-1 7-6 21-26 7-5 3-1 3 1 4 3 7 9 17 31 4 4 3 1 4 0 3-3 3-5 21-47 4-6 3-3 4-1 3 1 7 8 14 29 7 12 3 4 4 2 3 0 7-3 14-13 7-5 7-3 14-2 7-2 20-11 7 0 7 4 24 29 7 4 4 0 3-1 7-4 17-17 7-6 7-3 11-3"/>
<path stroke="#D95319" d="M2198 996l7-2 10 0 32 6 24 2 10-1 17-5 11-1 10 1 17 6 11 3 10-12 4-1 3 1 4 5 3 10 7 31 21 123 14 67 10 36 7 15 3 4 4-1 7-9 7-14 7-17 10-35 17-67 7-22 7-16 4-5 7-6 17-7 7-4 31-33 10-8 18-11 10-4 7 0 7 2 14 7 7 1 3-1 3-1 7-7 14-19 7-8 7-4 3 0 7 3 18 18 7 5 3 0 7-3 17-17 7-5 4-1 3 0 7 3 17 14 7 2 4 0 7-4 20-20 7-3 4 1 7 3 21 21 6 3 4-1 7-4 21-24 6-3 4 1 7 5 21 29 7 5 3 0 3-1 7-6 18-24 7-7"/>
<path stroke="#EDB120" d="M2198 1009l7-5 17-19 7-5 4-1 3 0 7 4 7 8 14 20 7 6 3 2 4 0 7-3 7-8 17-22 7-4 3-1 7 1 7 4 14 12 10 13 4 2 3 0 4-1 3-3 7-14 21-65 7-17 7-11 3-2 4-1 3 1 3 3 18 20 21 16 6 7 21 25 11 11 10 7 10 6 11 2 7-1 3-1 10-9 14-17 7-7 4-1 3-1 4 2 3 3 7 10 21 44 7 9 3 2 4 0 3-2 4-3 6-10 18-34 7-8 3-2 4 0 3 1 3 3 21 28 7 5 4 0 7-2 13-9 7-1 7 1 14 6 7-1 7-3 17-16 7-1 4 1 7 6 17 22 7 5 3 0 4-1 7-5 17-22 7-5 3-1 4 0 7 4 24 26 7 4 3 0 4-1 7-6 17-21 7-5 3-2 7 2 11 8"/>
<path stroke="#7E2F8E" d="M2198 998l21 4 10 1 11-1 20-5 11 0 7 1 20 7 11 2 10-2 17-5 11-2 17 5 7 0 7-3 7-5 21-26 7-7 7-3 3 0 7 3 21 24 7 5 3 1 7-1 21-12 7-1 3 0 7 3 17 14 11 6 3 1 7-1 7-2 17-10 7-3 7 0 7 0 7 3 31 16 11 2 10-3 7-5 17-14 7-3 3 0 4 1 7 5 14 17 7 7 7 3 6-3 7-6 14-16 7-5 4-1 7 2 20 15 11 3 7 0 20-5 28 1 24-7 11-1 10 3 24 16 7 2 4 0 3 0 7-3 17-14 7-4 7-2 4 0"/>
<path stroke="#77AC30" d="M2198 1024l7-7 21-33 7-6 3-1 4 1 7 6 6 13 14 29 7 10 4 1 3 0 4-2 3-4 17-33 7-9 4-2 3-1 7 3 14 15 7 5 3 0 4-2 14-7 3 0 7 1 7 6 7 11 21 43 10 19 10 12 4 2 3 1 4-1 7-6 27-41 11-10 3-3 7-1 7 0 14 5 7-1 3-2 4-4 7-9 17-30 3-4 4-1 3 0 4 2 3 4 21 44 3 4 4 3 3 0 4-2 7-10 14-33 7-13 3-4 3-3 4-1 3 1 4 2 17 19 7 6 7 3 7 1 7-1 7-4 7-6 17-19 7-3 3 0 4 1 7 8 17 28 3 3 4 1 3 0 4-3 14-21 7-9 3-2 4 1 3 2 3 5 18 32 3 3 4 2 3-1 4-3 3-5 17-38 4-5 3-4 4-1 3 1 4 4 3 6 21 47 3 6 4 3 3 0 4-1 7-8 17-36 7-12 3-3 4-2 3 0 4 2 7 8"/>
<path stroke="#4DBEEE" d="M2198 1005l17-13 7-3 4 0 3 1 7 3 21 16 7 2 3 0 7-2 21-14 7-3 3 0 4 0 7 3 17 11 7 2 3 1 4-1 14-19 3-2 4 0 3 2 7 11 7 25 21 111 10 47 7 21 3 7 4 4 3 0 4-4 3-7 31-83 7-15 7-12 11-12 24-16 24-27 7-7 7-3 7-2 24 2 10-2 11-5 21-13 10-3 7 0 17 3 7 0 28-5 27 0 21-6 7-1 11 3 17 8 7 1 7-2 20-13 7-3 4 0 7 3 17 13 7 3 3 0 4 0 7-4 14-15 7-6 6-2 4 0 7 5 21 28 7 4 3 0 3-1 7-8 18-24 7-5"/>
<path stroke="#A2142F" d="M2198 990l10-1 11 1 34 11 18 3 14-1 20-6 11-2 7 1 17 4 7 1 10 3 7-1 7-6 7-8 7-16 17-49 7-15 7-11 4-3 3-1 7 4 7 7 31 38 7 6 10 8 28 12 21 11 10 4 7 0 7-1 21-8 7 0 3 1 10 7 18 19 7 5 3 1 4 0 7-3 6-6 14-16 7-4 4-1 3 0 7 4 17 19 7 7 7 3 4 0 3-2 7-5 17-20 7-3 4 0 3 1 7 6 17 22 7 4 4 0 3-1 7-5 17-22 7-4 4-1 7 4 17 20 7 6 3 1 4 1 7-3 21-20 6-3 4 0 3 1 7 5 18 19 7 4 3 0 3-1 7-4 18-21 7-6"/>
<path stroke="#0072BD" d="M2198 999l17-1 25 4 10 1 10-3 18-6 10-2 10 2 21 10 11 1 17-5 10-13 4-1 3 1 4 3 3 7 7 19 28 117 14 50 10 29 7 11 3 2 4-2 7-13 10-27 17-52 7-17 7-13 7-8 21-12 7-6 7-10 20-33 7-8 4-2 3-2 7 0 21 8 7 1 7 1 10-2 11-4 7-4 24-22 7-4 3-1 4 0 6 3 21 18 7 4 4 0 3-1 7-4 17-15 7-3 4 0 7 1 13 7 7 2 7-1 18-6 7-1 3 1 7 3 17 11 7 1 4 0 7-3 20-18 7-4 4-1 3 0 7 1 24 16 11 3 10-1 21-7 14 0"/>
<path stroke="#D95319" d="M2198 1004l14-15 7-4 3 0 7 3 21 21 7 3 3 1 7-1 7-5 18-14 6-4 4 0 3 0 7 3 18 15 6 4 7 1 11 0 3-1 11-7 10-11 7-11 24-44 7-9 7-5 3 0 4 2 7 6 21 28 10 11 3 2 7 1 7-2 18-6 7 0 3 1 10 8 21 26 7 6 3 1 4 0 7-3 7-8 14-21 7-6 3-1 3 1 7 6 18 27 7 7 3 2 4 1 6-4 18-18 7-5 3-1 7 1 7 4 14 10 7 3 3 0 4 0 7-3 17-11 7-1 3 0 7 3 17 12 7 3 4 0 7-1 21-10 6-1 11 2 21 9 10 0 10-3 21-13 7-3 3 0 7 2 4 2 7 7 14 17 7 6 3 1 3-1 7-5 7-10 11-18 7-10"/>
<path stroke="#EDB120" d="M2198 976l7 6 21 23 7 4 3 1 4 0 7-3 20-14 7-3 11-1 20 8 11 1 7-3 17-10 14-5 3 1 4 3 3 6 7 17 7 21 14 52 3 11 7 16 4 6 7 7 13 9 7 2 4 0 21-8 10-7 10-12 14-19 31-46 11-14 10-9 10-6 7-2 7 0 7 1 4 2 3 3 7 9 14 23 7 9 3 2 4 1 3-3 4-4 7-17 17-59 7-15 3-3 4 0 3 4 4 6 20 59 7 12 4 2 3 0 4-2 3-4 17-32 11-13 10-6 7-2 11-1 6 2 7 3 7 7 18 24 7 6 3 1 7-1 14-10 7-4 7-1 13 3 7-2 7-5 14-14 4-2 3 0 3 1 7 9 18 34 3 5 4 2 3-1 4-3 3-5 21-49 3-5 4-2 3 0 4 2"/>
<path stroke="#7E2F8E" d="M2198 1007l14-16 7-4 3-1 4 0 7 4 17 18 7 4 3 0 7-2 18-14 7-4 3 0 7 1 21 14 10 4 7-1 7-1 10-13 4-3 3 0 4 2 3 5 10 26 28 106 11 36 10 25 3 5 4 3 3-1 4-4 3-7 24-55 11-19 28-36 24-36 7-7 7-4 3-1 7 0 21 5 10 0 10-4 32-21 13-5 14-3 11 0 10 1 21 5 7 1 10-3 17-11 11-4 3 0 7 2 17 11 7 3 4 0 10-3 18-10 10-2 10 4 18 10 10 3 7-2 7-3 21-16 6-2 4 0 3 1 7 4 21 21 7 3 3 0 4 0 7-4 21-19"/>
<path stroke="#77AC30" d="M2198 1009l17-19 7-5 4-1 3 0 7 3 7 5 21 19 7 5 7 1 3 0 7-4 7-6 14-18 7-5 3-2 4 0 7 2 17 17 3 1 11-3 3 0 4 1 3 4 7 14 7 18 24 85 7 21 7 14 3 5 4 1 3-1 7-10 31-63 7-12 7-10 7-8 11-8 24-12 10-4 7-2 21 0 7-1 7-3 17-11 10-4 45-8 7-1 7 2 21 9 7 2 3 0 4-1 7-4 20-22 7-5 4-1 3 0 7 3 7 6 17 21 7 4 4 1 3 0 7-4 7-7 14-18 7-6 3-1 4 0 7 3 7 7 14 17 6 4 4 1 7-3 7-7 14-18 6-6 4-1 3 0 7 4 21 25 7 5 3 1 4-1 7-2 21-19"/>
<path stroke="#4DBEEE" d="M2198 1007l7 0 7-3 17-14 7-3 4 0 3 1 7 6 17 25 7 5 4 0 3-1 7-7 17-25 4-2 3-2 4 0 7 5 17 20 7 3 3-2 14-19 4-2 3 0 7 6 3 5 7 17 11 37 17 78 7 26 7 17 3 5 4 1 3-3 4-7 21-64 10-23 3-5 7-6 18-4 7-5 6-9 18-29 7-8 3-2 4-1 6 2 18 14 7 3 3-1 7-4 17-23 7-6 4-1 7 1 17 13 7 3 7-3 17-16 7-3 7 2 17 13 7 3 7 0 14-7 7-2 7 1 14 6 7 1 6-2 14-9 7-2 7 1 14 7 7 2 3 0 7-3 18-15 7-4 3 0 7 2 17 14 11 6 27 6 7 1 7-2 7-5 7-10 17-27 4-3 3-2 4 1"/>
<path stroke="#A2142F" d="M2198 1004l14-19 3-3 4-1 3 0 7 5 18 21 6 4 4 1 7-3 17-17 7-4 4 0 6 2 18 10 7 2 7-2 17-14 7-12 3-4 4 0 3 3 4 7 3 13 7 36 17 116 11 58 3 16 7 23 7 14 3 5 4 1 3 0 4-5 14-31 24-45 10-26 18-47 7-15 3-5 7-7 7-3 14-1 7-4 3-4 7-12 17-36 7-9 4-3 3-1 4 1 3 2 21 25 7 4 3 0 4-1 7-5 6-10 14-23 7-8 7-4 4 0 3 2 7 6 17 25 7 6 4 1 3-1 7-7 21-33 3-3 4-1 3 0 7 4 21 29 3 2 4 2 3-1 7-6 17-28 7-7 4-2 3 0 4 2 3 4 21 36 3 3 4 3 3 0 4-2 7-9 14-28 6-12 4-3 3-2 4 1 3 3 4 5 21 47 3 6 3 3 4 1 3-1 4-3 3-6 18-40"/>
<path stroke="#0072BD" d="M2198 1008l28-23 7-3 3 0 4 1 7 4 20 21 7 4 4 1 3 0 7-2 17-13 11-4 10 0 21 6 14-3 7 2 10 9 7 11 14 29 27 70 7 10 4 2 3 0 4-4 7-11 20-49 7-13 4-4 3-3 7-2 18 6 6 0 4-1 10-8 18-19 6-6 7-5 11-4 10-1 7 1 7 3 17 9 11 3 3-1 7-3 24-20 11-4 10 1 24 7 11 0 24-2 31 6 10-1 18-4 7-1 31 4 21 0 10-1 7-2 7-3 17-12 7-2 7 2 3 3 7 8 18 26 6 6 4 0 3-1 7-8 18-29"/>
<path stroke="#D95319" d="M2198 984l7-1 7 2 24 20 7 3 7 1 10-2 32-13 10-2 10 1 24 15 7 2 4 0 10-15 4-3 3-1 4 1 3 5 4 8 3 8 3 13 25 122 10 44 7 21 7 15 3 6 4 3 3 0 4-3 3-6 14-28 31-79 7-16 7-12 7-9 10-11 25-22 13-9 28-9 28-11 10-2 17 1 7-1 31-13 11-1 17 2 11 0 20-4 28-2 31-9 7 0 7 2 7 4 17 11 7 3 7 2 4-1 6-3 7-6 21-25 7-5 3 0 4 1 7 6 7 11 10 19 7 10 4 3 3 2 3-1 4-2 3-4 18-29 7-8"/>
<path stroke="#EDB120" d="M2198 1000l10-5 7-1 7 1 18 7 10 2 10 0 21-5 11-1 10 2 21 6 10 0 7-2 7-3 10-16 4-3 3-2 4 1 3 4 4 6 3 8 3 13 28 146 7 27 4 10 3 7 3 3 4 0 3-4 4-8 24-66 7-17 7-12 3-5 7-6 7-3 14-4 10-6 7-8 21-32 7-7 3-2 4-1 7 0 17 6 7 0 4-1 6-4 18-14 7-3 3-1 7 1 17 8 7 2 4-1 7-2 20-14 7-3 7-1 11 1 20 3 25 8 10 1 7-1 21-10 7-2 10 2 17 8 7 0 11-4 17-13 7-2 3-1 4 1 7 3 24 16 10 3 11-1 27-12 7-1 11 0"/>
<path stroke="#7E2F8E" d="M2198 1002l10-7 7-2 4 1 7 2 17 10 7 2 3 0 11-4 17-11 7-2 4 0 6 2 21 13 7 3 10 0 11-4 10 1 7-3 11-11 3-2 3-6 7-24 14-66 7-28 7-18 4-4 3-2 3 3 4 5 14 26 14 21 38 45 14 14 6 5 7 3 31 7 59 21 11 1 7-1 24-11 7-1 3 0 4 1 7 5 20 21 7 3 4 0 3-1 7-5 17-18 7-4 4 0 7 4 17 19 7 5 3 0 7-3 14-14 7-6 7-2 3 1 7 5 18 18 7 4 3 1 7-3 21-16 10-5 7 1 7 2 24 16 11 4 3 0 7-3 17-11 11-4"/>
<path stroke="#77AC30" d="M2198 1012l7 1 7-3 7-7 17-22 7-5 4 0 3 1 7 5 21 30 7 5 3 1 4 0 6-4 18-20 7-5 3-2 7 0 7 1 7 4 10 0 4 1 7 6 10 11 3 5 25 58 20 45 7 13 4 5 3 2 4 0 3-1 7-6 7-11 21-47 7-13 3-4 4-3 7-3 7 2 10 3 7 0 3-1 4-2 7-8 17-27 7-9 7-5 3-1 4 0 7 3 17 16 7 4 7 3 3 0 4-1 7-3 7-6 17-17 10-7 7-1 7 2 7 5 14 12 7 3 3 0 4 0 7-5 13-16 7-7 7-2 4 1 7 4 17 18 7 3 3 1 7-3 18-14 6-4 4 0 7 2 17 12 7 2 4 1 3-1 7-3 21-13 10-2 10 4 7 4 21 18 7 3 3 1 7-1 7-6 18-21"/>
<path stroke="#4DBEEE" d="M2198 1011l4-1 6-3 25-19 7-3 3 0 7 1 7 5 17 16 7 5 7 1 4 0 3-2 7-5 17-19 7-5 4-1 6 2 7 6 4 5 10 20 4 5 3 3 4 1 3-3 7-16 7-28 21-101 7-22 3-6 4-3 3 1 3 5 4 7 24 69 7 14 7 7 7 2 17-3 7 3 7 6 17 21 7 5 7 0 21-11 7 1 7 4 17 17 7 5 3 1 4 1 7-1 17-7 11-3 10-1 10 0 11 3 7 3 20 14 7 2 4 0 3-1 7-5 17-19 7-4 4 0 3 1 7 6 17 23 7 5 4 0 7-2 7-8 14-17 6-6 4-1 3 1 7 4 21 26 7 6 3 0 4 0 7-5 21-32 6-7 4-1 3 1 4 2 3 4 7 13 14 28 7 9 3 2 4 0 3-3 4-4 7-12 14-30"/>
<path stroke="#A2142F" d="M2198 1031l4-2 6-8 18-31 7-11 7-6 3-1 4 0 6 3 21 20 11 9 10 5 10 3 11 0 7-2 7-4 17-16 3-1 14 3 4 0 3-3 7-9 7-11 10-23 21-59 7-13 3-4 4-1 3 3 4 5 21 43 7 10 3 4 7 3 14 2 7 3 7 6 17 19 7 5 3 1 7-1 17-8 7 0 4 2 7 6 21 27 6 6 4 1 3 0 7-2 21-17 10-4 11 0 17 4 21 3 10 5 18 12 6 2 4 0 7-1 17-10 7-2 7 1 14 5 7 1 3-1 7-4 14-10 7-3 3 0 7 4 18 18 7 5 3 0 7-4 17-22 7-6 4-1 3 0 7 5 21 31 7 4 3 0 4-1 6-6 14-20 7-7 7-5 4 0"/>
<path stroke="#0072BD" d="M2198 1005l7 1 10-2 32-13 10-2 7 1 7 4 17 12 7 4 10 1 11-3 20-12 11-1 7-7 3-2 4-1 3 3 4 4 3 7 7 19 7 29 21 106 10 48 10 37 7 16 4 4 3 0 4-4 7-15 10-29 21-64 10-25 7-13 11-14 24-24 20-22 11-9 7-4 10-2 21 1 10-1 11-4 27-15 14-5 14-2 21 2 10-1 7-2 17-10 7-2 4 0 7 3 20 14 7 1 4 0 7-4 21-18 6-3 4-1 7 3 7 5 17 16 7 4 3 0 4 0 7-4 21-20 6-4 4-1 3 0 7 4 21 22 7 4 3 1 4-1 7-3 21-18"/>
<path stroke="#D95319" d="M2198 992l7-4 3-1 7 1 25 15 10 2 7-1 17-5 11-2 10 1 24 4 11 0 17-2 10-5 7 0 7 4 7 8 21 35 14 19 13 13 7 4 4 1 3 0 7-4 28-23 10-8 52-25 24-6 21-8 11-2 10 2 17 10 7 2 4-1 3-2 7-7 17-22 7-5 4 0 3 1 4 2 6 8 14 21 7 6 4 1 3-1 7-5 21-31 7-5 3 0 4 1 7 6 13 18 7 8 4 2 7 2 7-3 20-14 11-3 10 2 21 9 10 0 11-4 17-13 7-2 3 0 7 4 25 28 6 3 4 0 3-1 7-6 18-21"/>
<path stroke="#EDB120" d="M2198 979l7-8 3-1 4 0 3 3 7 8 18 29 7 7 3 2 3 0 7-3 25-23 7-4 3-1 3 1 7 2 18 12 10 4 7 0 7-1 10 2 7-3 7-6 7-14 28-107 7-18 3-6 4-2 3 1 3 2 11 15 7 13 21 47 6 12 7 9 7 5 7 1 24-4 7 1 7 2 11 5 13 9 14 10 21 18 7 4 3 1 7-1 7-4 18-22 7-6 3-2 3 0 7 5 7 9 18 27 6 6 4 1 3-1 7-4 18-20 7-6 3-2 7-2 7 1 7 3 27 16 7 3 7 1 7-1 7-1 28-13 10-3 11 2 7 3 17 12 7 2 3 0 7-3 17-11 7-1 7 4 14 15 7 6 3 2 4 0 3-1 7-6 18-22"/>
</g></g>
<path d="M1142.3 676.9v-4.5M1142.3 389.0v4.5M1228.8 676.9v-4.5M1228.8 389.0v4.5M1315.3 676.9v-4.5M1315.3 389.0v4.5M1401.8 676.9v-4.5M1401.8 389.0v4.5M1099.9 410.4h4.5M1486.9 410.4h-4.5M1099.9 500.1h4.5M1486.9 500.1h-4.5M1099.9 589.9h4.5M1486.9 589.9h-4.5" stroke="#9a9a9a" stroke-width="1.4" fill="none"/>
<rect x="1099.9" y="389.0" width="387.0" height="287.9" fill="none" stroke="#a6a6a6" stroke-width="2.1"/>
<text x="102.2" y="22.7" text-anchor="end">600</text>
<text x="102.2" y="67.0" text-anchor="end">400</text>
<text x="102.2" y="111.3" text-anchor="end">200</text>
<text x="102.2" y="155.6" text-anchor="end">0</text>
<text x="102.2" y="199.9" text-anchor="end">−200</text>
<text x="102.2" y="244.2" text-anchor="end">−400</text>
<text x="102.2" y="288.5" text-anchor="end">−600</text>
<text x="160.0" y="342.5" text-anchor="middle">0</text>
<text x="245.5" y="342.5" text-anchor="middle">1</text>
<text x="332.0" y="342.5" text-anchor="middle">2</text>
<text x="417.7" y="342.5" text-anchor="middle">3</text>
<text x="503.4" y="342.5" text-anchor="middle">4</text>
<text x="595.2" y="21.7" text-anchor="end">200</text>
<text x="595.2" y="85.7" text-anchor="end">100</text>
<text x="595.2" y="149.8" text-anchor="end">0</text>
<text x="595.2" y="213.8" text-anchor="end">−100</text>
<text x="595.2" y="277.8" text-anchor="end">−200</text>
<text x="649.0" y="342.5" text-anchor="middle">0</text>
<text x="734.7" y="342.5" text-anchor="middle">1</text>
<text x="820.8" y="342.5" text-anchor="middle">2</text>
<text x="906.7" y="342.5" text-anchor="middle">3</text>
<text x="992.5" y="342.5" text-anchor="middle">4</text>
<text x="1086.0" y="21.7" text-anchor="end">200</text>
<text x="1086.0" y="85.8" text-anchor="end">100</text>
<text x="1086.0" y="150.0" text-anchor="end">0</text>
<text x="1086.0" y="214.1" text-anchor="end">−100</text>
<text x="1086.0" y="278.2" text-anchor="end">−200</text>
<text x="1143.0" y="342.5" text-anchor="middle">0</text>
<text x="1228.2" y="342.5" text-anchor="middle">1</text>
<text x="1314.0" y="342.5" text-anchor="middle">2</text>
<text x="1399.8" y="342.5" text-anchor="middle">3</text>
<text x="1485.4" y="342.5" text-anchor="middle">4</text>
<text x="102.4" y="398.5" text-anchor="end">40</text>
<text x="102.4" y="470.9" text-anchor="end">20</text>
<text x="102.4" y="543.3" text-anchor="end">0</text>
<text x="102.4" y="615.7" text-anchor="end">−20</text>
<text x="102.4" y="688.1" text-anchor="end">−40</text>
<text x="158.9" y="714.2" text-anchor="middle">0</text>
<text x="245.7" y="714.2" text-anchor="middle">1</text>
<text x="330.0" y="714.2" text-anchor="middle">2</text>
<text x="414.3" y="714.2" text-anchor="middle">3</text>
<text x="497.8" y="714.2" text-anchor="middle">4</text>
<text x="595.0" y="434.5" text-anchor="end">50</text>
<text x="595.0" y="522.0" text-anchor="end">0</text>
<text x="595.0" y="609.5" text-anchor="end">−50</text>
<text x="651.3" y="714.2" text-anchor="middle">0</text>
<text x="736.8" y="714.2" text-anchor="middle">1</text>
<text x="822.2" y="714.2" text-anchor="middle">2</text>
<text x="908.0" y="714.2" text-anchor="middle">3</text>
<text x="993.4" y="714.2" text-anchor="middle">4</text>
<text x="1085.8" y="420.9" text-anchor="end">20</text>
<text x="1085.8" y="510.6" text-anchor="end">0</text>
<text x="1085.8" y="600.4" text-anchor="end">−20</text>
<text x="1085.8" y="690.1" text-anchor="end">−40</text>
<text x="1143.0" y="714.2" text-anchor="middle">0</text>
<text x="1228.9" y="714.2" text-anchor="middle">1</text>
<text x="1315.5" y="714.2" text-anchor="middle">2</text>
<text x="1402.1" y="714.2" text-anchor="middle">3</text>
<text x="1488.0" y="714.2" text-anchor="middle">4</text>
<rect x="382.0" y="36.4" width="84" height="27" fill="#fff"/>
<text x="383.0" y="61.4" class="t">Tibial</text>
<rect x="875.5" y="36.5" width="80" height="27" fill="#fff"/>
<text x="876.5" y="61.5" class="t">Sural</text>
<rect x="1305.5" y="37.3" width="134" height="27" fill="#fff"/>
<text x="1306.5" y="62.3" class="t">Peroneal</text>
<rect x="379.0" y="413.8" width="84" height="27" fill="#fff"/>
<text x="380.0" y="438.8" class="t">Tibial</text>
<rect x="872.5" y="414.0" width="80" height="27" fill="#fff"/>
<text x="873.5" y="439.0" class="t">Sural</text>
<rect x="1301.7" y="414.8" width="134" height="27" fill="#fff"/>
<text x="1302.7" y="439.8" class="t">Peroneal</text>
<text x="309.0" y="758.2" text-anchor="middle" class="xl">Time, ms</text>
<text x="801.3" y="758.2" text-anchor="middle" class="xl">Time, ms</text>
<text x="1293.3" y="758.2" text-anchor="middle" class="xl">Time, ms</text>
<text class="yl" transform="translate(21,155) rotate(-90)" text-anchor="middle">CAPs, μV</text>
<text class="yl" transform="translate(36.7,533.2) rotate(-90)" text-anchor="middle">δV traces, μV</text>
</svg>
</body></html>
